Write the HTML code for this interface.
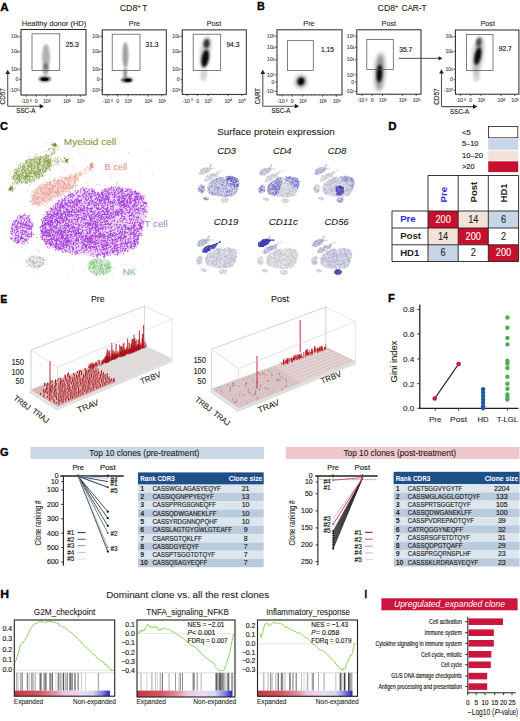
<!DOCTYPE html>
<html><head><meta charset="utf-8"><style>
html,body{margin:0;padding:0;background:#fff;}
svg{display:block;font-family:"Liberation Sans", sans-serif;}
</style></head><body>
<svg width="520" height="721" viewBox="0 0 520 721">
<defs>
<filter id="b1" x="-50%" y="-50%" width="200%" height="200%"><feGaussianBlur stdDeviation="1.2"/></filter>
<filter id="b2" x="-50%" y="-50%" width="200%" height="200%"><feGaussianBlur stdDeviation="2"/></filter>
<filter id="mb" x="-10%" y="-10%" width="120%" height="120%"><feGaussianBlur stdDeviation="1.6"/></filter>
<filter id="b05" x="-50%" y="-50%" width="200%" height="200%"><feGaussianBlur stdDeviation="0.6"/></filter>
<linearGradient id="gsea" x1="0" x2="1" y1="0" y2="0">
<stop offset="0" stop-color="#c83444"/><stop offset="0.25" stop-color="#d45462"/><stop offset="0.44" stop-color="#e298a8"/><stop offset="0.52" stop-color="#eec6e0"/><stop offset="0.7" stop-color="#eedaf0"/><stop offset="0.82" stop-color="#d6d6f4"/><stop offset="0.92" stop-color="#8080e0"/><stop offset="1" stop-color="#2424c4"/>
</linearGradient>
<g id="minigray"><path d="M108 240h0M90 202h0M99 227h0M124 195h0M127 194h0M107 193h0M61 200h0M98 235h0M138 206h0M78 196h0M71 229h0M75 207h0M130 220h0M73 220h0M117 188h0M122 247h0M79 227h0M59 241h0M76 210h0M97 242h0M49 240h0M127 249h0M106 253h0M76 253h0M99 207h0M73 197h0M83 201h0M104 246h0M89 215h0M132 193h0M109 243h0M49 216h0M54 247h0M70 218h0M92 239h0M91 205h0M83 194h0M94 209h0M126 249h0M78 243h0M125 236h0M112 241h0M78 237h0M69 220h0M124 236h0M111 227h0M65 234h0M90 245h0M110 244h0M76 232h0M121 246h0M77 247h0M136 236h0M96 223h0M56 247h0M143 220h0M115 238h0M120 196h0M126 227h0M113 215h0M108 242h0M109 238h0M87 233h0M62 235h0M91 200h0M73 197h0M90 212h0M106 228h0M64 252h0M69 214h0M50 246h0M107 190h0M99 209h0M130 215h0M129 232h0M79 194h0M105 226h0M106 210h0M49 226h0M107 194h0M108 251h0M80 216h0M63 205h0M105 203h0M84 208h0M70 219h0M51 230h0M87 206h0M126 246h0M126 202h0M106 219h0M110 229h0M121 192h0M123 206h0M98 209h0M71 224h0M90 211h0M122 228h0M89 253h0M138 225h0M86 227h0M117 231h0M92 252h0M81 213h0M134 198h0M71 246h0M116 216h0M70 243h0M140 194h0M91 225h0M93 208h0M54 228h0M63 246h0M127 234h0M117 187h0M133 200h0M118 194h0M54 230h0M84 196h0M49 212h0M102 240h0M137 193h0M86 207h0M105 220h0M144 212h0M43 236h0M54 231h0M94 252h0M100 230h0M67 225h0M66 240h0M96 193h0M64 211h0M121 197h0M118 233h0M47 234h0M104 201h0M137 220h0M74 244h0M130 194h0M108 210h0M64 209h0M107 210h0M81 194h0M131 232h0M128 216h0M134 223h0M104 227h0M121 213h0M138 220h0M90 251h0M107 216h0M90 191h0M80 213h0M137 195h0M66 204h0M55 205h0M64 220h0M115 234h0M91 255h0M50 234h0M70 234h0M120 196h0M78 207h0M90 205h0M120 238h0M110 216h0M96 210h0M139 221h0M66 214h0M57 222h0M83 224h0M49 224h0M142 229h0M134 200h0M92 227h0M80 231h0M119 253h0M72 217h0M131 200h0M47 242h0M130 207h0M86 227h0M117 187h0M60 205h0M79 191h0M85 207h0M122 226h0M139 233h0M123 227h0M87 245h0M120 237h0M67 245h0M80 193h0M67 235h0M124 226h0M52 210h0M106 201h0M86 211h0M103 246h0M119 191h0M97 196h0M118 217h0M141 218h0M86 217h0M105 191h0M129 215h0M92 250h0M82 200h0M68 199h0M101 210h0M122 202h0M77 202h0M133 230h0M82 194h0M131 220h0M48 238h0M139 198h0M127 208h0M115 249h0M108 244h0M95 228h0M58 213h0M72 212h0M91 237h0M116 234h0M98 244h0M78 228h0M114 223h0M103 241h0M118 207h0M142 204h0M118 189h0M123 234h0M115 247h0M121 230h0M61 223h0M139 201h0M81 197h0M111 252h0M140 230h0M81 192h0M115 225h0M118 212h0M138 199h0M72 204h0M108 251h0M56 231h0M124 200h0M44 226h0M120 215h0M85 223h0M140 206h0M69 229h0M101 229h0M104 232h0M115 239h0M44 220h0M73 248h0M110 254h0M63 236h0M132 219h0M54 230h0M49 241h0M121 245h0M128 237h0M79 218h0M114 240h0M47 214h0M99 212h0M50 229h0M79 235h0M123 238h0M91 210h0M121 253h0M80 205h0M94 236h0M127 227h0M71 209h0M133 223h0M64 234h0M48 220h0M81 254h0M47 210h0M124 211h0M89 212h0M87 219h0M82 242h0M86 228h0M139 232h0M84 250h0M123 251h0M54 243h0M85 204h0M90 205h0M113 193h0M56 218h0M105 194h0M58 216h0M67 241h0M79 242h0M54 223h0M110 212h0M79 220h0M64 226h0M67 225h0M120 193h0M92 237h0M85 222h0M106 243h0M43 221h0M71 217h0M111 253h0M79 224h0M71 196h0M88 239h0M97 213h0M142 206h0M100 246h0M53 210h0M93 226h0M61 218h0M76 194h0M147 203h0M68 243h0M121 203h0M131 231h0M81 231h0M65 203h0M136 217h0M139 197h0M121 226h0M131 221h0M104 192h0M119 230h0M106 200h0M44 235h0M89 233h0M138 238h0M45 232h0M133 192h0M123 203h0M123 222h0M139 219h0M85 230h0M111 197h0M53 221h0M115 217h0M102 253h0M93 224h0M139 225h0M112 215h0M126 247h0M66 210h0M138 203h0M108 232h0M124 209h0M49 231h0M133 228h0M81 232h0M119 203h0M83 208h0M118 214h0M71 197h0M139 222h0M49 215h0M101 205h0M49 222h0M90 191h0M124 192h0M87 204h0M86 199h0M95 253h0M80 231h0M141 208h0M129 223h0M144 219h0M87 253h0M102 221h0M69 240h0M66 219h0M123 229h0M116 239h0M47 217h0M107 248h0M56 236h0M49 227h0M66 210h0M43 238h0M51 241h0M75 228h0M110 220h0M69 209h0M137 193h0M85 215h0M111 241h0M144 207h0M134 233h0M85 247h0M114 209h0M120 222h0M118 230h0M127 195h0M127 242h0M98 220h0M64 246h0M111 213h0M110 201h0M112 227h0M121 222h0M86 207h0M120 212h0M105 241h0M87 235h0M132 194h0M124 191h0M89 217h0M128 219h0M127 242h0M108 247h0M107 238h0M134 230h0M48 211h0M71 239h0M81 196h0M115 200h0M83 218h0M89 242h0M116 249h0M115 241h0M127 215h0M112 233h0M137 237h0M87 198h0M74 202h0M114 242h0M59 224h0M132 211h0M48 229h0M78 194h0M54 216h0M99 256h0M132 208h0M44 229h0M123 220h0M128 218h0M141 229h0M98 196h0M85 217h0M130 201h0M70 245h0M45 224h0M62 234h0M104 190h0M120 214h0M73 248h0M125 207h0M114 193h0M110 253h0M95 219h0M87 195h0M69 217h0M45 234h0M65 205h0M143 205h0M76 199h0M114 218h0M74 235h0M88 249h0M69 203h0M130 221h0M76 222h0M133 227h0M88 233h0M107 214h0M85 193h0M87 250h0M72 211h0M105 228h0M57 217h0M49 241h0M46 231h0M69 233h0M55 209h0M116 222h0M134 247h0M107 248h0M57 219h0M73 231h0M79 243h0M81 248h0M122 238h0M89 204h0M57 215h0M143 214h0M66 230h0M87 230h0M89 205h0M112 202h0M94 227h0M94 252h0M125 207h0M75 230h0M42 221h0M68 223h0M62 218h0M72 202h0M126 203h0M56 204h0M119 221h0M133 248h0M120 239h0M140 226h0M81 227h0M67 218h0M65 211h0M132 240h0M104 208h0M82 207h0M109 248h0M30 222h0M24 219h0M27 232h0M16 237h0M11 232h0M28 237h0M22 242h0M26 236h0M21 231h0M18 228h0M23 241h0M16 231h0M25 235h0M17 221h0M21 233h0M26 216h0M20 231h0M22 222h0M13 225h0M18 236h0M14 221h0M15 228h0M22 216h0M27 237h0M21 230h0M22 235h0M17 236h0M18 233h0M25 235h0M28 236h0M14 233h0M29 219h0M22 230h0M28 239h0M20 231h0M26 230h0M12 229h0M25 236h0M17 239h0M23 235h0M32 170h0M39 172h0M24 170h0M51 163h0M23 180h0M20 175h0M31 164h0M21 166h0M26 162h0M23 174h0M33 163h0M16 179h0M44 171h0M49 164h0M50 168h0M29 171h0M30 164h0M23 179h0M21 167h0M33 176h0M40 171h0M40 165h0M32 161h0M48 169h0M23 177h0M18 168h0M32 179h0M48 169h0M49 163h0M25 165h0M33 166h0M22 167h0M37 169h0M42 168h0M25 167h0M22 179h0M32 159h0M20 175h0M26 163h0M23 173h0M32 170h0M40 169h0M37 173h0M18 167h0M40 164h0M26 168h0M41 161h0M36 175h0M23 183h0M37 177h0M16 181h0M23 174h0M43 164h0M22 165h0M31 172h0M39 162h0M36 173h0M32 167h0M31 166h0M44 172h0M33 178h0M34 173h0M16 177h0M44 166h0M16 178h0M19 175h0M41 163h0M45 173h0M42 168h0M36 164h0M20 172h0M37 170h0M39 174h0M28 162h0M40 166h0M26 176h0M39 170h0M46 164h0M25 178h0M40 168h0M49 160h0M46 171h0M39 175h0M48 159h0M32 178h0M22 177h0M20 174h0M21 170h0M40 164h0M36 171h0M45 172h0M38 172h0M31 163h0M30 161h0M42 166h0M31 176h0M22 173h0M34 168h0M51 162h0M26 181h0M18 168h0M40 171h0M33 162h0M44 162h0M49 169h0M34 162h0M43 166h0M22 167h0M26 173h0M40 176h0M65 162h0M52 164h0M63 159h0M55 161h0M49 163h0M50 161h0M56 161h0M51 160h0M54 163h0M58 162h0M52 155h0M48 157h0M50 155h0M53 148h0M55 151h0M43 161h0M54 152h0M54 146h0M54 153h0M53 152h0M54 152h0M49 151h0M53 184h0M71 177h0M61 186h0M53 193h0M75 181h0M70 187h0M38 202h0M59 180h0M46 192h0M57 183h0M65 182h0M48 197h0M48 201h0M40 187h0M60 183h0M64 182h0M68 185h0M74 188h0M45 189h0M74 178h0M46 199h0M52 196h0M55 186h0M36 203h0M44 186h0M67 183h0M54 189h0M39 190h0M38 196h0M66 185h0M42 187h0M51 187h0M36 203h0M62 185h0M65 182h0M68 183h0M66 176h0M57 185h0M53 183h0M51 191h0M74 185h0M61 179h0M54 184h0M54 195h0M64 182h0M40 187h0M55 186h0M52 198h0M55 187h0M59 182h0M64 188h0M66 185h0M62 179h0M54 190h0M36 202h0M56 193h0M62 190h0M46 199h0M62 180h0M56 179h0M56 194h0M53 181h0M52 185h0M41 201h0M49 193h0M51 191h0M67 183h0M36 194h0M42 185h0M52 192h0M44 192h0M43 187h0M72 187h0M66 188h0M49 201h0M44 194h0M36 199h0M32 201h0M43 200h0M55 181h0M81 171h0M77 175h0M74 179h0M75 174h0M75 174h0M73 177h0M80 174h0M91 167h0M72 178h0M92 167h0M101 267h0M94 274h0M93 273h0M93 272h0M104 263h0M90 265h0M106 263h0M102 260h0M102 266h0M97 272h0M102 271h0M98 264h0M95 261h0M94 272h0M99 272h0M88 269h0M109 262h0M108 273h0M110 266h0M106 272h0M109 267h0M111 267h0M89 269h0M89 263h0M102 267h0M104 274h0M95 273h0M94 269h0M102 265h0M109 265h0M27 259h0M43 265h0M33 266h0M40 263h0M43 263h0M37 258h0M28 261h0M30 262h0M45 263h0M40 266h0M39 258h0M39 266h0M38 259h0M35 263h0M37 260h0M30 261h0M38 264h0M28 259h0M33 260h0M42 266h0" stroke="#c6c6cc" stroke-width="2.8" stroke-linecap="round" fill="none"/></g>
<g id="minibase"><polygon points="41.5,222.3 46.0,211.5 58.5,200.8 70.8,193.0 83.0,188.5 92.0,188.0 99.0,193.0 106.0,188.0 117.0,186.3 132.3,190.0 144.6,196.2 147.5,205.4 145.5,219.2 141.5,234.6 135.4,247.0 123.0,253.0 101.5,256.2 80.0,254.6 61.5,251.5 46.0,245.4 40.0,234.6" fill="#ebebef" filter="url(#b2)"/><polygon points="11.0,228.0 15.0,219.0 22.0,214.0 29.0,216.0 33.0,224.0 32.0,235.0 26.0,243.0 17.0,244.0 11.0,238.0" fill="#ebebef" filter="url(#b2)"/><polygon points="50.7,160.5 51.3,163.8 49.9,167.8 46.9,172.0 42.3,176.0 36.8,179.4 30.8,181.8 24.9,183.2 19.7,183.2 15.7,182.0 13.3,179.5 12.7,176.2 14.1,172.2 17.1,168.0 21.7,164.0 27.2,160.6 33.2,158.2 39.1,156.8 44.3,156.8 48.3,158.0" fill="#ebebef" filter="url(#b2)"/><polygon points="47.0,160.0 58.0,159.0 66.0,159.0 67.0,162.0 58.0,163.0 47.0,165.0" fill="#ebebef" filter="url(#b2)"/><polygon points="42.0,162.0 48.0,152.0 53.0,145.0 57.0,145.0 55.0,152.0 49.0,163.0" fill="#ebebef" filter="url(#b2)"/><polygon points="31.5,203.0 32.5,193.0 41.0,185.0 55.4,179.5 70.8,175.0 78.0,178.5 76.0,187.0 63.0,194.0 50.0,200.5 39.0,206.5" fill="#ebebef" filter="url(#b2)"/><polygon points="70.0,176.5 80.0,171.5 89.0,166.0 92.0,165.0 93.0,167.5 84.0,173.0 76.0,180.0" fill="#ebebef" filter="url(#b2)"/><polygon points="88.0,262.0 94.0,259.0 104.0,258.5 111.0,262.0 112.0,270.0 106.0,275.0 95.0,275.0 88.0,270.0" fill="#ebebef" filter="url(#b2)"/><polygon points="26.0,259.0 33.0,256.0 43.0,257.0 46.0,262.0 42.0,267.0 33.0,268.0 27.0,265.0" fill="#ebebef" filter="url(#b2)"/></g>
</defs>
<rect x="0" y="0" width="520" height="721" fill="#fff"/>
<text x="0.3" y="10.6" font-size="11.8" font-weight="bold" fill="#000" stroke="#000" stroke-width="0.35" textLength="8.4" lengthAdjust="spacingAndGlyphs">A</text>
<text x="257" y="10.4" font-size="11.8" font-weight="bold" fill="#000" stroke="#000" stroke-width="0.35" textLength="7.8" lengthAdjust="spacingAndGlyphs">B</text>
<text x="119.8" y="11.2" font-size="8.3" fill="#231f20" stroke="#231f20" stroke-width="0.1" textLength="17.5" lengthAdjust="spacingAndGlyphs">CD8</text>
<text x="137.5" y="7.5" font-size="5" fill="#231f20" stroke="#231f20" stroke-width="0.16">+</text>
<text x="142.2" y="11.2" font-size="8.3" fill="#231f20" stroke="#231f20" stroke-width="0.1">T</text>
<text x="377.6" y="11.2" font-size="8.3" fill="#231f20" stroke="#231f20" stroke-width="0.1" textLength="17.5" lengthAdjust="spacingAndGlyphs">CD8</text>
<text x="395.3" y="7.5" font-size="5" fill="#231f20" stroke="#231f20" stroke-width="0.16">+</text>
<text x="401.5" y="11.2" font-size="8.3" fill="#231f20" stroke="#231f20" stroke-width="0.1" textLength="25" lengthAdjust="spacingAndGlyphs">CAR-T</text>
<ellipse cx="46" cy="57" rx="4.0" ry="13" fill="#000" opacity="0.3" filter="url(#b1)" transform="rotate(0 46 57)"/>
<ellipse cx="45.6" cy="69" rx="3.2" ry="6" fill="#000" opacity="0.35" filter="url(#b1)" transform="rotate(0 45.6 69)"/>
<ellipse cx="44.8" cy="79" rx="6.2" ry="2.8" fill="#000" opacity="0.7" filter="url(#b1)" transform="rotate(0 44.8 79)"/>
<ellipse cx="44.6" cy="79.2" rx="3.6" ry="1.6" fill="#000" opacity="1.0" filter="url(#b05)" transform="rotate(0 44.6 79.2)"/>
<rect x="21" y="29.5" width="65" height="65.5" fill="none" stroke="#262626" stroke-width="1"/>
<rect x="32" y="33.8" width="27.700000000000003" height="36.7" fill="none" stroke="#555" stroke-width="0.75"/>
<text x="65.7" y="46.8" font-size="6.7" fill="#231f20" stroke="#231f20" stroke-width="0.16">25.3</text>
<text x="54" y="25.5" font-size="7.6" text-anchor="middle" fill="#231f20" stroke="#231f20" stroke-width="0.1" textLength="64.5" lengthAdjust="spacingAndGlyphs">Healthy donor (HD)</text>
<line x1="19.2" y1="36.4" x2="21" y2="36.4" stroke="#333" stroke-width="0.8"/>
<text x="18.4" y="37.6" font-size="3.12" text-anchor="end" fill="#555" stroke="#555" stroke-width="0.16">5</text>
<text x="16.799999999999997" y="38.0" font-size="5.2" text-anchor="end" fill="#555" stroke="#555" stroke-width="0.16">10</text>
<line x1="19.2" y1="51.7" x2="21" y2="51.7" stroke="#333" stroke-width="0.8"/>
<text x="18.4" y="52.900000000000006" font-size="3.12" text-anchor="end" fill="#555" stroke="#555" stroke-width="0.16">4</text>
<text x="16.799999999999997" y="53.300000000000004" font-size="5.2" text-anchor="end" fill="#555" stroke="#555" stroke-width="0.16">10</text>
<line x1="19.2" y1="69.3" x2="21" y2="69.3" stroke="#333" stroke-width="0.8"/>
<text x="18.4" y="70.5" font-size="3.12" text-anchor="end" fill="#555" stroke="#555" stroke-width="0.16">3</text>
<text x="16.799999999999997" y="70.89999999999999" font-size="5.2" text-anchor="end" fill="#555" stroke="#555" stroke-width="0.16">10</text>
<line x1="19.2" y1="79.7" x2="21" y2="79.7" stroke="#333" stroke-width="0.8"/>
<text x="18.4" y="81.3" font-size="5.2" text-anchor="end" fill="#555" stroke="#555" stroke-width="0.16">0</text>
<line x1="19.2" y1="90.0" x2="21" y2="90.0" stroke="#333" stroke-width="0.8"/>
<text x="18.4" y="91.2" font-size="3.12" text-anchor="end" fill="#555" stroke="#555" stroke-width="0.16">3</text>
<text x="16.799999999999997" y="91.6" font-size="5.2" text-anchor="end" fill="#555" stroke="#555" stroke-width="0.16">-10</text>
<line x1="20.0" y1="32.5" x2="21" y2="32.5" stroke="#555" stroke-width="0.5"/>
<line x1="20.0" y1="37.07692307692308" x2="21" y2="37.07692307692308" stroke="#555" stroke-width="0.5"/>
<line x1="20.0" y1="41.65384615384615" x2="21" y2="41.65384615384615" stroke="#555" stroke-width="0.5"/>
<line x1="20.0" y1="46.230769230769226" x2="21" y2="46.230769230769226" stroke="#555" stroke-width="0.5"/>
<line x1="20.0" y1="50.80769230769231" x2="21" y2="50.80769230769231" stroke="#555" stroke-width="0.5"/>
<line x1="20.0" y1="55.38461538461539" x2="21" y2="55.38461538461539" stroke="#555" stroke-width="0.5"/>
<line x1="20.0" y1="59.96153846153846" x2="21" y2="59.96153846153846" stroke="#555" stroke-width="0.5"/>
<line x1="20.0" y1="64.53846153846155" x2="21" y2="64.53846153846155" stroke="#555" stroke-width="0.5"/>
<line x1="20.0" y1="69.11538461538461" x2="21" y2="69.11538461538461" stroke="#555" stroke-width="0.5"/>
<line x1="20.0" y1="73.6923076923077" x2="21" y2="73.6923076923077" stroke="#555" stroke-width="0.5"/>
<line x1="20.0" y1="78.26923076923077" x2="21" y2="78.26923076923077" stroke="#555" stroke-width="0.5"/>
<line x1="20.0" y1="82.84615384615384" x2="21" y2="82.84615384615384" stroke="#555" stroke-width="0.5"/>
<line x1="20.0" y1="87.42307692307692" x2="21" y2="87.42307692307692" stroke="#555" stroke-width="0.5"/>
<line x1="20.0" y1="92.0" x2="21" y2="92.0" stroke="#555" stroke-width="0.5"/>
<line x1="26" y1="95" x2="26" y2="96.8" stroke="#333" stroke-width="0.8"/>
<text x="21.109999999999996" y="103.19999999999999" font-size="5.2" fill="#555" stroke="#555" stroke-width="0.16">-10</text>
<text x="29.689999999999998" y="101.8" font-size="3.12" fill="#555" stroke="#555" stroke-width="0.16">3</text>
<line x1="36.3" y1="95" x2="36.3" y2="96.8" stroke="#333" stroke-width="0.8"/>
<text x="36.3" y="103.19999999999999" font-size="5.2" text-anchor="middle" fill="#555" stroke="#555" stroke-width="0.16">0</text>
<line x1="46.7" y1="95" x2="46.7" y2="96.8" stroke="#333" stroke-width="0.8"/>
<text x="43.24" y="103.19999999999999" font-size="5.2" fill="#555" stroke="#555" stroke-width="0.16">10</text>
<text x="48.96" y="101.8" font-size="3.12" fill="#555" stroke="#555" stroke-width="0.16">3</text>
<line x1="66.6" y1="95" x2="66.6" y2="96.8" stroke="#333" stroke-width="0.8"/>
<text x="63.14" y="103.19999999999999" font-size="5.2" fill="#555" stroke="#555" stroke-width="0.16">10</text>
<text x="68.86" y="101.8" font-size="3.12" fill="#555" stroke="#555" stroke-width="0.16">4</text>
<line x1="80.4" y1="95" x2="80.4" y2="96.8" stroke="#333" stroke-width="0.8"/>
<text x="76.94000000000001" y="103.19999999999999" font-size="5.2" fill="#555" stroke="#555" stroke-width="0.16">10</text>
<text x="82.66000000000001" y="101.8" font-size="3.12" fill="#555" stroke="#555" stroke-width="0.16">5</text>
<line x1="24.0" y1="95" x2="24.0" y2="96.0" stroke="#555" stroke-width="0.5"/>
<line x1="27.933333333333334" y1="95" x2="27.933333333333334" y2="96.0" stroke="#555" stroke-width="0.5"/>
<line x1="31.866666666666667" y1="95" x2="31.866666666666667" y2="96.0" stroke="#555" stroke-width="0.5"/>
<line x1="35.8" y1="95" x2="35.8" y2="96.0" stroke="#555" stroke-width="0.5"/>
<line x1="39.733333333333334" y1="95" x2="39.733333333333334" y2="96.0" stroke="#555" stroke-width="0.5"/>
<line x1="43.66666666666667" y1="95" x2="43.66666666666667" y2="96.0" stroke="#555" stroke-width="0.5"/>
<line x1="47.6" y1="95" x2="47.6" y2="96.0" stroke="#555" stroke-width="0.5"/>
<line x1="51.53333333333333" y1="95" x2="51.53333333333333" y2="96.0" stroke="#555" stroke-width="0.5"/>
<line x1="55.46666666666667" y1="95" x2="55.46666666666667" y2="96.0" stroke="#555" stroke-width="0.5"/>
<line x1="59.4" y1="95" x2="59.4" y2="96.0" stroke="#555" stroke-width="0.5"/>
<line x1="63.333333333333336" y1="95" x2="63.333333333333336" y2="96.0" stroke="#555" stroke-width="0.5"/>
<line x1="67.26666666666667" y1="95" x2="67.26666666666667" y2="96.0" stroke="#555" stroke-width="0.5"/>
<line x1="71.2" y1="95" x2="71.2" y2="96.0" stroke="#555" stroke-width="0.5"/>
<line x1="75.13333333333333" y1="95" x2="75.13333333333333" y2="96.0" stroke="#555" stroke-width="0.5"/>
<line x1="79.06666666666666" y1="95" x2="79.06666666666666" y2="96.0" stroke="#555" stroke-width="0.5"/>
<line x1="83.0" y1="95" x2="83.0" y2="96.0" stroke="#555" stroke-width="0.5"/>
<ellipse cx="125.4" cy="55" rx="3.0" ry="13" fill="#000" opacity="0.38" filter="url(#b1)" transform="rotate(0 125.4 55)"/>
<ellipse cx="125.2" cy="73" rx="1.8" ry="5" fill="#000" opacity="0.45" filter="url(#b1)" transform="rotate(0 125.2 73)"/>
<ellipse cx="127" cy="80" rx="6.0" ry="2.6" fill="#000" opacity="0.75" filter="url(#b1)" transform="rotate(0 127 80)"/>
<ellipse cx="128" cy="80.2" rx="3.2" ry="1.5" fill="#000" opacity="1.0" filter="url(#b05)" transform="rotate(0 128 80.2)"/>
<rect x="102.3" y="29.9" width="64.00000000000001" height="64.80000000000001" fill="none" stroke="#262626" stroke-width="1"/>
<rect x="112.2" y="34.2" width="27.799999999999997" height="36.3" fill="none" stroke="#555" stroke-width="0.75"/>
<text x="145.5" y="47" font-size="6.7" fill="#231f20" stroke="#231f20" stroke-width="0.16">31.3</text>
<text x="134.5" y="25.5" font-size="7.6" text-anchor="middle" fill="#231f20" stroke="#231f20" stroke-width="0.1" textLength="11.3" lengthAdjust="spacingAndGlyphs">Pre</text>
<line x1="100.5" y1="36.4" x2="102.3" y2="36.4" stroke="#333" stroke-width="0.8"/>
<text x="99.7" y="37.6" font-size="3.12" text-anchor="end" fill="#555" stroke="#555" stroke-width="0.16">5</text>
<text x="98.10000000000001" y="38.0" font-size="5.2" text-anchor="end" fill="#555" stroke="#555" stroke-width="0.16">10</text>
<line x1="100.5" y1="51.7" x2="102.3" y2="51.7" stroke="#333" stroke-width="0.8"/>
<text x="99.7" y="52.900000000000006" font-size="3.12" text-anchor="end" fill="#555" stroke="#555" stroke-width="0.16">4</text>
<text x="98.10000000000001" y="53.300000000000004" font-size="5.2" text-anchor="end" fill="#555" stroke="#555" stroke-width="0.16">10</text>
<line x1="100.5" y1="69.3" x2="102.3" y2="69.3" stroke="#333" stroke-width="0.8"/>
<text x="99.7" y="70.5" font-size="3.12" text-anchor="end" fill="#555" stroke="#555" stroke-width="0.16">3</text>
<text x="98.10000000000001" y="70.89999999999999" font-size="5.2" text-anchor="end" fill="#555" stroke="#555" stroke-width="0.16">10</text>
<line x1="100.5" y1="79.7" x2="102.3" y2="79.7" stroke="#333" stroke-width="0.8"/>
<text x="99.7" y="81.3" font-size="5.2" text-anchor="end" fill="#555" stroke="#555" stroke-width="0.16">0</text>
<line x1="100.5" y1="90.0" x2="102.3" y2="90.0" stroke="#333" stroke-width="0.8"/>
<text x="99.7" y="91.2" font-size="3.12" text-anchor="end" fill="#555" stroke="#555" stroke-width="0.16">3</text>
<text x="98.10000000000001" y="91.6" font-size="5.2" text-anchor="end" fill="#555" stroke="#555" stroke-width="0.16">-10</text>
<line x1="101.3" y1="32.9" x2="102.3" y2="32.9" stroke="#555" stroke-width="0.5"/>
<line x1="101.3" y1="37.42307692307692" x2="102.3" y2="37.42307692307692" stroke="#555" stroke-width="0.5"/>
<line x1="101.3" y1="41.94615384615385" x2="102.3" y2="41.94615384615385" stroke="#555" stroke-width="0.5"/>
<line x1="101.3" y1="46.46923076923077" x2="102.3" y2="46.46923076923077" stroke="#555" stroke-width="0.5"/>
<line x1="101.3" y1="50.99230769230769" x2="102.3" y2="50.99230769230769" stroke="#555" stroke-width="0.5"/>
<line x1="101.3" y1="55.51538461538462" x2="102.3" y2="55.51538461538462" stroke="#555" stroke-width="0.5"/>
<line x1="101.3" y1="60.03846153846155" x2="102.3" y2="60.03846153846155" stroke="#555" stroke-width="0.5"/>
<line x1="101.3" y1="64.56153846153846" x2="102.3" y2="64.56153846153846" stroke="#555" stroke-width="0.5"/>
<line x1="101.3" y1="69.08461538461539" x2="102.3" y2="69.08461538461539" stroke="#555" stroke-width="0.5"/>
<line x1="101.3" y1="73.6076923076923" x2="102.3" y2="73.6076923076923" stroke="#555" stroke-width="0.5"/>
<line x1="101.3" y1="78.13076923076923" x2="102.3" y2="78.13076923076923" stroke="#555" stroke-width="0.5"/>
<line x1="101.3" y1="82.65384615384616" x2="102.3" y2="82.65384615384616" stroke="#555" stroke-width="0.5"/>
<line x1="101.3" y1="87.17692307692309" x2="102.3" y2="87.17692307692309" stroke="#555" stroke-width="0.5"/>
<line x1="101.3" y1="91.7" x2="102.3" y2="91.7" stroke="#555" stroke-width="0.5"/>
<line x1="107.3" y1="94.7" x2="107.3" y2="96.5" stroke="#333" stroke-width="0.8"/>
<text x="102.41000000000001" y="102.89999999999999" font-size="5.2" fill="#555" stroke="#555" stroke-width="0.16">-10</text>
<text x="110.99000000000001" y="101.5" font-size="3.12" fill="#555" stroke="#555" stroke-width="0.16">3</text>
<line x1="117.6" y1="94.7" x2="117.6" y2="96.5" stroke="#333" stroke-width="0.8"/>
<text x="117.6" y="102.89999999999999" font-size="5.2" text-anchor="middle" fill="#555" stroke="#555" stroke-width="0.16">0</text>
<line x1="128.0" y1="94.7" x2="128.0" y2="96.5" stroke="#333" stroke-width="0.8"/>
<text x="124.54000000000002" y="102.89999999999999" font-size="5.2" fill="#555" stroke="#555" stroke-width="0.16">10</text>
<text x="130.26000000000002" y="101.5" font-size="3.12" fill="#555" stroke="#555" stroke-width="0.16">3</text>
<line x1="147.9" y1="94.7" x2="147.9" y2="96.5" stroke="#333" stroke-width="0.8"/>
<text x="144.44000000000003" y="102.89999999999999" font-size="5.2" fill="#555" stroke="#555" stroke-width="0.16">10</text>
<text x="150.16000000000003" y="101.5" font-size="3.12" fill="#555" stroke="#555" stroke-width="0.16">4</text>
<line x1="161.7" y1="94.7" x2="161.7" y2="96.5" stroke="#333" stroke-width="0.8"/>
<text x="158.24" y="102.89999999999999" font-size="5.2" fill="#555" stroke="#555" stroke-width="0.16">10</text>
<text x="163.96" y="101.5" font-size="3.12" fill="#555" stroke="#555" stroke-width="0.16">5</text>
<line x1="105.3" y1="94.7" x2="105.3" y2="95.7" stroke="#555" stroke-width="0.5"/>
<line x1="109.16666666666667" y1="94.7" x2="109.16666666666667" y2="95.7" stroke="#555" stroke-width="0.5"/>
<line x1="113.03333333333333" y1="94.7" x2="113.03333333333333" y2="95.7" stroke="#555" stroke-width="0.5"/>
<line x1="116.9" y1="94.7" x2="116.9" y2="95.7" stroke="#555" stroke-width="0.5"/>
<line x1="120.76666666666667" y1="94.7" x2="120.76666666666667" y2="95.7" stroke="#555" stroke-width="0.5"/>
<line x1="124.63333333333333" y1="94.7" x2="124.63333333333333" y2="95.7" stroke="#555" stroke-width="0.5"/>
<line x1="128.5" y1="94.7" x2="128.5" y2="95.7" stroke="#555" stroke-width="0.5"/>
<line x1="132.36666666666667" y1="94.7" x2="132.36666666666667" y2="95.7" stroke="#555" stroke-width="0.5"/>
<line x1="136.23333333333335" y1="94.7" x2="136.23333333333335" y2="95.7" stroke="#555" stroke-width="0.5"/>
<line x1="140.1" y1="94.7" x2="140.1" y2="95.7" stroke="#555" stroke-width="0.5"/>
<line x1="143.96666666666667" y1="94.7" x2="143.96666666666667" y2="95.7" stroke="#555" stroke-width="0.5"/>
<line x1="147.83333333333334" y1="94.7" x2="147.83333333333334" y2="95.7" stroke="#555" stroke-width="0.5"/>
<line x1="151.70000000000002" y1="94.7" x2="151.70000000000002" y2="95.7" stroke="#555" stroke-width="0.5"/>
<line x1="155.56666666666666" y1="94.7" x2="155.56666666666666" y2="95.7" stroke="#555" stroke-width="0.5"/>
<line x1="159.43333333333334" y1="94.7" x2="159.43333333333334" y2="95.7" stroke="#555" stroke-width="0.5"/>
<line x1="163.3" y1="94.7" x2="163.3" y2="95.7" stroke="#555" stroke-width="0.5"/>
<ellipse cx="206.6" cy="43.5" rx="3.0" ry="4.5" fill="#000" opacity="0.75" filter="url(#b1)" transform="rotate(8 206.6 43.5)"/>
<ellipse cx="205.2" cy="58.5" rx="3.6" ry="9" fill="#000" opacity="0.95" filter="url(#b1)" transform="rotate(10 205.2 58.5)"/>
<ellipse cx="205.5" cy="52" rx="4.5" ry="16" fill="#000" opacity="0.25" filter="url(#b2)" transform="rotate(8 205.5 52)"/>
<ellipse cx="203.8" cy="75" rx="3.6" ry="6" fill="#000" opacity="0.16" filter="url(#b1)" transform="rotate(6 203.8 75)"/>
<rect x="182.3" y="29.9" width="64.0" height="64.5" fill="none" stroke="#262626" stroke-width="1"/>
<rect x="193.2" y="34.2" width="27.5" height="36.3" fill="none" stroke="#555" stroke-width="0.75"/>
<text x="226.4" y="47" font-size="6.7" fill="#231f20" stroke="#231f20" stroke-width="0.16">94.3</text>
<text x="214" y="25.5" font-size="7.6" text-anchor="middle" fill="#231f20" stroke="#231f20" stroke-width="0.1" textLength="14.5" lengthAdjust="spacingAndGlyphs">Post</text>
<line x1="180.5" y1="36.4" x2="182.3" y2="36.4" stroke="#333" stroke-width="0.8"/>
<text x="179.70000000000002" y="37.6" font-size="3.12" text-anchor="end" fill="#555" stroke="#555" stroke-width="0.16">5</text>
<text x="178.10000000000002" y="38.0" font-size="5.2" text-anchor="end" fill="#555" stroke="#555" stroke-width="0.16">10</text>
<line x1="180.5" y1="51.7" x2="182.3" y2="51.7" stroke="#333" stroke-width="0.8"/>
<text x="179.70000000000002" y="52.900000000000006" font-size="3.12" text-anchor="end" fill="#555" stroke="#555" stroke-width="0.16">4</text>
<text x="178.10000000000002" y="53.300000000000004" font-size="5.2" text-anchor="end" fill="#555" stroke="#555" stroke-width="0.16">10</text>
<line x1="180.5" y1="69.3" x2="182.3" y2="69.3" stroke="#333" stroke-width="0.8"/>
<text x="179.70000000000002" y="70.5" font-size="3.12" text-anchor="end" fill="#555" stroke="#555" stroke-width="0.16">3</text>
<text x="178.10000000000002" y="70.89999999999999" font-size="5.2" text-anchor="end" fill="#555" stroke="#555" stroke-width="0.16">10</text>
<line x1="180.5" y1="79.7" x2="182.3" y2="79.7" stroke="#333" stroke-width="0.8"/>
<text x="179.70000000000002" y="81.3" font-size="5.2" text-anchor="end" fill="#555" stroke="#555" stroke-width="0.16">0</text>
<line x1="180.5" y1="90.0" x2="182.3" y2="90.0" stroke="#333" stroke-width="0.8"/>
<text x="179.70000000000002" y="91.2" font-size="3.12" text-anchor="end" fill="#555" stroke="#555" stroke-width="0.16">3</text>
<text x="178.10000000000002" y="91.6" font-size="5.2" text-anchor="end" fill="#555" stroke="#555" stroke-width="0.16">-10</text>
<line x1="181.3" y1="32.9" x2="182.3" y2="32.9" stroke="#555" stroke-width="0.5"/>
<line x1="181.3" y1="37.4" x2="182.3" y2="37.4" stroke="#555" stroke-width="0.5"/>
<line x1="181.3" y1="41.9" x2="182.3" y2="41.9" stroke="#555" stroke-width="0.5"/>
<line x1="181.3" y1="46.4" x2="182.3" y2="46.4" stroke="#555" stroke-width="0.5"/>
<line x1="181.3" y1="50.9" x2="182.3" y2="50.9" stroke="#555" stroke-width="0.5"/>
<line x1="181.3" y1="55.4" x2="182.3" y2="55.4" stroke="#555" stroke-width="0.5"/>
<line x1="181.3" y1="59.9" x2="182.3" y2="59.9" stroke="#555" stroke-width="0.5"/>
<line x1="181.3" y1="64.4" x2="182.3" y2="64.4" stroke="#555" stroke-width="0.5"/>
<line x1="181.3" y1="68.9" x2="182.3" y2="68.9" stroke="#555" stroke-width="0.5"/>
<line x1="181.3" y1="73.4" x2="182.3" y2="73.4" stroke="#555" stroke-width="0.5"/>
<line x1="181.3" y1="77.9" x2="182.3" y2="77.9" stroke="#555" stroke-width="0.5"/>
<line x1="181.3" y1="82.4" x2="182.3" y2="82.4" stroke="#555" stroke-width="0.5"/>
<line x1="181.3" y1="86.9" x2="182.3" y2="86.9" stroke="#555" stroke-width="0.5"/>
<line x1="181.3" y1="91.4" x2="182.3" y2="91.4" stroke="#555" stroke-width="0.5"/>
<line x1="187.3" y1="94.4" x2="187.3" y2="96.2" stroke="#333" stroke-width="0.8"/>
<text x="182.41" y="102.6" font-size="5.2" fill="#555" stroke="#555" stroke-width="0.16">-10</text>
<text x="190.99" y="101.2" font-size="3.12" fill="#555" stroke="#555" stroke-width="0.16">3</text>
<line x1="197.60000000000002" y1="94.4" x2="197.60000000000002" y2="96.2" stroke="#333" stroke-width="0.8"/>
<text x="197.60000000000002" y="102.6" font-size="5.2" text-anchor="middle" fill="#555" stroke="#555" stroke-width="0.16">0</text>
<line x1="208.0" y1="94.4" x2="208.0" y2="96.2" stroke="#333" stroke-width="0.8"/>
<text x="204.54000000000002" y="102.6" font-size="5.2" fill="#555" stroke="#555" stroke-width="0.16">10</text>
<text x="210.26000000000002" y="101.2" font-size="3.12" fill="#555" stroke="#555" stroke-width="0.16">3</text>
<line x1="227.9" y1="94.4" x2="227.9" y2="96.2" stroke="#333" stroke-width="0.8"/>
<text x="224.44000000000003" y="102.6" font-size="5.2" fill="#555" stroke="#555" stroke-width="0.16">10</text>
<text x="230.16000000000003" y="101.2" font-size="3.12" fill="#555" stroke="#555" stroke-width="0.16">4</text>
<line x1="241.70000000000002" y1="94.4" x2="241.70000000000002" y2="96.2" stroke="#333" stroke-width="0.8"/>
<text x="238.24000000000004" y="102.6" font-size="5.2" fill="#555" stroke="#555" stroke-width="0.16">10</text>
<text x="243.96000000000004" y="101.2" font-size="3.12" fill="#555" stroke="#555" stroke-width="0.16">5</text>
<line x1="185.3" y1="94.4" x2="185.3" y2="95.4" stroke="#555" stroke-width="0.5"/>
<line x1="189.16666666666669" y1="94.4" x2="189.16666666666669" y2="95.4" stroke="#555" stroke-width="0.5"/>
<line x1="193.03333333333333" y1="94.4" x2="193.03333333333333" y2="95.4" stroke="#555" stroke-width="0.5"/>
<line x1="196.9" y1="94.4" x2="196.9" y2="95.4" stroke="#555" stroke-width="0.5"/>
<line x1="200.76666666666668" y1="94.4" x2="200.76666666666668" y2="95.4" stroke="#555" stroke-width="0.5"/>
<line x1="204.63333333333335" y1="94.4" x2="204.63333333333335" y2="95.4" stroke="#555" stroke-width="0.5"/>
<line x1="208.5" y1="94.4" x2="208.5" y2="95.4" stroke="#555" stroke-width="0.5"/>
<line x1="212.36666666666667" y1="94.4" x2="212.36666666666667" y2="95.4" stroke="#555" stroke-width="0.5"/>
<line x1="216.23333333333335" y1="94.4" x2="216.23333333333335" y2="95.4" stroke="#555" stroke-width="0.5"/>
<line x1="220.10000000000002" y1="94.4" x2="220.10000000000002" y2="95.4" stroke="#555" stroke-width="0.5"/>
<line x1="223.96666666666667" y1="94.4" x2="223.96666666666667" y2="95.4" stroke="#555" stroke-width="0.5"/>
<line x1="227.83333333333334" y1="94.4" x2="227.83333333333334" y2="95.4" stroke="#555" stroke-width="0.5"/>
<line x1="231.70000000000002" y1="94.4" x2="231.70000000000002" y2="95.4" stroke="#555" stroke-width="0.5"/>
<line x1="235.56666666666666" y1="94.4" x2="235.56666666666666" y2="95.4" stroke="#555" stroke-width="0.5"/>
<line x1="239.43333333333334" y1="94.4" x2="239.43333333333334" y2="95.4" stroke="#555" stroke-width="0.5"/>
<line x1="243.3" y1="94.4" x2="243.3" y2="95.4" stroke="#555" stroke-width="0.5"/>
<line x1="7.7" y1="106.3" x2="7.7" y2="73.8" stroke="#555" stroke-width="1.1"/>
<path d="M5.300000000000001,74.1 L7.7,69.8 L10.1,74.1 Z" stroke="none" fill="#231f20" stroke-width="1"/>
<line x1="7.7" y1="106.3" x2="40.0" y2="106.3" stroke="#555" stroke-width="1.1"/>
<path d="M39.7,103.89999999999999 L44.0,106.3 L39.7,108.7 Z" stroke="none" fill="#231f20" stroke-width="1"/>
<text x="16.3" y="113.2" font-size="6.8" fill="#231f20" stroke="#231f20" stroke-width="0.16" textLength="19" lengthAdjust="spacingAndGlyphs">SSC-A</text>
<text x="5.1" y="96.3" font-size="6.6" text-anchor="middle" fill="#231f20" stroke="#231f20" stroke-width="0.16" textLength="16.3" lengthAdjust="spacingAndGlyphs" transform="rotate(-90 5.1 96.3)">CD57</text>
<ellipse cx="301" cy="81.4" rx="5.5" ry="6.0" fill="#000" opacity="0.45" filter="url(#b2)" transform="rotate(20 301 81.4)"/>
<ellipse cx="301" cy="81.4" rx="3.2" ry="3.8" fill="#000" opacity="1.0" filter="url(#b1)" transform="rotate(20 301 81.4)"/>
<rect x="277" y="29.8" width="65" height="65.10000000000001" fill="none" stroke="#262626" stroke-width="1"/>
<rect x="287.4" y="40.7" width="25.900000000000034" height="29.89999999999999" fill="none" stroke="#555" stroke-width="0.75"/>
<text x="321" y="51.6" font-size="6.7" fill="#231f20" stroke="#231f20" stroke-width="0.16">1.15</text>
<text x="309" y="25.5" font-size="7.6" text-anchor="middle" fill="#231f20" stroke="#231f20" stroke-width="0.1" textLength="11.3" lengthAdjust="spacingAndGlyphs">Pre</text>
<line x1="275.2" y1="36.0" x2="277" y2="36.0" stroke="#333" stroke-width="0.8"/>
<text x="274.4" y="37.2" font-size="3.12" text-anchor="end" fill="#555" stroke="#555" stroke-width="0.16">5</text>
<text x="272.79999999999995" y="37.6" font-size="5.2" text-anchor="end" fill="#555" stroke="#555" stroke-width="0.16">10</text>
<line x1="275.2" y1="47.3" x2="277" y2="47.3" stroke="#333" stroke-width="0.8"/>
<text x="274.4" y="48.5" font-size="3.12" text-anchor="end" fill="#555" stroke="#555" stroke-width="0.16">4</text>
<text x="272.79999999999995" y="48.9" font-size="5.2" text-anchor="end" fill="#555" stroke="#555" stroke-width="0.16">10</text>
<line x1="275.2" y1="59.8" x2="277" y2="59.8" stroke="#333" stroke-width="0.8"/>
<text x="274.4" y="61.0" font-size="3.12" text-anchor="end" fill="#555" stroke="#555" stroke-width="0.16">3</text>
<text x="272.79999999999995" y="61.4" font-size="5.2" text-anchor="end" fill="#555" stroke="#555" stroke-width="0.16">10</text>
<line x1="275.2" y1="75.0" x2="277" y2="75.0" stroke="#333" stroke-width="0.8"/>
<text x="274.4" y="76.2" font-size="3.12" text-anchor="end" fill="#555" stroke="#555" stroke-width="0.16">2</text>
<text x="272.79999999999995" y="76.6" font-size="5.2" text-anchor="end" fill="#555" stroke="#555" stroke-width="0.16">10</text>
<line x1="275.2" y1="81.9" x2="277" y2="81.9" stroke="#333" stroke-width="0.8"/>
<text x="274.4" y="83.5" font-size="5.2" text-anchor="end" fill="#555" stroke="#555" stroke-width="0.16">0</text>
<line x1="275.2" y1="91.4" x2="277" y2="91.4" stroke="#333" stroke-width="0.8"/>
<text x="274.4" y="92.60000000000001" font-size="3.12" text-anchor="end" fill="#555" stroke="#555" stroke-width="0.16">2</text>
<text x="272.79999999999995" y="93.0" font-size="5.2" text-anchor="end" fill="#555" stroke="#555" stroke-width="0.16">-10</text>
<line x1="276.0" y1="32.8" x2="277" y2="32.8" stroke="#555" stroke-width="0.5"/>
<line x1="276.0" y1="37.34615384615385" x2="277" y2="37.34615384615385" stroke="#555" stroke-width="0.5"/>
<line x1="276.0" y1="41.89230769230769" x2="277" y2="41.89230769230769" stroke="#555" stroke-width="0.5"/>
<line x1="276.0" y1="46.43846153846154" x2="277" y2="46.43846153846154" stroke="#555" stroke-width="0.5"/>
<line x1="276.0" y1="50.98461538461538" x2="277" y2="50.98461538461538" stroke="#555" stroke-width="0.5"/>
<line x1="276.0" y1="55.53076923076923" x2="277" y2="55.53076923076923" stroke="#555" stroke-width="0.5"/>
<line x1="276.0" y1="60.07692307692308" x2="277" y2="60.07692307692308" stroke="#555" stroke-width="0.5"/>
<line x1="276.0" y1="64.62307692307692" x2="277" y2="64.62307692307692" stroke="#555" stroke-width="0.5"/>
<line x1="276.0" y1="69.16923076923078" x2="277" y2="69.16923076923078" stroke="#555" stroke-width="0.5"/>
<line x1="276.0" y1="73.71538461538462" x2="277" y2="73.71538461538462" stroke="#555" stroke-width="0.5"/>
<line x1="276.0" y1="78.26153846153846" x2="277" y2="78.26153846153846" stroke="#555" stroke-width="0.5"/>
<line x1="276.0" y1="82.80769230769232" x2="277" y2="82.80769230769232" stroke="#555" stroke-width="0.5"/>
<line x1="276.0" y1="87.35384615384615" x2="277" y2="87.35384615384615" stroke="#555" stroke-width="0.5"/>
<line x1="276.0" y1="91.9" x2="277" y2="91.9" stroke="#555" stroke-width="0.5"/>
<line x1="282" y1="94.9" x2="282" y2="96.7" stroke="#333" stroke-width="0.8"/>
<text x="277.11" y="103.1" font-size="5.2" fill="#555" stroke="#555" stroke-width="0.16">-10</text>
<text x="285.69" y="101.7" font-size="3.12" fill="#555" stroke="#555" stroke-width="0.16">3</text>
<line x1="292.3" y1="94.9" x2="292.3" y2="96.7" stroke="#333" stroke-width="0.8"/>
<text x="292.3" y="103.1" font-size="5.2" text-anchor="middle" fill="#555" stroke="#555" stroke-width="0.16">0</text>
<line x1="302.7" y1="94.9" x2="302.7" y2="96.7" stroke="#333" stroke-width="0.8"/>
<text x="299.23999999999995" y="103.1" font-size="5.2" fill="#555" stroke="#555" stroke-width="0.16">10</text>
<text x="304.96" y="101.7" font-size="3.12" fill="#555" stroke="#555" stroke-width="0.16">3</text>
<line x1="322.6" y1="94.9" x2="322.6" y2="96.7" stroke="#333" stroke-width="0.8"/>
<text x="319.14" y="103.1" font-size="5.2" fill="#555" stroke="#555" stroke-width="0.16">10</text>
<text x="324.86" y="101.7" font-size="3.12" fill="#555" stroke="#555" stroke-width="0.16">4</text>
<line x1="336.4" y1="94.9" x2="336.4" y2="96.7" stroke="#333" stroke-width="0.8"/>
<text x="332.93999999999994" y="103.1" font-size="5.2" fill="#555" stroke="#555" stroke-width="0.16">10</text>
<text x="338.65999999999997" y="101.7" font-size="3.12" fill="#555" stroke="#555" stroke-width="0.16">5</text>
<line x1="280.0" y1="94.9" x2="280.0" y2="95.9" stroke="#555" stroke-width="0.5"/>
<line x1="283.93333333333334" y1="94.9" x2="283.93333333333334" y2="95.9" stroke="#555" stroke-width="0.5"/>
<line x1="287.8666666666667" y1="94.9" x2="287.8666666666667" y2="95.9" stroke="#555" stroke-width="0.5"/>
<line x1="291.8" y1="94.9" x2="291.8" y2="95.9" stroke="#555" stroke-width="0.5"/>
<line x1="295.73333333333335" y1="94.9" x2="295.73333333333335" y2="95.9" stroke="#555" stroke-width="0.5"/>
<line x1="299.6666666666667" y1="94.9" x2="299.6666666666667" y2="95.9" stroke="#555" stroke-width="0.5"/>
<line x1="303.6" y1="94.9" x2="303.6" y2="95.9" stroke="#555" stroke-width="0.5"/>
<line x1="307.53333333333336" y1="94.9" x2="307.53333333333336" y2="95.9" stroke="#555" stroke-width="0.5"/>
<line x1="311.46666666666664" y1="94.9" x2="311.46666666666664" y2="95.9" stroke="#555" stroke-width="0.5"/>
<line x1="315.4" y1="94.9" x2="315.4" y2="95.9" stroke="#555" stroke-width="0.5"/>
<line x1="319.3333333333333" y1="94.9" x2="319.3333333333333" y2="95.9" stroke="#555" stroke-width="0.5"/>
<line x1="323.26666666666665" y1="94.9" x2="323.26666666666665" y2="95.9" stroke="#555" stroke-width="0.5"/>
<line x1="327.2" y1="94.9" x2="327.2" y2="95.9" stroke="#555" stroke-width="0.5"/>
<line x1="331.1333333333333" y1="94.9" x2="331.1333333333333" y2="95.9" stroke="#555" stroke-width="0.5"/>
<line x1="335.06666666666666" y1="94.9" x2="335.06666666666666" y2="95.9" stroke="#555" stroke-width="0.5"/>
<line x1="339.0" y1="94.9" x2="339.0" y2="95.9" stroke="#555" stroke-width="0.5"/>
<ellipse cx="379.8" cy="72" rx="4.6" ry="19" fill="#000" opacity="0.45" filter="url(#b2)" transform="rotate(3 379.8 72)"/>
<ellipse cx="379.4" cy="73.5" rx="2.8" ry="9" fill="#000" opacity="0.95" filter="url(#b1)" transform="rotate(3 379.4 73.5)"/>
<rect x="356.8" y="29.8" width="64.19999999999999" height="64.4" fill="none" stroke="#262626" stroke-width="1"/>
<rect x="366.8" y="39.4" width="26.5" height="30.1" fill="none" stroke="#555" stroke-width="0.75"/>
<text x="399.2" y="51.6" font-size="6.7" fill="#231f20" stroke="#231f20" stroke-width="0.16">35.7</text>
<text x="388.8" y="25.5" font-size="7.6" text-anchor="middle" fill="#231f20" stroke="#231f20" stroke-width="0.1" textLength="14.5" lengthAdjust="spacingAndGlyphs">Post</text>
<line x1="355.0" y1="36.0" x2="356.8" y2="36.0" stroke="#333" stroke-width="0.8"/>
<text x="354.2" y="37.2" font-size="3.12" text-anchor="end" fill="#555" stroke="#555" stroke-width="0.16">5</text>
<text x="352.59999999999997" y="37.6" font-size="5.2" text-anchor="end" fill="#555" stroke="#555" stroke-width="0.16">10</text>
<line x1="355.0" y1="47.3" x2="356.8" y2="47.3" stroke="#333" stroke-width="0.8"/>
<text x="354.2" y="48.5" font-size="3.12" text-anchor="end" fill="#555" stroke="#555" stroke-width="0.16">4</text>
<text x="352.59999999999997" y="48.9" font-size="5.2" text-anchor="end" fill="#555" stroke="#555" stroke-width="0.16">10</text>
<line x1="355.0" y1="59.8" x2="356.8" y2="59.8" stroke="#333" stroke-width="0.8"/>
<text x="354.2" y="61.0" font-size="3.12" text-anchor="end" fill="#555" stroke="#555" stroke-width="0.16">3</text>
<text x="352.59999999999997" y="61.4" font-size="5.2" text-anchor="end" fill="#555" stroke="#555" stroke-width="0.16">10</text>
<line x1="355.0" y1="75.0" x2="356.8" y2="75.0" stroke="#333" stroke-width="0.8"/>
<text x="354.2" y="76.2" font-size="3.12" text-anchor="end" fill="#555" stroke="#555" stroke-width="0.16">2</text>
<text x="352.59999999999997" y="76.6" font-size="5.2" text-anchor="end" fill="#555" stroke="#555" stroke-width="0.16">10</text>
<line x1="355.0" y1="81.9" x2="356.8" y2="81.9" stroke="#333" stroke-width="0.8"/>
<text x="354.2" y="83.5" font-size="5.2" text-anchor="end" fill="#555" stroke="#555" stroke-width="0.16">0</text>
<line x1="355.0" y1="91.4" x2="356.8" y2="91.4" stroke="#333" stroke-width="0.8"/>
<text x="354.2" y="92.60000000000001" font-size="3.12" text-anchor="end" fill="#555" stroke="#555" stroke-width="0.16">2</text>
<text x="352.59999999999997" y="93.0" font-size="5.2" text-anchor="end" fill="#555" stroke="#555" stroke-width="0.16">-10</text>
<line x1="355.8" y1="32.8" x2="356.8" y2="32.8" stroke="#555" stroke-width="0.5"/>
<line x1="355.8" y1="37.29230769230769" x2="356.8" y2="37.29230769230769" stroke="#555" stroke-width="0.5"/>
<line x1="355.8" y1="41.78461538461538" x2="356.8" y2="41.78461538461538" stroke="#555" stroke-width="0.5"/>
<line x1="355.8" y1="46.276923076923076" x2="356.8" y2="46.276923076923076" stroke="#555" stroke-width="0.5"/>
<line x1="355.8" y1="50.76923076923077" x2="356.8" y2="50.76923076923077" stroke="#555" stroke-width="0.5"/>
<line x1="355.8" y1="55.26153846153846" x2="356.8" y2="55.26153846153846" stroke="#555" stroke-width="0.5"/>
<line x1="355.8" y1="59.753846153846155" x2="356.8" y2="59.753846153846155" stroke="#555" stroke-width="0.5"/>
<line x1="355.8" y1="64.24615384615385" x2="356.8" y2="64.24615384615385" stroke="#555" stroke-width="0.5"/>
<line x1="355.8" y1="68.73846153846154" x2="356.8" y2="68.73846153846154" stroke="#555" stroke-width="0.5"/>
<line x1="355.8" y1="73.23076923076923" x2="356.8" y2="73.23076923076923" stroke="#555" stroke-width="0.5"/>
<line x1="355.8" y1="77.72307692307692" x2="356.8" y2="77.72307692307692" stroke="#555" stroke-width="0.5"/>
<line x1="355.8" y1="82.21538461538462" x2="356.8" y2="82.21538461538462" stroke="#555" stroke-width="0.5"/>
<line x1="355.8" y1="86.70769230769231" x2="356.8" y2="86.70769230769231" stroke="#555" stroke-width="0.5"/>
<line x1="355.8" y1="91.2" x2="356.8" y2="91.2" stroke="#555" stroke-width="0.5"/>
<line x1="361.8" y1="94.2" x2="361.8" y2="96.0" stroke="#333" stroke-width="0.8"/>
<text x="356.91" y="102.39999999999999" font-size="5.2" fill="#555" stroke="#555" stroke-width="0.16">-10</text>
<text x="365.49" y="101.0" font-size="3.12" fill="#555" stroke="#555" stroke-width="0.16">3</text>
<line x1="372.1" y1="94.2" x2="372.1" y2="96.0" stroke="#333" stroke-width="0.8"/>
<text x="372.1" y="102.39999999999999" font-size="5.2" text-anchor="middle" fill="#555" stroke="#555" stroke-width="0.16">0</text>
<line x1="382.5" y1="94.2" x2="382.5" y2="96.0" stroke="#333" stroke-width="0.8"/>
<text x="379.03999999999996" y="102.39999999999999" font-size="5.2" fill="#555" stroke="#555" stroke-width="0.16">10</text>
<text x="384.76" y="101.0" font-size="3.12" fill="#555" stroke="#555" stroke-width="0.16">3</text>
<line x1="402.40000000000003" y1="94.2" x2="402.40000000000003" y2="96.0" stroke="#333" stroke-width="0.8"/>
<text x="398.94" y="102.39999999999999" font-size="5.2" fill="#555" stroke="#555" stroke-width="0.16">10</text>
<text x="404.66" y="101.0" font-size="3.12" fill="#555" stroke="#555" stroke-width="0.16">4</text>
<line x1="416.2" y1="94.2" x2="416.2" y2="96.0" stroke="#333" stroke-width="0.8"/>
<text x="412.73999999999995" y="102.39999999999999" font-size="5.2" fill="#555" stroke="#555" stroke-width="0.16">10</text>
<text x="418.46" y="101.0" font-size="3.12" fill="#555" stroke="#555" stroke-width="0.16">5</text>
<line x1="359.8" y1="94.2" x2="359.8" y2="95.2" stroke="#555" stroke-width="0.5"/>
<line x1="363.68" y1="94.2" x2="363.68" y2="95.2" stroke="#555" stroke-width="0.5"/>
<line x1="367.56" y1="94.2" x2="367.56" y2="95.2" stroke="#555" stroke-width="0.5"/>
<line x1="371.44" y1="94.2" x2="371.44" y2="95.2" stroke="#555" stroke-width="0.5"/>
<line x1="375.32" y1="94.2" x2="375.32" y2="95.2" stroke="#555" stroke-width="0.5"/>
<line x1="379.2" y1="94.2" x2="379.2" y2="95.2" stroke="#555" stroke-width="0.5"/>
<line x1="383.08" y1="94.2" x2="383.08" y2="95.2" stroke="#555" stroke-width="0.5"/>
<line x1="386.96" y1="94.2" x2="386.96" y2="95.2" stroke="#555" stroke-width="0.5"/>
<line x1="390.84000000000003" y1="94.2" x2="390.84000000000003" y2="95.2" stroke="#555" stroke-width="0.5"/>
<line x1="394.72" y1="94.2" x2="394.72" y2="95.2" stroke="#555" stroke-width="0.5"/>
<line x1="398.6" y1="94.2" x2="398.6" y2="95.2" stroke="#555" stroke-width="0.5"/>
<line x1="402.48" y1="94.2" x2="402.48" y2="95.2" stroke="#555" stroke-width="0.5"/>
<line x1="406.36" y1="94.2" x2="406.36" y2="95.2" stroke="#555" stroke-width="0.5"/>
<line x1="410.24" y1="94.2" x2="410.24" y2="95.2" stroke="#555" stroke-width="0.5"/>
<line x1="414.12" y1="94.2" x2="414.12" y2="95.2" stroke="#555" stroke-width="0.5"/>
<line x1="418.0" y1="94.2" x2="418.0" y2="95.2" stroke="#555" stroke-width="0.5"/>
<ellipse cx="478" cy="55" rx="4.5" ry="18" fill="#000" opacity="0.35" filter="url(#b2)" transform="rotate(8 478 55)"/>
<ellipse cx="478.8" cy="42" rx="2.6" ry="4.5" fill="#000" opacity="0.6" filter="url(#b1)" transform="rotate(10 478.8 42)"/>
<ellipse cx="477.8" cy="56" rx="3.2" ry="9" fill="#000" opacity="0.95" filter="url(#b1)" transform="rotate(12 477.8 56)"/>
<ellipse cx="476.5" cy="76" rx="3.6" ry="6" fill="#000" opacity="0.16" filter="url(#b1)" transform="rotate(5 476.5 76)"/>
<rect x="455.4" y="30" width="63.5" height="64.2" fill="none" stroke="#262626" stroke-width="1"/>
<rect x="466.5" y="34.6" width="26.5" height="35.800000000000004" fill="none" stroke="#555" stroke-width="0.75"/>
<text x="498.8" y="50.8" font-size="6.7" fill="#231f20" stroke="#231f20" stroke-width="0.16">92.7</text>
<text x="487.7" y="25.5" font-size="7.6" text-anchor="middle" fill="#231f20" stroke="#231f20" stroke-width="0.1" textLength="14.5" lengthAdjust="spacingAndGlyphs">Post</text>
<line x1="453.59999999999997" y1="36.4" x2="455.4" y2="36.4" stroke="#333" stroke-width="0.8"/>
<text x="452.79999999999995" y="37.6" font-size="3.12" text-anchor="end" fill="#555" stroke="#555" stroke-width="0.16">5</text>
<text x="451.19999999999993" y="38.0" font-size="5.2" text-anchor="end" fill="#555" stroke="#555" stroke-width="0.16">10</text>
<line x1="453.59999999999997" y1="51.7" x2="455.4" y2="51.7" stroke="#333" stroke-width="0.8"/>
<text x="452.79999999999995" y="52.900000000000006" font-size="3.12" text-anchor="end" fill="#555" stroke="#555" stroke-width="0.16">4</text>
<text x="451.19999999999993" y="53.300000000000004" font-size="5.2" text-anchor="end" fill="#555" stroke="#555" stroke-width="0.16">10</text>
<line x1="453.59999999999997" y1="69.3" x2="455.4" y2="69.3" stroke="#333" stroke-width="0.8"/>
<text x="452.79999999999995" y="70.5" font-size="3.12" text-anchor="end" fill="#555" stroke="#555" stroke-width="0.16">3</text>
<text x="451.19999999999993" y="70.89999999999999" font-size="5.2" text-anchor="end" fill="#555" stroke="#555" stroke-width="0.16">10</text>
<line x1="453.59999999999997" y1="79.7" x2="455.4" y2="79.7" stroke="#333" stroke-width="0.8"/>
<text x="452.79999999999995" y="81.3" font-size="5.2" text-anchor="end" fill="#555" stroke="#555" stroke-width="0.16">0</text>
<line x1="453.59999999999997" y1="90.0" x2="455.4" y2="90.0" stroke="#333" stroke-width="0.8"/>
<text x="452.79999999999995" y="91.2" font-size="3.12" text-anchor="end" fill="#555" stroke="#555" stroke-width="0.16">3</text>
<text x="451.19999999999993" y="91.6" font-size="5.2" text-anchor="end" fill="#555" stroke="#555" stroke-width="0.16">-10</text>
<line x1="454.4" y1="33.0" x2="455.4" y2="33.0" stroke="#555" stroke-width="0.5"/>
<line x1="454.4" y1="37.47692307692308" x2="455.4" y2="37.47692307692308" stroke="#555" stroke-width="0.5"/>
<line x1="454.4" y1="41.95384615384616" x2="455.4" y2="41.95384615384616" stroke="#555" stroke-width="0.5"/>
<line x1="454.4" y1="46.43076923076923" x2="455.4" y2="46.43076923076923" stroke="#555" stroke-width="0.5"/>
<line x1="454.4" y1="50.90769230769231" x2="455.4" y2="50.90769230769231" stroke="#555" stroke-width="0.5"/>
<line x1="454.4" y1="55.38461538461539" x2="455.4" y2="55.38461538461539" stroke="#555" stroke-width="0.5"/>
<line x1="454.4" y1="59.861538461538466" x2="455.4" y2="59.861538461538466" stroke="#555" stroke-width="0.5"/>
<line x1="454.4" y1="64.33846153846154" x2="455.4" y2="64.33846153846154" stroke="#555" stroke-width="0.5"/>
<line x1="454.4" y1="68.81538461538462" x2="455.4" y2="68.81538461538462" stroke="#555" stroke-width="0.5"/>
<line x1="454.4" y1="73.2923076923077" x2="455.4" y2="73.2923076923077" stroke="#555" stroke-width="0.5"/>
<line x1="454.4" y1="77.76923076923077" x2="455.4" y2="77.76923076923077" stroke="#555" stroke-width="0.5"/>
<line x1="454.4" y1="82.24615384615385" x2="455.4" y2="82.24615384615385" stroke="#555" stroke-width="0.5"/>
<line x1="454.4" y1="86.72307692307693" x2="455.4" y2="86.72307692307693" stroke="#555" stroke-width="0.5"/>
<line x1="454.4" y1="91.2" x2="455.4" y2="91.2" stroke="#555" stroke-width="0.5"/>
<line x1="460.4" y1="94.2" x2="460.4" y2="96.0" stroke="#333" stroke-width="0.8"/>
<text x="455.51" y="102.39999999999999" font-size="5.2" fill="#555" stroke="#555" stroke-width="0.16">-10</text>
<text x="464.09" y="101.0" font-size="3.12" fill="#555" stroke="#555" stroke-width="0.16">3</text>
<line x1="470.7" y1="94.2" x2="470.7" y2="96.0" stroke="#333" stroke-width="0.8"/>
<text x="470.7" y="102.39999999999999" font-size="5.2" text-anchor="middle" fill="#555" stroke="#555" stroke-width="0.16">0</text>
<line x1="481.09999999999997" y1="94.2" x2="481.09999999999997" y2="96.0" stroke="#333" stroke-width="0.8"/>
<text x="477.63999999999993" y="102.39999999999999" font-size="5.2" fill="#555" stroke="#555" stroke-width="0.16">10</text>
<text x="483.35999999999996" y="101.0" font-size="3.12" fill="#555" stroke="#555" stroke-width="0.16">3</text>
<line x1="501.0" y1="94.2" x2="501.0" y2="96.0" stroke="#333" stroke-width="0.8"/>
<text x="497.53999999999996" y="102.39999999999999" font-size="5.2" fill="#555" stroke="#555" stroke-width="0.16">10</text>
<text x="503.26" y="101.0" font-size="3.12" fill="#555" stroke="#555" stroke-width="0.16">4</text>
<line x1="514.8" y1="94.2" x2="514.8" y2="96.0" stroke="#333" stroke-width="0.8"/>
<text x="511.3399999999999" y="102.39999999999999" font-size="5.2" fill="#555" stroke="#555" stroke-width="0.16">10</text>
<text x="517.06" y="101.0" font-size="3.12" fill="#555" stroke="#555" stroke-width="0.16">5</text>
<line x1="458.4" y1="94.2" x2="458.4" y2="95.2" stroke="#555" stroke-width="0.5"/>
<line x1="462.2333333333333" y1="94.2" x2="462.2333333333333" y2="95.2" stroke="#555" stroke-width="0.5"/>
<line x1="466.06666666666666" y1="94.2" x2="466.06666666666666" y2="95.2" stroke="#555" stroke-width="0.5"/>
<line x1="469.9" y1="94.2" x2="469.9" y2="95.2" stroke="#555" stroke-width="0.5"/>
<line x1="473.7333333333333" y1="94.2" x2="473.7333333333333" y2="95.2" stroke="#555" stroke-width="0.5"/>
<line x1="477.56666666666666" y1="94.2" x2="477.56666666666666" y2="95.2" stroke="#555" stroke-width="0.5"/>
<line x1="481.4" y1="94.2" x2="481.4" y2="95.2" stroke="#555" stroke-width="0.5"/>
<line x1="485.2333333333333" y1="94.2" x2="485.2333333333333" y2="95.2" stroke="#555" stroke-width="0.5"/>
<line x1="489.06666666666666" y1="94.2" x2="489.06666666666666" y2="95.2" stroke="#555" stroke-width="0.5"/>
<line x1="492.9" y1="94.2" x2="492.9" y2="95.2" stroke="#555" stroke-width="0.5"/>
<line x1="496.7333333333333" y1="94.2" x2="496.7333333333333" y2="95.2" stroke="#555" stroke-width="0.5"/>
<line x1="500.56666666666666" y1="94.2" x2="500.56666666666666" y2="95.2" stroke="#555" stroke-width="0.5"/>
<line x1="504.4" y1="94.2" x2="504.4" y2="95.2" stroke="#555" stroke-width="0.5"/>
<line x1="508.2333333333333" y1="94.2" x2="508.2333333333333" y2="95.2" stroke="#555" stroke-width="0.5"/>
<line x1="512.0666666666666" y1="94.2" x2="512.0666666666666" y2="95.2" stroke="#555" stroke-width="0.5"/>
<line x1="515.9" y1="94.2" x2="515.9" y2="95.2" stroke="#555" stroke-width="0.5"/>
<line x1="398.8" y1="58.3" x2="440" y2="58.3" stroke="#231f20" stroke-width="0.8"/>
<path d="M438.5,56.2 L442.5,58.3 L438.5,60.4 Z" stroke="none" fill="#231f20" stroke-width="1"/>
<line x1="262.8" y1="106.2" x2="262.8" y2="73.7" stroke="#555" stroke-width="1.1"/>
<path d="M260.40000000000003,74.0 L262.8,69.7 L265.2,74.0 Z" stroke="none" fill="#231f20" stroke-width="1"/>
<line x1="262.8" y1="106.2" x2="295.1" y2="106.2" stroke="#555" stroke-width="1.1"/>
<path d="M294.8,103.8 L299.1,106.2 L294.8,108.60000000000001 Z" stroke="none" fill="#231f20" stroke-width="1"/>
<text x="271.40000000000003" y="113.10000000000001" font-size="6.8" fill="#231f20" stroke="#231f20" stroke-width="0.16" textLength="19" lengthAdjust="spacingAndGlyphs">SSC-A</text>
<text x="260.2" y="96.2" font-size="6.6" text-anchor="middle" fill="#231f20" stroke="#231f20" stroke-width="0.16" textLength="16.3" lengthAdjust="spacingAndGlyphs" transform="rotate(-90 260.2 96.2)">CART</text>
<line x1="441.5" y1="106.6" x2="441.5" y2="73.19999999999999" stroke="#555" stroke-width="1.1"/>
<path d="M439.1,73.49999999999999 L441.5,69.19999999999999 L443.9,73.49999999999999 Z" stroke="none" fill="#231f20" stroke-width="1"/>
<line x1="441.5" y1="106.6" x2="473.3" y2="106.6" stroke="#555" stroke-width="1.1"/>
<path d="M473.0,104.19999999999999 L477.3,106.6 L473.0,109.0 Z" stroke="none" fill="#231f20" stroke-width="1"/>
<text x="450.1" y="113.5" font-size="6.8" fill="#231f20" stroke="#231f20" stroke-width="0.16" textLength="19" lengthAdjust="spacingAndGlyphs">SSC-A</text>
<text x="438.9" y="96.6" font-size="6.6" text-anchor="middle" fill="#231f20" stroke="#231f20" stroke-width="0.16" textLength="16.3" lengthAdjust="spacingAndGlyphs" transform="rotate(-90 438.9 96.6)">CD57</text>
<text x="0" y="130.4" font-size="11.8" font-weight="bold" fill="#000" stroke="#000" stroke-width="0.35" textLength="8.0" lengthAdjust="spacingAndGlyphs">C</text>
<polygon points="41.5,222.3 46.0,211.5 58.5,200.8 70.8,193.0 83.0,188.5 92.0,188.0 99.0,193.0 106.0,188.0 117.0,186.3 132.3,190.0 144.6,196.2 147.5,205.4 145.5,219.2 141.5,234.6 135.4,247.0 123.0,253.0 101.5,256.2 80.0,254.6 61.5,251.5 46.0,245.4 40.0,234.6" fill="#ecd4f8" filter="url(#b1)"/>
<polygon points="11.0,228.0 15.0,219.0 22.0,214.0 29.0,216.0 33.0,224.0 32.0,235.0 26.0,243.0 17.0,244.0 11.0,238.0" fill="#ecd4f8" filter="url(#b1)"/>
<polygon points="50.7,160.5 51.3,163.8 49.9,167.8 46.9,172.0 42.3,176.0 36.8,179.4 30.8,181.8 24.9,183.2 19.7,183.2 15.7,182.0 13.3,179.5 12.7,176.2 14.1,172.2 17.1,168.0 21.7,164.0 27.2,160.6 33.2,158.2 39.1,156.8 44.3,156.8 48.3,158.0" fill="#e6ecd6" filter="url(#b1)"/>
<polygon points="31.5,203.0 32.5,193.0 41.0,185.0 55.4,179.5 70.8,175.0 78.0,178.5 76.0,187.0 63.0,194.0 50.0,200.5 39.0,206.5" fill="#f8e0dc" filter="url(#b1)"/>
<polygon points="88.0,262.0 94.0,259.0 104.0,258.5 111.0,262.0 112.0,270.0 106.0,275.0 95.0,275.0 88.0,270.0" fill="#dcefdc" filter="url(#b1)"/>
<polygon points="26.0,259.0 33.0,256.0 43.0,257.0 46.0,262.0 42.0,267.0 33.0,268.0 27.0,265.0" fill="#ececec" filter="url(#b1)"/>
<path d="M142.7 202.1h0M70.0 234.7h0M75.3 233.9h0M85.8 244.2h0M144.8 203.3h0M88.0 204.7h0M83.4 230.5h0M89.6 190.1h0M116.3 225.2h0M52.7 218.6h0M131.9 201.3h0M42.7 231.9h0M60.1 220.5h0M116.5 197.9h0M76.6 235.7h0M105.3 241.3h0M118.9 193.5h0M107.4 252.9h0M61.1 237.8h0M110.4 237.7h0M134.6 210.2h0M129.5 195.7h0M128.2 193.0h0M95.2 237.6h0M93.3 256.4h0M63.1 222.5h0M119.8 232.6h0M133.4 225.8h0M97.4 226.6h0M97.3 220.4h0M45.5 224.1h0M67.1 218.2h0M86.9 246.1h0M91.6 208.5h0M106.9 253.4h0M73.0 210.7h0M47.9 239.7h0M95.3 202.5h0M98.5 216.1h0M85.3 223.5h0M60.1 232.0h0M96.5 248.0h0M135.8 202.2h0M136.9 193.4h0M120.5 202.9h0M50.3 214.6h0M113.6 252.7h0M50.9 218.1h0M93.3 236.4h0M42.0 226.0h0M101.9 194.3h0M90.4 241.2h0M90.0 222.5h0M116.1 246.2h0M88.6 240.3h0M116.5 250.2h0M82.7 227.4h0M82.1 236.4h0M77.5 219.3h0M77.9 231.1h0M113.2 208.9h0M101.6 222.8h0M120.8 202.3h0M80.7 189.8h0M139.5 225.8h0M105.2 240.8h0M144.1 196.0h0M55.4 219.2h0M77.5 205.0h0M100.9 203.5h0M55.3 240.5h0M128.8 228.4h0M108.1 218.8h0M44.8 222.7h0M86.9 233.5h0M67.5 226.6h0M107.6 210.8h0M109.0 240.1h0M68.6 216.3h0M49.2 223.8h0M46.3 235.6h0M108.8 210.2h0M59.4 208.5h0M51.2 243.8h0M124.0 198.5h0M66.1 244.7h0M69.6 240.3h0M62.0 233.5h0M71.0 236.3h0M71.1 194.2h0M119.3 212.0h0M86.0 244.6h0M138.4 201.7h0M78.9 210.5h0M102.6 195.7h0M135.4 203.8h0M95.5 225.0h0M98.9 242.7h0M46.1 239.0h0M44.4 231.9h0M121.3 233.7h0M61.6 242.3h0M121.8 214.5h0M93.6 223.4h0M117.4 253.1h0M95.4 236.8h0M85.4 215.9h0M79.9 195.9h0M49.2 233.4h0M63.7 237.6h0M81.6 225.2h0M111.5 201.9h0M118.0 229.9h0M55.0 207.6h0M134.6 223.7h0M98.7 193.6h0M131.9 245.7h0M67.6 237.5h0M103.2 247.4h0M60.0 223.5h0M54.7 245.7h0M76.8 235.8h0M131.8 233.1h0M79.5 236.4h0M100.8 218.4h0M59.9 229.2h0M79.6 224.5h0M74.2 212.8h0M100.0 236.6h0M130.7 189.3h0M47.2 233.8h0M58.0 214.0h0M104.6 189.0h0M125.0 244.9h0M75.4 214.1h0M124.9 234.9h0M76.1 234.0h0M131.4 229.1h0M122.2 250.7h0M78.0 222.0h0M96.7 237.0h0M107.9 198.1h0M64.4 227.4h0M78.0 218.2h0M139.7 225.2h0M70.0 251.8h0M103.3 245.7h0M111.2 207.0h0M123.0 212.3h0M61.2 219.9h0M82.1 227.0h0M96.6 201.8h0M75.3 232.9h0M106.2 218.0h0M132.6 248.9h0M96.7 222.4h0M140.1 207.6h0M118.4 252.2h0M103.2 240.4h0M50.6 217.2h0M115.1 224.1h0M71.5 212.4h0M62.6 239.2h0M128.0 194.0h0M63.3 205.7h0M128.0 216.0h0M77.8 219.6h0M58.3 230.4h0M48.5 239.5h0M145.7 216.4h0M61.3 206.6h0M62.8 233.5h0M78.1 233.4h0M104.8 201.2h0M68.6 232.3h0M95.4 224.6h0M103.6 206.1h0M128.2 189.9h0M123.6 201.5h0M99.0 197.2h0M89.8 241.4h0M142.2 221.3h0M100.1 232.8h0M111.9 242.7h0M95.1 247.7h0M96.8 256.9h0M122.8 196.6h0M64.6 216.9h0M126.1 243.4h0M92.5 200.7h0M104.6 238.3h0M135.6 197.7h0M86.4 217.2h0M139.2 225.9h0M126.0 201.6h0M73.8 231.9h0M65.7 230.4h0M131.0 195.5h0M54.8 235.8h0M82.6 210.3h0M92.5 240.8h0M54.8 217.1h0M138.8 193.3h0M68.8 216.0h0M122.9 239.1h0M67.5 225.5h0M83.0 231.0h0M76.4 236.2h0M104.1 249.3h0M82.2 248.9h0M127.2 200.5h0M57.1 225.4h0M89.2 205.4h0M134.6 199.2h0M44.7 235.2h0M58.3 203.7h0M67.6 211.2h0M120.7 252.0h0M74.6 212.2h0M81.1 201.7h0M54.2 230.0h0M72.2 215.1h0M52.6 237.9h0M119.3 232.9h0M59.9 204.9h0M62.7 206.9h0M101.8 242.8h0M61.6 235.3h0M63.8 232.3h0M85.1 213.2h0M80.6 208.5h0M69.0 194.4h0M75.9 216.5h0M105.2 235.4h0M82.4 209.6h0M92.5 227.4h0M73.9 203.1h0M67.5 234.9h0M124.9 231.9h0M83.7 216.0h0M81.4 252.5h0M52.2 222.2h0M61.7 233.9h0M81.7 200.3h0M101.1 244.3h0M72.1 238.7h0M129.4 196.4h0M91.1 225.4h0M68.6 240.5h0M62.2 201.7h0M55.7 223.0h0M49.8 236.4h0M87.6 241.9h0M96.0 243.2h0M119.6 203.0h0M133.4 246.2h0M85.2 236.6h0M132.8 243.2h0M80.4 233.9h0M52.0 235.4h0M108.0 212.9h0M118.6 191.8h0M51.8 208.4h0M97.9 221.6h0M69.0 211.5h0M82.3 236.0h0M126.2 195.0h0M65.0 220.7h0M102.4 192.9h0M68.2 200.9h0M77.6 202.2h0M58.6 246.0h0M85.1 245.2h0M43.5 224.9h0M86.4 244.8h0M123.4 207.4h0M97.3 243.7h0M121.1 213.1h0M81.3 237.0h0M101.5 200.1h0M79.5 233.4h0M79.5 232.8h0M68.1 252.0h0M121.8 200.1h0M97.4 235.2h0M76.9 215.8h0M93.7 214.8h0M98.4 254.9h0M62.2 214.9h0M57.5 204.2h0M144.1 208.1h0M54.7 231.9h0M110.4 201.1h0M106.2 221.6h0M49.4 248.0h0M89.5 233.8h0M102.5 222.5h0M106.6 215.8h0M104.6 253.5h0M122.2 205.6h0M59.7 205.2h0M45.7 224.4h0M133.5 240.6h0M54.7 211.2h0M136.1 246.6h0M58.4 213.1h0M107.5 251.1h0M60.1 233.6h0M73.4 230.9h0M106.2 236.4h0M51.0 236.6h0M114.9 239.9h0M71.7 214.2h0M109.3 216.1h0M84.2 218.6h0M63.5 228.9h0M80.9 239.2h0M84.6 206.5h0M114.4 201.9h0M65.6 214.8h0M109.4 218.4h0M44.1 218.7h0M60.3 209.8h0M81.4 239.0h0M55.2 233.2h0M122.7 202.3h0M120.3 243.3h0M78.4 223.7h0M48.8 243.5h0M95.2 192.7h0M64.1 213.3h0M60.7 218.0h0M90.7 248.6h0M96.5 214.3h0M54.9 246.1h0M118.3 196.2h0M110.4 247.3h0M84.7 189.8h0M75.5 221.0h0M67.1 212.6h0M92.3 208.4h0M97.2 225.0h0M78.7 207.6h0M64.5 240.3h0M79.0 229.4h0M72.2 231.1h0M72.2 221.1h0M66.8 242.5h0M135.3 213.6h0M131.8 206.8h0M130.1 241.9h0M41.6 230.7h0M122.2 227.9h0M120.6 213.8h0M45.5 242.5h0M121.9 212.0h0M85.3 191.8h0M120.1 189.2h0M130.5 233.0h0M100.4 253.7h0M80.1 243.3h0M121.8 196.8h0M59.6 209.9h0M78.2 228.8h0M77.0 227.3h0M115.2 200.7h0M119.6 224.8h0M79.3 236.2h0M63.9 240.4h0M73.5 248.0h0M124.9 244.4h0M125.3 199.0h0M97.6 229.0h0M120.3 203.4h0M66.3 204.3h0M51.6 220.6h0M70.7 203.2h0M133.4 230.8h0M64.3 218.3h0M94.8 226.7h0M49.2 227.5h0M113.2 187.8h0M114.9 248.4h0M96.5 197.8h0M76.0 222.1h0M118.5 214.9h0M46.5 219.8h0M92.4 228.6h0M45.4 223.1h0M129.9 233.9h0M102.7 241.0h0M131.4 214.9h0M124.2 202.6h0M97.9 208.8h0M66.1 219.2h0M74.9 200.2h0M65.4 223.1h0M135.2 197.2h0M71.3 208.0h0M113.8 243.8h0M45.5 241.0h0M51.7 243.8h0M75.0 242.8h0M70.5 228.6h0M90.0 246.5h0M93.3 213.8h0M54.0 238.3h0M112.5 250.6h0M57.3 211.7h0M72.6 197.6h0M98.9 225.8h0M92.8 195.6h0M104.8 245.6h0M125.9 214.3h0M118.8 199.5h0M61.6 244.2h0M110.6 217.7h0M108.4 212.5h0M107.7 207.6h0M139.4 228.0h0M99.3 217.6h0M55.2 220.7h0M66.2 228.3h0M143.7 203.7h0M115.4 211.1h0M95.1 203.0h0M109.4 218.0h0M91.6 218.9h0M45.7 243.7h0M131.3 244.0h0M139.6 223.6h0M91.7 210.0h0M130.1 246.2h0M127.7 207.2h0M136.9 206.7h0M92.1 211.9h0M127.4 201.0h0M125.2 237.3h0M73.1 202.6h0M125.8 208.5h0M97.1 219.7h0M134.0 224.0h0M121.2 201.7h0M104.3 201.1h0M109.0 214.8h0M51.1 216.4h0M97.2 198.7h0M98.3 204.1h0M120.6 207.1h0M109.9 237.6h0M87.2 192.0h0M67.5 236.8h0M51.6 214.4h0M122.0 215.0h0M115.1 228.2h0M118.3 193.2h0M62.1 249.6h0M66.0 243.9h0M87.5 211.0h0M110.4 233.3h0M76.4 238.7h0M84.4 241.9h0M106.2 199.8h0M103.4 245.2h0M122.6 240.7h0M66.0 236.3h0M52.3 242.4h0M68.2 227.4h0M138.6 234.3h0M130.5 215.2h0M106.8 217.2h0M116.6 234.2h0M79.9 202.8h0M80.3 233.3h0M64.7 196.0h0M46.3 244.0h0M66.9 218.8h0M135.0 197.9h0M62.5 218.1h0M86.4 245.8h0M76.4 216.1h0M114.5 197.4h0M135.3 200.4h0M62.2 236.0h0M98.6 227.5h0M116.1 194.7h0M112.6 236.2h0M89.2 205.1h0M78.6 210.6h0M69.5 202.3h0M71.5 227.5h0M90.6 220.1h0M138.3 239.6h0M109.9 235.2h0M84.8 214.5h0M89.8 224.3h0M127.5 251.5h0M107.9 204.0h0M113.6 234.9h0M88.0 212.9h0M81.8 231.7h0M100.3 255.5h0M56.2 220.2h0M113.1 197.6h0M98.2 209.2h0M60.4 232.6h0M44.3 241.1h0M49.4 232.2h0M127.1 194.6h0M73.9 202.1h0M58.3 231.4h0M101.8 211.4h0M65.5 237.8h0M114.0 189.1h0M112.8 230.2h0M120.7 221.6h0M93.1 211.4h0M140.9 197.3h0M93.1 242.8h0M92.4 246.6h0M120.7 241.0h0M136.9 212.9h0M105.3 252.0h0M59.0 230.9h0M56.4 226.1h0M53.9 226.6h0M83.1 219.2h0M108.8 198.0h0M104.1 212.0h0M80.8 236.8h0M118.7 252.1h0M59.1 212.0h0M120.3 250.1h0M54.6 214.3h0M51.9 241.6h0M107.8 204.7h0M105.4 198.2h0M67.5 211.1h0M60.4 248.8h0M100.5 209.4h0M63.8 219.8h0M84.4 207.4h0M73.8 238.6h0M107.6 196.3h0M130.4 234.0h0M135.1 213.3h0M98.2 192.3h0M130.7 208.9h0M68.8 240.4h0M91.5 203.9h0M95.5 221.7h0M52.1 228.0h0M69.1 216.4h0M92.1 212.8h0M45.2 235.6h0M54.1 216.5h0M123.6 216.6h0M79.7 250.2h0M91.8 193.7h0M136.2 239.4h0M113.5 200.1h0M143.3 209.0h0M125.4 190.9h0M127.9 198.8h0M105.4 218.1h0M141.4 198.3h0M94.4 193.0h0M65.3 225.2h0M57.0 240.2h0M73.6 215.3h0M120.4 218.7h0M79.4 212.0h0M52.2 237.8h0M106.1 243.0h0M82.2 231.0h0M80.9 233.0h0M70.0 211.7h0M51.8 231.8h0M122.8 201.4h0M76.7 219.9h0M69.6 214.4h0M110.2 243.6h0M45.8 244.4h0M103.2 208.1h0M48.1 224.3h0M48.2 215.1h0M121.1 232.8h0M126.0 232.9h0M95.5 215.9h0M117.7 234.4h0M127.0 244.4h0M72.4 217.0h0M100.2 203.4h0M83.6 223.2h0M58.8 222.0h0M129.9 211.7h0M56.1 240.8h0M143.5 198.8h0M91.3 193.9h0M64.8 231.8h0M90.8 211.8h0M114.7 236.8h0M101.2 193.9h0M81.0 210.5h0M71.5 211.2h0M50.7 228.4h0M79.5 196.2h0M65.3 238.4h0M73.4 241.0h0M70.9 216.4h0M89.5 244.1h0M58.8 245.0h0M134.9 222.5h0M70.1 206.2h0M64.7 239.1h0M100.5 213.8h0M113.5 209.6h0M79.6 204.1h0M70.2 205.1h0M78.9 217.3h0M125.6 226.0h0M76.4 241.6h0M119.9 232.7h0M97.5 227.2h0M130.4 247.3h0M122.0 229.7h0M54.7 226.0h0M72.9 249.8h0M61.9 238.7h0M124.0 204.6h0M118.5 238.3h0M143.0 223.9h0M91.9 208.9h0M50.6 216.5h0M113.9 192.0h0M84.1 218.8h0M62.3 202.9h0M110.3 229.8h0M60.2 239.1h0M63.5 244.4h0M122.5 222.2h0M95.8 235.2h0M78.3 231.0h0M138.4 237.0h0M90.6 197.5h0M114.2 224.9h0M65.2 200.4h0M134.5 229.7h0M106.5 209.8h0M45.7 233.7h0M113.3 252.4h0M106.8 211.0h0M104.6 248.9h0M138.9 212.5h0M83.3 245.1h0M97.6 199.9h0M70.4 252.8h0M93.7 223.2h0M77.2 205.7h0M126.2 237.5h0M136.4 240.0h0M52.8 239.6h0M55.9 226.4h0M112.5 203.6h0M72.3 229.3h0M64.8 245.5h0M51.7 237.8h0M117.2 209.5h0M102.0 215.0h0M78.1 240.7h0M42.7 229.0h0M146.6 206.3h0M73.0 246.9h0M105.5 249.5h0M130.5 238.5h0M77.6 252.6h0M136.8 209.4h0M77.9 198.2h0M107.3 232.7h0M86.1 245.3h0M129.5 201.4h0M69.1 225.0h0M116.3 214.8h0M57.3 239.1h0M128.3 228.4h0M49.1 229.7h0M52.3 228.8h0M127.9 246.0h0M115.2 244.3h0M130.9 243.3h0M68.5 232.4h0M94.3 194.2h0M44.8 218.4h0M83.9 245.1h0M102.4 214.4h0M106.1 248.3h0M104.2 201.1h0M129.2 248.8h0M122.8 203.0h0M70.9 239.8h0M102.8 203.3h0M41.3 230.6h0M47.9 243.1h0M123.5 205.6h0M104.2 208.9h0M101.2 200.9h0M136.0 239.1h0M87.0 249.7h0M95.3 229.0h0M69.7 228.4h0M68.4 198.3h0M46.2 224.1h0M90.2 228.6h0M90.0 237.8h0M67.4 211.3h0M121.5 237.8h0M107.0 212.8h0M86.9 239.0h0M111.8 236.5h0M55.1 221.7h0M56.6 237.8h0M89.0 195.5h0M85.0 246.5h0M99.6 220.7h0M126.8 227.8h0M42.3 232.4h0M69.8 195.0h0M67.6 230.3h0M127.6 243.6h0M76.5 203.8h0M86.9 235.8h0M135.1 203.4h0M87.2 212.7h0M96.5 225.1h0M131.2 203.6h0M57.1 221.2h0M110.9 250.0h0M139.3 235.4h0M78.2 219.6h0M141.6 220.2h0M93.7 244.2h0M104.8 190.5h0M57.7 220.1h0M63.3 235.8h0M87.6 223.2h0M45.7 232.7h0M99.8 199.3h0M123.8 216.4h0M108.0 216.7h0M117.4 248.0h0M65.6 242.5h0M51.8 221.5h0M86.2 245.8h0M89.2 241.8h0M73.3 224.2h0M81.5 242.1h0M91.0 221.8h0M120.0 201.2h0M65.5 228.9h0M114.0 216.7h0M93.0 203.7h0M54.0 230.7h0M147.4 211.8h0M121.7 232.9h0M125.8 188.5h0M125.7 239.8h0M95.3 244.5h0M96.3 196.8h0M58.9 222.4h0M90.1 231.6h0M111.1 214.3h0M130.8 242.8h0M99.6 200.9h0M112.3 201.8h0M100.6 229.3h0M63.9 205.4h0M137.7 209.3h0M71.9 246.8h0M100.2 222.1h0M58.0 222.4h0M70.7 234.4h0M99.8 249.4h0M70.7 225.0h0M109.2 247.6h0M66.7 219.7h0M76.6 228.3h0M120.7 213.7h0M107.5 232.5h0M54.7 213.3h0M75.0 210.0h0M76.5 238.0h0M73.5 230.5h0M122.2 190.4h0M90.8 248.2h0M55.1 233.7h0M107.5 214.3h0M89.1 203.4h0M145.7 211.9h0M113.9 188.8h0M57.5 206.3h0M121.9 196.7h0M119.1 189.1h0M95.8 222.9h0M82.0 246.1h0M85.8 224.5h0M99.2 237.4h0M85.9 234.7h0M123.5 219.7h0M125.9 222.4h0M115.4 193.0h0M107.5 213.4h0M76.9 234.1h0M90.8 215.2h0M115.3 196.4h0M68.3 224.3h0M46.7 233.6h0M106.6 220.7h0M83.7 196.5h0M126.8 220.3h0M107.1 245.6h0M57.6 221.4h0M55.7 203.9h0M109.9 235.4h0M89.6 238.5h0M120.5 240.2h0M51.0 239.6h0M129.1 229.4h0M119.7 192.9h0M60.9 241.2h0M120.0 240.7h0M55.5 232.1h0M62.2 203.8h0M119.3 227.3h0M105.2 224.0h0M102.0 222.4h0M91.5 211.3h0M113.6 205.7h0M66.6 241.3h0M126.9 210.4h0M109.0 193.1h0M47.5 232.3h0M97.3 209.7h0M135.1 206.2h0M46.0 220.4h0M75.2 234.9h0M141.8 222.7h0M108.9 227.5h0M140.5 197.1h0M104.1 213.2h0M53.4 235.3h0M106.4 245.9h0M106.7 198.0h0M95.2 225.3h0M102.1 207.2h0M86.7 196.5h0M61.9 217.6h0M100.6 232.4h0M60.9 227.8h0M137.7 244.4h0M60.7 206.6h0M62.9 200.3h0M45.2 228.8h0M79.8 211.5h0M78.4 239.3h0M76.1 240.2h0M56.0 215.3h0M118.4 202.3h0M119.8 236.3h0M114.8 251.4h0M142.2 205.9h0M63.1 228.9h0M114.1 218.0h0M45.4 228.5h0M105.3 221.5h0M85.9 245.6h0M123.2 205.2h0M119.3 203.9h0M57.9 203.7h0M72.2 194.8h0M115.3 246.3h0M125.0 240.0h0M93.0 254.5h0M46.9 232.2h0M90.4 241.3h0M111.4 187.7h0M103.7 238.3h0M84.5 208.8h0M46.0 231.9h0M107.1 254.1h0M106.5 210.7h0M62.3 235.3h0M124.9 237.2h0M109.0 192.8h0M89.1 224.9h0M141.6 208.8h0M61.6 238.1h0M85.9 246.9h0M65.3 214.4h0M46.2 217.7h0M70.9 208.0h0M64.9 201.1h0M130.8 246.9h0M59.9 207.0h0M132.8 191.5h0M118.5 238.6h0M107.2 199.8h0M128.3 238.8h0M70.6 241.7h0M56.4 209.1h0M129.5 219.5h0M67.3 242.0h0M48.0 214.2h0M50.5 211.7h0M66.7 240.1h0M140.4 223.9h0M118.5 227.0h0M103.4 237.1h0M124.6 237.3h0M85.6 244.6h0M119.2 237.8h0M137.6 197.2h0M120.7 239.5h0M84.6 219.9h0M138.9 211.1h0M47.9 223.4h0M86.8 194.1h0M115.1 229.5h0M127.7 207.0h0M48.0 224.5h0M75.4 240.3h0M107.7 192.1h0M100.3 228.6h0M134.2 203.9h0M108.5 200.6h0M46.8 230.9h0M134.3 203.5h0M110.5 230.4h0M62.8 231.6h0M109.1 251.9h0M128.5 197.5h0M126.7 206.1h0M106.3 232.3h0M103.5 235.2h0M108.3 211.3h0M59.8 222.8h0M74.9 218.8h0M58.8 249.4h0M53.6 231.9h0M63.4 237.2h0M85.1 247.6h0M74.9 207.5h0M113.0 242.8h0M69.3 212.4h0M135.2 245.5h0M129.3 197.5h0M123.2 195.6h0M111.5 231.3h0M87.7 214.9h0M62.9 244.9h0M64.6 239.0h0M124.5 233.4h0M91.3 215.3h0M99.9 234.6h0M94.9 246.0h0M115.8 211.8h0M56.2 226.4h0M114.0 243.6h0M125.0 248.4h0M50.0 211.9h0M82.1 217.1h0M114.7 220.8h0M92.7 202.0h0M89.6 242.5h0M120.2 230.6h0M50.1 238.9h0M79.8 227.5h0M73.7 227.2h0M104.9 255.0h0M80.6 239.6h0M129.8 228.4h0M70.4 196.4h0M112.1 210.3h0M86.3 236.8h0M67.9 232.2h0M70.8 202.0h0M101.0 248.8h0M110.2 241.9h0M83.8 233.2h0M141.5 199.9h0M107.4 209.0h0M106.0 222.9h0M95.5 230.9h0M120.1 237.1h0M89.4 231.2h0M69.5 220.7h0M65.1 231.2h0M87.5 225.9h0M85.2 246.6h0M67.5 209.2h0M80.6 205.7h0M90.8 198.3h0M84.1 213.4h0M134.9 206.7h0M106.9 191.6h0M52.0 223.1h0M48.1 217.8h0M94.5 249.5h0M80.2 234.8h0M83.5 236.9h0M63.4 241.6h0M94.0 206.8h0M79.9 225.4h0M122.2 233.9h0M58.8 202.3h0M70.9 221.7h0M105.1 227.0h0M64.1 238.7h0M76.9 251.2h0M62.9 225.6h0M109.6 234.0h0M72.2 202.8h0M138.1 225.1h0M104.6 240.6h0M137.5 241.9h0M85.4 227.4h0M101.7 224.6h0M88.9 202.9h0M74.2 204.9h0M69.9 237.4h0M114.1 203.1h0M77.7 220.1h0M65.2 225.8h0M97.1 243.1h0M96.6 232.1h0M119.0 244.7h0M136.9 242.7h0M61.1 237.4h0M58.8 250.2h0M137.5 238.8h0M123.5 225.5h0M63.7 237.5h0M53.3 233.9h0M131.1 196.5h0M75.5 229.2h0M90.1 219.9h0M53.7 247.5h0M120.2 238.6h0M98.9 207.0h0M87.2 242.2h0M80.4 191.9h0M78.8 202.3h0M52.6 234.4h0M124.9 208.0h0M65.7 214.4h0M87.8 242.9h0M76.8 239.3h0M119.8 237.7h0M114.3 248.5h0M121.2 236.1h0M122.3 220.5h0M97.4 240.2h0M88.6 247.4h0M134.9 208.9h0M117.4 227.0h0M53.7 215.4h0M108.6 201.9h0M92.6 224.1h0M78.1 246.8h0M84.4 208.4h0M56.8 239.9h0M41.2 233.5h0M136.8 196.1h0M79.3 207.0h0M97.6 192.8h0M122.9 237.5h0M120.3 209.1h0M121.1 245.5h0M72.8 222.8h0M99.0 246.3h0M57.1 236.4h0M70.9 207.9h0M78.6 211.6h0M64.6 216.5h0M98.1 224.2h0M89.2 246.7h0M42.5 221.1h0M70.8 200.0h0M117.1 250.5h0M57.3 205.6h0M133.2 211.2h0M125.7 196.3h0M142.5 226.7h0M109.4 224.1h0M134.3 217.6h0M121.9 192.6h0M68.8 242.7h0M61.3 236.6h0M64.3 243.6h0M88.0 222.7h0M106.9 196.5h0M53.8 239.3h0M70.7 206.2h0M100.8 226.9h0M54.2 231.0h0M112.4 195.3h0M76.6 231.0h0M95.8 228.1h0M51.2 239.0h0M114.3 248.2h0M131.2 248.0h0M101.4 217.0h0M127.1 229.0h0M121.9 195.4h0M111.5 202.2h0M58.1 222.4h0M134.6 205.2h0M82.7 195.7h0M92.0 234.9h0M56.8 219.0h0M56.6 232.8h0M68.1 205.2h0M114.8 232.7h0M100.1 235.4h0M95.0 192.6h0M126.5 191.4h0M56.6 213.0h0M42.1 226.6h0M87.1 206.8h0M70.6 196.4h0M116.6 210.5h0M67.9 245.8h0M50.1 234.2h0M99.0 231.0h0M126.8 233.1h0M118.6 210.3h0M88.1 199.3h0M57.7 212.5h0M115.1 195.2h0M60.4 244.1h0M108.9 189.0h0M65.1 232.8h0M137.7 193.8h0M43.7 235.2h0M68.5 216.1h0M139.9 199.6h0M123.6 197.4h0M81.1 213.5h0M108.3 207.3h0M130.5 209.5h0M99.8 218.5h0M131.8 247.0h0M88.8 193.5h0M57.9 203.9h0M65.9 204.3h0M84.7 219.3h0M68.7 221.1h0M69.1 220.0h0M103.9 198.2h0M66.7 205.9h0M91.2 237.9h0M66.4 210.9h0M71.6 221.9h0M138.5 217.5h0M132.4 193.0h0M58.7 247.4h0M80.6 222.4h0M80.9 210.6h0M112.5 233.8h0M96.0 235.7h0M90.7 236.0h0M130.0 200.6h0M130.3 198.7h0M94.5 242.8h0M82.2 232.1h0M78.0 195.5h0M134.8 224.0h0M63.6 206.7h0M144.1 202.9h0M62.7 207.6h0M99.7 203.8h0M65.2 245.2h0M93.6 224.8h0M88.8 198.7h0M73.6 226.8h0M72.9 212.1h0M80.4 233.1h0M61.1 231.2h0M99.7 233.4h0M85.4 215.4h0M93.8 205.1h0M104.6 212.9h0M135.7 236.0h0M97.5 237.3h0M127.3 195.8h0M119.6 237.5h0M102.8 219.2h0M104.6 209.0h0M98.7 217.2h0M117.5 245.6h0M117.9 200.3h0M90.3 241.4h0M137.4 211.1h0M100.9 194.1h0M103.3 245.2h0M63.5 219.9h0M125.1 214.1h0M138.3 208.1h0M55.7 208.4h0M97.1 216.2h0M58.0 248.4h0M59.9 223.7h0M111.8 189.7h0M47.8 236.2h0M43.3 221.2h0M69.5 211.1h0M117.9 214.4h0M100.6 235.2h0M100.4 225.2h0M59.0 244.6h0M112.7 240.8h0M117.6 228.3h0M126.7 248.8h0M134.3 194.0h0M131.0 198.1h0M55.8 243.9h0M76.6 201.4h0M107.3 238.2h0M121.5 226.6h0M96.2 215.0h0M55.5 249.9h0M43.6 233.2h0M107.3 207.9h0M119.8 198.9h0M56.4 228.3h0M45.5 219.6h0M125.6 206.4h0M98.2 221.5h0M50.3 221.6h0M77.4 229.9h0M81.2 232.4h0M48.8 221.3h0M45.1 227.6h0M76.5 224.4h0M97.4 243.5h0M122.2 213.4h0M78.3 246.6h0M53.0 218.8h0M130.2 196.1h0M41.7 231.7h0M68.9 238.2h0M74.2 206.4h0M46.9 214.2h0M144.0 202.7h0M89.6 227.8h0M64.2 247.4h0M93.7 204.7h0M65.6 225.3h0M112.9 202.7h0M83.0 240.4h0M90.0 230.0h0M130.2 212.0h0M68.3 241.8h0M93.9 194.2h0M57.5 225.0h0M116.2 235.3h0M104.5 194.0h0M89.9 240.9h0M103.3 218.8h0M73.5 248.4h0M87.5 229.4h0M127.4 242.1h0M121.7 242.6h0M47.6 241.3h0M134.4 215.6h0M129.8 209.1h0M88.4 221.0h0M139.3 228.8h0M62.3 231.9h0M81.2 217.5h0M129.5 203.2h0M145.9 211.0h0M121.8 200.3h0M125.8 241.8h0M49.6 233.7h0M91.5 243.7h0M67.5 215.5h0M89.1 189.7h0M103.1 254.5h0M100.6 229.3h0M139.7 222.7h0M110.4 219.8h0M91.2 199.8h0M61.4 201.9h0M81.6 209.6h0M92.5 217.1h0M134.7 231.0h0M133.9 206.4h0M125.6 248.8h0M66.6 223.0h0M65.6 217.2h0M138.7 202.1h0M89.4 202.6h0M138.0 221.2h0M50.7 224.5h0M54.6 227.3h0M94.0 205.3h0M76.0 232.7h0M128.5 242.7h0M67.6 232.6h0M137.8 217.7h0M96.7 207.4h0M75.8 240.9h0M86.4 245.0h0M43.2 226.7h0M100.1 195.9h0M59.5 234.5h0M141.1 199.5h0M90.5 218.2h0M130.3 215.3h0M64.1 230.7h0M60.1 206.0h0M120.9 224.8h0M131.1 201.9h0M54.1 212.2h0M99.6 208.9h0M66.3 241.4h0M113.5 221.2h0M122.0 246.6h0M69.7 246.9h0M53.1 243.5h0M123.3 198.0h0M98.8 193.9h0M57.9 207.6h0M91.7 218.2h0M93.7 232.7h0M81.8 233.5h0M101.0 241.9h0M116.2 238.5h0M74.9 209.6h0M123.0 193.7h0M52.6 223.3h0M143.1 198.5h0M124.4 204.7h0M62.1 236.7h0M71.1 221.4h0M95.2 239.3h0M77.7 211.9h0M49.6 218.1h0M128.3 188.6h0M136.7 205.7h0M125.3 205.6h0M85.8 199.6h0M71.6 208.1h0M98.6 229.1h0M118.8 215.2h0M139.5 198.3h0M53.2 224.1h0M97.6 250.5h0M120.0 237.4h0M61.5 233.1h0M120.6 197.0h0M110.1 202.0h0M130.6 196.4h0M124.6 235.7h0M53.3 209.4h0M90.4 196.5h0M47.4 213.9h0M81.0 188.9h0M51.5 218.8h0M117.0 190.0h0M46.6 241.6h0M78.3 233.8h0M106.0 204.1h0M86.1 230.5h0M112.7 194.1h0M138.1 236.4h0M103.7 224.8h0M99.5 208.9h0M105.3 245.1h0M140.1 228.6h0M98.8 194.7h0M122.7 212.3h0M136.1 216.8h0M111.5 216.2h0M136.0 199.9h0M96.5 202.0h0M86.4 247.3h0M119.9 232.3h0M66.7 224.1h0M63.7 232.4h0M107.1 253.0h0M55.2 219.7h0M107.6 220.4h0M56.9 222.7h0M137.3 204.8h0M68.2 216.0h0M108.3 211.2h0M118.8 211.4h0M101.4 222.7h0M72.7 210.7h0M66.7 196.8h0M112.6 252.5h0M135.8 193.2h0M71.6 224.6h0M117.0 241.6h0M103.8 227.8h0M90.9 232.1h0M65.8 251.8h0M81.4 199.5h0M122.6 234.8h0M144.0 211.9h0M134.5 247.9h0M125.5 242.3h0M121.2 218.6h0M92.5 226.4h0M113.8 244.0h0M59.4 216.8h0M123.8 202.3h0M42.4 236.8h0M110.6 208.7h0M141.8 226.4h0M112.2 220.9h0M92.4 202.2h0M58.4 216.9h0M56.7 209.6h0M71.9 211.0h0M96.9 203.6h0M135.6 244.4h0M141.2 235.7h0M122.4 243.1h0M110.7 250.4h0M132.9 194.0h0M103.0 210.7h0M60.7 211.1h0M95.7 210.7h0M111.5 228.5h0M52.9 215.9h0M90.4 222.9h0M144.0 202.5h0M92.9 191.2h0M131.6 245.2h0M78.6 240.9h0M60.0 222.5h0M46.1 231.9h0M125.0 195.6h0M48.2 216.1h0M76.4 214.3h0M50.1 224.0h0M121.5 217.2h0M122.7 189.5h0M91.2 196.1h0M84.9 192.8h0M64.6 227.1h0M118.6 228.0h0M77.0 240.5h0M121.5 215.5h0M66.8 243.8h0M107.6 240.2h0M109.4 210.2h0M96.7 248.4h0M139.9 213.6h0M55.0 213.7h0M84.9 201.2h0M75.4 230.8h0M107.4 242.5h0M61.1 225.7h0M102.1 193.0h0M47.2 235.4h0M114.6 239.9h0M119.0 186.9h0M89.3 216.8h0M57.0 243.9h0M124.7 218.6h0M117.8 222.4h0M77.2 199.9h0M65.6 222.3h0M90.4 247.2h0M103.6 253.8h0M130.8 192.5h0M117.9 212.6h0M144.7 207.0h0M45.2 220.0h0M49.8 235.7h0M136.3 217.5h0M111.1 215.0h0M48.2 233.0h0M47.7 246.9h0M82.0 218.0h0M95.0 224.0h0M113.2 247.1h0M71.2 200.2h0M66.2 251.0h0M79.8 215.0h0M63.2 248.4h0M135.3 211.6h0M108.3 225.1h0M62.7 237.7h0M118.9 214.9h0M135.9 194.4h0M76.8 209.8h0M67.1 210.4h0M60.7 204.8h0M49.2 221.4h0M122.8 201.8h0M43.0 228.0h0M112.1 217.6h0M90.4 239.7h0M68.5 222.2h0M106.3 214.5h0M84.0 252.2h0M95.0 242.6h0M126.5 201.4h0M134.0 241.5h0M117.6 248.0h0M73.5 244.6h0M117.9 249.7h0M101.8 227.7h0M134.1 199.9h0M134.8 222.3h0M113.8 250.1h0M92.5 220.1h0M111.3 226.9h0M103.0 234.3h0M127.9 198.7h0M104.0 257.5h0M105.3 240.7h0M59.8 221.1h0M132.0 198.4h0M102.2 236.1h0M66.9 226.6h0M137.1 213.6h0M126.3 197.2h0M123.4 248.4h0M44.2 224.4h0M92.3 193.2h0M109.1 231.7h0M83.7 251.1h0M78.8 201.2h0M54.0 237.8h0M117.7 211.9h0M66.6 240.3h0M52.4 241.7h0M42.2 225.3h0M110.1 237.3h0M67.6 213.1h0M120.4 191.7h0M122.8 210.9h0M130.4 200.3h0M78.8 225.4h0M132.3 205.3h0M136.7 208.8h0M116.2 239.6h0M137.3 199.5h0M131.2 189.5h0M99.3 202.1h0M125.8 225.1h0M131.1 192.0h0M134.7 246.0h0M57.8 210.1h0M92.9 221.8h0M98.5 253.3h0M112.9 244.4h0M87.0 236.1h0M76.8 201.5h0M134.2 236.1h0M48.3 230.2h0M138.9 201.6h0M60.6 223.7h0M107.5 196.0h0M106.3 208.8h0M89.5 246.8h0M42.6 222.4h0M89.3 217.3h0M115.3 187.0h0M94.3 201.3h0M141.6 206.0h0M85.8 241.4h0M113.4 251.5h0M46.5 236.1h0M90.8 237.6h0M124.2 231.3h0M135.6 191.5h0M73.8 242.4h0M127.6 189.3h0M44.0 218.3h0M97.6 249.0h0M135.9 209.4h0M137.7 222.5h0M104.8 238.2h0M102.9 195.6h0M83.1 194.4h0M119.3 202.8h0M72.2 207.8h0M105.8 211.7h0M140.6 225.5h0M135.1 191.1h0M138.3 194.3h0M106.2 224.4h0M99.4 215.5h0M60.5 217.6h0M63.5 200.2h0M96.4 231.8h0M48.6 221.3h0M58.2 221.3h0M75.4 230.7h0M56.5 234.9h0M95.0 222.8h0M124.7 207.3h0M117.6 200.7h0M97.4 224.7h0M135.1 191.7h0M69.2 241.1h0M47.0 218.6h0M109.2 199.7h0M57.5 223.5h0M134.5 201.0h0M92.0 197.5h0M67.0 240.9h0M70.3 231.3h0M56.7 209.1h0M130.4 227.9h0M76.8 192.7h0M63.7 213.4h0M86.8 241.4h0M95.4 198.9h0M125.3 241.3h0M93.5 227.3h0M47.6 239.7h0M85.9 250.4h0M93.1 241.2h0M95.0 220.6h0M85.3 210.5h0M80.6 210.4h0M88.9 239.0h0M46.3 233.6h0M117.5 213.2h0M98.0 251.4h0M83.7 235.4h0M92.4 228.7h0M47.2 216.0h0M121.0 213.7h0M61.0 248.4h0M97.8 254.5h0M63.0 234.9h0M118.1 199.5h0M128.7 226.8h0M87.0 233.7h0M52.3 209.9h0M130.3 207.9h0M105.8 189.7h0M121.4 209.6h0M55.1 235.8h0M65.2 212.3h0M142.3 195.9h0M98.0 198.5h0M94.4 213.8h0M86.4 188.4h0M106.4 220.9h0M72.5 249.3h0M140.0 210.6h0M108.6 236.8h0M89.7 236.4h0M43.0 239.1h0M68.0 211.0h0M101.7 215.7h0M86.9 249.0h0M66.6 208.6h0M42.6 235.8h0M133.5 205.0h0M133.6 216.6h0M136.3 197.6h0M87.9 227.5h0M60.9 249.1h0M143.5 205.3h0M103.1 211.7h0M92.9 237.8h0M44.3 238.9h0M68.3 225.7h0M136.6 233.1h0M63.8 210.6h0M46.6 243.8h0M142.2 208.9h0M77.2 205.5h0M105.8 246.4h0M65.9 234.4h0M87.9 225.5h0M115.1 214.4h0M96.8 226.0h0M118.0 231.4h0M56.2 209.7h0M91.6 188.5h0M76.5 205.9h0M71.3 231.8h0M124.8 235.1h0M49.9 243.6h0M112.9 234.7h0M137.7 230.9h0M53.6 227.1h0M69.6 216.9h0M58.5 210.6h0M74.2 242.8h0M138.0 236.4h0M86.8 208.1h0M116.1 244.7h0M50.7 225.4h0M89.1 241.1h0M90.7 195.8h0M125.1 249.1h0M47.5 220.3h0M50.3 238.4h0M66.5 240.8h0M93.6 223.6h0M72.9 201.5h0M80.9 196.5h0M105.2 224.3h0M119.3 212.9h0M137.9 220.5h0M108.5 195.9h0M121.9 209.7h0M98.5 235.8h0M111.9 249.3h0M109.0 202.3h0M108.4 222.6h0M117.9 196.3h0M107.0 249.3h0M122.5 232.1h0M117.6 204.7h0M129.6 218.5h0M134.5 236.3h0M103.3 254.2h0M76.0 224.5h0M83.5 207.9h0M131.8 227.0h0M104.9 200.3h0M58.0 232.6h0M51.8 245.3h0M65.1 250.3h0M97.1 217.8h0M113.9 241.3h0M115.0 249.6h0M91.1 219.3h0M105.7 203.3h0M141.2 205.6h0M59.1 237.8h0M88.2 193.6h0M129.8 237.0h0M70.1 235.3h0M86.5 216.4h0M68.3 202.4h0M73.3 226.4h0M119.4 247.5h0M131.9 218.6h0M139.2 196.7h0M121.3 189.1h0M88.0 191.4h0M63.1 227.1h0M86.8 210.9h0M84.2 203.0h0M127.7 194.6h0M93.2 228.0h0M122.3 200.8h0M98.4 230.8h0M127.4 246.7h0M77.9 209.9h0M58.5 217.8h0M104.4 213.7h0M89.8 246.1h0M102.1 253.3h0M71.4 215.1h0M132.5 223.3h0M128.2 189.9h0M113.4 212.9h0M45.0 217.1h0M55.1 216.8h0M128.0 212.9h0M66.8 236.3h0M116.7 190.4h0M86.7 191.9h0M75.9 212.5h0M60.5 213.9h0M53.0 228.5h0M68.4 238.1h0M59.8 248.3h0M52.9 223.2h0M72.7 251.7h0M130.3 202.4h0M91.3 200.7h0M85.6 245.9h0M75.6 254.4h0M62.4 222.7h0M85.2 203.2h0M88.0 202.2h0M41.7 237.6h0M69.9 197.2h0M101.0 240.9h0M65.5 241.9h0M135.4 225.7h0M79.7 237.2h0M94.2 241.7h0M142.1 211.9h0M48.9 235.5h0M53.4 216.5h0M64.7 207.0h0M82.9 247.6h0M80.0 200.4h0M121.6 213.4h0M72.7 205.6h0M81.1 200.6h0M57.8 243.8h0M75.9 251.2h0M103.7 243.3h0M101.3 208.6h0M95.8 232.9h0M101.9 234.1h0M62.5 220.6h0M138.7 224.3h0M128.4 204.8h0M57.4 247.1h0M66.4 246.7h0M146.6 203.9h0M105.4 214.1h0M56.9 240.7h0M124.6 246.4h0M80.1 228.8h0M69.0 209.3h0M125.7 229.4h0M87.4 207.7h0M81.8 237.7h0M125.3 239.7h0M49.1 214.2h0M107.8 205.1h0M62.8 242.8h0M106.6 253.9h0M77.1 211.1h0M123.9 243.6h0M117.7 247.8h0M101.9 205.5h0M59.0 230.4h0M49.7 235.9h0M130.9 220.0h0M96.8 243.4h0M81.4 241.5h0M111.3 246.0h0M85.3 238.5h0M117.9 196.4h0M128.3 234.8h0M95.7 236.2h0M104.4 222.1h0M94.9 212.7h0M54.1 212.3h0M110.5 193.8h0M103.7 247.4h0M104.5 246.3h0M96.4 248.5h0M137.1 218.0h0M106.5 252.3h0M112.8 226.5h0M89.8 218.9h0M115.9 245.6h0M80.9 200.1h0M78.2 237.8h0M56.0 243.0h0M83.0 242.4h0M53.9 214.9h0M56.5 244.8h0M88.5 251.6h0M74.2 227.0h0M94.1 247.2h0M77.6 205.8h0M60.8 228.5h0M109.4 197.3h0M58.3 244.5h0M66.9 235.7h0M66.2 247.7h0M99.2 236.1h0M71.6 212.4h0M122.5 191.0h0M58.7 238.3h0M78.8 245.9h0M74.1 203.4h0M129.3 241.6h0M101.4 205.6h0M85.6 240.0h0M42.5 238.0h0M83.4 248.1h0M125.2 204.5h0M135.2 192.1h0M66.4 242.6h0M78.6 214.1h0M101.9 197.4h0M60.6 248.9h0M85.8 195.7h0M90.5 242.2h0M73.4 243.6h0M54.4 222.6h0M104.7 254.5h0M107.1 248.2h0M57.6 223.8h0M50.8 233.6h0M76.9 217.1h0M113.7 230.5h0M83.2 238.3h0M64.8 241.5h0M54.6 209.0h0M90.8 208.5h0M65.0 212.9h0M86.4 198.6h0M56.1 214.9h0M62.6 235.9h0M103.3 228.2h0M101.0 246.2h0M77.4 239.1h0M114.6 197.3h0M129.0 242.6h0M119.8 196.9h0M97.6 200.5h0M67.8 225.1h0M61.2 205.3h0M58.3 200.4h0M93.4 221.8h0M117.8 254.9h0M65.0 198.3h0M86.1 208.1h0M140.6 227.3h0M93.2 223.7h0M67.1 211.9h0M87.2 210.1h0M99.0 231.5h0M92.9 235.8h0M111.9 240.0h0M78.0 231.9h0M51.4 232.4h0M98.4 208.1h0M94.8 229.8h0M101.8 225.1h0M89.8 218.4h0M102.3 244.7h0M55.2 240.1h0M66.1 203.5h0M103.0 226.0h0M63.1 233.5h0M51.8 230.6h0M106.8 241.9h0M122.1 251.7h0M86.6 248.9h0M101.2 244.6h0M91.7 242.9h0M72.5 215.6h0M77.6 205.0h0M102.1 205.7h0M121.0 210.9h0M48.6 225.3h0M123.0 200.5h0M130.5 222.9h0M129.5 215.4h0M74.8 252.1h0M134.7 235.1h0M108.5 247.9h0M95.6 237.8h0M129.4 196.7h0M90.4 248.1h0M121.2 206.8h0M133.6 228.0h0M111.8 209.2h0M104.7 256.4h0M102.2 225.6h0M90.7 250.9h0M138.5 196.4h0M101.8 192.7h0M111.9 248.8h0M129.1 231.8h0M136.2 219.9h0M88.8 223.8h0M91.7 236.3h0M114.5 245.6h0M66.8 203.2h0M73.2 230.6h0M103.6 232.8h0M54.2 222.4h0M97.6 256.8h0M95.9 216.3h0M49.0 232.2h0M103.2 202.9h0M56.1 239.8h0M141.4 206.3h0M80.6 239.5h0M121.7 191.5h0M126.5 209.1h0M136.8 240.5h0M95.3 227.1h0M106.2 244.2h0M110.7 206.4h0M69.9 213.3h0M91.3 215.8h0M104.7 191.2h0M73.2 219.7h0M138.0 199.0h0M114.3 246.2h0M88.9 223.0h0M129.1 197.8h0M134.0 199.7h0M90.6 229.6h0M72.9 205.0h0M115.1 237.4h0M69.2 248.5h0M62.5 206.0h0M126.0 232.3h0M109.4 224.5h0M112.4 201.6h0M63.9 212.1h0M77.8 215.3h0M67.6 240.3h0M135.7 233.6h0M143.6 221.5h0M78.8 250.8h0M43.9 224.6h0M57.7 206.4h0M125.3 226.9h0M49.9 244.7h0M69.0 215.2h0M96.5 227.2h0M110.6 231.8h0M130.1 234.8h0M113.2 205.2h0M137.9 228.2h0M57.2 213.0h0M114.4 196.4h0M138.5 209.0h0M62.9 243.3h0M70.4 194.5h0M50.3 222.2h0M81.3 210.6h0M142.2 210.6h0M124.8 225.9h0M69.5 231.4h0M109.6 227.1h0M76.2 203.7h0M74.1 211.0h0M64.2 218.8h0M103.3 214.5h0M114.2 243.3h0M122.9 239.3h0M104.8 200.7h0M60.7 246.4h0M123.4 253.8h0M139.5 233.2h0M50.2 242.4h0M129.4 216.5h0M93.8 191.1h0M88.8 244.7h0M74.7 227.4h0M61.3 233.6h0M96.2 229.5h0M124.7 203.3h0M51.2 229.6h0M81.4 199.5h0M62.3 251.3h0M123.3 227.2h0M60.8 238.1h0M115.0 211.5h0M127.8 202.3h0M60.7 203.9h0M104.5 202.8h0M104.1 254.4h0M74.7 209.4h0M90.0 211.1h0M94.3 221.3h0M91.5 241.3h0M112.7 234.9h0M105.8 229.2h0M84.4 210.4h0M115.2 215.9h0M70.0 234.6h0M89.9 228.6h0M51.1 216.7h0M92.4 212.7h0M112.2 194.5h0M100.8 250.5h0M72.5 201.2h0M100.3 229.3h0M102.1 240.1h0M83.1 225.8h0M113.1 214.8h0M56.4 213.7h0M99.8 234.8h0M129.9 203.1h0M62.8 246.1h0M134.6 239.8h0M47.2 229.4h0M103.0 190.2h0M141.9 234.1h0M107.8 245.1h0M61.2 214.9h0M65.3 230.1h0M90.4 208.3h0M50.1 234.0h0M83.9 239.7h0M131.3 219.4h0M117.6 221.2h0M70.7 203.4h0M106.6 242.1h0M76.3 235.9h0M119.3 205.6h0M137.7 241.4h0M139.0 213.6h0M119.6 226.9h0M53.2 218.7h0M134.7 234.0h0M87.4 205.5h0M49.9 241.9h0M98.5 205.4h0M113.9 250.7h0M89.7 232.8h0M61.2 211.1h0M130.3 243.5h0M104.7 213.6h0M112.6 242.2h0M60.0 242.0h0M124.5 213.2h0M87.1 196.2h0M106.8 211.3h0M131.8 219.7h0M47.7 216.4h0M48.3 219.5h0M73.8 232.4h0M54.4 239.1h0M134.8 196.6h0M122.3 188.0h0M45.5 228.3h0M50.5 211.4h0M47.3 223.0h0M41.1 231.1h0M133.1 215.9h0M93.7 221.4h0M77.8 243.6h0M69.6 202.7h0M85.2 229.9h0M104.0 250.7h0M74.0 216.8h0M72.2 254.2h0M98.1 236.3h0M108.6 200.9h0M80.7 210.1h0M107.6 211.1h0M43.2 226.1h0M61.1 218.6h0M89.8 224.0h0M115.0 228.3h0M117.4 193.8h0M40.3 227.8h0M87.4 232.4h0M105.6 244.8h0M53.8 211.9h0M134.2 235.6h0M104.5 238.5h0M102.0 234.9h0M76.5 203.9h0M130.0 210.9h0M109.1 188.4h0M136.1 227.2h0M122.7 231.3h0M70.3 192.0h0M78.2 230.2h0M52.6 218.7h0M71.8 234.5h0M63.8 212.6h0M102.6 211.0h0M113.0 206.9h0M71.7 219.5h0M56.5 217.6h0M73.7 236.4h0M89.8 218.3h0M95.7 205.3h0M107.0 214.3h0M64.4 211.6h0M74.4 201.9h0M88.0 224.6h0M130.3 189.9h0M87.0 239.1h0M133.0 227.0h0M56.5 231.2h0M98.2 230.6h0M78.7 226.6h0M48.4 222.7h0M102.3 210.6h0M105.2 193.7h0M48.7 232.0h0M73.5 194.8h0M137.0 194.8h0M113.0 207.3h0M86.5 203.0h0M58.1 239.7h0M102.6 246.3h0M64.8 198.3h0M78.5 241.9h0M128.2 205.0h0M42.5 231.5h0M120.4 204.1h0M61.1 203.5h0M130.0 198.1h0M103.1 218.5h0M108.8 227.9h0M104.1 236.8h0M129.2 206.9h0M103.3 195.5h0M131.3 229.8h0M60.6 234.1h0M61.8 199.1h0M135.4 241.4h0M118.9 188.0h0M108.0 223.5h0M112.9 213.1h0M100.2 249.5h0M81.3 220.7h0M104.2 198.9h0M76.2 212.4h0M53.3 230.7h0M141.1 197.6h0M83.8 188.8h0M120.0 198.4h0M47.9 217.9h0M45.6 226.2h0M86.3 235.5h0M137.2 222.4h0M117.5 241.5h0M122.3 209.0h0M118.4 237.0h0M63.9 205.5h0M131.4 191.9h0M69.4 225.7h0M122.1 228.5h0M81.1 211.0h0M64.2 218.4h0M113.1 212.5h0M84.1 218.0h0M100.0 238.0h0M102.7 252.4h0M99.0 246.7h0M114.8 247.0h0M61.2 237.0h0M89.9 223.5h0M137.2 198.2h0M73.4 195.5h0M62.3 219.0h0M86.4 227.1h0M116.3 213.1h0M99.6 196.2h0M124.4 219.3h0M52.4 214.9h0M132.3 222.3h0M120.2 210.3h0M108.6 233.9h0M85.1 199.2h0M82.0 208.6h0M75.1 245.7h0M133.8 200.5h0M102.5 204.8h0M104.9 199.8h0M68.0 213.0h0M69.4 206.4h0M50.9 222.4h0M60.9 208.2h0M117.3 224.4h0M128.2 240.5h0M78.4 208.2h0M41.1 226.4h0M71.8 200.8h0M62.4 222.4h0M110.7 188.8h0M71.4 235.6h0M134.5 225.9h0M44.2 235.8h0M138.7 194.5h0M114.1 195.0h0M130.8 239.9h0M138.4 201.0h0M98.6 211.4h0M102.2 247.5h0M50.6 242.6h0M140.8 233.2h0M119.2 212.2h0M80.1 234.2h0M56.7 242.9h0M58.8 247.7h0M100.7 201.6h0M104.6 244.1h0M133.0 227.5h0M61.5 236.1h0M93.8 201.9h0M130.5 230.5h0M60.8 218.1h0M110.3 236.8h0M94.4 212.5h0M95.7 199.1h0M87.1 245.6h0M83.8 190.5h0M74.4 236.7h0M124.4 213.0h0M121.7 190.2h0M63.8 245.2h0M95.3 233.9h0M59.2 236.0h0M137.0 196.4h0M97.4 194.4h0M108.0 190.4h0M64.6 224.7h0M85.7 245.2h0M110.6 223.0h0M95.3 203.3h0M81.1 217.8h0M123.7 242.8h0M56.1 245.2h0M42.6 231.9h0M83.7 225.7h0M44.1 217.9h0M92.3 242.5h0M59.5 221.5h0M95.8 207.0h0M65.6 203.3h0M107.3 197.7h0M138.6 234.8h0M123.5 192.1h0M95.3 251.7h0M57.4 203.3h0M56.7 242.1h0M120.4 248.0h0M95.7 224.2h0M93.7 247.5h0M82.5 240.8h0M51.7 240.6h0M57.8 215.3h0M85.5 238.9h0M85.6 219.0h0M90.0 202.6h0M108.9 212.2h0M64.9 232.8h0M75.6 219.2h0M119.7 208.8h0M109.9 245.7h0M110.8 203.5h0M97.4 204.2h0M99.3 199.7h0M90.9 255.1h0M130.1 203.8h0M56.2 238.7h0M136.5 240.1h0M118.1 227.5h0M83.1 216.1h0M115.0 251.1h0M114.2 239.5h0M127.7 232.4h0M107.2 240.2h0M134.3 243.5h0M113.4 235.6h0M66.7 217.8h0M136.1 196.2h0M94.6 247.3h0M97.0 248.9h0M112.9 202.3h0M67.6 239.0h0M83.8 211.0h0M49.9 226.4h0M61.3 235.5h0M76.5 202.9h0M84.1 225.3h0M95.9 202.6h0M96.3 208.3h0M112.8 213.7h0M92.4 189.8h0M71.1 232.5h0M82.7 198.1h0M74.2 228.4h0M40.8 230.0h0M52.4 221.4h0M135.0 230.4h0M90.5 220.8h0M124.4 205.5h0M143.7 209.5h0M95.0 241.9h0M68.4 234.7h0M111.2 213.4h0M120.0 237.9h0M141.5 198.6h0M129.3 212.4h0M101.4 227.9h0M48.5 236.5h0M90.1 203.0h0M96.8 236.3h0M88.2 234.3h0M95.8 195.7h0M64.6 238.5h0M113.3 240.0h0M138.3 202.8h0M92.8 225.0h0M97.7 199.3h0M129.6 199.1h0M50.2 223.1h0M90.3 224.9h0M131.7 227.8h0M65.4 215.6h0M73.2 227.3h0M91.1 223.6h0M104.2 250.8h0M113.3 232.3h0M55.2 225.8h0M105.1 199.3h0M115.1 254.6h0M103.7 256.5h0M137.5 242.8h0M125.3 228.8h0M136.4 229.1h0M96.5 255.2h0M69.3 219.6h0M104.5 214.4h0M64.9 200.5h0M101.0 235.9h0M69.5 229.9h0M70.1 239.8h0M61.8 201.2h0M46.8 222.2h0M75.5 235.1h0M134.9 204.2h0M70.6 229.1h0M84.7 191.8h0M89.2 236.7h0M117.5 238.9h0M79.8 209.3h0M62.1 231.0h0M110.8 206.1h0M60.8 215.6h0M77.2 203.9h0M93.9 244.8h0M68.0 245.4h0M110.3 192.9h0M99.0 234.4h0M115.8 239.3h0M60.8 228.1h0M62.1 240.8h0M121.4 203.0h0M122.1 201.7h0M86.0 219.4h0M101.0 212.0h0M130.6 221.0h0M103.7 207.4h0M96.5 226.3h0M58.8 214.4h0M81.0 215.0h0M43.0 231.0h0M80.4 229.0h0M144.2 209.8h0M83.4 209.9h0M122.5 205.4h0M52.7 235.6h0M130.9 231.1h0M79.0 232.9h0M82.0 219.1h0M74.5 207.6h0M124.0 198.9h0M132.3 208.8h0M50.4 244.1h0M76.3 232.4h0M115.7 242.6h0M66.8 235.4h0M45.9 229.9h0M94.4 235.8h0M59.1 236.1h0M78.1 190.9h0M95.7 229.0h0M128.0 239.2h0M101.1 240.9h0M82.2 203.8h0M127.5 190.5h0M117.3 241.0h0M59.1 230.2h0M78.1 196.7h0M49.2 230.8h0M77.0 233.4h0M103.1 192.2h0M123.4 196.0h0M140.4 225.1h0M70.7 215.5h0M125.2 191.3h0M110.2 203.2h0M115.6 234.4h0M111.1 214.7h0M52.4 222.6h0M49.3 224.5h0M116.5 225.7h0M138.1 229.0h0M101.6 217.7h0M86.8 214.8h0M75.9 244.1h0M130.8 246.2h0M116.4 189.3h0M66.4 220.0h0M71.5 246.3h0M121.5 204.9h0M90.3 224.3h0M95.3 244.1h0M60.9 213.9h0M140.7 198.5h0M67.0 214.6h0M116.0 235.7h0M108.3 190.5h0M45.6 216.3h0M55.8 234.8h0M91.8 220.9h0M93.3 234.7h0M114.2 190.7h0M67.1 215.8h0M65.3 198.1h0M97.8 208.4h0M45.0 239.5h0M88.2 226.6h0M125.0 231.6h0M65.7 239.7h0M135.7 201.2h0M57.9 218.6h0M72.1 234.5h0M103.2 221.2h0M125.8 218.8h0M104.1 213.5h0M136.0 229.7h0M90.5 238.0h0M96.9 198.4h0M61.6 230.6h0M130.3 236.8h0M71.0 227.1h0M89.9 248.3h0M51.2 215.8h0M52.4 211.2h0M79.7 201.4h0M78.9 235.6h0M88.1 208.3h0M76.4 230.8h0M66.9 250.4h0M49.0 221.2h0M121.1 194.0h0M114.5 197.3h0M63.8 230.9h0M120.4 246.6h0M131.7 234.6h0M136.4 231.8h0M107.8 253.7h0M129.5 223.4h0M139.3 193.4h0M118.9 253.0h0M85.1 194.3h0M63.8 221.1h0M59.5 241.6h0M131.6 232.4h0M56.5 243.6h0M104.8 224.2h0M145.2 202.3h0M133.5 232.0h0M61.7 217.6h0M114.4 233.4h0M57.8 231.9h0M95.3 199.4h0M107.1 253.7h0M118.1 236.7h0M98.5 198.1h0M98.6 195.9h0M104.3 242.2h0M122.6 198.4h0M133.9 240.6h0M108.8 243.7h0M102.9 200.4h0M108.8 236.2h0M71.0 211.1h0M107.7 211.1h0M75.6 223.8h0M56.4 249.0h0M97.0 219.6h0M117.5 250.5h0M62.4 205.5h0M84.2 206.7h0M75.7 205.1h0M91.0 196.9h0M50.3 216.7h0M52.4 216.9h0M104.7 205.0h0M120.3 202.4h0M96.4 240.9h0M143.5 222.0h0M52.9 218.6h0M48.8 234.5h0M122.2 208.7h0M56.1 203.3h0M82.9 187.7h0M78.1 199.5h0M52.7 235.6h0M126.1 202.0h0M108.5 214.6h0M85.1 250.4h0M101.1 212.1h0M117.0 183.8h0M69.7 241.8h0M97.3 255.2h0M133.8 237.0h0M87.6 207.5h0M51.1 220.9h0M83.6 205.7h0M90.9 238.6h0M77.6 204.6h0M82.6 245.7h0M106.7 208.7h0M101.9 207.5h0M120.8 206.8h0M42.6 234.9h0M134.0 242.3h0M138.8 200.8h0M75.9 202.8h0M61.1 232.7h0M108.1 237.9h0M67.1 209.5h0M90.3 216.7h0M124.1 198.0h0M89.1 232.3h0M90.5 197.2h0M56.0 246.4h0M81.9 236.5h0M100.0 223.8h0M87.5 200.0h0M72.1 233.6h0M97.7 231.8h0M83.7 196.8h0M87.6 238.2h0M42.4 223.9h0M126.2 209.2h0M141.0 223.3h0M85.3 225.1h0M56.8 246.3h0M92.5 228.5h0M78.3 227.9h0M51.5 222.2h0M50.1 216.3h0M76.8 198.9h0M112.9 201.8h0M67.8 207.2h0M82.4 211.6h0M98.9 211.4h0M51.9 225.9h0M115.3 212.1h0M124.0 211.2h0M123.3 247.9h0M134.6 229.1h0M108.3 243.6h0M53.1 218.0h0M81.3 207.4h0M131.2 241.6h0M52.0 209.5h0M57.4 220.2h0M133.6 219.7h0M115.7 204.6h0M137.1 192.4h0M69.7 228.4h0M77.5 229.8h0M96.8 247.1h0M49.5 236.4h0M55.5 232.4h0M53.4 244.7h0M84.9 197.5h0M121.0 191.0h0M47.8 231.0h0M87.5 239.4h0M112.2 206.2h0M81.9 229.4h0M45.2 225.0h0M66.9 205.0h0M126.8 243.2h0M94.7 205.2h0M116.0 247.8h0M119.2 234.2h0M135.4 190.8h0M44.6 223.6h0M137.6 229.4h0M57.8 233.8h0M118.0 195.8h0M103.5 235.7h0M122.9 197.0h0M50.0 242.1h0M58.4 240.6h0M92.5 247.8h0M59.9 207.5h0M135.4 243.7h0M91.1 219.3h0M91.7 217.4h0M120.4 201.7h0M129.7 196.0h0M66.4 226.1h0M78.5 233.5h0M84.4 217.8h0M72.3 227.7h0M93.2 218.7h0M51.8 244.1h0M46.2 237.4h0M64.8 249.4h0M104.7 237.9h0M117.6 249.8h0M138.9 201.9h0M50.3 220.7h0M91.3 246.2h0M108.2 198.3h0M99.1 200.1h0M55.8 210.1h0M131.0 194.4h0M50.6 208.2h0M111.8 222.9h0M49.0 217.5h0M98.6 211.9h0M116.5 251.0h0M110.9 223.9h0M137.4 231.5h0M115.7 242.4h0M133.5 200.5h0M134.2 233.2h0M91.1 211.0h0M128.5 206.9h0M66.0 220.7h0M50.7 222.1h0M50.4 224.2h0M97.2 222.7h0M59.8 209.5h0M90.4 209.3h0M52.5 220.1h0M58.4 229.6h0M74.5 230.2h0M115.4 212.4h0M124.6 193.8h0M74.3 195.8h0M48.2 240.6h0M141.8 228.7h0M98.7 196.8h0M118.6 211.6h0M127.6 203.1h0M71.5 219.1h0M55.3 244.6h0M88.0 237.0h0M92.4 239.3h0M93.7 246.8h0M126.6 205.8h0M133.4 207.4h0M69.4 245.8h0M95.7 245.9h0M104.1 201.8h0M127.8 250.9h0M49.8 235.6h0M136.5 203.0h0M118.3 192.7h0M46.3 224.1h0M125.7 227.6h0M140.2 226.9h0M76.0 208.3h0M92.2 191.7h0M56.5 238.6h0M101.2 192.0h0M122.9 238.4h0M40.2 227.4h0M103.0 229.2h0M94.7 211.6h0M114.2 199.3h0M47.7 239.9h0M138.3 209.9h0M75.5 190.8h0M51.2 215.2h0M134.2 192.2h0M71.9 196.3h0M110.6 208.8h0M50.9 245.8h0M67.9 235.4h0M110.0 225.2h0M68.4 195.5h0M63.6 211.0h0M102.9 200.0h0M49.5 241.8h0M137.0 235.2h0M82.7 195.0h0M105.7 209.9h0M68.7 195.4h0M50.8 229.5h0M114.6 202.3h0M100.9 233.3h0M66.9 217.5h0M76.5 252.8h0M84.4 216.3h0M94.7 236.1h0M52.0 230.3h0M58.2 237.9h0M43.6 234.5h0M75.4 212.4h0M55.5 207.1h0M54.3 238.3h0M57.9 211.8h0M105.7 193.1h0M127.5 201.1h0M56.0 229.1h0M57.7 243.7h0M51.3 209.6h0M91.3 201.5h0M98.4 212.6h0M134.1 192.2h0M79.0 200.6h0M84.3 193.6h0M58.0 203.9h0M102.3 192.0h0M140.3 208.4h0M89.8 194.2h0M103.2 210.4h0M94.0 193.1h0M125.4 198.9h0M120.5 224.7h0M68.5 230.9h0M56.9 209.0h0M81.5 225.0h0M61.1 212.3h0M58.0 218.5h0M133.8 224.8h0M49.6 220.5h0M65.4 214.0h0M127.2 201.9h0M57.2 244.1h0M44.9 231.1h0M58.5 232.9h0M60.0 242.7h0M66.9 238.5h0M98.3 219.3h0M126.9 200.1h0M90.7 219.7h0M122.3 230.0h0M132.2 206.0h0M47.9 242.1h0M120.5 211.1h0M100.5 221.9h0M55.9 246.7h0M101.3 202.1h0M61.8 217.6h0M66.1 236.1h0M129.6 218.2h0M109.5 216.3h0M119.7 208.6h0M127.8 200.1h0M63.0 252.3h0M77.7 214.7h0M122.8 234.3h0M89.1 195.1h0M108.0 191.2h0M42.6 232.9h0M133.9 225.2h0M89.1 215.1h0M127.5 246.2h0M73.6 243.1h0M122.4 244.7h0M136.8 239.3h0M124.7 250.3h0M78.5 207.4h0M76.0 200.1h0M117.0 244.3h0M95.9 249.6h0M94.0 241.3h0M59.1 207.8h0M105.7 249.5h0M110.0 240.2h0M112.0 243.3h0M64.9 199.1h0M121.7 189.3h0M76.5 209.7h0M49.9 232.2h0M124.1 237.4h0M128.7 229.8h0M85.2 218.5h0M60.6 247.8h0M103.1 249.4h0M138.4 239.7h0M133.2 237.3h0M45.5 232.8h0M118.0 198.8h0M68.5 213.0h0M50.2 229.8h0M80.8 209.3h0M109.7 237.7h0M77.9 200.2h0M140.1 196.9h0M118.1 249.8h0M74.0 232.0h0M124.4 201.0h0M60.0 208.0h0M86.8 248.1h0M129.7 194.6h0M74.6 200.7h0M110.5 246.9h0M98.1 238.6h0M42.0 230.9h0M93.8 216.5h0M123.6 204.5h0M73.8 233.0h0M120.6 231.4h0M67.9 223.4h0M96.0 194.3h0M59.6 240.2h0M59.8 225.8h0M69.7 249.2h0M96.5 246.7h0M63.3 220.1h0M63.3 246.1h0M89.9 200.5h0M130.2 207.5h0M118.8 203.6h0M104.9 216.0h0M60.5 247.7h0M98.4 245.7h0M117.2 213.5h0M88.1 214.8h0M87.7 233.5h0M84.0 219.0h0M84.9 245.3h0M110.3 215.7h0M106.2 221.0h0M56.5 220.1h0M141.1 229.2h0M121.1 248.8h0M134.6 241.0h0M133.4 207.7h0M137.6 237.6h0M121.4 233.6h0M67.9 219.4h0M107.0 241.3h0M120.9 245.2h0M117.1 215.5h0M62.0 206.9h0M91.7 191.2h0M81.8 247.5h0M74.0 231.2h0M103.6 249.1h0M99.6 215.4h0M107.2 244.7h0M47.7 240.0h0M132.0 213.8h0M128.9 211.9h0M67.1 204.6h0M60.7 243.4h0M61.0 229.9h0M90.7 196.9h0M74.8 214.7h0M91.4 242.3h0M82.6 239.8h0M95.3 216.9h0M142.9 201.0h0M58.0 212.9h0M120.1 236.4h0M64.3 235.3h0M108.0 193.2h0M120.7 237.0h0M118.6 233.5h0M127.4 190.7h0M46.5 224.5h0M117.9 230.9h0M134.9 242.0h0M116.3 202.9h0M102.8 216.7h0M105.6 190.9h0M89.9 200.8h0M134.4 204.9h0M49.7 226.8h0M107.4 198.1h0M129.3 202.5h0M83.8 222.0h0M135.2 196.8h0M75.3 239.9h0M76.5 204.6h0M51.9 227.0h0M103.1 199.7h0M94.9 195.8h0M64.5 232.7h0M72.3 237.1h0M63.3 247.1h0M68.8 200.4h0M121.4 228.7h0M71.1 244.3h0M133.0 225.7h0M105.1 205.8h0M123.9 203.4h0M89.6 203.7h0M65.9 203.2h0M92.0 214.9h0M92.8 225.3h0M72.8 247.9h0M140.6 205.4h0M54.8 220.9h0M103.3 241.2h0M99.2 228.9h0M129.1 238.8h0M104.6 219.8h0M82.7 237.8h0M126.8 212.4h0M59.9 216.2h0M75.1 199.6h0M126.3 236.2h0M101.0 199.2h0M108.0 217.9h0M67.5 214.8h0M105.1 201.2h0M90.8 229.9h0M143.3 199.1h0M95.0 233.2h0M69.4 247.6h0M97.5 214.2h0M71.1 241.6h0M111.7 192.0h0M106.6 199.0h0M123.8 218.8h0M81.2 239.1h0M73.8 223.1h0M97.7 222.9h0M143.5 208.7h0M59.5 208.2h0M59.6 201.1h0M83.8 248.4h0M56.9 213.8h0M94.7 242.5h0M124.1 195.6h0M132.0 209.7h0M118.0 247.4h0M48.1 235.6h0M126.7 210.3h0M117.2 241.0h0M87.3 213.1h0M105.9 228.1h0M67.8 243.7h0M47.2 235.4h0M93.2 246.6h0M114.5 192.6h0M59.1 246.7h0M109.4 234.5h0M47.6 212.4h0M110.5 224.9h0M119.0 188.3h0M116.4 248.7h0M65.2 202.1h0M45.8 233.0h0M92.2 235.4h0M121.8 198.7h0M70.4 237.3h0M46.1 230.0h0M115.5 191.8h0M128.4 229.8h0M108.6 245.5h0M107.9 204.8h0M103.1 197.1h0M132.8 212.6h0M76.3 248.8h0M118.7 200.5h0M119.4 196.2h0M56.2 216.9h0M104.4 234.0h0M112.0 218.5h0M123.8 236.5h0M117.4 212.3h0M107.4 198.9h0M63.7 208.4h0M44.2 227.9h0M108.6 198.9h0M62.4 233.9h0M66.0 245.4h0M104.5 234.7h0M59.8 223.4h0M64.6 199.5h0M98.8 228.1h0M83.1 194.4h0M94.0 191.4h0M80.5 222.1h0M124.6 216.9h0M101.7 251.7h0M76.1 233.8h0M43.8 225.2h0M68.6 227.4h0M71.8 240.9h0M111.4 233.5h0M102.4 244.3h0M134.9 236.5h0M85.7 235.9h0M62.9 218.8h0M104.5 218.0h0M62.2 236.2h0M106.5 243.3h0M75.0 253.7h0M57.4 233.2h0M49.1 240.0h0M42.7 225.7h0M87.7 240.2h0M67.1 235.9h0M140.4 195.0h0M101.7 214.3h0M126.0 226.6h0M83.0 193.9h0M120.1 206.7h0M140.3 202.9h0M51.8 225.0h0M50.6 243.8h0M100.3 216.1h0M43.1 229.9h0M55.8 227.1h0M137.8 218.8h0M53.2 243.9h0M76.6 244.2h0M106.0 252.5h0M146.1 202.9h0M85.0 246.0h0M82.2 243.3h0M122.8 216.5h0M90.8 196.2h0M126.8 204.6h0M92.7 224.7h0M72.6 209.4h0M50.6 244.9h0M89.6 216.6h0M61.2 204.6h0M111.4 212.5h0M116.0 239.7h0M101.3 236.8h0M125.2 214.0h0M116.9 254.4h0M119.1 199.5h0M100.8 224.1h0M107.5 252.9h0M100.7 219.6h0M134.9 238.8h0M109.8 235.0h0M79.7 200.9h0M124.2 200.2h0M87.2 244.6h0M96.6 205.1h0M88.7 242.2h0M49.9 213.9h0M104.0 248.3h0M76.2 241.2h0M95.3 226.0h0M61.9 214.1h0M94.6 218.8h0M90.4 222.9h0M134.0 227.2h0M91.0 230.5h0M107.1 227.2h0M69.6 249.6h0M56.2 242.9h0M125.3 236.7h0M102.7 234.2h0M96.6 230.3h0M58.4 218.4h0M89.8 208.8h0M51.2 226.3h0M54.0 239.0h0M85.7 244.5h0M68.1 239.8h0M117.3 250.8h0M132.2 213.1h0M90.2 225.9h0M98.8 241.2h0M135.2 196.5h0M68.6 214.8h0M59.8 218.8h0M88.3 197.1h0M91.4 237.7h0M93.0 253.2h0M137.5 235.6h0M56.1 231.8h0M54.3 236.9h0M105.1 219.4h0M60.2 213.8h0M65.3 229.1h0M43.1 225.2h0M123.1 238.8h0M98.6 245.6h0M113.3 217.5h0M79.4 201.9h0M110.6 234.3h0M107.3 193.2h0M129.8 210.2h0M91.1 239.3h0M58.1 230.6h0M134.2 241.2h0M131.8 194.9h0M121.2 205.4h0M105.4 239.9h0M107.4 202.5h0M83.8 212.5h0M124.9 199.9h0M53.6 215.4h0M65.7 209.2h0M102.4 249.7h0M43.9 220.4h0M78.8 218.2h0M133.5 234.3h0M100.9 243.9h0M131.5 214.1h0M74.1 204.2h0M80.5 212.5h0M91.9 207.5h0M83.8 243.6h0M135.3 220.0h0M94.2 242.6h0M129.3 196.2h0M99.2 239.8h0M57.0 220.0h0M127.7 210.4h0M111.6 206.7h0M72.7 244.2h0M105.6 202.7h0M119.3 201.0h0M55.7 247.4h0M118.4 211.0h0M86.9 192.1h0M46.4 211.7h0M81.4 234.7h0M81.9 220.4h0M53.3 206.6h0M91.2 218.9h0M51.6 229.6h0M107.3 205.7h0M116.1 238.9h0M71.2 242.1h0M112.5 234.2h0M63.1 213.9h0M61.6 213.9h0M108.9 217.9h0M55.1 242.1h0M114.7 214.7h0M89.1 215.9h0M95.7 240.7h0M102.2 196.1h0M105.3 236.5h0M99.0 233.4h0M94.9 215.1h0M138.6 231.2h0M101.1 241.8h0M82.7 243.0h0M54.5 240.5h0M124.4 231.5h0M86.9 231.7h0M99.5 195.0h0M103.6 195.4h0M119.4 220.0h0M144.3 211.0h0M54.2 212.0h0M88.8 213.5h0M122.1 247.0h0M143.5 213.9h0M101.7 236.7h0M64.8 230.6h0M71.2 243.9h0M64.0 232.7h0M105.1 236.1h0M128.5 206.3h0M90.0 243.6h0M61.9 222.0h0M121.9 220.7h0M90.0 244.8h0M99.1 213.4h0M88.7 238.0h0M111.3 186.9h0M97.4 229.3h0M94.1 249.1h0M74.0 226.1h0M97.5 213.0h0M105.4 226.4h0M90.8 233.6h0M138.1 238.0h0M94.5 233.6h0M125.5 250.5h0M102.7 193.7h0M94.4 218.2h0M125.0 195.8h0M57.9 228.1h0M108.7 199.5h0M66.2 217.3h0M128.1 194.2h0M129.1 206.0h0M105.1 231.6h0M50.4 235.3h0M78.2 218.3h0M62.1 205.6h0M136.1 236.7h0M62.8 216.6h0M129.8 229.3h0M138.6 216.3h0M70.2 211.6h0M117.5 245.9h0M51.0 230.6h0M141.8 227.4h0M133.3 243.5h0M125.0 206.2h0M121.8 191.1h0M94.5 205.7h0M60.2 213.4h0M101.1 228.4h0M118.1 190.8h0M126.7 203.3h0M54.8 221.2h0M126.1 236.2h0M58.2 218.2h0M89.6 193.0h0M102.3 198.2h0M58.8 230.9h0M91.2 236.2h0M84.4 189.3h0M111.6 238.6h0M62.4 246.2h0M141.2 229.2h0M53.7 226.2h0M116.3 234.8h0M136.0 199.2h0M113.5 190.6h0M90.9 235.7h0M57.0 241.0h0M86.6 241.1h0M110.4 255.0h0M61.2 245.4h0M73.3 206.9h0M85.5 223.8h0M138.1 204.5h0M119.5 199.4h0M85.8 245.7h0M124.9 217.3h0M108.3 214.4h0M69.7 243.9h0M114.5 220.0h0M72.4 228.2h0M102.4 229.1h0M77.9 253.7h0M110.2 212.5h0M96.3 254.9h0M62.0 215.9h0M83.3 243.4h0M117.5 188.2h0M61.6 248.3h0M108.1 255.6h0M124.9 224.8h0M72.1 225.9h0M122.5 193.6h0M93.9 217.5h0M120.8 244.5h0M67.1 217.8h0M57.4 211.1h0M133.2 238.7h0M111.0 201.8h0M41.4 219.7h0M132.8 248.6h0M56.8 224.5h0M65.0 207.3h0M138.2 199.2h0M86.1 197.0h0M55.5 214.0h0M92.0 238.6h0M56.3 248.6h0M118.8 197.0h0M116.5 197.9h0M57.8 235.0h0M99.4 202.2h0M62.4 207.0h0M124.2 250.8h0M78.5 232.5h0M92.0 197.0h0M72.8 227.9h0M84.6 240.6h0M142.0 230.5h0M101.5 219.7h0M132.4 213.1h0M77.1 237.9h0M60.7 216.8h0M84.6 190.1h0M84.7 192.0h0M116.9 211.5h0M82.4 242.8h0M44.0 240.4h0M102.0 197.9h0M137.2 199.4h0M98.7 233.3h0M123.8 224.9h0M91.7 229.0h0M107.7 197.4h0M124.9 243.7h0M99.6 213.1h0M91.4 240.3h0M86.9 222.6h0M51.0 245.9h0M64.8 228.2h0M134.5 244.7h0M124.4 198.4h0M126.7 206.6h0M106.3 247.1h0M73.5 206.7h0M76.6 199.1h0M83.0 214.0h0M99.4 254.0h0M107.8 234.9h0M87.7 225.9h0M97.2 208.6h0M81.1 249.2h0M86.5 223.6h0M122.3 204.9h0M105.2 195.7h0M79.5 217.4h0M91.4 228.2h0M68.2 245.0h0M52.3 224.5h0M85.8 241.4h0M52.6 234.4h0M132.5 200.0h0M55.5 247.0h0M135.0 234.7h0M60.8 244.1h0M72.0 206.8h0M84.2 244.5h0M134.3 201.3h0M50.0 225.0h0M92.9 221.8h0M48.6 221.0h0M131.4 201.7h0M105.7 208.6h0M102.1 227.8h0M121.3 238.6h0M50.9 221.6h0M71.1 214.6h0M102.4 253.1h0M97.1 203.9h0M130.8 228.0h0M69.1 201.3h0M98.3 230.2h0M70.6 234.0h0M107.3 221.4h0M135.7 222.4h0M133.2 214.2h0M122.2 215.1h0M74.4 234.9h0M66.3 238.4h0M88.9 229.1h0M53.2 235.1h0M67.8 229.9h0M109.4 194.8h0M106.0 189.2h0M60.0 218.3h0M65.9 251.6h0M73.1 248.6h0M92.0 214.5h0M64.9 204.4h0M84.8 238.8h0M68.4 205.7h0M40.7 236.0h0M86.7 236.2h0M101.9 216.5h0M104.4 221.4h0M113.8 211.7h0M120.9 235.4h0M112.7 239.5h0M109.4 189.8h0M111.4 227.6h0M83.4 213.3h0M107.6 236.4h0M107.8 208.5h0M124.6 206.9h0M104.5 255.2h0M105.5 197.0h0M56.3 227.4h0M59.1 236.6h0M102.5 231.0h0M134.3 224.7h0M122.9 249.1h0M73.4 231.6h0M98.1 243.0h0M82.6 230.7h0M65.3 213.1h0M106.6 194.9h0M84.0 189.7h0M87.8 209.6h0M76.2 193.8h0M131.8 215.8h0M117.1 213.9h0M127.9 247.2h0M42.5 223.2h0M63.7 243.6h0M98.4 205.3h0M70.3 222.8h0M69.0 209.5h0M68.5 211.7h0M133.5 243.6h0M106.4 217.1h0M126.2 197.2h0M104.5 224.4h0M59.1 234.5h0M81.8 205.2h0M58.1 218.3h0M79.2 200.7h0M107.3 223.9h0M103.3 195.8h0M111.9 192.7h0M70.1 251.4h0M133.7 228.7h0M98.3 214.9h0M124.9 238.0h0M127.2 244.4h0M45.7 230.8h0M108.5 198.6h0M56.3 209.6h0M111.4 235.5h0M119.2 200.2h0M91.6 237.5h0M134.3 203.3h0M76.6 247.4h0M62.8 221.8h0M86.7 238.2h0M95.0 228.2h0M94.3 190.1h0M109.9 204.8h0M129.3 195.2h0M61.6 231.4h0M46.0 227.3h0M129.9 191.3h0M128.8 241.9h0M92.9 200.2h0M57.2 212.8h0M60.1 242.7h0M106.3 217.2h0M89.2 204.2h0M103.3 247.2h0M69.1 247.9h0M140.7 228.8h0M63.1 226.9h0M98.9 243.7h0M127.6 227.8h0M79.4 195.9h0M110.4 252.7h0M55.2 228.5h0M111.9 238.9h0M72.1 228.0h0M121.6 243.3h0M71.5 231.5h0M112.8 203.3h0M142.2 196.2h0M87.5 211.0h0M145.7 203.4h0M110.4 213.6h0M68.8 241.0h0M112.4 251.8h0M125.7 195.9h0M53.3 216.1h0M96.0 244.0h0M104.0 236.8h0M82.6 243.0h0M77.2 210.1h0M87.1 220.6h0M113.3 216.3h0M77.6 191.8h0M59.3 236.1h0M101.7 238.6h0M59.8 248.6h0M135.5 230.2h0M52.8 213.0h0M131.0 225.7h0M66.8 209.4h0M98.1 203.7h0M89.8 208.5h0M67.1 211.5h0M89.2 239.8h0M138.3 243.0h0M105.3 203.1h0M60.1 218.0h0M77.5 220.9h0M124.3 229.6h0M118.4 197.6h0M87.9 239.5h0M59.1 227.5h0M121.6 229.5h0M85.1 213.3h0M117.7 211.8h0M78.1 224.1h0M62.9 213.9h0M73.7 249.3h0M95.8 225.2h0M140.7 226.6h0M141.0 196.3h0M105.7 210.0h0M51.9 239.5h0M132.5 194.0h0M80.1 225.1h0M101.0 216.0h0M134.4 246.4h0M102.3 198.8h0M77.2 243.3h0M103.4 211.5h0M64.1 206.8h0M86.0 237.6h0M137.6 242.6h0M43.4 228.6h0M96.4 240.3h0M70.6 242.0h0M107.6 205.9h0M108.4 222.8h0M72.3 209.7h0M52.8 242.8h0M125.5 232.0h0M135.1 203.0h0M56.4 215.5h0M111.2 235.3h0M64.9 203.5h0M119.6 232.6h0M90.8 224.2h0M128.7 213.2h0M72.2 197.5h0M60.6 227.3h0M67.2 245.5h0M84.4 210.7h0M92.4 226.3h0M129.1 223.2h0M116.4 241.6h0M91.2 250.1h0M48.6 239.5h0M86.6 245.7h0M70.6 199.8h0M131.9 234.2h0M45.0 225.6h0M117.3 240.6h0M79.1 232.3h0M66.0 233.3h0M93.8 230.5h0M114.2 193.9h0M95.0 241.9h0M127.9 205.2h0M46.0 223.2h0M60.0 230.6h0M63.4 222.0h0M55.3 205.6h0M107.5 250.7h0M126.4 246.2h0M102.7 194.7h0M59.8 211.0h0M67.0 204.3h0M86.3 237.3h0M130.5 199.4h0M48.2 223.4h0M133.1 234.3h0M68.9 226.8h0M140.2 219.0h0M103.5 217.2h0M47.2 222.0h0M131.7 215.3h0M111.0 246.4h0M84.3 243.9h0M121.3 210.4h0M61.3 235.3h0M112.3 248.8h0M47.4 222.8h0M125.3 250.7h0M100.6 200.6h0M114.9 237.5h0M72.3 193.7h0M132.9 232.9h0M121.9 195.1h0M133.3 205.3h0M54.0 213.3h0M44.7 232.5h0M94.0 238.7h0M85.0 246.4h0M124.2 232.3h0M74.1 219.3h0M85.5 222.7h0M94.5 249.5h0M87.9 209.2h0M57.4 214.8h0M60.9 235.1h0M66.7 216.0h0M127.6 222.8h0M49.2 233.2h0M67.7 241.3h0M53.2 237.4h0M115.6 240.2h0M78.5 230.8h0M107.8 238.8h0M55.5 232.3h0M101.1 217.7h0M65.3 232.8h0M123.8 235.6h0M112.6 248.5h0M63.4 242.3h0M114.2 235.7h0M44.3 234.1h0M58.5 232.3h0M86.5 200.6h0M100.8 197.6h0M116.0 213.2h0M143.1 197.6h0M49.5 240.1h0M106.2 196.2h0M42.2 239.4h0M130.0 193.6h0M108.3 194.8h0M75.5 223.9h0M145.5 209.6h0M121.5 238.0h0M134.1 232.4h0M49.6 218.8h0M14.6 238.6h0M12.4 233.9h0M27.2 234.3h0M17.8 235.7h0M28.0 225.2h0M14.4 229.7h0M23.3 241.8h0M17.9 225.9h0M21.0 238.7h0M31.3 226.5h0M23.1 223.1h0M26.5 224.3h0M11.7 234.0h0M17.7 227.4h0M15.4 221.7h0M19.1 215.1h0M24.8 220.8h0M20.3 216.5h0M28.3 224.4h0M21.2 220.0h0M27.0 234.3h0M31.5 236.7h0M20.7 226.2h0M22.9 230.1h0M21.8 243.3h0M23.7 231.4h0M15.3 238.9h0M22.7 238.7h0M17.6 223.1h0M12.2 225.8h0M16.5 229.4h0M28.8 216.1h0M29.2 222.9h0M31.0 235.2h0M18.6 221.0h0M21.6 237.4h0M16.5 235.5h0M17.4 240.7h0M18.8 227.0h0M21.4 223.1h0M31.6 234.6h0M24.8 239.4h0M15.3 235.8h0M25.1 231.0h0M25.6 236.5h0M28.1 228.6h0M15.8 226.4h0M20.1 223.2h0M31.4 227.5h0M21.8 234.1h0M10.9 231.8h0M25.2 224.1h0M25.0 241.0h0M26.6 240.1h0M27.1 232.1h0M17.0 231.7h0M31.0 229.0h0M29.4 234.2h0M26.7 226.2h0M31.7 225.3h0M22.5 224.2h0M15.5 221.1h0M22.2 225.6h0M10.4 238.0h0M18.3 233.9h0M21.5 238.0h0M16.8 221.1h0M11.4 238.0h0M26.8 221.5h0M23.0 215.9h0M26.4 217.6h0M29.4 215.8h0M20.7 216.0h0M21.5 235.1h0M29.9 228.8h0M11.2 228.6h0M16.9 220.1h0M26.4 225.2h0M18.0 229.9h0M12.7 228.7h0M29.3 228.2h0M20.7 227.0h0M17.3 231.4h0M27.1 240.5h0M14.4 231.1h0M29.4 220.1h0M12.6 224.1h0M25.9 230.6h0M11.6 231.6h0M21.0 217.5h0M31.7 232.5h0M18.9 236.6h0M19.1 240.3h0M26.6 225.6h0M20.4 217.3h0M28.4 234.0h0M15.0 222.3h0M19.8 223.6h0M27.7 226.0h0M14.4 232.7h0M22.0 234.6h0M24.1 219.2h0M29.6 226.3h0M22.5 227.4h0M23.4 234.5h0M29.6 219.2h0M18.1 231.4h0M24.5 239.3h0M16.3 226.4h0M25.6 234.8h0M25.7 223.1h0M30.2 226.8h0M11.2 238.9h0M15.9 237.4h0M26.5 222.4h0M20.3 238.6h0M26.0 232.2h0M27.6 235.1h0M19.0 227.0h0M11.7 228.1h0M28.1 228.9h0M22.9 224.8h0M26.9 234.7h0M20.7 237.2h0M26.9 219.0h0M20.2 233.0h0M29.5 221.2h0M18.7 235.6h0M12.6 230.9h0M21.2 221.3h0M15.3 226.1h0M16.2 237.9h0M18.8 242.5h0M23.0 233.5h0M16.3 225.5h0M30.4 222.2h0M31.3 236.2h0M15.3 221.7h0M16.3 227.3h0M17.7 218.1h0M21.1 237.0h0M24.5 214.1h0M26.3 239.7h0M13.5 221.7h0M28.0 227.6h0M15.6 234.2h0M17.8 230.1h0M31.8 223.1h0M26.7 231.8h0M25.9 239.1h0M28.5 218.0h0M33.6 234.4h0M15.6 240.6h0M32.9 224.1h0M27.9 220.6h0M11.2 233.3h0M22.0 238.2h0M27.7 217.5h0M31.4 229.2h0M24.6 233.8h0M22.2 241.0h0M24.0 243.9h0M29.1 236.5h0M29.5 228.5h0M24.6 232.1h0M17.5 243.2h0M24.1 241.7h0M24.2 227.6h0M25.4 225.4h0M20.2 223.1h0M17.9 223.4h0M31.2 228.2h0M23.7 224.1h0M32.8 225.1h0M22.0 230.6h0M29.4 226.3h0M22.2 232.6h0M11.7 227.3h0M29.5 225.5h0M12.1 238.6h0M12.5 223.5h0M31.0 233.3h0M21.8 217.2h0M27.5 236.2h0M14.8 223.7h0M19.0 222.5h0M26.5 221.8h0M17.9 242.2h0M22.0 225.9h0M21.3 217.5h0M26.1 232.4h0M17.7 238.0h0M12.2 229.9h0M18.6 221.9h0M15.9 239.9h0M24.0 215.5h0M25.2 240.6h0M29.2 220.2h0M24.9 225.1h0M28.7 229.5h0M23.4 222.2h0M16.1 229.6h0M16.4 232.5h0M20.2 219.1h0M22.7 229.3h0M23.6 238.1h0M31.7 234.2h0M24.8 226.9h0M13.8 240.3h0M18.6 241.4h0M16.3 220.5h0M14.9 224.3h0M20.0 228.3h0M13.5 224.3h0M26.3 230.9h0M28.1 238.8h0M29.0 225.9h0M23.3 238.3h0M22.6 223.8h0M14.6 242.1h0M12.5 225.2h0M17.3 224.3h0M20.8 239.7h0M26.3 228.2h0M27.7 242.8h0M24.2 231.5h0M31.6 231.9h0M24.1 231.5h0M29.4 219.5h0M24.6 219.8h0M31.2 228.2h0M24.6 224.4h0M18.5 237.4h0M22.8 218.2h0M25.9 215.3h0M21.1 230.7h0M27.2 223.0h0M17.1 228.7h0M29.7 236.9h0M21.0 224.7h0M20.9 223.5h0M28.6 216.1h0M22.6 238.3h0M21.6 236.3h0M32.6 226.5h0M17.0 242.6h0M28.2 236.7h0M18.8 241.2h0M17.8 217.1h0M21.2 221.6h0M27.7 228.7h0M15.4 226.7h0M21.0 216.6h0M28.9 225.8h0M18.2 239.6h0M21.0 232.1h0M16.0 228.0h0M15.2 220.8h0M22.1 237.3h0M23.5 227.5h0" stroke="#a034d8" stroke-width="1.2" stroke-linecap="round" opacity="0.95" fill="none"/>
<path d="M30.8 160.4h0M49.4 169.5h0M35.0 167.6h0M39.6 161.6h0M16.9 172.6h0M20.4 166.3h0M25.5 183.0h0M26.9 182.0h0M18.8 175.7h0M32.1 171.7h0M41.6 173.9h0M33.2 162.8h0M26.5 175.1h0M19.1 170.6h0M37.4 162.4h0M30.4 159.6h0M20.8 178.6h0M36.8 176.2h0M31.4 160.8h0M31.8 168.4h0M35.0 166.3h0M37.1 168.6h0M16.8 174.8h0M17.3 177.6h0M29.2 180.5h0M20.9 173.3h0M39.7 162.5h0M19.5 181.3h0M21.3 169.8h0M46.8 167.3h0M29.1 173.0h0M30.8 172.3h0M18.0 170.7h0M31.3 165.8h0M34.5 162.1h0M33.0 170.3h0M42.8 171.1h0M49.6 163.9h0M16.8 169.1h0M34.6 167.9h0M24.7 171.6h0M22.2 182.2h0M39.4 174.9h0M25.0 169.8h0M19.8 174.9h0M35.0 171.3h0M20.8 180.6h0M41.8 175.3h0M22.9 167.6h0M23.0 176.7h0M29.9 176.4h0M49.9 161.7h0M20.0 179.8h0M19.1 168.5h0M27.7 176.7h0M22.7 166.2h0M25.2 167.1h0M32.0 162.7h0M29.5 182.2h0M42.4 170.4h0M33.8 163.1h0M33.6 171.0h0M26.2 161.2h0M14.6 175.6h0M23.7 168.9h0M36.1 157.7h0M25.4 163.9h0M14.2 179.0h0M44.4 165.4h0M43.2 176.6h0M25.3 177.2h0M37.3 168.9h0M28.1 170.4h0M29.1 161.9h0M34.2 179.9h0M38.9 174.8h0M39.3 163.0h0M41.9 166.9h0M24.9 166.7h0M35.1 173.8h0M29.7 172.5h0M49.5 164.1h0M20.4 176.6h0M37.7 169.5h0M27.7 175.3h0M15.3 180.7h0M15.3 176.2h0M23.1 166.2h0M34.4 161.3h0M49.3 165.6h0M42.8 169.4h0M38.3 159.7h0M25.6 182.9h0M25.6 179.8h0M38.6 172.1h0M37.7 169.3h0M25.8 179.0h0M23.8 169.8h0M33.5 168.3h0M47.5 164.2h0M43.5 164.1h0M15.6 175.6h0M32.2 165.0h0M34.6 165.1h0M37.2 173.4h0M42.7 169.5h0M30.0 167.2h0M41.9 158.7h0M35.6 174.3h0M27.2 183.1h0M13.5 176.9h0M28.9 172.2h0M20.3 173.9h0M35.2 169.0h0M38.8 168.1h0M32.7 160.8h0M36.3 171.8h0M21.4 182.2h0M37.0 172.5h0M28.1 166.8h0M37.4 167.6h0M43.8 172.6h0M25.0 167.6h0M27.2 182.2h0M24.3 176.3h0M23.9 182.0h0M21.4 177.6h0M18.0 165.4h0M39.8 170.5h0M21.6 181.8h0M47.2 159.8h0M32.6 159.5h0M45.2 165.1h0M43.0 172.9h0M37.7 163.3h0M13.3 176.5h0M17.6 177.6h0M29.1 160.1h0M35.6 161.8h0M21.3 178.6h0M31.9 162.4h0M39.2 164.5h0M52.8 165.2h0M47.6 168.1h0M44.1 162.3h0M25.6 179.6h0M42.3 162.4h0M39.1 170.6h0M36.8 161.6h0M49.9 165.0h0M29.6 179.8h0M46.5 158.3h0M32.4 178.8h0M46.4 167.7h0M40.6 156.5h0M27.3 175.7h0M47.2 168.9h0M19.2 179.4h0M37.4 157.3h0M31.6 167.1h0M22.7 169.2h0M46.1 160.3h0M38.7 178.3h0M41.5 160.1h0M39.6 173.2h0M32.1 172.2h0M35.0 174.5h0M26.8 175.3h0M16.8 171.8h0M21.9 170.7h0M36.3 154.4h0M18.1 179.8h0M36.4 170.2h0M33.8 170.5h0M35.5 174.1h0M16.1 169.2h0M29.2 175.5h0M34.8 166.3h0M42.5 166.9h0M25.8 178.1h0M38.7 176.7h0M40.6 172.2h0M24.0 173.0h0M35.1 165.2h0M25.5 160.7h0M14.3 177.2h0M41.1 157.3h0M34.6 168.2h0M20.2 164.9h0M18.3 168.0h0M18.5 180.4h0M38.6 167.0h0M25.9 175.6h0M26.6 176.1h0M31.5 163.4h0M49.2 167.2h0M27.7 176.4h0M19.0 178.3h0M33.5 158.4h0M19.8 177.1h0M36.6 171.5h0M33.5 169.7h0M31.8 176.5h0M35.1 176.7h0M22.1 182.5h0M30.1 180.7h0M34.7 173.4h0M38.3 175.0h0M32.1 164.6h0M39.5 164.1h0M16.1 173.6h0M30.0 176.1h0M23.9 164.2h0M38.8 169.9h0M48.3 162.2h0M20.1 180.4h0M35.4 175.4h0M40.4 163.9h0M37.6 171.5h0M31.6 173.0h0M19.3 177.6h0M26.0 178.6h0M41.0 169.3h0M50.4 160.4h0M26.4 176.9h0M26.6 162.4h0M29.4 177.7h0M20.6 174.5h0M26.8 161.0h0M18.9 179.9h0M29.1 173.9h0M16.2 172.2h0M44.7 165.6h0M28.5 171.7h0M39.8 171.5h0M26.8 162.9h0M26.3 173.2h0M31.4 165.4h0M28.4 176.1h0M43.2 161.6h0M31.6 170.0h0M48.4 161.6h0M17.0 171.8h0M29.3 162.2h0M37.6 174.3h0M24.4 179.4h0M46.0 168.0h0M39.3 161.2h0M37.1 165.2h0M49.0 164.6h0M43.7 166.0h0M32.1 165.0h0M14.9 170.3h0M13.4 176.9h0M46.4 165.2h0M19.4 182.3h0M36.5 163.0h0M23.5 178.3h0M28.3 165.8h0M37.2 166.9h0M47.1 157.4h0M42.9 167.3h0M34.0 160.3h0M48.5 162.3h0M16.0 172.5h0M22.9 178.8h0M22.9 167.1h0M31.3 182.9h0M47.5 165.8h0M49.0 165.6h0M28.9 159.4h0M16.0 172.3h0M13.5 179.1h0M23.7 165.5h0M37.1 173.8h0M28.3 180.0h0M22.4 171.0h0M38.4 173.6h0M27.1 182.0h0M40.1 156.0h0M35.1 159.7h0M27.6 180.0h0M25.4 175.3h0M42.8 174.1h0M38.8 178.3h0M17.7 176.3h0M34.2 181.5h0M39.8 171.9h0M37.1 167.1h0M36.2 171.7h0M35.2 174.7h0M28.8 174.4h0M24.1 180.7h0M27.3 164.3h0M46.5 158.8h0M28.1 173.9h0M38.8 165.9h0M28.7 166.7h0M33.9 173.5h0M42.1 176.3h0M34.1 173.2h0M19.8 179.2h0M25.2 169.8h0M32.8 170.7h0M38.8 163.6h0M26.2 168.9h0M27.6 179.4h0M49.9 166.4h0M27.0 173.5h0M26.4 172.3h0M39.7 159.9h0M33.9 174.5h0M25.6 171.6h0M34.6 172.0h0M46.5 169.1h0M40.4 159.3h0M38.0 171.2h0M46.9 155.4h0M28.9 170.1h0M38.5 163.8h0M23.7 168.6h0M31.1 168.7h0M23.8 180.0h0M33.8 159.7h0M36.2 176.9h0M32.9 177.2h0M30.9 176.1h0M26.2 170.5h0M40.2 157.2h0M32.3 167.7h0M37.2 159.2h0M36.7 157.2h0M29.9 162.3h0M22.6 163.8h0M22.4 173.8h0M44.2 175.3h0M44.8 171.1h0M39.8 164.3h0M24.9 168.8h0M27.1 164.8h0M16.4 174.5h0M33.1 165.7h0M20.8 173.3h0M36.0 160.0h0M18.3 169.2h0M27.6 167.3h0M29.4 176.9h0M16.5 179.8h0M31.8 168.6h0M39.5 163.3h0M43.7 168.3h0M39.9 158.6h0M40.2 170.4h0M22.0 175.0h0M26.6 163.1h0M49.1 167.6h0M28.4 166.7h0M36.0 163.3h0M20.6 166.5h0M38.7 170.1h0M12.2 176.5h0M28.6 177.0h0M38.7 172.8h0M22.6 172.4h0M17.4 181.5h0M18.3 175.6h0M18.2 182.9h0M38.8 169.2h0M39.8 160.4h0M23.1 166.2h0M22.9 172.9h0M37.8 160.2h0M45.2 170.0h0M16.9 177.6h0M17.5 176.6h0M49.8 161.8h0M35.4 175.5h0M35.3 172.5h0M22.0 172.0h0M24.1 169.4h0M36.4 175.9h0M27.8 168.5h0M34.3 178.9h0M37.6 166.2h0M41.3 168.9h0M18.5 178.3h0M21.5 175.2h0M44.3 159.3h0M48.9 166.8h0M49.5 163.5h0M30.1 170.4h0M25.0 177.1h0M37.1 157.2h0M28.1 169.2h0M34.7 171.8h0M48.6 163.4h0M30.8 181.5h0M31.1 166.8h0M40.4 172.2h0M31.5 172.2h0M29.8 170.9h0M47.9 165.2h0M44.4 166.8h0M34.6 181.0h0M31.3 159.8h0M42.4 175.5h0M45.7 167.3h0M43.5 156.9h0M23.2 166.2h0M34.6 158.9h0M30.2 165.6h0M29.5 173.4h0M21.2 175.6h0M45.6 171.0h0M32.4 177.2h0M37.5 173.8h0M34.1 173.8h0M39.0 158.1h0M41.1 174.6h0M33.9 175.0h0M22.9 172.2h0M15.8 180.4h0M42.9 171.0h0M19.5 176.4h0M44.0 160.0h0M28.7 178.2h0M37.8 162.6h0M40.8 172.1h0M43.0 165.7h0M23.6 175.4h0M15.7 180.9h0M17.0 171.2h0M26.1 161.0h0M48.8 159.9h0M39.7 169.4h0M32.1 180.7h0M40.2 176.3h0M15.1 173.4h0M14.4 172.1h0M29.3 184.9h0M15.0 182.6h0M21.7 170.0h0M46.1 157.7h0M23.5 172.7h0M25.7 162.7h0M29.9 167.1h0M30.9 180.1h0M24.7 166.8h0M27.7 176.7h0M42.6 165.0h0M25.2 182.3h0M13.1 178.7h0M18.7 171.7h0M28.4 176.1h0M29.5 167.5h0M30.5 163.2h0M40.6 159.3h0M26.2 170.1h0M19.6 175.8h0M31.4 176.6h0M24.9 179.6h0M41.6 164.6h0M44.1 161.1h0M18.4 167.6h0M21.1 183.0h0M49.3 162.3h0M28.1 173.5h0M26.7 175.9h0M42.9 156.8h0M25.3 177.0h0M34.1 166.7h0M19.6 171.1h0M31.6 159.0h0M15.4 169.3h0M29.6 163.4h0M35.8 175.6h0M35.5 159.0h0M31.8 168.8h0M39.9 165.2h0M30.7 161.3h0M45.8 160.4h0M42.2 157.5h0M29.2 166.2h0M39.6 174.3h0M18.0 173.4h0M14.1 169.9h0M26.4 172.0h0M29.2 164.3h0M36.9 164.2h0M40.0 158.5h0M23.2 169.3h0M39.6 160.5h0M39.6 163.1h0M27.3 175.9h0M32.0 173.3h0M17.7 181.9h0M16.7 171.2h0M29.3 156.3h0M37.2 164.5h0M27.4 160.9h0M46.5 168.3h0M39.0 167.6h0M49.0 168.4h0M38.7 165.1h0M16.7 174.9h0M44.0 163.9h0M19.8 179.7h0M40.6 166.1h0M18.9 178.1h0M45.5 169.1h0M19.7 165.2h0M25.3 173.2h0M35.9 174.9h0M50.7 165.6h0M38.7 172.6h0M17.3 174.5h0M34.3 156.6h0M14.4 174.5h0M30.0 180.4h0M16.3 178.7h0M35.4 166.2h0M26.7 181.1h0M25.6 176.9h0M24.8 176.8h0M39.9 162.3h0M48.1 164.9h0M43.2 171.3h0M40.6 161.9h0M44.4 170.8h0M35.1 160.8h0M39.0 176.8h0M22.1 167.5h0M22.4 175.1h0M32.7 165.9h0M37.8 162.0h0M38.0 166.3h0M38.0 172.9h0M19.0 175.2h0M27.5 168.6h0M43.1 157.7h0M45.5 159.0h0M22.2 171.5h0M30.4 173.4h0M25.0 171.0h0M30.9 174.0h0M40.5 161.5h0M18.5 175.5h0M29.9 178.6h0M14.3 178.5h0M51.4 166.0h0M20.1 162.8h0M51.1 163.1h0M40.6 170.6h0M19.8 177.4h0M27.9 162.5h0M40.1 158.0h0M18.7 176.4h0M46.1 167.0h0M21.4 176.8h0M18.5 178.6h0M30.0 158.9h0M28.5 165.6h0M33.4 176.8h0M39.7 170.2h0M27.0 182.8h0M44.1 160.5h0M50.6 170.4h0M49.9 169.6h0M24.7 170.2h0M26.4 177.6h0M36.6 178.8h0M46.1 170.2h0M26.7 174.6h0M38.7 166.1h0M35.2 172.0h0M27.3 173.4h0M26.4 178.2h0M35.6 173.2h0M38.2 174.1h0M44.9 159.8h0M27.3 161.1h0M38.4 159.1h0M20.3 173.8h0M45.3 170.4h0M34.5 168.4h0M46.7 168.5h0M14.2 174.5h0M11.8 179.0h0M34.6 162.9h0M51.2 164.1h0M49.5 166.0h0M42.8 168.8h0M47.2 160.6h0M15.5 173.2h0M28.8 170.9h0M35.1 172.5h0M33.7 180.4h0M24.5 165.5h0M30.1 172.2h0M39.3 158.7h0M38.3 168.0h0M25.9 177.7h0M26.1 176.8h0M44.2 168.3h0M26.1 174.6h0M28.0 168.6h0M50.4 163.2h0M31.5 169.3h0M17.0 178.1h0M27.8 159.4h0M31.9 170.9h0M28.3 165.7h0M18.2 174.7h0M44.6 161.6h0M16.9 178.8h0M14.3 177.9h0M13.8 175.7h0M16.4 178.7h0M29.1 165.3h0M39.7 177.8h0M19.1 168.2h0M15.1 178.0h0M30.4 172.3h0M25.0 176.7h0M36.8 176.2h0M37.2 162.5h0M31.0 163.8h0M45.7 172.0h0M30.1 178.7h0M44.1 165.6h0M23.8 177.3h0M39.4 174.7h0M37.2 164.1h0M31.5 164.0h0M37.9 177.4h0M29.2 166.3h0M43.3 165.7h0M38.3 176.7h0M25.6 172.7h0M46.0 170.8h0M23.7 177.4h0M17.4 175.9h0M23.8 173.7h0M31.7 165.3h0M40.6 169.6h0M33.1 173.1h0M44.3 171.7h0M22.2 174.8h0M30.3 163.9h0M28.6 165.1h0M56.4 162.5h0M60.9 161.5h0M62.7 162.7h0M58.6 161.3h0M66.0 159.7h0M51.4 161.9h0M57.4 162.1h0M51.6 163.1h0M49.2 160.2h0M57.3 158.3h0M64.7 158.0h0M53.5 160.1h0M55.8 158.8h0M47.6 160.0h0M48.7 158.1h0M64.1 157.4h0M54.6 161.4h0M46.6 161.8h0M63.1 161.6h0M48.9 161.7h0M57.3 164.2h0M47.2 163.9h0M44.7 163.1h0M66.9 160.0h0M55.2 158.5h0M46.6 162.9h0M58.1 157.1h0M55.0 163.9h0M50.6 161.5h0M64.4 162.0h0M57.4 160.1h0M57.0 161.0h0M60.5 158.8h0M54.5 161.5h0M50.3 160.1h0M63.9 161.3h0M48.5 162.6h0M52.3 160.3h0M55.3 160.9h0M47.4 162.2h0M49.0 163.5h0M47.9 166.0h0M64.7 158.0h0M57.4 159.8h0M48.5 166.1h0M59.8 160.1h0M49.8 162.2h0M58.5 163.0h0M62.3 160.2h0M47.1 162.7h0M50.3 159.8h0M48.5 157.0h0M54.9 152.1h0M47.6 161.2h0M54.3 148.9h0M52.8 149.2h0M51.7 152.1h0M50.6 148.6h0M53.8 152.2h0M49.4 148.8h0M51.3 153.6h0M46.7 154.6h0M50.6 154.6h0M45.7 155.7h0M49.7 159.7h0M45.0 156.8h0M48.7 155.6h0M51.8 154.2h0M48.8 149.9h0M52.9 148.0h0M46.5 151.4h0M47.8 155.5h0M51.0 158.6h0M55.3 149.0h0M54.4 152.4h0M45.3 156.0h0M48.3 160.2h0M45.0 161.6h0M44.6 159.5h0M47.0 161.5h0M48.7 149.5h0M52.9 153.7h0M46.9 157.1h0M50.5 157.3h0M54.2 145.6h0M53.5 153.5h0M47.3 160.6h0M44.9 163.0h0M43.3 159.0h0M58.5 147.0h0M50.1 160.0h0M47.2 163.8h0M47.9 165.4h0M55.9 146.0h0M46.3 161.0h0M54.0 150.0h0M53.7 150.1h0M54.2 153.8h0M46.1 158.1h0M57.1 146.2h0M45.1 162.4h0M54.6 151.1h0M45.9 155.2h0M51.7 155.6h0M57.2 149.2h0M51.6 144.6h0M49.2 149.2h0M39.9 162.7h0M47.3 160.7h0M45.0 162.7h0M48.3 161.1h0M52.0 153.3h0M53.1 148.4h0M48.5 159.3h0M46.7 157.1h0M43.9 159.2h0M45.7 157.7h0M48.0 156.5h0M53.5 150.7h0M48.3 155.4h0M11.7 187.2h0M13.8 189.4h0M14.5 188.4h0M14.7 183.2h0M12.2 187.1h0M12.0 187.0h0M10.5 186.2h0M11.6 188.5h0M8.2 189.0h0M16.6 183.4h0M13.0 182.0h0M12.6 183.5h0M16.6 182.7h0M10.5 188.7h0M12.8 185.2h0M17.8 183.9h0M15.8 186.9h0M12.5 191.4h0M14.0 185.0h0M10.8 190.8h0" stroke="#7c9a38" stroke-width="1.0" stroke-linecap="round" opacity="0.85" fill="none"/>
<path d="M33.1 198.3h0M58.6 181.1h0M46.7 193.9h0M76.1 185.7h0M49.2 184.3h0M35.9 192.3h0M70.3 180.6h0M57.4 191.3h0M51.1 197.0h0M42.5 194.0h0M40.9 191.7h0M58.5 193.8h0M58.1 184.9h0M62.7 186.1h0M55.7 186.7h0M38.3 197.7h0M55.1 185.9h0M47.8 182.5h0M49.1 199.6h0M50.3 181.9h0M56.2 183.5h0M41.4 189.2h0M63.8 181.4h0M55.3 186.2h0M34.2 193.0h0M49.0 184.4h0M37.6 187.9h0M38.7 187.0h0M73.9 190.1h0M46.2 184.7h0M42.3 193.8h0M61.8 187.7h0M65.2 184.7h0M58.0 183.7h0M42.6 200.6h0M54.8 196.5h0M52.5 188.0h0M54.3 180.5h0M57.4 195.6h0M33.7 197.6h0M33.8 204.6h0M58.5 189.2h0M53.7 186.4h0M57.3 184.6h0M31.9 191.9h0M53.1 186.2h0M44.5 204.6h0M58.8 185.8h0M42.9 199.0h0M68.2 188.5h0M77.8 185.6h0M67.3 190.0h0M33.0 199.4h0M72.2 186.8h0M70.9 181.2h0M37.6 196.9h0M58.6 192.2h0M47.2 196.6h0M63.1 188.8h0M71.4 175.4h0M72.1 178.4h0M34.6 195.5h0M42.8 185.4h0M43.5 190.8h0M36.2 188.4h0M48.0 189.5h0M38.4 202.9h0M56.9 192.4h0M49.1 200.1h0M58.7 188.6h0M35.8 201.6h0M73.5 185.0h0M68.1 181.9h0M37.7 190.0h0M57.3 191.8h0M51.1 193.1h0M40.5 189.0h0M74.7 181.2h0M63.4 189.0h0M51.6 200.8h0M45.8 192.4h0M58.2 192.8h0M60.5 185.6h0M49.0 189.5h0M45.8 196.9h0M50.9 191.3h0M38.0 193.7h0M38.9 203.2h0M48.8 189.8h0M65.2 179.3h0M66.1 185.6h0M49.4 188.3h0M35.7 198.4h0M48.1 194.4h0M36.8 197.8h0M62.2 187.5h0M48.0 188.4h0M38.8 186.4h0M66.9 177.7h0M41.5 203.7h0M69.3 186.9h0M39.4 196.7h0M68.1 178.1h0M50.2 187.6h0M38.3 201.3h0M40.1 187.6h0M56.1 193.8h0M43.0 199.5h0M63.3 186.9h0M61.3 180.2h0M58.4 188.2h0M74.9 175.6h0M64.5 182.8h0M35.1 194.4h0M65.2 184.1h0M40.8 196.9h0M51.1 191.8h0M54.3 186.5h0M77.0 179.9h0M49.4 188.7h0M58.4 184.2h0M61.1 188.4h0M34.1 192.1h0M35.1 203.3h0M42.9 198.9h0M39.9 188.1h0M56.4 186.7h0M67.5 181.0h0M59.6 187.2h0M37.3 196.4h0M45.2 197.7h0M32.2 200.7h0M66.8 179.5h0M51.1 188.2h0M69.7 176.7h0M42.9 197.7h0M43.5 196.9h0M45.9 195.6h0M57.9 188.0h0M51.0 184.6h0M44.5 184.9h0M63.2 191.0h0M58.4 180.7h0M36.4 201.6h0M35.9 196.7h0M45.8 188.2h0M32.8 203.3h0M41.9 184.9h0M67.4 191.6h0M65.8 184.5h0M52.4 186.3h0M49.8 181.4h0M47.4 194.1h0M66.9 186.4h0M61.5 189.2h0M41.9 192.4h0M58.3 180.2h0M60.8 196.6h0M56.2 192.6h0M64.1 177.7h0M57.6 192.1h0M37.1 192.9h0M44.7 192.0h0M49.0 193.2h0M68.6 182.6h0M29.7 202.1h0M63.3 185.2h0M73.5 179.9h0M52.5 184.7h0M62.9 181.5h0M51.5 199.6h0M57.8 197.3h0M39.1 199.3h0M41.9 192.2h0M49.4 183.2h0M67.3 178.9h0M68.2 179.1h0M70.1 184.6h0M51.1 193.3h0M37.6 199.1h0M43.0 193.6h0M59.3 191.4h0M55.2 191.8h0M41.5 198.4h0M60.0 195.0h0M39.5 204.4h0M53.0 189.1h0M46.9 197.2h0M48.5 188.9h0M49.9 196.0h0M49.1 196.5h0M38.8 194.2h0M50.0 197.7h0M58.1 188.6h0M72.3 187.8h0M67.1 187.8h0M78.0 178.4h0M41.0 197.0h0M41.8 187.0h0M37.6 197.2h0M38.9 198.8h0M44.5 194.6h0M53.5 185.9h0M47.3 193.0h0M54.3 192.4h0M69.1 184.7h0M43.5 186.7h0M64.9 177.9h0M55.2 183.3h0M66.9 185.6h0M38.8 197.4h0M61.9 177.6h0M64.8 187.8h0M65.2 183.5h0M36.1 193.6h0M63.6 194.6h0M35.0 194.8h0M34.1 192.0h0M30.5 201.2h0M36.2 204.1h0M70.9 188.0h0M33.7 203.1h0M60.7 191.0h0M56.8 190.8h0M71.2 187.1h0M34.1 197.1h0M48.6 195.6h0M37.0 199.3h0M47.8 192.1h0M61.4 181.5h0M52.1 187.1h0M60.6 184.9h0M56.9 190.0h0M63.1 190.7h0M65.4 190.2h0M42.7 188.9h0M49.4 192.6h0M51.1 191.9h0M43.6 191.9h0M76.1 179.6h0M53.6 195.3h0M51.1 192.8h0M58.0 182.5h0M50.8 190.2h0M46.7 182.6h0M43.8 199.7h0M35.2 196.9h0M73.7 185.7h0M40.0 188.8h0M40.8 190.2h0M58.6 180.3h0M64.6 183.7h0M52.2 196.1h0M45.9 192.6h0M42.9 199.9h0M59.1 194.4h0M60.2 192.8h0M31.3 195.1h0M37.7 204.1h0M69.3 177.9h0M43.5 200.4h0M52.9 190.6h0M34.2 189.0h0M55.3 192.0h0M70.7 184.2h0M72.0 185.3h0M47.0 184.6h0M57.9 192.9h0M57.5 196.5h0M56.0 189.3h0M51.6 193.1h0M74.2 181.9h0M58.3 180.8h0M66.7 187.4h0M68.9 183.8h0M68.1 185.3h0M57.4 194.3h0M50.8 192.0h0M62.5 191.7h0M65.4 186.8h0M43.1 187.2h0M72.0 187.5h0M44.2 187.2h0M50.6 180.4h0M39.5 188.4h0M65.9 179.0h0M43.7 192.7h0M40.9 201.8h0M59.4 180.6h0M46.3 193.6h0M65.3 191.3h0M60.4 176.3h0M49.3 193.0h0M74.7 180.9h0M58.8 180.1h0M41.1 193.8h0M70.6 181.1h0M33.1 198.7h0M47.8 198.8h0M70.8 178.3h0M45.1 185.2h0M54.5 181.3h0M48.0 188.5h0M72.5 187.4h0M59.5 183.2h0M44.8 188.5h0M41.3 195.1h0M62.5 182.7h0M60.7 184.0h0M67.0 179.6h0M57.7 189.5h0M37.1 199.6h0M51.3 191.6h0M43.9 193.2h0M35.2 202.8h0M34.8 200.2h0M31.9 196.8h0M37.2 188.9h0M40.0 185.4h0M35.1 202.7h0M46.7 188.2h0M47.2 184.0h0M60.8 187.1h0M70.4 179.7h0M49.8 198.3h0M45.6 185.5h0M53.9 188.3h0M63.3 186.3h0M50.8 185.3h0M33.7 195.0h0M63.1 191.8h0M69.4 177.4h0M53.3 191.1h0M49.4 184.2h0M49.5 182.3h0M50.1 190.2h0M33.6 196.6h0M47.1 200.5h0M47.5 203.9h0M77.7 177.6h0M36.1 193.9h0M45.4 190.4h0M42.0 200.3h0M40.5 187.9h0M45.5 194.8h0M57.7 191.0h0M39.3 203.8h0M49.9 183.3h0M42.0 200.1h0M54.1 192.5h0M59.2 188.6h0M53.3 188.1h0M39.9 187.9h0M38.0 193.9h0M44.7 188.9h0M41.6 194.7h0M70.3 177.1h0M54.7 192.7h0M50.6 183.1h0M58.1 194.3h0M55.7 186.9h0M47.2 186.5h0M73.5 185.2h0M63.4 182.8h0M64.9 188.7h0M44.4 201.1h0M39.9 202.5h0M46.0 187.1h0M56.3 192.2h0M57.8 181.3h0M54.5 195.8h0M45.2 194.1h0M35.4 202.2h0M47.5 185.1h0M56.7 194.7h0M63.1 185.2h0M59.5 194.4h0M73.4 177.0h0M43.0 187.6h0M59.4 187.8h0M53.9 180.2h0M52.6 197.5h0M40.5 189.7h0M65.2 188.5h0M53.4 181.5h0M50.7 187.2h0M60.8 185.0h0M54.7 186.1h0M62.8 186.1h0M51.9 189.7h0M66.2 177.1h0M37.0 190.3h0M33.3 191.2h0M74.9 180.4h0M40.1 185.8h0M36.6 201.8h0M33.9 199.9h0M45.9 190.7h0M34.1 203.4h0M74.6 178.3h0M41.0 198.2h0M48.2 194.4h0M60.8 184.8h0M68.9 191.5h0M57.2 181.2h0M46.6 201.3h0M33.8 202.3h0M69.4 184.7h0M33.8 199.4h0M36.8 192.1h0M58.9 181.8h0M70.6 188.3h0M43.8 193.3h0M42.5 183.1h0M46.4 186.7h0M46.5 184.1h0M32.9 195.3h0M40.2 191.3h0M48.8 191.3h0M57.4 188.0h0M62.8 193.3h0M61.3 190.6h0M53.4 186.3h0M52.6 188.3h0M46.0 184.3h0M44.3 195.6h0M45.6 186.1h0M78.3 180.5h0M67.9 188.6h0M48.1 189.4h0M60.6 195.1h0M45.9 201.4h0M51.4 187.9h0M44.8 198.4h0M75.4 182.5h0M50.5 198.7h0M48.6 191.4h0M38.9 197.3h0M32.4 204.5h0M38.8 193.4h0M35.9 190.3h0M69.7 189.4h0M34.9 198.7h0M47.0 194.5h0M38.1 204.8h0M64.1 184.3h0M52.9 190.6h0M57.2 181.9h0M68.5 180.9h0M44.4 201.3h0M64.9 188.3h0M63.3 181.4h0M75.9 186.0h0M50.0 185.2h0M63.1 188.2h0M37.1 202.8h0M48.3 193.7h0M69.3 187.5h0M75.5 177.7h0M55.1 190.1h0M36.3 199.8h0M57.8 191.3h0M46.8 194.1h0M69.1 178.5h0M63.2 187.7h0M50.6 189.3h0M64.9 183.3h0M41.0 191.1h0M65.3 184.7h0M33.3 195.4h0M37.2 191.8h0M49.2 185.4h0M69.6 186.2h0M46.5 191.0h0M34.3 200.7h0M47.7 193.6h0M65.0 185.4h0M69.0 186.8h0M41.7 190.4h0M43.6 188.0h0M55.1 179.7h0M36.9 198.0h0M64.9 178.0h0M43.3 195.6h0M50.2 195.0h0M45.7 199.0h0M70.3 180.1h0M32.5 199.9h0M61.0 180.7h0M59.2 191.2h0M50.8 190.6h0M55.9 197.4h0M39.8 200.5h0M50.9 189.9h0M72.3 187.6h0M38.7 205.8h0M75.8 177.8h0M59.1 183.4h0M53.9 180.3h0M31.3 201.4h0M62.4 182.9h0M53.0 188.5h0M36.5 203.3h0M68.6 183.2h0M50.4 194.5h0M57.3 185.2h0M75.1 182.4h0M67.5 185.6h0M55.8 192.3h0M38.1 198.1h0M49.4 190.1h0M55.0 178.5h0M49.6 199.1h0M35.1 198.3h0M66.6 188.9h0M71.2 177.0h0M53.2 191.4h0M55.5 185.4h0M59.5 183.5h0M68.1 182.8h0M75.4 174.9h0M79.1 175.1h0M83.9 168.7h0M90.6 169.9h0M72.8 178.0h0M92.6 167.9h0M77.6 179.5h0M75.1 174.8h0M85.5 173.0h0M84.1 172.9h0M87.9 169.5h0M79.6 172.7h0M69.7 174.9h0M89.7 168.2h0M75.7 179.3h0M81.6 174.6h0M75.5 176.8h0M77.5 175.2h0M69.6 177.0h0M76.2 175.5h0M85.0 169.5h0M80.9 174.2h0M76.4 177.1h0M87.9 167.7h0M81.7 172.8h0M78.7 177.7h0M81.5 177.7h0M89.8 169.0h0M75.3 174.2h0M82.7 173.8h0M80.3 174.7h0M86.1 169.3h0M72.9 174.8h0M83.8 171.8h0M76.0 177.8h0M77.4 173.8h0M80.1 174.8h0M90.7 169.1h0M91.8 170.2h0M89.8 167.7h0M79.9 172.6h0M79.0 175.7h0M74.8 176.7h0M78.2 176.1h0M90.4 168.1h0M76.5 173.5h0M75.4 176.1h0M79.1 174.1h0M80.3 172.6h0M75.5 176.8h0M80.8 175.2h0M86.0 171.1h0M90.5 170.3h0M88.2 171.6h0M81.3 170.2h0M90.4 170.3h0M89.0 167.9h0M87.3 167.4h0M73.8 176.5h0M74.4 177.8h0" stroke="#ea9488" stroke-width="1.0" stroke-linecap="round" opacity="0.85" fill="none"/>
<path d="M107.5 272.1h0M101.3 268.6h0M95.5 266.0h0M96.1 261.7h0M105.2 264.8h0M106.9 261.6h0M108.0 265.8h0M103.3 271.9h0M96.3 263.1h0M103.7 273.7h0M97.8 268.9h0M108.7 267.1h0M92.9 268.1h0M94.7 271.1h0M107.6 271.3h0M94.0 271.0h0M107.9 264.4h0M99.4 271.7h0M90.3 264.9h0M99.1 267.7h0M110.6 267.8h0M101.2 265.7h0M96.4 275.0h0M101.2 266.8h0M96.7 266.8h0M107.9 272.2h0M109.9 262.4h0M94.9 264.7h0M90.4 261.0h0M106.1 268.3h0M100.8 262.2h0M102.6 269.0h0M96.6 260.0h0M93.5 262.8h0M97.1 260.7h0M99.3 274.4h0M92.2 272.4h0M103.0 261.1h0M100.8 259.6h0M90.2 270.7h0M99.2 263.5h0M104.3 265.8h0M109.1 265.9h0M102.8 270.0h0M109.0 263.3h0M111.4 266.5h0M109.1 270.8h0M97.2 261.5h0M108.0 268.4h0M101.1 260.6h0M108.2 260.8h0M105.3 273.2h0M103.9 268.7h0M90.5 263.7h0M97.0 265.1h0M105.7 266.9h0M94.9 265.7h0M109.9 268.4h0M100.5 269.9h0M95.7 259.7h0M108.2 267.5h0M109.0 264.7h0M97.9 265.9h0M93.7 271.9h0M89.3 267.5h0M107.6 262.9h0M110.0 269.8h0M92.2 264.4h0M93.8 268.0h0M94.7 262.3h0M94.0 260.2h0M95.3 273.9h0M95.0 274.1h0M102.4 271.8h0M92.9 262.7h0M109.7 268.0h0M98.0 272.9h0M107.7 263.1h0M104.9 259.0h0M101.5 264.8h0M107.8 268.2h0M101.6 269.7h0M96.5 275.0h0M100.4 269.2h0M105.3 270.6h0M98.6 267.5h0M106.6 270.8h0M94.8 269.0h0M96.4 269.8h0M97.7 258.9h0M94.2 265.7h0M101.3 264.8h0M95.2 260.1h0M96.8 274.9h0M99.4 265.1h0M106.5 266.5h0M93.6 265.4h0M105.9 265.0h0M96.6 273.1h0M101.1 272.0h0M107.5 268.6h0M89.4 266.4h0M106.2 268.5h0M101.6 272.2h0M90.5 264.6h0M91.2 263.0h0M100.2 262.2h0M107.8 264.6h0M101.6 267.1h0M108.3 268.0h0M90.5 266.4h0M106.5 266.2h0M88.1 265.3h0M92.3 261.7h0M90.9 268.0h0M99.5 270.7h0M103.7 272.1h0M94.7 267.4h0M108.6 266.6h0M90.4 261.6h0M102.4 266.9h0M93.8 262.1h0M107.4 264.8h0M110.2 271.3h0M101.0 261.7h0M89.3 268.6h0M102.0 272.0h0M93.9 267.1h0M103.9 274.5h0M103.3 270.0h0M93.1 265.1h0M110.3 264.1h0M104.0 264.1h0M93.5 263.7h0M101.1 272.9h0M110.2 267.5h0M101.6 264.0h0M92.2 260.8h0M104.8 265.5h0M99.2 271.0h0M98.4 273.9h0M94.3 263.1h0M95.4 268.4h0M92.1 268.2h0M101.6 265.3h0M105.9 272.9h0M101.2 265.2h0M92.0 264.7h0M102.5 264.3h0M91.9 262.5h0M103.3 271.6h0M100.3 266.8h0M98.2 263.0h0M96.0 262.1h0M99.3 268.9h0M106.3 269.2h0M93.8 267.1h0M106.3 266.5h0M91.3 271.6h0M104.8 265.6h0M92.1 263.5h0M99.7 259.6h0M89.6 263.1h0M94.0 259.6h0M92.6 267.3h0M94.8 272.5h0M100.7 269.5h0M97.4 271.4h0M103.6 274.0h0M88.6 268.9h0" stroke="#62b865" stroke-width="1.0" stroke-linecap="round" opacity="0.85" fill="none"/>
<path d="M43.6 263.9h0M34.2 257.3h0M30.2 265.2h0M40.0 262.3h0M29.9 259.5h0M34.5 266.0h0M33.7 262.7h0M42.5 259.6h0M40.9 257.6h0M28.9 258.1h0M36.5 258.5h0M40.9 266.0h0M37.1 266.8h0M34.8 263.4h0M36.9 261.3h0M40.7 261.6h0M29.7 264.7h0M29.9 258.0h0M33.3 261.3h0M32.9 256.7h0M36.7 259.2h0M30.8 262.0h0M42.4 263.3h0M38.6 266.2h0M39.3 258.1h0M39.6 258.3h0M41.6 265.6h0M30.6 259.7h0M37.2 256.4h0M39.2 264.7h0M33.6 261.7h0M32.1 260.8h0M40.7 258.3h0M31.8 266.2h0M28.6 265.5h0M44.1 262.9h0M40.8 258.9h0M32.2 264.0h0M34.6 267.6h0M32.7 261.5h0M38.2 266.8h0M35.7 262.4h0M44.6 260.0h0M36.4 263.0h0M39.7 257.2h0M35.3 266.0h0M38.1 267.0h0M33.4 262.1h0M30.0 260.0h0M40.7 265.6h0M39.1 266.4h0M33.6 264.2h0M33.5 263.3h0M39.0 262.3h0M39.5 266.9h0M43.5 260.6h0M36.8 265.5h0M34.4 265.7h0M34.0 258.2h0M32.7 260.3h0M28.5 261.7h0M43.2 257.5h0M43.4 264.2h0M26.8 262.1h0M39.6 266.7h0M33.6 266.9h0M36.3 263.2h0M41.8 264.2h0M38.3 257.7h0M30.8 260.5h0M30.7 260.0h0M33.3 263.9h0M38.7 265.6h0M39.7 257.2h0M32.2 262.9h0M38.8 261.1h0M35.2 266.9h0M41.5 263.1h0M37.6 257.2h0M34.5 262.5h0M27.2 260.0h0M31.4 257.0h0M32.1 261.8h0M26.5 261.7h0M41.4 259.0h0M33.0 256.4h0M37.1 262.1h0M43.6 258.8h0M31.5 266.9h0M29.4 259.5h0" stroke="#9c9c9c" stroke-width="0.9" stroke-linecap="round" opacity="0.8" fill="none"/>
<path d="M87.2 196.2h0M55.6 232.7h0M141.0 170.4h0M80.2 156.9h0M147.2 151.7h0M61.5 195.8h0M133.5 253.6h0M21.1 168.2h0M66.5 230.8h0M119.4 212.1h0M85.0 213.0h0M25.7 240.2h0M50.7 219.0h0M63.7 170.1h0M94.4 195.7h0M49.2 194.9h0M48.3 200.0h0M31.4 236.9h0M86.1 176.6h0M105.6 235.4h0M101.3 238.1h0M68.4 246.1h0M96.5 261.6h0M81.9 227.0h0M82.9 210.2h0M73.5 158.6h0M37.0 237.6h0M128.6 152.6h0M70.2 188.7h0M125.8 195.8h0M133.9 220.7h0M147.3 227.1h0M143.0 198.5h0M114.2 169.7h0M30.8 204.2h0M115.4 231.9h0M115.1 155.0h0M45.6 259.4h0M23.3 215.5h0M106.1 173.1h0M108.1 243.7h0M125.5 241.5h0M62.6 223.3h0M29.2 220.8h0M152.7 173.5h0M111.2 218.1h0M107.7 187.0h0M104.4 228.2h0M57.8 180.7h0M140.2 193.1h0M93.0 178.8h0M105.2 190.8h0M124.7 257.9h0M27.3 191.4h0M51.6 219.4h0M105.3 216.1h0M128.0 264.9h0M107.6 199.4h0M96.0 158.4h0M114.0 267.8h0M131.2 200.0h0M72.9 242.4h0M38.5 250.6h0M107.8 216.2h0M81.5 223.3h0M38.9 250.8h0M20.4 228.7h0M151.6 258.8h0M51.4 241.3h0M96.6 184.4h0M81.2 250.0h0M152.3 219.1h0M95.8 193.5h0M10.6 172.2h0M125.8 204.9h0M85.4 234.3h0M103.3 173.4h0M74.9 167.1h0M91.2 206.1h0M45.2 206.3h0M19.0 181.7h0M50.3 145.1h0M43.4 180.6h0M104.7 220.7h0M133.7 230.6h0M84.6 182.2h0M40.9 228.5h0M143.2 265.3h0M69.0 203.8h0M106.6 189.1h0M133.6 267.0h0M89.0 242.7h0M125.3 264.3h0M31.7 256.0h0M72.7 269.0h0M71.6 202.9h0M86.8 182.2h0M26.0 246.6h0M83.0 218.7h0M82.7 236.3h0M81.9 154.1h0M47.0 158.8h0M31.5 202.1h0M71.6 237.4h0M104.5 185.5h0M122.3 222.1h0M111.0 177.9h0M45.4 252.1h0M21.0 178.8h0M42.9 245.6h0M70.7 173.6h0M25.3 218.5h0M50.9 242.4h0M131.7 224.1h0M141.0 262.5h0M63.0 204.6h0M89.1 227.2h0M76.4 220.9h0M52.9 225.2h0M30.9 213.6h0M68.5 275.0h0M77.4 145.5h0M34.8 184.3h0M110.9 176.0h0M77.9 237.5h0M112.3 277.3h0M67.1 199.1h0M114.6 221.2h0M55.1 245.4h0M27.9 220.9h0M44.7 230.1h0M81.7 202.8h0M49.7 182.6h0M47.6 225.3h0M35.5 275.5h0M148.4 207.1h0M89.4 247.2h0M89.7 194.7h0M97.9 213.3h0M48.8 155.1h0M139.2 242.2h0M80.5 209.2h0M69.6 245.4h0M31.1 221.4h0M66.2 241.6h0M27.8 265.7h0M146.5 164.5h0M72.8 166.4h0M133.1 182.0h0M98.0 184.6h0M134.0 252.3h0M110.0 174.2h0M123.1 205.6h0M90.3 205.1h0M122.3 248.6h0M112.2 243.1h0M60.4 240.8h0M95.1 198.9h0M58.8 230.5h0M65.7 247.3h0M73.9 183.3h0M85.5 159.8h0M120.8 255.1h0M47.1 264.7h0M21.5 247.8h0M84.6 270.8h0M112.6 205.0h0M62.6 204.0h0M89.4 210.5h0M76.2 251.3h0M43.0 187.9h0M93.7 172.4h0M42.5 218.7h0M47.7 142.7h0M101.3 211.4h0M148.0 229.7h0M115.6 213.8h0M68.5 184.8h0M26.1 178.6h0M33.4 213.2h0M88.5 185.3h0M97.6 176.7h0M65.0 170.5h0M18.1 205.9h0M77.7 225.9h0M121.7 217.5h0M81.8 209.2h0M138.1 191.5h0M23.9 252.6h0M31.5 166.6h0M47.1 206.1h0M99.3 184.6h0M66.3 204.9h0M10.9 232.0h0M16.9 184.2h0M42.5 223.1h0M124.6 269.6h0M139.5 180.2h0M82.0 235.7h0M86.1 195.4h0" stroke="#b060e0" stroke-width="0.8" stroke-linecap="round" opacity="0.6" fill="none"/>
<path d="M10.9 250.3h0M24.9 206.5h0M119.2 199.9h0M59.7 211.2h0M86.3 160.7h0M101.1 262.1h0M33.9 246.8h0M117.4 258.3h0M36.1 211.9h0M78.7 215.9h0M140.5 242.9h0M75.1 215.2h0M88.7 181.2h0M130.3 178.2h0M104.9 190.4h0M113.5 215.0h0M96.6 273.7h0M32.2 255.0h0M70.0 187.9h0M135.8 228.8h0M142.9 258.3h0M147.5 216.7h0M59.2 235.0h0M74.7 243.5h0M5.2 211.1h0M65.3 210.1h0M85.2 202.5h0M60.0 186.3h0M138.5 198.2h0M17.4 261.6h0M58.8 224.5h0M39.3 171.2h0M42.1 215.0h0M90.8 215.1h0M128.9 192.2h0M12.4 252.5h0M82.8 190.8h0M71.6 259.6h0M73.1 205.2h0M117.6 226.1h0M85.2 186.1h0M131.9 217.8h0M38.3 264.5h0M106.1 198.4h0M30.3 217.3h0M37.0 205.1h0M91.3 251.0h0M124.7 239.8h0M86.5 147.4h0M96.4 216.5h0M10.2 263.3h0M145.8 211.9h0M77.4 194.5h0M91.1 253.0h0M78.3 253.4h0M49.8 184.1h0M58.4 231.7h0M64.8 250.3h0M19.7 211.0h0M93.8 260.8h0M111.5 149.8h0M98.7 222.5h0M81.9 174.1h0M153.5 208.5h0M64.9 161.3h0M151.5 217.4h0M72.4 185.2h0M68.4 162.7h0M141.9 201.8h0M104.5 166.4h0M36.4 237.4h0M146.7 209.2h0M91.9 200.4h0M109.4 200.1h0M31.5 240.8h0M75.8 206.1h0M82.6 224.6h0M19.4 202.6h0M92.8 225.6h0M85.3 266.4h0M132.7 216.2h0M75.3 187.9h0M113.1 186.4h0M75.2 206.5h0M126.7 225.5h0M101.5 219.9h0M99.0 263.8h0M113.5 246.6h0M91.7 200.8h0M97.0 272.3h0M123.0 195.4h0M88.1 248.7h0M38.1 242.7h0M87.2 200.0h0M15.9 214.5h0M120.3 186.9h0M62.3 206.0h0M28.2 229.6h0M146.7 211.6h0M53.2 195.0h0M78.2 254.5h0M19.6 263.9h0M30.6 198.7h0M58.3 211.0h0M108.8 254.7h0M35.6 248.7h0M45.0 202.4h0M26.0 259.7h0M109.3 194.3h0M120.6 248.9h0M117.1 192.3h0M43.1 214.5h0M28.6 201.8h0M59.6 210.5h0M60.2 225.3h0M81.3 195.1h0M65.1 186.9h0M57.7 166.4h0M125.9 197.4h0M49.7 219.3h0M13.6 226.0h0M139.5 270.4h0M143.9 208.9h0M141.9 210.6h0M61.0 150.1h0M93.7 182.9h0M38.9 220.3h0M113.6 221.3h0M61.8 166.7h0M48.4 191.7h0M8.8 250.6h0M61.5 242.2h0M62.8 229.7h0M116.6 260.9h0M79.9 250.6h0M72.3 214.7h0M132.6 222.8h0M85.7 219.9h0M95.0 206.4h0M13.7 178.6h0M151.9 214.5h0M145.6 205.6h0M28.2 167.9h0M85.0 244.6h0M70.1 237.1h0M35.7 226.5h0M35.7 256.0h0M28.9 150.5h0M134.4 191.7h0M29.6 197.2h0M70.3 238.3h0M15.3 193.3h0M67.3 224.5h0M26.3 183.0h0M146.4 239.3h0M51.5 173.3h0M38.0 196.1h0M81.3 200.8h0M40.7 166.2h0M56.7 209.2h0M55.0 195.2h0M33.8 233.1h0" stroke="#e0a098" stroke-width="0.8" stroke-linecap="round" opacity="0.5" fill="none"/>
<path d="M54.1 144.9h0M54.5 143.4h0M54.3 145.0h0M54.1 145.2h0M55.7 146.8h0M53.0 144.8h0M54.9 144.0h0M52.9 142.8h0M55.3 143.9h0M54.8 144.6h0M54.5 144.5h0M55.7 144.5h0M53.0 144.5h0M55.4 144.3h0M54.6 145.8h0M55.2 145.5h0M55.4 144.4h0M53.9 144.0h0M54.8 144.0h0M52.9 145.2h0M56.3 145.7h0M52.8 144.2h0M54.9 144.5h0M56.1 144.6h0M53.6 146.4h0M55.5 145.8h0M53.7 145.6h0M55.2 145.1h0" stroke="#6b8a2a" stroke-width="1.0" stroke-linecap="round" opacity="0.95" fill="none"/>
<path d="M67.3 160.0h0M66.2 160.4h0M67.0 159.7h0M67.7 159.7h0M65.9 161.1h0M67.5 162.9h0M67.2 160.4h0M66.3 159.3h0M66.4 161.6h0M67.2 162.1h0M65.6 161.2h0M66.4 161.4h0M66.4 159.9h0M66.4 161.1h0M67.2 160.1h0M66.4 161.2h0M65.8 160.4h0M67.3 161.0h0M66.8 160.4h0M68.8 158.7h0M66.4 159.7h0M67.4 159.4h0M66.3 162.0h0M66.9 161.4h0M64.9 158.7h0M66.6 161.5h0M65.9 160.2h0M66.3 160.0h0" stroke="#6b8a2a" stroke-width="1.0" stroke-linecap="round" opacity="0.95" fill="none"/>
<path d="M10.6 188.6h0M9.5 188.4h0M10.8 188.4h0M12.0 187.8h0M12.3 188.2h0M9.7 189.8h0M11.9 190.4h0M12.4 189.3h0M10.8 189.9h0M11.8 188.4h0M11.2 188.7h0M9.8 189.7h0M11.7 187.2h0M10.6 187.7h0M10.3 188.3h0M11.8 187.2h0M11.4 187.0h0M10.9 189.3h0M12.4 188.0h0M10.2 188.0h0M10.3 190.6h0M12.1 187.4h0M12.5 190.3h0M8.9 190.0h0M10.8 188.0h0M9.5 188.3h0M9.5 188.7h0M9.8 189.0h0" stroke="#6b8a2a" stroke-width="1.0" stroke-linecap="round" opacity="0.95" fill="none"/>
<path d="M90.4 166.6h0M92.5 164.3h0M92.2 163.4h0M93.2 167.1h0M90.9 165.4h0M92.0 162.9h0M92.1 166.4h0M91.1 167.0h0M92.7 166.3h0M92.4 168.0h0M90.0 168.2h0M92.5 166.8h0M91.2 163.1h0M90.9 165.9h0M91.6 165.8h0M92.6 166.1h0M92.0 164.9h0M91.2 164.0h0M90.6 165.3h0M91.4 165.1h0M91.9 165.4h0M90.0 164.7h0M91.2 164.1h0M94.4 164.9h0M91.7 167.1h0M91.0 164.9h0M92.2 167.5h0M91.2 166.2h0" stroke="#e07f74" stroke-width="1.0" stroke-linecap="round" opacity="0.95" fill="none"/>
<text x="63.8" y="145.4" font-size="9.5" fill="#7f9a45" stroke="#7f9a45" stroke-width="0.1" textLength="52.4" lengthAdjust="spacingAndGlyphs">Myeloid cell</text>
<text x="104.6" y="170.4" font-size="9.5" fill="#e6968c" stroke="#e6968c" stroke-width="0.1" textLength="22.7" lengthAdjust="spacingAndGlyphs">B cell</text>
<text x="144.6" y="226.5" font-size="9.5" fill="#bb80df" stroke="#bb80df" stroke-width="0.1" textLength="23.1" lengthAdjust="spacingAndGlyphs">T cell</text>
<text x="122.7" y="275" font-size="9.5" fill="#7cc07d" stroke="#7cc07d" stroke-width="0.1" textLength="13.3" lengthAdjust="spacingAndGlyphs">NK</text>
<text x="217.2" y="135" font-size="9.4" fill="#231f20" stroke="#231f20" stroke-width="0.1" textLength="117.5" lengthAdjust="spacingAndGlyphs">Surface protein expression</text>
<text x="217.2" y="154.2" font-size="9.2" font-style="italic" fill="#231f20" stroke="#231f20" stroke-width="0.1" textLength="18.8" lengthAdjust="spacingAndGlyphs">CD3</text>
<text x="273" y="154.2" font-size="9.2" font-style="italic" fill="#231f20" stroke="#231f20" stroke-width="0.1" textLength="18.5" lengthAdjust="spacingAndGlyphs">CD4</text>
<text x="327.8" y="154.2" font-size="9.2" font-style="italic" fill="#231f20" stroke="#231f20" stroke-width="0.1" textLength="18.5" lengthAdjust="spacingAndGlyphs">CD8</text>
<text x="213.8" y="225.2" font-size="9.2" font-style="italic" fill="#231f20" stroke="#231f20" stroke-width="0.1" textLength="24.5" lengthAdjust="spacingAndGlyphs">CD19</text>
<text x="268.8" y="225" font-size="9.2" font-style="italic" fill="#231f20" stroke="#231f20" stroke-width="0.1" textLength="29" lengthAdjust="spacingAndGlyphs">CD11c</text>
<text x="324.6" y="225" font-size="9.2" font-style="italic" fill="#231f20" stroke="#231f20" stroke-width="0.1" textLength="24" lengthAdjust="spacingAndGlyphs">CD56</text>
<g transform="translate(195 120) scale(0.3)" filter="url(#mb)"><use href="#minibase"/><use href="#minigray"/><path d="M66 230h0M116 243h0M53 209h0M107 207h0M141 215h0M117 188h0M147 209h0M112 219h0M53 222h0M94 199h0M56 230h0M105 255h0M54 240h0M107 232h0M120 231h0M99 223h0M115 215h0M88 248h0M81 239h0M128 246h0M64 229h0M90 228h0M65 243h0M126 212h0M106 217h0M98 204h0M87 232h0M105 229h0M140 195h0M135 203h0M95 244h0M58 212h0M102 228h0M116 222h0M48 243h0M115 231h0M66 231h0M98 245h0M56 230h0M123 215h0M95 202h0M144 199h0M103 226h0M53 224h0M116 197h0M138 240h0M114 250h0M132 228h0M78 202h0M86 192h0M60 208h0M85 230h0M136 239h0M136 209h0M106 208h0M142 204h0M76 240h0M102 200h0M61 222h0M132 220h0M91 196h0M113 213h0M118 212h0M57 210h0M123 249h0M95 233h0M136 240h0M102 228h0M82 229h0M87 250h0M121 212h0M109 200h0M140 224h0M60 235h0M127 251h0M138 234h0M110 195h0M73 223h0M91 215h0M110 210h0M50 211h0M113 240h0M84 192h0M108 229h0M79 223h0M141 228h0M93 226h0M69 249h0M121 216h0M96 211h0M98 256h0M117 201h0M49 213h0M106 199h0M89 250h0M67 246h0M69 228h0M98 201h0M98 203h0M127 201h0M126 198h0M137 232h0M66 222h0M75 234h0M70 196h0M52 208h0M75 225h0M93 195h0M131 237h0M50 222h0M109 238h0M64 249h0M139 219h0M119 188h0M108 238h0M64 217h0M134 244h0M98 198h0M70 213h0M113 254h0M44 228h0M112 193h0M75 236h0M143 217h0M90 223h0M49 232h0M118 219h0M103 252h0M108 236h0M137 239h0M137 232h0M126 210h0M69 197h0M56 246h0M98 248h0M50 222h0M133 193h0M67 233h0M122 225h0M125 194h0M133 224h0M81 245h0M101 200h0M84 215h0M116 232h0M77 201h0M103 238h0M46 232h0M126 231h0M101 224h0M58 230h0M90 236h0M127 244h0M115 191h0M102 234h0M59 212h0M96 204h0M84 242h0M95 230h0M132 210h0M106 191h0M143 216h0M89 200h0M84 223h0M70 237h0M107 248h0M108 212h0M91 249h0M105 231h0M124 229h0M100 252h0M99 229h0M144 217h0M134 241h0M61 201h0M50 245h0M133 194h0M92 215h0M139 232h0M138 241h0M53 236h0M68 217h0M90 238h0M118 248h0M65 242h0M120 192h0M57 249h0M144 215h0M108 203h0M124 204h0M73 196h0M101 211h0M97 218h0M98 204h0M61 215h0M89 217h0M76 231h0M79 222h0M119 203h0M45 232h0M143 222h0M114 234h0M124 233h0M115 237h0M66 250h0M106 221h0M109 209h0M61 210h0M104 221h0M124 194h0M92 192h0M87 219h0M96 254h0M143 214h0M95 200h0M132 194h0M72 198h0M121 249h0M87 208h0M124 207h0M140 203h0M73 199h0M109 189h0M102 207h0M113 191h0M115 204h0M102 238h0M56 208h0M118 236h0M81 210h0M137 221h0M74 195h0M87 209h0M138 214h0M88 250h0M122 197h0M78 209h0M128 243h0M130 195h0M76 228h0M86 238h0M140 236h0M77 236h0M61 242h0M128 228h0M122 236h0M124 252h0M123 252h0M118 190h0M119 194h0M138 238h0M62 209h0M114 231h0M103 248h0M73 248h0M87 202h0M94 213h0M113 190h0M98 243h0M79 251h0M75 208h0M55 243h0M104 255h0M93 241h0M98 252h0M85 240h0M45 233h0M61 238h0M88 201h0M86 200h0M78 230h0M121 220h0M86 205h0M106 240h0M117 204h0M123 225h0M136 221h0M138 205h0M114 235h0M50 238h0M128 250h0M121 204h0M105 220h0M136 229h0M84 238h0M125 232h0M79 234h0M102 191h0M95 192h0M124 228h0M53 237h0M120 219h0M107 244h0M58 239h0M116 240h0M88 201h0M80 196h0M112 235h0M107 243h0M70 229h0M128 231h0M57 205h0M72 207h0M115 212h0M103 252h0M86 192h0M105 214h0M104 196h0M80 202h0M94 251h0M104 241h0M48 245h0M93 215h0M135 203h0M91 244h0M117 188h0M67 249h0M107 213h0M139 223h0M137 204h0" stroke="#9c9ce0" stroke-width="2.8" stroke-linecap="round" fill="none" opacity="0.75"/><path d="M107 212h0M95 208h0M73 215h0M55 247h0M48 241h0M93 199h0M132 198h0M90 217h0M111 212h0M83 248h0M127 202h0M109 213h0M143 222h0M56 241h0M81 225h0M119 214h0M93 220h0M61 211h0M135 207h0M95 207h0M117 246h0M127 217h0M136 200h0M114 235h0M122 217h0M79 206h0M118 213h0M119 227h0M138 224h0M96 236h0M109 197h0M99 218h0M93 220h0M95 229h0M72 195h0M69 246h0M126 208h0M69 198h0M43 225h0M106 254h0M103 249h0M109 209h0M47 229h0M125 190h0M59 246h0M65 228h0M58 245h0M75 234h0M71 245h0M138 213h0M121 246h0M116 251h0M132 242h0M100 229h0M83 194h0M103 203h0M61 199h0M126 191h0M113 235h0M86 195h0M109 247h0M56 217h0M92 239h0M119 205h0M89 218h0M75 198h0M142 196h0M123 219h0M91 216h0M109 205h0M132 228h0M109 239h0M120 200h0M136 240h0M123 240h0M120 253h0M69 207h0M116 195h0M70 224h0M101 254h0M115 251h0M60 249h0M62 202h0M112 202h0M44 232h0M49 222h0M139 215h0M60 251h0M141 219h0M121 202h0M105 243h0M71 203h0M77 240h0M78 240h0M111 253h0M79 225h0M77 248h0M139 218h0M77 208h0M101 218h0M78 226h0M58 244h0M69 213h0M73 203h0M109 193h0M72 225h0M97 228h0M57 203h0M104 252h0M132 219h0M49 242h0M121 240h0M95 230h0M105 203h0M77 230h0M64 243h0M141 231h0M56 205h0M104 217h0M81 212h0M65 235h0M119 202h0M105 238h0M104 225h0M66 203h0M73 221h0M84 199h0M78 251h0M139 196h0M107 237h0M57 223h0M110 238h0M115 241h0M119 217h0M117 239h0M125 237h0M85 252h0M113 220h0M131 209h0M76 228h0M111 220h0M91 210h0M79 227h0M55 220h0M54 222h0M93 215h0M73 244h0M64 223h0M147 211h0M85 235h0" stroke="#5c5cd0" stroke-width="2.8" stroke-linecap="round" fill="none" opacity="0.75"/><path d="M123 205h0M120 212h0M106 196h0M109 203h0M112 197h0M112 188h0M130 210h0M128 219h0M126 213h0M114 200h0M136 208h0M123 197h0M126 197h0M127 216h0M133 191h0M133 222h0M143 217h0M130 205h0M108 196h0M126 197h0M134 195h0M129 193h0M133 223h0M144 202h0M117 196h0M136 203h0M146 214h0M136 221h0M122 196h0M132 215h0M120 213h0M112 194h0M131 199h0M144 216h0M128 191h0M131 219h0M117 195h0M132 222h0M133 193h0M104 189h0M138 208h0M115 196h0M142 218h0M135 206h0M110 201h0M128 208h0M107 199h0M116 197h0M132 198h0M122 202h0M119 191h0M113 195h0M133 211h0M118 191h0M136 201h0M141 205h0M115 188h0M130 197h0M132 215h0M108 198h0M127 214h0M134 200h0M128 203h0M122 199h0M125 200h0M125 214h0M119 211h0M128 209h0M123 193h0M115 197h0M114 189h0M115 193h0M141 217h0M125 189h0M120 195h0M121 203h0M143 204h0M142 197h0M107 198h0M110 189h0M121 189h0M129 207h0M138 203h0M141 214h0M112 196h0M143 222h0M134 214h0M112 192h0M140 220h0M121 205h0" stroke="#3a3ab8" stroke-width="2.8" stroke-linecap="round" fill="none" opacity="0.8"/><path d="M11 233h0M23 237h0M26 233h0M28 225h0M24 237h0M19 231h0M32 233h0M21 226h0M21 235h0M14 227h0M15 230h0M22 240h0M29 224h0M19 217h0M25 221h0M12 228h0M22 237h0M18 236h0M30 234h0M26 238h0M12 230h0M25 243h0M22 238h0M16 233h0M25 225h0M13 238h0M29 228h0M31 222h0M25 228h0M23 221h0M20 223h0M29 223h0M17 221h0M27 240h0M21 242h0" stroke="#5c5cd0" stroke-width="2.8" stroke-linecap="round" fill="none" opacity="0.8"/><path d="M34 263h0M35 259h0M39 266h0M44 262h0M35 264h0M36 263h0M40 264h0M32 262h0M40 265h0M39 265h0M28 261h0M33 262h0" stroke="#5c5cd0" stroke-width="2.8" stroke-linecap="round" fill="none" opacity="0.7"/></g>
<g transform="translate(255.3 120.5) scale(0.3)" filter="url(#mb)"><use href="#minibase"/><use href="#minigray"/><path d="M69 237h0M87 203h0M61 212h0M47 224h0M83 201h0M71 194h0M61 227h0M69 242h0M54 229h0M41 235h0M43 227h0M71 239h0M84 194h0M69 245h0M72 209h0M77 213h0M68 223h0M81 205h0M67 227h0M60 226h0M82 223h0M64 217h0M79 230h0M78 208h0M51 211h0M48 233h0M83 190h0M82 218h0M53 228h0M76 225h0M69 241h0M67 230h0M60 245h0M70 246h0M55 226h0M79 226h0M67 239h0M56 232h0M78 218h0M70 236h0M75 193h0M65 229h0M71 229h0M55 207h0M63 226h0M50 226h0M72 203h0M81 201h0M59 223h0M79 220h0M78 237h0M68 223h0M84 193h0M52 237h0M63 250h0M80 230h0M82 221h0M60 243h0M57 242h0M77 207h0M74 212h0M69 232h0M67 209h0M84 212h0M70 197h0M59 228h0M74 216h0M70 238h0M77 191h0M69 239h0M79 226h0M77 241h0M82 201h0M42 222h0M45 216h0M56 226h0M58 230h0M66 229h0M87 204h0M57 225h0M42 232h0M70 208h0M45 215h0M55 245h0M43 221h0M50 230h0M48 243h0M73 231h0M64 216h0M66 245h0M68 210h0M58 204h0M46 239h0M65 220h0M66 221h0M60 220h0M54 207h0M73 219h0M59 209h0M46 245h0M79 228h0M60 221h0M77 195h0M62 222h0M71 240h0M47 245h0M68 239h0M84 214h0M48 215h0M63 223h0M50 211h0M67 206h0M75 211h0M80 201h0M74 239h0M61 249h0M45 243h0M45 231h0M52 213h0M66 246h0M81 203h0M74 225h0M75 237h0M74 213h0M58 214h0M75 231h0M49 237h0M60 214h0M44 223h0M72 202h0M77 226h0M73 233h0M77 207h0M59 241h0M69 205h0M43 235h0M82 216h0M66 235h0M57 218h0M69 217h0M75 201h0M77 219h0M69 228h0M66 230h0M50 216h0M60 214h0M86 206h0M53 209h0M62 218h0M71 230h0M63 215h0M65 231h0M70 245h0M61 242h0M57 242h0M48 230h0M72 212h0M83 194h0M47 225h0M74 201h0M65 220h0M77 213h0M79 207h0M74 235h0M81 228h0M46 221h0M44 218h0M66 206h0M72 241h0M81 220h0M56 219h0M67 224h0M73 214h0M46 238h0M77 220h0M63 241h0M56 234h0M53 240h0M44 225h0M76 223h0M55 224h0M70 216h0M67 242h0M55 214h0M46 239h0M55 245h0M56 233h0M70 239h0M73 195h0M74 196h0M82 191h0M47 220h0M81 210h0M74 207h0M82 221h0M64 225h0M75 200h0M51 230h0M72 220h0M60 243h0M73 240h0M72 225h0M72 224h0M53 217h0M66 247h0M65 204h0M64 234h0M80 215h0M50 245h0M65 248h0M60 230h0M61 239h0M41 231h0M66 227h0M86 206h0M56 249h0M73 196h0M75 232h0M64 203h0M65 201h0" stroke="#5c5cd0" stroke-width="2.8" stroke-linecap="round" fill="none" opacity="0.8"/><path d="M129 220h0M133 206h0M133 202h0M115 204h0M134 212h0M129 195h0M145 216h0M114 190h0M138 214h0M104 192h0M115 188h0M122 203h0M123 196h0M108 201h0M141 222h0M142 212h0M110 201h0M114 195h0M138 211h0M129 213h0M139 204h0M131 220h0M145 211h0M144 215h0M142 225h0M137 199h0M135 199h0M136 202h0M133 217h0M101 197h0M107 191h0M113 191h0M115 189h0M141 196h0M140 219h0M137 214h0M125 198h0M124 193h0M130 190h0M126 203h0M128 197h0M120 212h0M143 203h0M112 188h0M134 203h0M103 193h0M118 204h0M131 218h0M134 192h0M142 208h0M111 191h0M141 204h0M145 216h0M127 198h0M107 199h0M126 189h0M126 211h0M125 213h0M112 205h0M140 195h0M121 209h0M109 190h0M129 222h0M133 217h0M124 206h0M131 203h0M120 207h0M120 203h0M118 192h0M129 212h0M139 213h0M140 203h0M140 221h0M134 192h0M104 187h0M105 201h0M107 200h0M119 192h0M118 209h0M145 204h0M100 197h0M139 200h0M142 222h0M142 211h0M136 218h0M130 222h0M141 195h0M134 197h0M141 196h0M114 190h0M132 220h0M130 200h0M121 192h0M126 209h0M138 214h0M137 219h0M141 224h0M123 196h0M137 201h0M100 187h0M146 204h0M122 202h0M114 205h0M130 212h0M128 208h0M146 207h0M113 196h0M142 215h0M131 221h0M111 193h0M140 209h0M134 215h0M126 210h0M136 204h0M136 204h0M127 194h0M132 218h0M103 198h0M117 197h0M130 200h0" stroke="#5c5cd0" stroke-width="2.8" stroke-linecap="round" fill="none" opacity="0.85"/><path d="M21 230h0M19 234h0M31 233h0M25 223h0M23 232h0M28 233h0M12 227h0M24 231h0M15 227h0M21 220h0M20 233h0M18 236h0M31 235h0M24 230h0M19 223h0M19 230h0M24 223h0M22 218h0M18 229h0M16 223h0M15 242h0M19 234h0M29 228h0M22 218h0M14 238h0M19 231h0M13 229h0M12 236h0M25 216h0M32 230h0M17 239h0M30 224h0M19 225h0M18 222h0M23 216h0M22 227h0M29 223h0M31 222h0M17 236h0M30 236h0" stroke="#5c5cd0" stroke-width="2.8" stroke-linecap="round" fill="none" opacity="0.85"/><path d="M132 234h0M84 219h0M146 210h0M86 198h0M118 244h0M95 195h0M87 233h0M138 226h0M103 228h0M124 219h0M69 237h0M106 254h0M145 206h0M133 234h0M131 240h0M96 247h0M135 195h0M76 242h0M40 232h0M95 226h0M102 203h0M70 196h0M83 222h0M107 189h0M111 212h0M84 209h0M105 253h0M43 225h0M118 236h0M124 229h0M68 239h0M52 216h0M108 248h0M71 197h0M114 232h0M104 232h0M145 209h0M141 200h0M92 244h0M122 245h0M107 252h0M134 204h0M73 195h0M98 202h0M104 190h0M65 207h0M129 230h0M145 219h0M62 199h0M99 243h0M85 193h0M118 215h0M123 236h0M73 252h0M82 190h0M67 239h0M138 220h0M114 236h0M92 195h0M135 238h0M120 188h0M119 209h0M63 216h0M71 222h0M43 238h0M95 193h0M81 200h0M75 240h0M78 242h0M97 235h0M114 237h0M84 226h0M110 244h0M88 212h0M57 240h0M64 227h0M71 239h0M124 220h0M110 229h0M73 248h0M62 216h0M57 234h0M46 239h0M88 245h0M120 216h0M83 237h0M143 211h0M78 215h0M133 223h0M127 248h0M105 244h0M101 219h0M126 213h0M86 210h0M101 246h0M44 223h0M70 201h0M117 229h0M93 232h0M85 212h0M118 247h0M121 223h0M125 194h0M105 220h0M83 237h0M124 228h0M82 205h0M59 203h0M94 253h0M113 240h0M66 197h0M51 209h0M125 250h0M65 226h0M68 208h0M42 237h0M81 199h0M96 211h0M109 196h0M54 247h0" stroke="#9c9ce0" stroke-width="2.8" stroke-linecap="round" fill="none" opacity="0.6"/><path d="M34 165h0M17 175h0M23 174h0M37 173h0M20 174h0M33 180h0M20 172h0M37 163h0M46 170h0M30 165h0M17 182h0M47 162h0M19 179h0M25 171h0M23 167h0M26 179h0M23 166h0M25 166h0M21 173h0M32 180h0M42 161h0M29 170h0M35 168h0M21 175h0M45 161h0M46 159h0M36 165h0M31 181h0M16 176h0M50 162h0M48 164h0M30 182h0M15 173h0M40 168h0M25 179h0M17 171h0M32 160h0M28 171h0M36 172h0M34 180h0" stroke="#9c9ce0" stroke-width="2.8" stroke-linecap="round" fill="none" opacity="0.6"/></g>
<g transform="translate(310.3 120) scale(0.3)" filter="url(#mb)"><use href="#minibase"/><use href="#minigray"/><path d="M110 225h0M97 247h0M97 237h0M94 222h0M97 225h0M101 223h0M111 236h0M94 234h0M110 233h0M105 226h0M98 243h0M102 229h0M108 234h0M103 235h0M95 227h0M107 237h0M106 227h0M98 246h0M97 224h0M98 239h0M103 222h0M87 234h0M111 225h0M110 226h0M105 225h0M111 232h0M101 238h0M96 237h0M96 235h0M85 226h0M103 238h0M92 245h0M100 248h0M88 239h0M100 220h0M98 231h0M88 236h0M99 251h0M106 227h0M92 224h0M110 225h0M106 245h0M96 241h0M110 239h0M99 248h0M105 237h0M97 242h0M103 242h0M97 222h0M104 228h0M106 243h0M102 233h0M94 229h0M108 241h0M94 242h0M106 223h0M86 223h0M108 224h0M100 234h0M108 229h0M100 250h0M96 229h0M99 248h0M98 249h0M105 233h0M89 232h0M105 229h0M99 225h0M86 238h0M103 246h0M105 235h0M96 232h0M100 236h0M101 222h0M108 226h0M90 247h0M86 233h0M91 240h0M111 237h0M88 236h0M102 237h0M109 238h0M108 244h0M101 227h0M103 243h0M100 227h0M94 241h0M104 225h0M99 239h0M92 222h0M100 248h0M88 237h0M99 240h0M92 244h0M109 230h0M90 234h0M104 243h0M103 245h0M99 233h0M100 248h0M101 228h0M109 228h0M105 231h0M86 236h0M101 238h0M95 228h0M90 230h0M100 232h0M90 236h0M92 222h0M99 244h0M100 222h0M102 230h0M109 239h0M106 231h0M94 230h0M102 245h0M91 249h0M93 248h0M104 247h0M91 224h0M103 248h0M90 228h0M105 236h0M100 223h0M94 222h0M95 239h0M93 234h0M89 246h0M87 235h0M97 219h0M106 226h0M90 248h0M89 243h0M109 237h0M109 232h0M90 234h0M101 221h0M96 221h0M106 227h0M96 231h0M110 243h0M101 246h0M110 237h0M101 240h0M98 224h0M101 242h0M104 248h0M98 227h0M88 226h0M89 228h0M104 225h0M104 223h0M89 247h0M86 228h0M87 223h0M109 231h0M92 250h0M91 230h0M100 243h0M87 229h0M94 244h0M100 250h0M98 219h0M95 232h0M92 240h0M106 228h0M92 247h0M102 222h0M98 224h0M91 225h0M86 232h0M86 245h0M97 249h0M89 224h0M90 238h0M102 240h0M90 243h0M109 244h0M105 246h0M100 228h0M99 238h0M93 243h0M107 240h0M94 233h0M94 226h0M94 248h0M105 228h0M101 245h0M86 237h0M98 247h0M101 249h0M101 223h0M101 251h0M107 225h0M97 224h0M93 237h0M97 246h0M102 248h0M100 223h0" stroke="#3a3ab8" stroke-width="2.8" stroke-linecap="round" fill="none" opacity="0.9"/><path d="M141 202h0M146 214h0M134 218h0M110 191h0M113 190h0M134 204h0M122 200h0M139 223h0M139 195h0M138 200h0M136 192h0M121 199h0M137 198h0M104 200h0M117 203h0M141 212h0M129 200h0M137 206h0M141 222h0M102 190h0M145 201h0M145 217h0M113 204h0M117 203h0M130 189h0M128 192h0M129 196h0M140 219h0M100 190h0M121 195h0M124 193h0M123 205h0M137 218h0M147 211h0M104 196h0M124 210h0M117 201h0M140 215h0M137 198h0M113 196h0M127 196h0M117 192h0M118 198h0M143 208h0M113 198h0M111 204h0M142 223h0M118 197h0M145 203h0M118 201h0M140 202h0M102 189h0M110 190h0M120 199h0M114 202h0M138 193h0M120 197h0M140 206h0M117 195h0M124 189h0M137 212h0M135 197h0M108 201h0M115 187h0M134 221h0M121 212h0M138 200h0M139 201h0M123 189h0M138 196h0M105 193h0M116 190h0M120 192h0M123 196h0M146 209h0M114 200h0M103 191h0M108 196h0M143 198h0M111 199h0M140 196h0M131 191h0M140 219h0M133 198h0M125 200h0M121 205h0M114 189h0M128 197h0M130 203h0M126 215h0" stroke="#5c5cd0" stroke-width="2.8" stroke-linecap="round" fill="none" opacity="0.6"/><path d="M144 200h0M103 191h0M46 212h0M70 237h0M106 245h0M139 225h0M71 208h0M66 217h0M123 218h0M77 200h0M130 241h0M122 230h0M88 252h0M95 197h0M68 202h0M97 233h0M66 234h0M99 245h0M128 249h0M113 243h0M54 245h0M140 219h0M54 243h0M95 211h0M111 231h0M145 216h0M78 204h0M50 215h0M80 207h0M139 225h0M91 251h0M65 244h0M81 254h0M85 203h0M97 207h0M110 197h0M131 198h0M105 247h0M66 216h0M113 233h0M131 214h0M110 245h0M96 218h0M83 224h0M58 238h0M105 191h0M90 221h0M96 232h0M120 190h0M71 210h0M120 204h0M104 224h0M131 228h0M136 207h0M101 241h0M79 228h0M52 247h0M82 253h0M70 201h0M74 212h0M75 235h0M126 235h0M138 202h0M116 237h0M68 216h0M81 209h0M102 251h0M59 215h0M62 231h0M58 208h0M79 198h0M70 237h0M49 231h0M99 233h0M82 199h0M79 208h0M59 242h0M97 200h0M52 234h0M95 201h0M76 235h0M63 209h0M110 196h0M66 200h0M48 244h0M136 228h0M73 247h0M97 238h0M80 231h0M50 242h0M60 225h0M123 252h0M130 237h0M128 244h0M61 215h0M92 251h0M94 196h0M82 218h0M60 210h0M123 250h0M121 230h0M121 193h0M42 230h0M122 205h0M118 203h0M100 206h0M138 232h0M83 233h0M143 216h0M102 249h0M135 217h0M90 253h0M94 229h0M69 225h0M144 206h0M104 205h0M73 239h0M110 191h0M69 232h0M120 225h0M106 205h0M63 230h0M81 228h0M89 236h0M88 191h0M135 208h0M114 207h0M127 206h0M83 200h0M101 209h0M53 237h0M75 234h0M87 218h0M72 206h0M130 218h0M62 210h0M71 227h0M143 224h0M141 199h0M126 233h0M77 195h0M90 205h0M80 197h0M133 238h0M137 217h0M106 233h0M102 249h0M110 236h0M82 193h0M102 251h0M119 233h0M78 245h0M100 213h0M122 244h0M109 201h0M119 190h0M73 228h0M48 231h0M75 236h0M51 230h0M50 215h0M56 217h0M126 196h0M74 238h0M70 204h0M104 199h0M76 202h0M81 220h0M104 246h0M135 231h0M117 208h0M56 246h0M126 243h0M80 238h0M115 238h0M94 200h0M124 188h0M125 206h0M93 217h0M124 236h0M123 206h0M95 251h0M60 248h0M144 223h0M129 232h0M128 232h0M74 252h0M139 215h0M70 213h0M63 201h0M95 228h0M124 227h0M98 232h0M84 247h0M59 216h0M75 210h0M60 231h0M138 232h0M57 239h0M106 205h0" stroke="#9c9ce0" stroke-width="2.8" stroke-linecap="round" fill="none" opacity="0.7"/><path d="M92 270h0M100 269h0M98 270h0M104 267h0M103 273h0M104 273h0M98 269h0M104 268h0M96 269h0M94 260h0M105 262h0M107 271h0M92 266h0M101 264h0M107 260h0M106 260h0M99 274h0M105 263h0M92 263h0M105 264h0M97 275h0M104 260h0M99 271h0M90 268h0M95 260h0" stroke="#5c5cd0" stroke-width="2.8" stroke-linecap="round" fill="none" opacity="0.7"/><path d="M20 177h0M42 158h0M31 171h0M20 175h0M39 168h0M20 170h0M17 179h0M42 160h0M15 178h0M44 161h0M21 166h0M25 176h0M26 171h0M28 178h0M25 179h0M36 170h0M37 174h0M42 173h0M27 164h0M22 169h0M45 173h0M17 178h0M30 173h0M31 181h0M22 174h0M37 166h0M43 168h0M23 173h0M50 165h0M28 161h0M41 158h0M48 165h0M32 175h0M33 173h0M29 167h0M35 164h0M33 169h0M24 174h0M23 174h0M22 181h0M33 158h0M18 172h0M20 166h0M32 170h0M36 174h0M26 163h0M44 160h0M44 167h0M35 176h0M21 181h0M20 182h0M33 178h0M22 175h0M44 165h0M36 158h0M49 164h0M42 162h0M46 167h0M26 171h0M26 169h0" stroke="#9c9ce0" stroke-width="2.8" stroke-linecap="round" fill="none" opacity="0.7"/><path d="M14 234h0M28 234h0M27 226h0M14 224h0M18 227h0M28 234h0M19 235h0M12 229h0M14 226h0M28 236h0M18 223h0M19 219h0M33 227h0M19 230h0M12 229h0M24 239h0M19 237h0M23 241h0M25 238h0M28 232h0" stroke="#9c9ce0" stroke-width="2.8" stroke-linecap="round" fill="none" opacity="0.7"/></g>
<g transform="translate(193 191.5) scale(0.3)" filter="url(#mb)"><use href="#minibase"/><use href="#minigray"/><path d="M52 184h0M33 194h0M41 198h0M50 195h0M39 198h0M58 190h0M47 193h0M63 187h0M54 193h0M44 186h0M53 194h0M37 193h0M42 188h0M56 186h0M37 201h0M55 195h0M51 196h0M70 177h0M60 183h0M52 189h0M49 195h0M51 191h0M56 197h0M40 186h0M76 179h0M68 190h0M41 200h0M62 184h0M56 183h0M52 189h0M39 195h0M63 179h0M45 201h0M55 197h0M68 178h0M53 185h0M55 198h0M53 193h0M52 194h0M33 199h0M64 186h0M75 184h0M72 177h0M44 192h0M50 183h0M34 197h0M37 193h0M42 193h0M70 188h0M48 183h0M40 203h0M64 181h0M43 202h0M70 179h0M62 183h0M52 191h0M49 195h0M77 181h0M47 184h0M52 192h0M46 203h0M45 185h0M45 186h0M48 201h0M67 184h0M56 188h0M41 190h0M57 186h0M40 192h0M48 197h0M74 179h0M50 194h0M69 177h0M45 185h0M58 190h0M58 182h0M41 202h0M36 199h0M34 200h0M69 180h0M41 187h0M69 181h0M76 182h0M49 183h0M50 190h0M33 198h0M38 201h0M48 183h0M57 188h0M44 185h0M53 197h0M51 181h0M46 196h0M65 183h0M56 194h0M37 199h0M44 197h0M55 188h0M63 186h0M51 185h0M41 193h0M71 183h0M42 197h0M63 181h0M55 182h0M71 188h0M55 186h0M41 186h0M42 189h0M39 188h0M73 178h0M61 184h0M59 183h0M52 187h0M46 192h0M45 187h0M77 182h0M44 198h0M67 179h0M49 183h0M64 183h0M72 188h0M66 186h0M48 192h0M68 184h0M50 187h0M41 197h0M48 190h0M67 189h0M40 202h0M37 191h0M57 196h0M64 181h0M51 194h0M72 177h0M66 188h0M48 193h0M65 180h0M39 199h0M54 181h0M60 184h0M35 192h0M53 194h0M37 194h0M42 194h0M49 183h0M60 180h0M69 189h0M58 182h0M32 199h0M46 198h0M48 189h0M49 192h0M67 187h0M45 203h0M64 186h0M61 185h0M61 190h0M42 202h0M36 200h0M69 188h0M71 182h0M60 183h0M56 190h0M60 182h0M75 184h0M61 194h0M73 184h0M40 193h0M67 179h0M52 181h0M52 194h0M50 194h0M47 184h0M76 179h0M47 192h0M68 178h0M44 190h0M46 191h0M52 196h0M37 196h0M49 198h0M45 197h0M47 200h0M43 201h0M55 182h0M46 190h0M36 199h0M70 181h0M66 191h0M56 185h0M51 188h0M37 191h0M64 182h0M45 198h0M53 188h0M37 190h0M36 203h0M42 190h0M67 178h0" stroke="#3a3ab8" stroke-width="2.8" stroke-linecap="round" fill="none" opacity="0.9"/><path d="M81 174h0M82 173h0M79 173h0M76 177h0M90 168h0M88 169h0M89 169h0M77 177h0M91 166h0M76 176h0M73 176h0M83 173h0M74 177h0M86 170h0M78 174h0M78 177h0M77 175h0M71 177h0M80 174h0M74 178h0M80 174h0M89 168h0M90 169h0M78 176h0M90 169h0" stroke="#3a3ab8" stroke-width="2.8" stroke-linecap="round" fill="none" opacity="0.9"/><path d="M127 231h0M57 208h0M94 225h0M119 241h0M100 250h0M122 233h0M55 226h0M101 202h0M139 215h0M90 197h0M62 218h0M73 251h0M116 196h0M110 243h0M125 213h0M127 197h0M108 228h0M130 220h0M51 232h0M71 241h0M54 229h0M84 229h0M140 203h0M57 238h0M131 205h0M119 235h0M87 199h0M131 244h0M104 245h0M109 198h0M101 251h0M118 223h0M110 215h0M135 212h0M119 210h0M88 228h0M143 217h0M84 203h0M105 233h0M73 225h0M94 254h0M103 194h0M126 200h0M147 206h0M76 218h0M111 208h0M58 206h0M129 211h0M130 198h0M58 236h0M133 225h0M89 191h0M93 239h0M64 242h0M129 250h0M144 217h0M94 229h0M83 215h0M122 241h0M86 204h0M128 227h0M124 197h0M48 211h0M93 244h0M92 189h0M120 243h0M97 194h0M69 235h0M88 225h0M111 221h0M42 226h0M70 219h0M113 187h0M93 218h0M123 222h0M58 208h0M106 252h0M77 209h0M74 252h0M142 233h0M90 237h0M102 222h0M126 191h0M71 200h0M110 220h0M88 250h0M89 203h0M63 230h0M93 227h0M91 222h0M48 221h0M112 251h0M69 230h0M107 217h0M116 250h0M50 235h0M63 233h0M99 243h0M107 202h0M78 206h0M126 237h0M86 212h0M103 216h0M61 217h0M118 245h0M143 216h0M63 240h0M85 197h0M44 242h0M131 214h0M129 232h0M94 223h0M138 210h0M80 228h0M74 235h0M122 191h0M58 218h0M121 199h0M79 239h0M108 236h0M97 192h0M44 226h0M130 214h0M137 227h0M112 211h0M82 193h0M104 238h0M117 200h0M81 250h0M105 217h0M78 222h0M86 237h0M118 207h0M131 194h0M110 220h0M79 239h0M134 228h0M61 235h0M82 193h0M79 223h0M92 225h0M101 249h0M101 248h0M123 249h0M76 243h0M132 241h0M144 196h0M97 213h0M69 213h0M102 205h0M67 239h0M93 215h0M125 198h0M87 193h0M143 216h0M128 201h0M41 229h0M44 222h0M133 244h0M94 199h0M103 248h0M96 215h0M134 214h0M139 233h0M102 196h0M57 242h0M129 245h0M106 235h0M116 213h0M90 251h0M133 223h0M105 251h0M107 238h0M78 237h0M76 217h0M101 234h0M58 212h0M105 192h0M107 221h0M67 211h0M77 233h0M87 206h0M108 217h0M51 235h0M84 204h0M108 246h0M70 220h0M74 242h0M60 235h0M136 192h0M66 234h0M50 216h0M107 212h0M101 196h0M81 230h0M139 230h0M126 224h0M81 222h0M143 197h0M111 227h0" stroke="#9c9ce0" stroke-width="2.8" stroke-linecap="round" fill="none" opacity="0.55"/><path d="M29 171h0M45 163h0M47 172h0M14 174h0M19 179h0M17 182h0M28 161h0M30 164h0M35 160h0M40 160h0M40 163h0M44 164h0M20 165h0M40 168h0M22 182h0M22 167h0M31 178h0M23 181h0M32 180h0M24 173h0M37 164h0M28 167h0M41 162h0M22 166h0M20 181h0M24 175h0M29 172h0M40 164h0M20 168h0M21 181h0M34 164h0M29 180h0M24 180h0M24 163h0M20 170h0M45 168h0M31 178h0M41 173h0M37 163h0M46 173h0M17 182h0M34 162h0M25 168h0M28 171h0M32 181h0M44 173h0M32 177h0M21 175h0M46 161h0M21 171h0M40 168h0M34 179h0M40 171h0M20 169h0M19 175h0M38 166h0M33 172h0M35 176h0M44 163h0M44 157h0" stroke="#9c9ce0" stroke-width="2.8" stroke-linecap="round" fill="none" opacity="0.6"/><path d="M22 240h0M19 225h0M26 224h0M16 242h0M26 218h0M12 239h0M24 230h0M14 225h0M25 224h0M20 221h0M21 222h0M28 223h0M27 228h0M20 232h0M17 231h0M19 228h0M31 221h0M22 233h0M20 239h0M20 217h0" stroke="#9c9ce0" stroke-width="2.8" stroke-linecap="round" fill="none" opacity="0.6"/></g>
<g transform="translate(254 192) scale(0.3)" filter="url(#mb)"><use href="#minibase"/><use href="#minigray"/><path d="M31 166h0M43 161h0M34 177h0M36 174h0M41 172h0M34 172h0M27 178h0M43 163h0M27 162h0M41 169h0M47 162h0M38 165h0M28 172h0M26 174h0M47 158h0M47 159h0M29 160h0M27 180h0M22 173h0M19 179h0M42 160h0M45 162h0M38 178h0M36 164h0M40 172h0M24 172h0M42 173h0M40 176h0M30 160h0M34 175h0M30 168h0M24 174h0M29 174h0M21 168h0M42 160h0M30 165h0M48 167h0M23 179h0M24 175h0M28 179h0M30 171h0M19 180h0M27 178h0M39 171h0M32 169h0M35 163h0M32 161h0M40 161h0M20 180h0M40 166h0M42 161h0M23 172h0M16 175h0M43 169h0M31 172h0M29 170h0M30 162h0M22 176h0M26 165h0M46 168h0M38 169h0M16 179h0M47 163h0M43 164h0M30 181h0M32 177h0M43 174h0M44 174h0M26 172h0M23 180h0M31 160h0M34 172h0M17 176h0M39 161h0M21 169h0M32 177h0M44 160h0M18 169h0M39 160h0M27 181h0M36 171h0M36 168h0M48 166h0M21 169h0M17 176h0M33 179h0M34 169h0M32 181h0M46 171h0M41 164h0M16 172h0M15 171h0M29 178h0M26 163h0M30 182h0M21 173h0M34 175h0M25 175h0M27 175h0M35 172h0M40 167h0M25 178h0M26 180h0M39 170h0M22 168h0M22 179h0M35 170h0M21 172h0M39 176h0M26 175h0M36 161h0M31 160h0M20 178h0M25 180h0M17 168h0M27 162h0M42 173h0M31 181h0M32 168h0M35 174h0M45 167h0M40 163h0M37 175h0M20 180h0M43 157h0M32 181h0M48 161h0M36 168h0M38 160h0M30 177h0M15 179h0M25 168h0M51 165h0M21 180h0M24 176h0M50 168h0M24 164h0M30 168h0M30 177h0M39 162h0M31 168h0M33 160h0M31 172h0M39 166h0M34 161h0M24 177h0M26 169h0M30 165h0M24 176h0M20 179h0M30 168h0M15 180h0M43 175h0M47 159h0M28 171h0M47 170h0M45 162h0M22 180h0M30 166h0M37 158h0M45 158h0M37 168h0M31 166h0M16 171h0M43 170h0M40 158h0M44 160h0M32 164h0M36 174h0M28 182h0M35 165h0M40 160h0M40 157h0M49 159h0M47 172h0M31 166h0M46 172h0M34 163h0M28 166h0M31 169h0M25 175h0M41 171h0M48 163h0M28 167h0M31 161h0M17 180h0M30 172h0M37 166h0M19 177h0M29 166h0M31 168h0M34 158h0M24 181h0M32 172h0M18 170h0M39 160h0M22 169h0M40 168h0M28 164h0M22 171h0M25 181h0M31 180h0M27 164h0M32 160h0M18 175h0M24 165h0M39 159h0M48 164h0M38 158h0M17 169h0M15 172h0M40 173h0M23 177h0M36 161h0M29 171h0M33 165h0M46 163h0M21 173h0M20 168h0M46 163h0M21 168h0M29 173h0M21 182h0M46 163h0M44 169h0M37 165h0M25 174h0M35 166h0M20 180h0M30 160h0M40 158h0M40 163h0M44 173h0M17 169h0M33 176h0M31 163h0M30 172h0M47 171h0M27 174h0M51 161h0M26 171h0M46 166h0M34 178h0M21 182h0M38 177h0M27 176h0M39 166h0M32 170h0M34 169h0M38 159h0M26 167h0M17 176h0M39 165h0M24 170h0M15 172h0M24 177h0M35 168h0M29 178h0M35 173h0M35 179h0" stroke="#3a3ab8" stroke-width="2.8" stroke-linecap="round" fill="none" opacity="0.95"/><path d="M48 163h0M50 163h0M57 160h0M51 162h0M57 161h0M66 162h0M66 160h0M57 160h0M53 160h0M51 164h0M50 162h0M48 161h0M54 162h0M51 163h0M65 162h0M62 160h0M60 160h0M48 163h0M47 164h0M54 163h0M50 164h0M66 160h0M57 160h0M64 161h0M48 161h0M51 160h0M64 162h0M65 161h0M49 164h0M54 161h0" stroke="#3a3ab8" stroke-width="2.8" stroke-linecap="round" fill="none" opacity="0.95"/><path d="M72 186h0M61 181h0M41 201h0M36 196h0M67 187h0M69 179h0M37 195h0M42 191h0M61 193h0M40 205h0M59 192h0M71 187h0M60 189h0M43 199h0M59 183h0M72 186h0M59 193h0M65 184h0M40 202h0M70 189h0M60 191h0M35 192h0M36 204h0M38 197h0M44 190h0M73 184h0M57 195h0M49 189h0M72 178h0M36 203h0M33 202h0M32 195h0M72 189h0M72 179h0M48 191h0M50 187h0M47 196h0M56 183h0M55 185h0M63 189h0M47 202h0M37 205h0M58 184h0M76 183h0M47 186h0M68 181h0M50 191h0M49 185h0M48 185h0M58 189h0M55 185h0M71 177h0M63 191h0M53 188h0M48 201h0M56 189h0M35 194h0M32 202h0M56 187h0M55 187h0M49 192h0M34 197h0M56 190h0M60 185h0M65 190h0M55 181h0M40 186h0M71 189h0M36 199h0M73 176h0M62 181h0M47 198h0M56 183h0M62 190h0M52 185h0M56 189h0M38 205h0M48 186h0M63 185h0M49 184h0" stroke="#9c9ce0" stroke-width="2.8" stroke-linecap="round" fill="none" opacity="0.8"/><path d="M74 202h0M51 222h0M134 217h0M72 202h0M103 245h0M95 199h0M119 239h0M89 233h0M77 236h0M80 244h0M68 199h0M74 233h0M127 212h0M139 211h0M84 237h0M92 206h0M130 212h0M102 208h0M50 215h0M56 239h0M81 211h0M71 226h0M77 223h0M110 233h0M90 202h0M104 221h0M125 204h0M93 226h0M134 203h0M98 209h0M74 245h0M115 241h0M96 227h0M131 217h0M123 227h0M120 242h0M82 225h0M59 245h0M70 207h0M103 209h0" stroke="#9c9ce0" stroke-width="2.8" stroke-linecap="round" fill="none" opacity="0.5"/></g>
<g transform="translate(308 192) scale(0.3)" filter="url(#mb)"><use href="#minibase"/><use href="#minigray"/><path d="M99 262h0M96 274h0M100 272h0M94 260h0M99 270h0M108 269h0M93 262h0M102 263h0M101 266h0M92 270h0M97 269h0M110 263h0M91 264h0M103 261h0M100 260h0M98 272h0M102 270h0M101 266h0M108 269h0M91 266h0M97 265h0M96 262h0M110 266h0M111 264h0M104 268h0M100 270h0M105 273h0M100 269h0M108 267h0M96 262h0M97 259h0M93 269h0M109 273h0M107 265h0M92 262h0M109 268h0M106 263h0M98 265h0M100 266h0M93 268h0M106 269h0M95 266h0M107 270h0M102 262h0M103 273h0M96 275h0M103 271h0M100 266h0M97 266h0M102 261h0M106 266h0M95 261h0M100 273h0M104 263h0M96 260h0M100 261h0M107 261h0M107 260h0M94 265h0M99 274h0M94 270h0M95 269h0M96 267h0M105 259h0M105 274h0M88 266h0M110 271h0M111 267h0M102 271h0M103 267h0M106 270h0M97 265h0M112 268h0M103 261h0M89 270h0M91 269h0M96 269h0M91 271h0M97 274h0M90 271h0M95 267h0M89 265h0M94 260h0M92 271h0M99 275h0M104 260h0M92 267h0M95 272h0M97 261h0M94 264h0" stroke="#3a3ab8" stroke-width="2.8" stroke-linecap="round" fill="none" opacity="0.9"/><path d="M61 235h0M99 228h0M86 198h0M109 203h0M129 206h0M121 188h0M99 229h0M90 214h0M133 243h0M130 221h0M104 237h0M125 212h0M124 245h0M126 207h0M94 212h0M95 237h0M56 222h0M86 202h0M64 250h0M64 249h0M104 216h0M82 253h0M107 243h0M81 216h0M111 209h0M121 252h0M138 230h0M51 223h0M96 229h0M77 242h0M97 230h0M141 231h0M123 189h0M126 194h0M48 233h0M132 206h0M142 205h0M103 223h0M78 254h0M71 196h0M92 248h0M84 204h0M69 241h0M121 206h0M70 243h0M93 241h0M94 220h0M120 238h0M89 203h0M130 226h0M143 211h0M52 211h0M128 214h0M123 252h0M99 199h0M116 189h0M68 230h0M134 225h0M97 205h0M111 216h0M46 239h0M116 231h0M97 244h0M65 198h0M79 219h0M75 239h0M120 241h0M76 246h0M94 252h0M105 193h0M89 246h0M94 255h0M122 208h0M95 230h0M79 234h0M109 240h0M133 231h0M63 223h0M74 196h0M123 201h0M48 240h0M72 252h0M131 190h0M84 234h0M116 241h0M128 200h0M130 219h0M62 232h0M52 220h0M90 232h0M90 204h0M43 225h0M128 211h0M86 227h0M49 222h0M146 206h0M82 214h0M112 201h0M105 196h0M86 216h0M68 219h0M90 193h0M99 223h0M87 189h0M59 247h0M72 221h0M82 239h0M130 245h0M79 233h0M55 211h0M145 213h0M120 231h0M133 216h0M134 192h0M96 220h0M85 208h0M59 250h0M113 231h0M110 207h0M114 194h0M65 208h0M95 214h0M126 216h0M114 221h0M117 204h0M84 222h0M114 229h0M104 248h0M117 237h0M56 212h0M43 223h0M76 216h0M125 251h0M103 230h0M59 218h0M124 243h0M122 239h0M133 247h0M54 248h0M108 242h0M99 225h0M103 215h0M96 212h0M89 248h0M124 251h0M106 192h0M90 233h0M60 201h0M141 220h0M52 225h0M134 228h0M94 253h0M132 217h0M84 197h0M83 232h0M136 229h0M71 204h0M71 252h0M106 206h0M143 199h0M62 231h0M56 222h0M125 210h0M131 211h0M59 223h0M121 188h0M79 231h0M78 252h0M96 215h0M110 207h0M120 241h0M135 234h0M131 230h0M54 228h0M95 204h0M133 213h0M81 208h0M59 233h0M118 228h0M91 194h0M140 208h0M105 210h0M100 212h0M72 204h0M101 255h0M92 229h0M97 219h0M110 243h0M130 194h0M65 228h0M69 202h0M74 242h0M73 233h0M98 242h0M94 231h0M108 202h0M64 207h0M96 215h0M71 227h0M83 190h0M70 210h0M90 211h0M87 195h0M76 219h0M56 222h0M95 242h0M127 205h0M138 197h0M93 195h0M79 246h0M74 213h0M76 244h0M86 216h0M119 229h0M88 235h0M83 234h0M125 193h0M119 212h0M84 194h0M101 235h0M120 209h0M69 233h0M133 208h0M117 207h0M79 207h0M49 232h0M81 254h0M86 216h0M106 209h0M62 208h0M58 224h0M80 223h0M70 208h0M114 212h0M96 238h0M135 222h0M88 210h0M52 225h0M119 252h0M98 223h0M110 231h0M67 244h0M104 218h0M116 224h0M118 246h0M87 216h0M74 213h0M126 236h0M90 228h0M92 237h0M101 240h0M88 224h0M86 209h0M91 244h0M66 198h0M135 231h0M123 203h0M135 236h0M120 198h0M127 202h0M102 243h0M65 241h0M135 244h0M80 249h0M86 244h0M65 205h0M135 200h0M64 225h0M78 244h0M94 209h0M60 230h0M77 219h0M72 230h0M138 232h0M59 243h0M69 249h0M109 190h0M109 203h0M112 196h0M109 232h0M78 207h0M77 194h0M105 254h0M63 200h0M96 200h0M74 238h0M71 236h0M64 230h0M122 216h0M119 238h0M111 209h0M97 207h0M125 208h0M79 210h0M91 195h0M48 223h0M85 203h0M78 209h0M130 211h0M137 194h0" stroke="#9c9ce0" stroke-width="2.8" stroke-linecap="round" fill="none" opacity="0.7"/><path d="M43 166h0M24 173h0M24 168h0M45 159h0M23 176h0M25 172h0M41 174h0M47 161h0M13 177h0M27 162h0M47 158h0M28 165h0M30 179h0M34 169h0M37 171h0M42 160h0M40 172h0M26 167h0M36 175h0M35 159h0M49 164h0M46 163h0M27 167h0M26 175h0M39 159h0M17 176h0M46 169h0M37 169h0M35 171h0M16 174h0M30 173h0M39 160h0M47 163h0M29 161h0M38 169h0M25 167h0M44 166h0M26 176h0M46 159h0M24 173h0M30 162h0M41 165h0M31 170h0M43 170h0M35 167h0M21 180h0M33 175h0M22 173h0M26 181h0M42 163h0M18 173h0M39 165h0M22 178h0M41 163h0M48 166h0M26 170h0M46 163h0M14 177h0M22 182h0M40 157h0M31 170h0M31 178h0M38 179h0M24 165h0M33 171h0M42 162h0M19 166h0M32 172h0M15 176h0M30 163h0M19 178h0M33 174h0M38 161h0M22 183h0M34 165h0M26 167h0M24 182h0M45 165h0M31 181h0M47 163h0" stroke="#9c9ce0" stroke-width="2.8" stroke-linecap="round" fill="none" opacity="0.7"/><path d="M52 192h0M42 192h0M59 180h0M54 190h0M54 181h0M44 201h0M57 186h0M55 195h0M73 180h0M61 193h0M34 195h0M50 196h0M65 187h0M37 200h0M33 200h0M61 195h0M73 181h0M57 182h0M66 189h0M34 194h0M45 189h0M45 191h0M40 200h0M50 187h0M39 194h0M76 180h0M77 178h0M46 193h0M46 191h0M38 189h0M75 182h0M49 201h0M53 185h0M52 193h0M36 198h0M34 196h0M74 179h0M63 178h0M37 195h0M73 181h0M57 182h0M51 188h0M50 193h0M35 200h0M57 196h0M45 192h0M70 187h0M60 185h0M72 176h0M72 184h0M74 185h0M48 189h0M70 183h0M54 182h0M67 189h0M60 185h0M72 183h0M44 198h0M52 191h0M33 202h0" stroke="#9c9ce0" stroke-width="2.8" stroke-linecap="round" fill="none" opacity="0.7"/><path d="M20 220h0M24 222h0M31 235h0M27 236h0M23 227h0M29 218h0M24 237h0M20 231h0M14 233h0M28 225h0M29 235h0M26 218h0M22 234h0M18 242h0M30 223h0M28 223h0M28 216h0M23 237h0M19 222h0M16 237h0M21 235h0M23 233h0M28 239h0M22 235h0M15 238h0" stroke="#9c9ce0" stroke-width="2.8" stroke-linecap="round" fill="none" opacity="0.6"/></g>
<text x="388.3" y="129.6" font-size="11.8" font-weight="bold" fill="#000" stroke="#000" stroke-width="0.35" textLength="8.3" lengthAdjust="spacingAndGlyphs">D</text>
<text x="462" y="134.6" font-size="7.2" fill="#231f20" stroke="#231f20" stroke-width="0.16" textLength="8.6" lengthAdjust="spacingAndGlyphs">&lt;5</text>
<text x="462" y="146.2" font-size="7.2" fill="#231f20" stroke="#231f20" stroke-width="0.16" textLength="16.5" lengthAdjust="spacingAndGlyphs">5–10</text>
<text x="462" y="157.7" font-size="7.2" fill="#231f20" stroke="#231f20" stroke-width="0.16" textLength="21" lengthAdjust="spacingAndGlyphs">10–20</text>
<text x="462" y="169" font-size="7.2" fill="#231f20" stroke="#231f20" stroke-width="0.16" textLength="12.6" lengthAdjust="spacingAndGlyphs">&gt;20</text>
<rect x="488.5" y="126.5" width="29.3" height="11.3" fill="#fff" stroke="#231f20" stroke-width="0.8"/>
<rect x="488.2" y="139.2" width="30" height="10.5" fill="#c6d6e6" stroke="none" stroke-width="1"/>
<rect x="488.2" y="150.6" width="30" height="10" fill="#f4e2d8" stroke="none" stroke-width="1"/>
<rect x="488.2" y="161.3" width="30" height="10.8" fill="#c8102e" stroke="none" stroke-width="1"/>
<rect x="428" y="211" width="30.19999999999999" height="17" fill="#c8102e" stroke="none" stroke-width="1"/>
<text x="443.1" y="222.8" font-size="10.4" text-anchor="middle" fill="#fff" stroke="#fff" stroke-width="0.1" textLength="15.4" lengthAdjust="spacingAndGlyphs">200</text>
<rect x="458.2" y="211" width="30.100000000000023" height="17" fill="#f4e2d8" stroke="none" stroke-width="1"/>
<text x="473.25" y="222.8" font-size="10.4" text-anchor="middle" fill="#231f20" stroke="#231f20" stroke-width="0.1" textLength="10.2" lengthAdjust="spacingAndGlyphs">14</text>
<rect x="488.3" y="211" width="30.30000000000001" height="17" fill="#c6d6e6" stroke="none" stroke-width="1"/>
<text x="503.45000000000005" y="222.8" font-size="10.4" text-anchor="middle" fill="#231f20" stroke="#231f20" stroke-width="0.1" textLength="5.1" lengthAdjust="spacingAndGlyphs">6</text>
<rect x="428" y="228" width="30.19999999999999" height="16.80000000000001" fill="#f4e2d8" stroke="none" stroke-width="1"/>
<text x="443.1" y="239.60000000000002" font-size="10.4" text-anchor="middle" fill="#231f20" stroke="#231f20" stroke-width="0.1" textLength="10.2" lengthAdjust="spacingAndGlyphs">14</text>
<rect x="458.2" y="228" width="30.100000000000023" height="16.80000000000001" fill="#c8102e" stroke="none" stroke-width="1"/>
<text x="473.25" y="239.60000000000002" font-size="10.4" text-anchor="middle" fill="#fff" stroke="#fff" stroke-width="0.1" textLength="15.4" lengthAdjust="spacingAndGlyphs">200</text>
<rect x="488.3" y="228" width="30.30000000000001" height="16.80000000000001" fill="#fff" stroke="none" stroke-width="1"/>
<text x="503.45000000000005" y="239.60000000000002" font-size="10.4" text-anchor="middle" fill="#231f20" stroke="#231f20" stroke-width="0.1" textLength="5.1" lengthAdjust="spacingAndGlyphs">2</text>
<rect x="428" y="244.8" width="30.19999999999999" height="16.69999999999999" fill="#c6d6e6" stroke="none" stroke-width="1"/>
<text x="443.1" y="256.3" font-size="10.4" text-anchor="middle" fill="#231f20" stroke="#231f20" stroke-width="0.1" textLength="5.1" lengthAdjust="spacingAndGlyphs">6</text>
<rect x="458.2" y="244.8" width="30.100000000000023" height="16.69999999999999" fill="#fff" stroke="none" stroke-width="1"/>
<text x="473.25" y="256.3" font-size="10.4" text-anchor="middle" fill="#231f20" stroke="#231f20" stroke-width="0.1" textLength="5.1" lengthAdjust="spacingAndGlyphs">2</text>
<rect x="488.3" y="244.8" width="30.30000000000001" height="16.69999999999999" fill="#c8102e" stroke="none" stroke-width="1"/>
<text x="503.45000000000005" y="256.3" font-size="10.4" text-anchor="middle" fill="#fff" stroke="#fff" stroke-width="0.1" textLength="15.4" lengthAdjust="spacingAndGlyphs">200</text>
<line x1="428" y1="175.5" x2="428" y2="261.5" stroke="#231f20" stroke-width="0.9"/>
<line x1="458.2" y1="175.5" x2="458.2" y2="261.5" stroke="#231f20" stroke-width="0.9"/>
<line x1="488.3" y1="175.5" x2="488.3" y2="261.5" stroke="#231f20" stroke-width="0.9"/>
<line x1="518.6" y1="175.5" x2="518.6" y2="261.5" stroke="#231f20" stroke-width="0.9"/>
<line x1="392" y1="211" x2="392" y2="261.5" stroke="#231f20" stroke-width="0.9"/>
<line x1="428" y1="175.5" x2="518.6" y2="175.5" stroke="#231f20" stroke-width="0.9"/>
<line x1="392" y1="211" x2="518.6" y2="211" stroke="#231f20" stroke-width="0.9"/>
<line x1="392" y1="228" x2="518.6" y2="228" stroke="#231f20" stroke-width="0.9"/>
<line x1="392" y1="244.8" x2="518.6" y2="244.8" stroke="#231f20" stroke-width="0.9"/>
<line x1="392" y1="261.5" x2="518.6" y2="261.5" stroke="#231f20" stroke-width="0.9"/>
<text x="446.6" y="202.5" font-size="9.6" font-weight="bold" fill="#2a2ad0" transform="rotate(-90 446.6 202.5)">Pre</text>
<text x="476.7" y="202.5" font-size="9.6" font-weight="bold" fill="#231f20" transform="rotate(-90 476.7 202.5)">Post</text>
<text x="506.9" y="202.5" font-size="9.6" font-weight="bold" fill="#231f20" transform="rotate(-90 506.9 202.5)">HD1</text>
<text x="400.2" y="222.3" font-size="9.6" font-weight="bold" fill="#2a2ad0">Pre</text>
<text x="400.2" y="239.2" font-size="9.6" font-weight="bold" fill="#231f20">Post</text>
<text x="400.2" y="256" font-size="9.6" font-weight="bold" fill="#231f20">HD1</text>
<text x="0.2" y="302.8" font-size="11.8" font-weight="bold" fill="#000" stroke="#000" stroke-width="0.35" textLength="7.0" lengthAdjust="spacingAndGlyphs">E</text>
<text x="97.8" y="301.5" font-size="8.5" text-anchor="middle" fill="#231f20" stroke="#231f20" stroke-width="0.1" textLength="13.5" lengthAdjust="spacingAndGlyphs">Pre</text>
<text x="280" y="301.5" font-size="8.5" text-anchor="middle" fill="#231f20" stroke="#231f20" stroke-width="0.1" textLength="18.2" lengthAdjust="spacingAndGlyphs">Post</text>
<path d="M31,390 L144.5,346 L144.5,306 L31,350 Z" stroke="#d0d0d0" fill="#fdfdfd" stroke-width="0.6"/>
<path d="M29.5,391.5 L57.0,409.2 L172.8,360.5" stroke="#dedede" fill="none" stroke-width="2.2"/>
<path d="M31,390 L57.5,407 L172,359 L144.5,346 Z" stroke="#c8c8c8" fill="#e0dbdb" stroke-width="0.6"/>
<path d="M31,390 L57.5,407 L117.0,382.0 L90.0,367.1 Z" fill="#dcb4b4"/>
<path d="M40.6,394.9v-2.0M43.9,397.4v-3.0M49.8,400.7v-2.5M47.4,397.9v-2.0M49.3,399.0v-4.0M51.0,400.2v-3.5M54.4,402.7v-2.5M56.3,403.8v-2.0M58.2,404.9v-3.5M52.0,399.8v-4.0M53.8,401.0v-2.5M57.9,403.1v-2.0M59.4,404.4v-3.0M44.2,393.5v-2.0M43.7,391.8v-2.5M45.4,393.0v-3.5M47.4,394.1v-3.0M49.2,395.3v-3.0M51.0,396.4v-3.5M52.9,397.6v-2.0M56.6,399.8v-3.0M58.5,401.0v-4.0M60.1,402.2v-3.0M62.3,403.2v-3.5M45.1,391.2v-2.0M46.7,392.5v-2.0M50.6,394.7v-2.5M54.1,397.0v-3.5M56.2,398.1v-2.0M57.7,399.4v-2.0M59.8,400.4v-2.0M61.4,401.7v-3.0M63.4,402.8v-3.0M46.5,390.7v-2.5M48.2,391.9v-1.5M50.0,393.0v-1.5M51.6,394.3v-4.0M55.5,396.5v-2.5M57.4,397.6v-3.0M59.0,398.8v-2.0M61.2,399.9v-3.0M47.6,390.2v-3.0M51.4,392.5v-2.5M53.2,393.6v-2.5M54.9,394.9v-3.5M56.6,396.0v-2.0M58.7,397.1v-4.0M60.6,398.2v-4.0M62.3,399.4v-3.5M63.9,400.6v-3.5M65.8,401.8v-3.5M47.0,388.6v-4.0M49.1,389.6v-2.0M50.6,390.9v-3.0M52.7,391.9v-4.0M54.5,393.1v-3.0M56.4,394.2v-3.5M58.0,395.5v-1.5M59.8,396.6v-3.5M61.5,397.8v-2.0M63.5,398.9v-3.5M65.4,400.0v-2.0M44.6,385.8v-3.0M50.0,389.3v-1.5M51.9,390.4v-2.0M55.5,392.7v-3.0M57.3,393.8v-3.5M59.3,394.9v-3.0M61.2,396.0v-3.0M63.2,397.1v-2.5M65.0,398.3v-3.0M66.7,399.5v-1.5M68.5,400.6v-4.0M45.7,385.4v-2.0M47.7,386.5v-4.0M51.3,388.8v-3.5M53.1,389.9v-2.5M55.3,390.9v-2.5M57.1,392.1v-4.0M60.6,394.4v-2.0M62.6,395.5v-2.5M64.3,396.7v-4.0M66.3,397.8v-3.0M67.8,399.0v-3.0M69.8,400.1v-2.0M48.8,386.0v-2.5M52.5,388.3v-4.0M54.7,389.3v-3.5M56.2,390.6v-3.0M58.2,391.6v-2.5M60.1,392.7v-2.0M61.8,393.9v-1.5M63.8,395.0v-2.0M65.5,396.2v-4.0M67.6,397.2v-1.5M70.9,399.6v-2.0M55.6,388.9v-3.0M57.5,390.0v-1.5M59.6,391.1v-2.0M61.5,392.1v-3.5M63.4,393.3v-3.0M65.1,394.5v-3.0M68.7,396.7v-3.0M70.7,397.8v-3.0M72.6,398.9v-3.5M55.4,387.2v-2.5M59.1,389.4v-3.0M60.6,390.6v-3.5M62.6,391.7v-4.0M64.5,392.8v-3.0M66.4,393.9v-2.5M68.0,395.2v-4.0M70.1,396.2v-3.0M71.9,397.3v-2.0M73.9,398.4v-3.5M50.8,383.4v-3.0M56.4,386.7v-4.0M58.1,387.9v-2.0M60.2,389.0v-3.5M62.0,390.1v-2.0M65.7,392.4v-3.0M67.5,393.5v-2.0M71.4,395.6v-2.0M73.0,396.9v-2.0M75.1,397.9v-3.0M52.3,382.8v-2.5M56.1,385.0v-4.0M57.9,386.2v-3.0M61.3,388.5v-2.0M63.2,389.6v-3.5M65.3,390.6v-1.5M68.9,392.9v-4.0M70.9,394.0v-3.0M72.3,395.3v-3.0M74.3,396.3v-4.0M76.2,397.4v-2.5M55.5,383.4v-4.0M59.2,385.6v-2.0M60.8,386.9v-1.5M62.7,388.0v-3.0M64.8,389.0v-4.0M66.3,390.2v-2.0M69.9,392.5v-2.0M71.8,393.6v-2.0M73.9,394.6v-1.5M75.5,395.8v-2.0M77.5,396.9v-1.5M60.5,385.1v-3.5M62.2,386.3v-3.5M64.1,387.4v-2.0M65.9,388.5v-3.0M67.8,389.6v-2.0M69.5,390.8v-4.0M71.3,391.9v-3.0M73.1,393.0v-2.0M75.2,394.1v-2.0M76.8,395.3v-3.0M78.7,396.4v-4.0M58.0,382.4v-3.5M61.8,384.6v-2.5M63.4,385.8v-2.5M65.4,386.9v-3.0M67.3,388.0v-1.5M68.9,389.2v-1.5M70.7,390.3v-3.0M72.8,391.3v-4.0M74.4,392.5v-3.5M76.5,393.6v-2.0M78.2,394.7v-3.0M80.2,395.7v-2.0M57.5,380.8v-2.0M61.3,383.0v-3.0M63.0,384.1v-2.0M64.5,385.4v-3.0M68.6,387.4v-2.5M70.4,388.6v-2.5M75.9,391.9v-2.5M79.5,394.2v-3.0M81.3,395.3v-1.5M58.4,380.4v-2.0M60.3,381.5v-4.0M62.4,382.5v-2.0M64.2,383.7v-4.0M68.0,385.8v-2.0M69.5,387.1v-3.5M75.3,390.3v-3.0M78.9,392.6v-3.0M80.8,393.6v-2.5M82.8,394.7v-3.0M62.0,380.9v-1.5M63.5,382.1v-2.5M65.2,383.3v-1.5M67.3,384.3v-2.5M72.7,387.7v-2.5M74.9,388.6v-3.0M76.4,389.8v-3.5M78.5,390.8v-3.0M80.3,392.0v-2.5M81.9,393.2v-3.5M83.7,394.3v-2.0M66.9,382.6v-2.0M68.6,383.7v-1.5M74.2,387.0v-4.0M83.1,392.7v-1.5M66.3,381.0v-4.0M67.9,382.2v-3.5M69.8,383.3v-3.0M71.6,384.4v-2.5M73.7,385.4v-2.0M75.3,386.6v-3.0M77.3,387.6v-3.5M78.9,388.8v-1.5M82.9,390.9v-4.0M84.5,392.1v-2.5M86.4,393.2v-2.5M65.6,379.4v-4.0M69.3,381.6v-3.0M71.0,382.8v-2.0M73.1,383.8v-3.0M76.7,386.0v-3.0M78.4,387.2v-2.0M82.0,389.4v-2.0M84.0,390.4v-2.5M86.0,391.5v-3.5M87.8,392.6v-3.5M65.1,377.8v-3.5M70.4,381.2v-3.5M72.4,382.2v-2.5M74.2,383.4v-3.0M77.9,385.5v-3.0M80.0,386.5v-2.5M83.5,388.8v-2.5M85.4,389.9v-3.0M87.3,390.9v-2.0M88.8,392.2v-4.0M70.2,379.5v-3.5M73.4,381.8v-2.0M75.7,382.7v-3.5M77.3,383.9v-3.5M80.9,386.2v-2.5M83.1,387.1v-2.0M84.7,388.3v-2.0M90.3,391.6v-4.0M67.7,376.8v-3.5M69.5,377.9v-3.0M71.2,379.1v-2.0M72.9,380.2v-3.5M74.9,381.2v-4.0M77.0,382.2v-1.5M78.7,383.4v-1.5M80.6,384.4v-3.0M82.2,385.6v-3.5M84.4,386.6v-3.5M86.0,387.8v-2.5M88.0,388.8v-3.0M89.6,390.0v-4.0M91.6,391.0v-3.0M68.6,376.5v-4.0M74.6,379.6v-3.0M76.2,380.7v-2.0M77.9,381.9v-2.0M80.0,382.9v-3.5M81.9,383.9v-2.0M83.7,385.0v-4.0M85.6,386.1v-2.5M87.2,387.3v-2.0M89.0,388.4v-3.0M91.1,389.4v-2.5M93.1,390.4v-3.0M77.3,380.3v-2.5M81.1,382.4v-1.5M83.0,383.5v-3.0M84.9,384.5v-2.0M86.7,385.6v-3.5M88.7,386.7v-2.0M90.3,387.8v-1.5M92.2,388.9v-2.0M94.0,390.0v-2.0M77.0,378.6v-2.5M79.0,379.6v-3.0M80.7,380.8v-2.0M82.4,381.9v-4.0M84.5,382.9v-2.0M86.2,384.0v-3.0M88.1,385.1v-2.5M90.0,386.1v-3.5M93.6,388.3v-4.0M74.3,376.0v-1.5M76.5,377.0v-2.5M78.2,378.1v-2.5M80.0,379.2v-4.0M82.0,380.2v-2.0M83.6,381.4v-3.0M85.5,382.4v-2.5M89.5,384.5v-3.0M93.1,386.7v-2.5M94.9,387.8v-3.5M96.8,388.9v-3.0M73.7,374.5v-1.5M79.5,377.6v-4.0M83.4,379.7v-3.5M85.1,380.8v-2.0M87.1,381.8v-1.5M88.5,383.1v-3.5M90.5,384.1v-2.0M92.2,385.2v-2.5M94.4,386.1v-2.0M96.1,387.3v-3.0M98.2,388.2v-3.5M78.9,376.0v-2.0M84.4,379.3v-2.0M86.1,380.4v-2.0M90.2,382.4v-4.0M91.8,383.6v-2.5M93.7,384.6v-2.5M95.7,385.6v-3.0M97.4,386.7v-3.0M99.1,387.9v-1.5M84.0,377.6v-1.5M85.8,378.7v-3.5M87.6,379.8v-3.5M89.3,380.9v-4.0M91.1,382.0v-4.0M92.9,383.1v-4.0M95.2,384.0v-2.5M96.9,385.1v-1.5M100.6,387.2v-3.0M77.6,373.0v-2.0M79.5,374.0v-3.5M81.5,375.0v-4.0M83.5,376.0v-1.5M85.3,377.1v-2.0M87.0,378.2v-4.0M90.8,380.3v-3.0M92.6,381.4v-2.0M94.2,382.6v-2.5M96.4,383.5v-2.0M100.1,385.6v-2.0M102.0,386.6v-1.5M86.4,376.7v-2.0M88.1,377.8v-2.0M89.9,378.9v-4.0M91.9,379.9v-2.0M94.0,380.8v-3.0M95.5,382.0v-3.0M97.7,382.9v-2.0M99.3,384.1v-4.0M103.0,386.2v-3.0M80.4,371.9v-2.0M85.7,375.1v-3.0M87.7,376.1v-4.0M89.7,377.1v-2.5M91.5,378.2v-4.0M93.2,379.3v-3.0M95.0,380.4v-2.5M97.1,381.4v-2.0M98.9,382.5v-3.0M104.4,385.7v-3.0M87.0,374.7v-4.0M89.1,375.6v-4.0M94.3,378.9v-2.5M96.6,379.8v-2.5M98.1,381.0v-2.5M101.8,383.1v-2.0M105.8,385.1v-3.5M86.5,373.0v-2.5M88.5,374.0v-4.0M90.1,375.2v-4.0M92.1,376.2v-4.0M93.9,377.3v-1.5M95.6,378.4v-2.0M97.8,379.3v-2.0M99.4,380.4v-3.0M101.5,381.4v-2.0M103.4,382.4v-3.0M105.1,383.6v-1.5M107.0,384.6v-3.5M85.9,371.5v-2.0M89.8,373.5v-4.0M91.4,374.7v-2.5M93.2,375.7v-1.5M95.4,376.6v-1.5M97.2,377.7v-3.0M100.8,379.9v-3.5M102.8,380.9v-2.0M106.4,383.0v-2.0M108.2,384.1v-2.5M85.1,370.0v-2.0M91.1,373.0v-2.5M92.9,374.1v-2.0M94.4,375.3v-3.5M96.4,376.3v-2.0M100.4,378.2v-4.0M102.1,379.3v-1.5M105.9,381.4v-2.0M107.8,382.4v-2.0M109.7,383.5v-3.0M90.5,371.5v-1.5M92.2,372.6v-4.0M95.9,374.7v-2.5M97.8,375.7v-3.0M103.3,378.9v-4.0M105.4,379.8v-4.0M110.7,383.0v-3.0M91.6,371.1v-2.0M93.5,372.1v-3.5M95.2,373.2v-3.0M97.1,374.2v-1.5M98.9,375.3v-3.5M101.1,376.2v-2.0M102.8,377.2v-3.0M104.8,378.2v-3.5M106.3,379.4v-2.0M108.3,380.4v-3.5M112.0,382.5v-2.0M89.3,368.4v-2.0M90.9,369.6v-3.0M92.8,370.6v-3.0M94.9,371.5v-2.0M96.7,372.6v-2.0M98.4,373.7v-2.0M102.0,375.8v-1.5M104.0,376.8v-1.5M106.1,377.7v-3.0M107.6,378.9v-2.5M109.6,379.9v-2.0M111.5,380.9v-2.5M113.5,381.9v-3.5M93.9,370.1v-1.5M96.0,371.1v-4.0M98.0,372.0v-3.5M99.8,373.1v-1.5M101.7,374.1v-4.0M103.6,375.2v-3.0M105.3,376.2v-2.0M107.3,377.2v-4.0M109.0,378.3v-2.0M114.5,381.5v-3.0" stroke="#9c0c14" stroke-width="1.0" fill="none"/>
<path d="M41.5,394.6v-1.6M44.8,397.1v-2.4M50.7,400.4v-2.0M48.3,397.6v-1.6M50.2,398.7v-3.2M51.9,399.9v-2.8M55.3,402.4v-2.0M57.2,403.5v-1.6M59.1,404.6v-2.8M52.9,399.5v-3.2M54.7,400.7v-2.0M58.8,402.8v-1.6M60.3,404.1v-2.4M45.1,393.2v-1.6M44.6,391.5v-2.0M46.3,392.7v-2.8M48.3,393.8v-2.4M50.1,395.0v-2.4M51.9,396.1v-2.8M53.8,397.3v-1.6M57.5,399.5v-2.4M59.4,400.7v-3.2M61.0,401.9v-2.4M63.2,402.9v-2.8M46.0,390.9v-1.6M47.6,392.2v-1.6M51.5,394.4v-2.0M55.0,396.7v-2.8M57.1,397.8v-1.6M58.6,399.1v-1.6M60.7,400.1v-1.6M62.3,401.4v-2.4M64.3,402.5v-2.4M47.4,390.4v-2.0M49.1,391.6v-1.2M50.9,392.7v-1.2M52.5,394.0v-3.2M56.4,396.2v-2.0M58.3,397.3v-2.4M59.9,398.5v-1.6M62.1,399.6v-2.4M48.5,389.9v-2.4M52.3,392.2v-2.0M54.1,393.3v-2.0M55.8,394.6v-2.8M57.5,395.7v-1.6M59.6,396.8v-3.2M61.5,397.9v-3.2M63.2,399.1v-2.8M64.8,400.3v-2.8M66.7,401.5v-2.8M47.9,388.3v-3.2M50.0,389.3v-1.6M51.5,390.6v-2.4M53.6,391.6v-3.2M55.4,392.8v-2.4M57.3,393.9v-2.8M58.9,395.2v-1.2M60.7,396.3v-2.8M62.4,397.5v-1.6M64.4,398.6v-2.8M66.3,399.7v-1.6M45.5,385.5v-2.4M50.9,389.0v-1.2M52.8,390.1v-1.6M56.4,392.4v-2.4M58.2,393.5v-2.8M60.2,394.6v-2.4M62.1,395.7v-2.4M64.1,396.8v-2.0M65.9,398.0v-2.4M67.6,399.2v-1.2M69.4,400.3v-3.2M46.6,385.1v-1.6M48.6,386.2v-3.2M52.2,388.5v-2.8M54.0,389.6v-2.0M56.2,390.6v-2.0M58.0,391.8v-3.2M61.5,394.1v-1.6M63.5,395.2v-2.0M65.2,396.4v-3.2M67.2,397.5v-2.4M68.7,398.7v-2.4M70.7,399.8v-1.6M49.7,385.7v-2.0M53.4,388.0v-3.2M55.6,389.0v-2.8M57.1,390.3v-2.4M59.1,391.3v-2.0M61.0,392.4v-1.6M62.7,393.6v-1.2M64.7,394.7v-1.6M66.4,395.9v-3.2M68.5,396.9v-1.2M71.8,399.3v-1.6M56.5,388.6v-2.4M58.4,389.7v-1.2M60.5,390.8v-1.6M62.4,391.8v-2.8M64.3,393.0v-2.4M66.0,394.2v-2.4M69.6,396.4v-2.4M71.6,397.5v-2.4M73.5,398.6v-2.8M56.3,386.9v-2.0M60.0,389.1v-2.4M61.5,390.3v-2.8M63.5,391.4v-3.2M65.4,392.5v-2.4M67.3,393.6v-2.0M68.9,394.9v-3.2M71.0,395.9v-2.4M72.8,397.0v-1.6M74.8,398.1v-2.8M51.7,383.1v-2.4M57.3,386.4v-3.2M59.0,387.6v-1.6M61.1,388.7v-2.8M62.9,389.8v-1.6M66.6,392.1v-2.4M68.4,393.2v-1.6M72.3,395.3v-1.6M73.9,396.6v-1.6M76.0,397.6v-2.4M53.2,382.5v-2.0M57.0,384.7v-3.2M58.8,385.9v-2.4M62.2,388.2v-1.6M64.1,389.3v-2.8M66.2,390.3v-1.2M69.8,392.6v-3.2M71.8,393.7v-2.4M73.2,395.0v-2.4M75.2,396.0v-3.2M77.1,397.1v-2.0M56.4,383.1v-3.2M60.1,385.3v-1.6M61.7,386.6v-1.2M63.6,387.7v-2.4M65.7,388.7v-3.2M67.2,389.9v-1.6M70.8,392.2v-1.6M72.7,393.3v-1.6M74.8,394.3v-1.2M76.4,395.5v-1.6M78.4,396.6v-1.2M61.4,384.8v-2.8M63.1,386.0v-2.8M65.0,387.1v-1.6M66.8,388.2v-2.4M68.7,389.3v-1.6M70.4,390.5v-3.2M72.2,391.6v-2.4M74.0,392.7v-1.6M76.1,393.8v-1.6M77.7,395.0v-2.4M79.6,396.1v-3.2M58.9,382.1v-2.8M62.7,384.3v-2.0M64.3,385.5v-2.0M66.3,386.6v-2.4M68.2,387.7v-1.2M69.8,388.9v-1.2M71.6,390.0v-2.4M73.7,391.0v-3.2M75.3,392.2v-2.8M77.4,393.3v-1.6M79.1,394.4v-2.4M81.1,395.4v-1.6M58.4,380.5v-1.6M62.2,382.7v-2.4M63.9,383.8v-1.6M65.4,385.1v-2.4M69.5,387.1v-2.0M71.3,388.3v-2.0M76.8,391.6v-2.0M80.4,393.9v-2.4M82.2,395.0v-1.2M59.3,380.1v-1.6M61.2,381.2v-3.2M63.3,382.2v-1.6M65.1,383.4v-3.2M68.9,385.5v-1.6M70.4,386.8v-2.8M76.2,390.0v-2.4M79.8,392.3v-2.4M81.7,393.3v-2.0M83.7,394.4v-2.4M62.9,380.6v-1.2M64.4,381.8v-2.0M66.1,383.0v-1.2M68.2,384.0v-2.0M73.6,387.4v-2.0M75.8,388.3v-2.4M77.3,389.5v-2.8M79.4,390.5v-2.4M81.2,391.7v-2.0M82.8,392.9v-2.8M84.6,394.0v-1.6M67.8,382.3v-1.6M69.5,383.4v-1.2M75.1,386.7v-3.2M84.0,392.4v-1.2M67.2,380.7v-3.2M68.8,381.9v-2.8M70.7,383.0v-2.4M72.5,384.1v-2.0M74.6,385.1v-1.6M76.2,386.3v-2.4M78.2,387.3v-2.8M79.8,388.5v-1.2M83.8,390.6v-3.2M85.4,391.8v-2.0M87.3,392.9v-2.0M66.5,379.1v-3.2M70.2,381.3v-2.4M71.9,382.5v-1.6M74.0,383.5v-2.4M77.6,385.7v-2.4M79.3,386.9v-1.6M82.9,389.1v-1.6M84.9,390.1v-2.0M86.9,391.2v-2.8M88.7,392.3v-2.8M66.0,377.5v-2.8M71.3,380.9v-2.8M73.3,381.9v-2.0M75.1,383.1v-2.4M78.8,385.2v-2.4M80.9,386.2v-2.0M84.4,388.5v-2.0M86.3,389.6v-2.4M88.2,390.6v-1.6M89.7,391.9v-3.2M71.1,379.2v-2.8M74.3,381.5v-1.6M76.6,382.4v-2.8M78.2,383.6v-2.8M81.8,385.9v-2.0M84.0,386.8v-1.6M85.6,388.0v-1.6M91.2,391.3v-3.2M68.6,376.5v-2.8M70.4,377.6v-2.4M72.1,378.8v-1.6M73.8,379.9v-2.8M75.8,380.9v-3.2M77.9,381.9v-1.2M79.6,383.1v-1.2M81.5,384.1v-2.4M83.1,385.3v-2.8M85.3,386.3v-2.8M86.9,387.5v-2.0M88.9,388.5v-2.4M90.5,389.7v-3.2M92.5,390.7v-2.4M69.5,376.2v-3.2M75.5,379.3v-2.4M77.1,380.4v-1.6M78.8,381.6v-1.6M80.9,382.6v-2.8M82.8,383.6v-1.6M84.6,384.7v-3.2M86.5,385.8v-2.0M88.1,387.0v-1.6M89.9,388.1v-2.4M92.0,389.1v-2.0M94.0,390.1v-2.4M78.2,380.0v-2.0M82.0,382.1v-1.2M83.9,383.2v-2.4M85.8,384.2v-1.6M87.6,385.3v-2.8M89.6,386.4v-1.6M91.2,387.5v-1.2M93.1,388.6v-1.6M94.9,389.7v-1.6M77.9,378.3v-2.0M79.9,379.3v-2.4M81.6,380.5v-1.6M83.3,381.6v-3.2M85.4,382.6v-1.6M87.1,383.7v-2.4M89.0,384.8v-2.0M90.9,385.8v-2.8M94.5,388.0v-3.2M75.2,375.7v-1.2M77.4,376.7v-2.0M79.1,377.8v-2.0M80.9,378.9v-3.2M82.9,379.9v-1.6M84.5,381.1v-2.4M86.4,382.1v-2.0M90.4,384.2v-2.4M94.0,386.4v-2.0M95.8,387.5v-2.8M97.7,388.6v-2.4M74.6,374.2v-1.2M80.4,377.3v-3.2M84.3,379.4v-2.8M86.0,380.5v-1.6M88.0,381.5v-1.2M89.4,382.8v-2.8M91.4,383.8v-1.6M93.1,384.9v-2.0M95.3,385.8v-1.6M97.0,387.0v-2.4M99.1,387.9v-2.8M79.8,375.7v-1.6M85.3,379.0v-1.6M87.0,380.1v-1.6M91.1,382.1v-3.2M92.7,383.3v-2.0M94.6,384.3v-2.0M96.6,385.3v-2.4M98.3,386.4v-2.4M100.0,387.6v-1.2M84.9,377.3v-1.2M86.7,378.4v-2.8M88.5,379.5v-2.8M90.2,380.6v-3.2M92.0,381.7v-3.2M93.8,382.8v-3.2M96.1,383.7v-2.0M97.8,384.8v-1.2M101.5,386.9v-2.4M78.5,372.7v-1.6M80.4,373.7v-2.8M82.4,374.7v-3.2M84.4,375.7v-1.2M86.2,376.8v-1.6M87.9,377.9v-3.2M91.7,380.0v-2.4M93.5,381.1v-1.6M95.1,382.3v-2.0M97.3,383.2v-1.6M101.0,385.3v-1.6M102.9,386.3v-1.2M87.3,376.4v-1.6M89.0,377.5v-1.6M90.8,378.6v-3.2M92.8,379.6v-1.6M94.9,380.5v-2.4M96.4,381.7v-2.4M98.6,382.6v-1.6M100.2,383.8v-3.2M103.9,385.9v-2.4M81.3,371.6v-1.6M86.6,374.8v-2.4M88.6,375.8v-3.2M90.6,376.8v-2.0M92.4,377.9v-3.2M94.1,379.0v-2.4M95.9,380.1v-2.0M98.0,381.1v-1.6M99.8,382.2v-2.4M105.3,385.4v-2.4M87.9,374.4v-3.2M90.0,375.3v-3.2M95.2,378.6v-2.0M97.5,379.5v-2.0M99.0,380.7v-2.0M102.7,382.8v-1.6M106.7,384.8v-2.8M87.4,372.7v-2.0M89.4,373.7v-3.2M91.0,374.9v-3.2M93.0,375.9v-3.2M94.8,377.0v-1.2M96.5,378.1v-1.6M98.7,379.0v-1.6M100.3,380.1v-2.4M102.4,381.1v-1.6M104.3,382.1v-2.4M106.0,383.3v-1.2M107.9,384.3v-2.8M86.8,371.2v-1.6M90.7,373.2v-3.2M92.3,374.4v-2.0M94.1,375.4v-1.2M96.3,376.3v-1.2M98.1,377.4v-2.4M101.7,379.6v-2.8M103.7,380.6v-1.6M107.3,382.7v-1.6M109.1,383.8v-2.0M86.0,369.7v-1.6M92.0,372.7v-2.0M93.8,373.8v-1.6M95.3,375.0v-2.8M97.3,376.0v-1.6M101.3,377.9v-3.2M103.0,379.0v-1.2M106.8,381.1v-1.6M108.7,382.1v-1.6M110.6,383.2v-2.4M91.4,371.2v-1.2M93.1,372.3v-3.2M96.8,374.4v-2.0M98.7,375.4v-2.4M104.2,378.6v-3.2M106.3,379.5v-3.2M111.6,382.7v-2.4M92.5,370.8v-1.6M94.4,371.8v-2.8M96.1,372.9v-2.4M98.0,373.9v-1.2M99.8,375.0v-2.8M102.0,375.9v-1.6M103.7,376.9v-2.4M105.7,377.9v-2.8M107.2,379.1v-1.6M109.2,380.1v-2.8M112.9,382.2v-1.6M90.2,368.1v-1.6M91.8,369.3v-2.4M93.7,370.3v-2.4M95.8,371.2v-1.6M97.6,372.3v-1.6M99.3,373.4v-1.6M102.9,375.5v-1.2M104.9,376.5v-1.2M107.0,377.4v-2.4M108.5,378.6v-2.0M110.5,379.6v-1.6M112.4,380.6v-2.0M114.4,381.6v-2.8M94.8,369.8v-1.2M96.9,370.8v-3.2M98.9,371.7v-2.8M100.7,372.8v-1.2M102.6,373.8v-3.2M104.5,374.9v-2.4M106.2,375.9v-1.6M108.2,376.9v-3.2M109.9,378.0v-1.6M115.4,381.2v-2.4" stroke="#f2c8c8" stroke-width="0.5" fill="none"/>
<path d="M90.4,367.2v-3.4M105.8,361.8v-4.4M108.3,362.9v-1.8M93.3,368.8v-4.9M91.5,367.1v-4.0M89.8,367.5v-2.1M99.5,364.6v-4.4M93.4,368.5v-4.3M96.5,366.4v-3.9M93.0,368.8v-3.0M99.9,365.9v-1.6M92.7,366.2v-4.1M94.0,367.7v-4.0M106.4,361.3v-2.9M103.5,363.2v-2.1M102.6,364.6v-3.1M95.1,365.5v-2.9M104.2,362.7v-4.8M95.8,366.3v-4.2M107.1,363.0v-3.0M96.4,365.1v-3.4M103.2,362.6v-2.6M90.4,368.4v-3.2M107.9,362.2v-4.7M92.8,367.4v-4.0M90.9,368.5v-3.7M88.9,368.2v-4.2M92.8,368.0v-3.0M97.7,366.8v-2.9M106.4,363.2v-3.4M90.7,367.9v-4.8M94.5,367.2v-2.2M103.3,364.0v-4.6M98.9,364.0v-4.3M101.3,365.6v-3.3M95.1,366.5v-3.5M102.5,364.2v-4.5M98.1,364.6v-4.5M101.2,363.3v-3.1M105.1,363.0v-1.9M140.7,349.2v-2.8M133.7,352.3v-4.3M143.7,347.6v-2.0M132.1,352.8v-5.7M136.5,351.4v-5.2M122.0,354.9v-2.7M106.0,363.2v-5.2M142.6,348.6v-3.8M125.8,353.3v-2.6M118.8,356.1v-3.3M124.2,354.3v-2.7M106.3,361.9v-5.3M122.6,356.2v-4.9M138.2,350.3v-4.0M103.8,362.2v-3.1M117.5,357.9v-4.0M114.3,358.1v-5.0M146.2,347.0v-2.6M133.5,352.2v-4.2M131.1,353.3v-3.9M132.3,351.1v-5.3M126.5,353.4v-4.5M138.2,349.5v-3.2M134.8,352.2v-5.8M116.1,358.2v-3.5M109.0,361.1v-3.2M124.2,355.9v-4.2M144.6,346.4v-2.7M106.1,362.7v-3.1M112.5,360.0v-6.0M136.5,351.4v-5.7M124.7,354.2v-5.1M111.0,359.2v-3.5M135.0,351.2v-3.6M107.3,360.9v-4.4M124.2,355.2v-5.0M128.5,354.3v-5.7M124.7,354.5v-4.0M112.6,358.8v-4.9M120.5,355.4v-3.6M115.4,357.4v-2.1M130.0,353.6v-5.4M127.7,353.0v-4.6M113.6,358.5v-3.3M107.5,360.6v-5.9M107.6,362.7v-4.8M133.7,350.5v-4.7M111.4,360.1v-3.8M140.5,347.8v-2.0M128.0,353.7v-4.6M106.1,361.8v-4.9M127.8,353.3v-2.0M105.7,363.3v-3.1M105.2,362.0v-2.8M124.9,353.7v-4.2M130.7,352.6v-4.4M112.9,359.2v-5.0M115.9,359.1v-2.8M124.4,356.0v-4.7M114.3,358.6v-3.1M134.8,350.6v-5.3M133.6,352.2v-4.1M115.4,359.0v-3.7M104.8,362.5v-2.7M105.3,361.9v-5.8M131.4,352.1v-4.3M119.6,357.0v-3.0M140.4,349.5v-3.8M126.4,353.9v-5.1M139.9,350.0v-2.4M141.1,347.8v-2.4M121.0,356.7v-2.5M131.8,353.3v-5.1M137.5,349.1v-3.3M113.0,359.1v-5.5M145.1,346.4v-4.2M130.3,353.9v-3.8M106.7,360.9v-2.6M122.2,354.9v-4.8M109.8,359.5v-4.9M123.4,356.0v-4.3M118.0,356.4v-5.4M131.4,351.7v-2.3M131.1,353.5v-5.0M143.9,348.6v-2.5M110.6,360.3v-2.4M124.5,355.8v-3.0M137.3,349.4v-5.3M105.0,361.6v-2.2M126.4,353.1v-4.8M121.9,357.0v-3.5M139.4,349.8v-3.5M136.6,350.5v-4.4M120.2,355.8v-4.1M124.9,354.6v-5.9M111.2,361.2v-4.2M107.2,361.9v-2.8M124.1,355.1v-5.1M140.8,347.6v-5.5M142.2,347.2v-2.3M121.5,355.0v-2.5M124.0,354.5v-4.4M112.2,360.2v-4.5M106.5,362.4v-5.7M144.4,346.2v-4.8M116.3,358.0v-3.8M105.2,362.8v-2.5M138.6,348.5v-4.5M125.3,353.5v-2.5M123.8,355.0v-2.6M106.4,361.4v-5.3M109.3,361.5v-2.5M138.7,350.1v-5.5M120.9,357.6v-3.7M130.8,353.3v-2.6M105.2,363.0v-2.9M112.2,359.8v-2.7M113.6,358.5v-2.4M138.9,350.2v-4.9M122.8,356.6v-4.2M125.3,353.5v-3.4M112.5,360.0v-5.9M129.3,352.7v-5.3M107.0,362.5v-2.2M145.1,347.6v-5.9M124.0,355.6v-3.6M135.2,350.9v-3.8M138.6,350.5v-3.1M115.2,359.8v-3.3M118.7,357.3v-3.2M121.8,355.5v-3.8M137.9,350.4v-5.7M142.4,347.5v-5.1M133.0,352.0v-4.0M142.6,348.1v-5.8M106.9,361.5v-2.5M133.7,351.3v-3.3M117.2,357.8v-3.2M124.3,355.3v-2.1M112.3,359.8v-4.6M128.9,353.8v-3.7M142.8,348.5v-4.0M128.2,354.3v-3.1M114.9,358.7v-4.0M105.0,362.6v-5.7M140.2,349.0v-4.8M117.6,356.6v-5.3M126.3,354.5v-4.5M144.2,346.8v-4.3M134.9,351.4v-5.6M105.3,363.2v-2.2M116.0,357.9v-5.2M141.2,348.6v-4.2M130.1,351.6v-3.5M121.0,355.2v-3.2M113.8,358.2v-2.8M119.2,357.4v-5.4M117.3,358.5v-4.9M106.3,361.3v-5.5M109.1,361.3v-4.3M138.3,350.3v-5.3M109.2,361.5v-5.6M132.7,352.9v-2.3M124.1,356.3v-3.2M117.1,357.4v-3.5M121.4,356.2v-3.0M125.5,355.6v-3.4M114.6,359.8v-4.8M138.0,350.7v-5.9M114.5,357.6v-5.0M132.5,351.6v-12.3M138.5,349.7v-10.3M122.6,355.0v-8.1M135.4,350.7v-9.7M133.7,352.4v-6.8M111.6,360.7v-7.5M129.2,353.1v-10.7M131.7,351.9v-10.2M144.3,348.1v-9.2M134.9,350.4v-12.5M107.6,361.7v-11.4M142.6,348.0v-9.6M131.4,352.9v-8.6M131.2,351.8v-6.6M109.4,360.1v-8.8M113.1,360.1v-10.8M121.2,355.5v-8.9M141.9,349.0v-10.8M123.0,356.4v-9.6M121.5,357.1v-10.7M108.3,360.2v-9.3M137.0,349.9v-9.7M112.8,359.8v-8.9M120.4,355.9v-10.1M139.4,349.3v-10.2M129.3,353.6v-10.9M108.9,362.2v-9.4M109.8,361.3v-11.3M121.7,356.3v-6.3M136.2,350.8v-11.6M126.7,355.1v-8.9M106.3,361.0v-8.3M115.2,357.9v-6.6M133.4,352.4v-12.5M120.9,356.4v-9.7M131.1,353.0v-9.0M107.5,361.1v-6.1M134.9,352.1v-10.0M134.1,351.4v-12.8M113.9,359.3v-8.3M124.2,354.4v-11.5M119.5,356.4v-12.0M107.1,361.0v-12.5M132.2,351.3v-6.9M134.2,352.0v-13.0" stroke="#a80f16" stroke-width="0.65" fill="none"/>
<line x1="50" y1="392" x2="50" y2="361" stroke="#b01218" stroke-width="0.9"/>
<line x1="143.6" y1="347.1" x2="143.6" y2="325.1" stroke="#b01218" stroke-width="0.9"/>
<line x1="111.8" y1="359.9" x2="111.8" y2="342.9" stroke="#b01218" stroke-width="0.9"/>
<line x1="116.1" y1="358.0" x2="116.1" y2="344.0" stroke="#b01218" stroke-width="0.9"/>
<line x1="123.2" y1="355.5" x2="123.2" y2="343.5" stroke="#b01218" stroke-width="0.9"/>
<line x1="127.7" y1="353.7" x2="127.7" y2="338.7" stroke="#b01218" stroke-width="0.9"/>
<line x1="132.0" y1="351.8" x2="132.0" y2="338.8" stroke="#b01218" stroke-width="0.9"/>
<line x1="134.0" y1="350.8" x2="134.0" y2="334.8" stroke="#b01218" stroke-width="0.9"/>
<line x1="139.4" y1="348.5" x2="139.4" y2="330.5" stroke="#b01218" stroke-width="0.9"/>
<line x1="142.5" y1="348.0" x2="142.5" y2="334.0" stroke="#b01218" stroke-width="0.9"/>
<line x1="31" y1="350" x2="57.5" y2="367" stroke="#d4d4d4" stroke-width="0.6"/>
<line x1="57.5" y1="367" x2="172" y2="319" stroke="#d4d4d4" stroke-width="0.6"/>
<line x1="172" y1="319" x2="144.5" y2="306" stroke="#d4d4d4" stroke-width="0.6"/>
<line x1="144.5" y1="306" x2="31" y2="350" stroke="#d4d4d4" stroke-width="0.6"/>
<line x1="31" y1="390" x2="31" y2="350" stroke="#d4d4d4" stroke-width="0.6"/>
<line x1="172" y1="359" x2="172" y2="319" stroke="#d4d4d4" stroke-width="0.6"/>
<line x1="144.5" y1="346" x2="144.5" y2="306" stroke="#d4d4d4" stroke-width="0.6"/>
<line x1="57.5" y1="407" x2="57.5" y2="367" stroke="#d4d4d4" stroke-width="0.6"/>
<text x="24" y="364.9" font-size="8.2" text-anchor="end" fill="#231f20" stroke="#231f20" stroke-width="0.1" textLength="12.6" lengthAdjust="spacingAndGlyphs">150</text>
<text x="24" y="374.59999999999997" font-size="8.2" text-anchor="end" fill="#231f20" stroke="#231f20" stroke-width="0.1" textLength="12.6" lengthAdjust="spacingAndGlyphs">100</text>
<text x="24" y="384.2" font-size="8.2" text-anchor="end" fill="#231f20" stroke="#231f20" stroke-width="0.1" textLength="8.4" lengthAdjust="spacingAndGlyphs">50</text>
<text x="13" y="399" font-size="7.8" fill="#231f20" stroke="#231f20" stroke-width="0.1" textLength="19" lengthAdjust="spacingAndGlyphs" transform="rotate(38 13 399)">TRBJ</text>
<text x="31.5" y="412" font-size="7.8" fill="#231f20" stroke="#231f20" stroke-width="0.1" textLength="19" lengthAdjust="spacingAndGlyphs" transform="rotate(38 31.5 412)">TRAJ</text>
<text x="78.5" y="413" font-size="8.2" fill="#231f20" stroke="#231f20" stroke-width="0.1" textLength="22.5" lengthAdjust="spacingAndGlyphs" transform="rotate(-22 78.5 413)">TRAV</text>
<text x="141.5" y="384.5" font-size="8.2" fill="#231f20" stroke="#231f20" stroke-width="0.1" textLength="21.5" lengthAdjust="spacingAndGlyphs" transform="rotate(-22 141.5 384.5)">TRBV</text>
<path d="M211.5,389.2 L325.8,347 L325.8,307 L211.5,349.2 Z" stroke="#d0d0d0" fill="#fdfdfd" stroke-width="0.6"/>
<path d="M210.0,390.7 L238.0,410.7 L356.1,363.1" stroke="#dedede" fill="none" stroke-width="2.2"/>
<path d="M211.5,389.2 L238.5,408.5 L355.3,361.6 L325.8,347 Z" stroke="#c8c8c8" fill="#e3d3d3" stroke-width="0.6"/>
<path d="M213.8,390.8L276.7,367.4M216.0,392.4L279.1,368.8M218.2,394.0L281.5,370.2M220.5,395.6L283.8,371.6M222.8,397.2L286.2,373.0M225.0,398.9L288.6,374.3M227.2,400.5L290.9,375.7M229.5,402.1L293.3,377.1M231.8,403.7L295.6,378.5M234.0,405.3L298.0,379.9M236.2,406.9L300.4,381.3M213.6,388.4L240.6,407.6M215.7,387.7L242.8,406.8M217.8,386.9L244.9,405.9M219.9,386.1L247.1,405.1M222.0,385.3L249.2,404.2M224.1,384.6L251.3,403.3M226.2,383.8L253.5,402.5M228.3,383.0L255.6,401.6M230.4,382.2L257.8,400.8M232.5,381.5L259.9,399.9M234.6,380.7L262.1,399.0M236.6,379.9L264.2,398.2M238.7,379.1L266.3,397.3M240.8,378.4L268.5,396.5M242.9,377.6L270.6,395.6M245.0,376.8L272.8,394.7M247.1,376.0L274.9,393.9M249.2,375.3L277.0,393.0M251.3,374.5L279.2,392.2M253.4,373.7L281.3,391.3M255.5,373.0L283.5,390.4M257.6,372.2L285.6,389.6M259.7,371.4L287.8,388.7M261.8,370.6L289.9,387.9M263.9,369.9L292.0,387.0M266.0,369.1L294.2,386.1M268.1,368.3L296.3,385.3M270.2,367.5L298.5,384.4M272.3,366.8L300.6,383.6M277.9,368.1L329.5,348.8M281.5,370.2L333.2,350.6M285.0,372.3L336.9,352.5M288.6,374.3L340.6,354.3M292.1,376.4L344.2,356.1M295.6,378.5L347.9,358.0M299.2,380.6L351.6,359.8" stroke="#c4a4a6" stroke-width="0.4" fill="none"/>
<path d="M286.4,382.1v-1.0M280.3,377.5v-1.0M243.9,379.3v-1.0M279.8,380.6v-1.5M279.4,375.1v-2.0M287.3,386.5v-1.0M236.7,402.4v-2.0M257.5,383.8v-2.0M268.5,381.8v-2.0M248.3,390.7v-2.0M264.1,375.1v-2.0M259.5,390.3v-2.0M243.5,395.7v-1.5M239.8,392.4v-1.0M286.1,380.7v-1.5M253.1,382.2v-1.0M260.4,386.6v-2.0M232.9,384.3v-2.0M239.2,396.4v-1.0M247.3,403.9v-1.0M239.9,395.0v-1.0M274.0,390.5v-1.0M262.3,373.9v-1.5M256.0,395.0v-1.0M235.4,403.3v-1.0M285.8,387.0v-1.5M236.3,399.3v-1.0M234.2,403.3v-2.0M234.1,385.6v-2.0M246.4,384.4v-2.0M258.2,373.8v-2.0M277.6,380.1v-1.0M230.1,391.2v-2.0M282.7,378.4v-1.5M230.2,388.6v-2.0M282.3,390.1v-1.5M216.7,391.1v-1.0M257.3,399.4v-1.0M253.2,379.7v-1.0M255.7,392.2v-2.0M257.5,398.6v-2.0M277.2,381.1v-2.0M278.2,381.2v-1.0M256.8,382.5v-1.0M219.1,388.3v-1.5M268.2,389.8v-1.5M254.8,394.2v-1.5M248.4,392.4v-1.0M249.2,377.6v-1.0M232.6,400.4v-1.5M252.8,396.2v-1.5M246.5,384.1v-1.5M227.7,385.3v-1.0M255.5,395.1v-2.0M268.6,371.4v-1.5M253.4,388.2v-1.0M256.2,387.2v-1.0M246.0,384.6v-1.0M266.2,376.1v-1.0M221.1,392.3v-2.0M271.6,373.3v-1.0M238.8,387.0v-2.0M258.0,378.7v-1.0M238.3,380.9v-1.0M265.9,389.1v-2.0M271.9,376.5v-2.0M232.7,387.0v-2.0M250.1,394.1v-2.0M245.6,386.8v-1.5M259.7,375.6v-2.0" stroke="#a02030" stroke-width="0.6" opacity="0.8" fill="none"/>
<path d="M299.1,359.5v-5.0M318.2,350.7v-3.0M322.4,351.0v-1.0M281.6,364.4v-2.0M311.7,354.2v-2.0M319.5,350.6v-3.0M291.3,361.9v-4.0M320.2,351.6v-3.0M297.3,359.9v-5.0M285.8,364.1v-4.0M287.1,363.8v-5.0M322.2,350.8v-5.0M325.7,349.4v-5.0M305.9,354.6v-4.0M299.2,357.3v-1.0M287.8,363.7v-4.0M283.5,365.1v-5.0M321.8,349.0v-1.0M288.1,361.0v-3.0M308.4,354.8v-2.0M303.3,357.9v-1.0M294.1,360.0v-5.0M312.4,353.4v-2.0M294.4,360.2v-2.0M300.3,357.8v-2.0M317.3,352.8v-5.0M300.3,358.2v-3.0M324.6,350.1v-2.0M286.9,361.8v-4.0M291.7,360.5v-2.0M288.8,360.8v-1.0M296.3,359.9v-3.0M306.5,354.2v-4.0M301.3,358.2v-5.0M312.2,353.7v-1.0M283.8,362.8v-4.0M294.5,358.6v-1.0M315.8,351.2v-3.0M292.1,362.0v-1.0M312.0,352.1v-3.0M291.2,361.2v-4.0M321.6,350.1v-3.0M310.7,355.4v-1.0M309.3,353.2v-3.0M323.1,350.8v-1.0M283.7,364.7v-5.0M314.4,351.3v-5.0M293.6,360.1v-2.0M316.9,350.3v-1.0M286.0,361.9v-1.0M315.3,352.3v-1.0M305.6,357.4v-2.0M307.5,355.4v-3.0M294.2,359.1v-2.0M294.3,360.9v-1.0M289.0,362.5v-1.0M324.6,349.8v-3.0M293.3,359.7v-3.0M283.2,363.0v-1.0M287.6,363.9v-4.0M308.9,355.9v-3.0M308.2,354.9v-3.0M302.1,358.0v-2.0M320.0,350.0v-4.0M321.1,349.4v-2.0M310.7,354.0v-2.0M292.4,362.5v-4.0M307.4,353.9v-5.0M311.8,352.6v-4.0M283.9,364.6v-3.0M321.3,351.0v-5.0M314.4,352.4v-2.0M318.9,352.0v-4.0M312.1,354.5v-5.0M306.0,356.0v-1.0M306.3,354.8v-2.0M289.5,360.4v-2.0M306.1,354.4v-5.0M303.8,356.0v-4.0M299.7,359.0v-5.0M314.6,352.5v-5.0M285.9,362.9v-2.0M296.0,358.4v-4.0M294.8,359.2v-2.0M298.1,359.3v-5.0M306.8,355.2v-2.0M298.7,357.4v-2.0M295.1,359.3v-4.0M317.9,352.8v-4.0M314.9,351.2v-5.0" stroke="#b01218" stroke-width="0.8" opacity="1.0" fill="none"/>
<line x1="257" y1="388.5" x2="257" y2="356" stroke="#c0303a" stroke-width="1.0"/>
<line x1="300.2" y1="352.3" x2="300.2" y2="320" stroke="#c0303a" stroke-width="1.0"/>
<line x1="211.5" y1="349.2" x2="238.5" y2="368.5" stroke="#d4d4d4" stroke-width="0.6"/>
<line x1="238.5" y1="368.5" x2="355.3" y2="321.6" stroke="#d4d4d4" stroke-width="0.6"/>
<line x1="355.3" y1="321.6" x2="325.8" y2="307" stroke="#d4d4d4" stroke-width="0.6"/>
<line x1="325.8" y1="307" x2="211.5" y2="349.2" stroke="#d4d4d4" stroke-width="0.6"/>
<line x1="211.5" y1="389.2" x2="211.5" y2="349.2" stroke="#d4d4d4" stroke-width="0.6"/>
<line x1="355.3" y1="361.6" x2="355.3" y2="321.6" stroke="#d4d4d4" stroke-width="0.6"/>
<line x1="325.8" y1="347" x2="325.8" y2="307" stroke="#d4d4d4" stroke-width="0.6"/>
<line x1="238.5" y1="408.5" x2="238.5" y2="368.5" stroke="#d4d4d4" stroke-width="0.6"/>
<text x="206" y="363.4" font-size="8.2" text-anchor="end" fill="#231f20" stroke="#231f20" stroke-width="0.1" textLength="12.6" lengthAdjust="spacingAndGlyphs">150</text>
<text x="206" y="373.9" font-size="8.2" text-anchor="end" fill="#231f20" stroke="#231f20" stroke-width="0.1" textLength="12.6" lengthAdjust="spacingAndGlyphs">100</text>
<text x="206" y="383.7" font-size="8.2" text-anchor="end" fill="#231f20" stroke="#231f20" stroke-width="0.1" textLength="8.4" lengthAdjust="spacingAndGlyphs">50</text>
<text x="194.5" y="400.5" font-size="7.8" fill="#231f20" stroke="#231f20" stroke-width="0.1" textLength="19" lengthAdjust="spacingAndGlyphs" transform="rotate(38 194.5 400.5)">TRBJ</text>
<text x="212.5" y="414.5" font-size="7.8" fill="#231f20" stroke="#231f20" stroke-width="0.1" textLength="19" lengthAdjust="spacingAndGlyphs" transform="rotate(38 212.5 414.5)">TRAJ</text>
<text x="259" y="413" font-size="8.2" fill="#231f20" stroke="#231f20" stroke-width="0.1" textLength="22.5" lengthAdjust="spacingAndGlyphs" transform="rotate(-22 259 413)">TRAV</text>
<text x="322" y="384" font-size="8.2" fill="#231f20" stroke="#231f20" stroke-width="0.1" textLength="21.5" lengthAdjust="spacingAndGlyphs" transform="rotate(-22 322 384)">TRBV</text>
<text x="388" y="302" font-size="11.8" font-weight="bold" fill="#000" stroke="#000" stroke-width="0.35" textLength="6.8" lengthAdjust="spacingAndGlyphs">F</text>
<line x1="419.8" y1="304.5" x2="419.8" y2="408.3" stroke="#231f20" stroke-width="1.3"/>
<line x1="419.3" y1="408.3" x2="518.5" y2="408.3" stroke="#231f20" stroke-width="1.3"/>
<line x1="417.3" y1="309.4" x2="419.8" y2="309.4" stroke="#231f20" stroke-width="0.9"/>
<text x="414.3" y="312.2" font-size="7.8" text-anchor="end" fill="#231f20" stroke="#231f20" stroke-width="0.1" textLength="11.4" lengthAdjust="spacingAndGlyphs">0.8</text>
<line x1="417.3" y1="333.9" x2="419.8" y2="333.9" stroke="#231f20" stroke-width="0.9"/>
<text x="414.3" y="336.7" font-size="7.8" text-anchor="end" fill="#231f20" stroke="#231f20" stroke-width="0.1" textLength="11.4" lengthAdjust="spacingAndGlyphs">0.6</text>
<line x1="417.3" y1="358.9" x2="419.8" y2="358.9" stroke="#231f20" stroke-width="0.9"/>
<text x="414.3" y="361.7" font-size="7.8" text-anchor="end" fill="#231f20" stroke="#231f20" stroke-width="0.1" textLength="11.4" lengthAdjust="spacingAndGlyphs">0.4</text>
<line x1="417.3" y1="383.7" x2="419.8" y2="383.7" stroke="#231f20" stroke-width="0.9"/>
<text x="414.3" y="386.5" font-size="7.8" text-anchor="end" fill="#231f20" stroke="#231f20" stroke-width="0.1" textLength="11.4" lengthAdjust="spacingAndGlyphs">0.2</text>
<line x1="417.3" y1="408.3" x2="419.8" y2="408.3" stroke="#231f20" stroke-width="0.9"/>
<text x="414.3" y="411.1" font-size="7.8" text-anchor="end" fill="#231f20" stroke="#231f20" stroke-width="0.1" textLength="11.4" lengthAdjust="spacingAndGlyphs">0.0</text>
<text x="396.6" y="361.4" font-size="8.4" text-anchor="middle" fill="#231f20" stroke="#231f20" stroke-width="0.1" textLength="42" lengthAdjust="spacingAndGlyphs" transform="rotate(-90 396.6 361.4)">Gini index</text>
<line x1="435.2" y1="408.3" x2="435.2" y2="410.6" stroke="#231f20" stroke-width="0.9"/>
<line x1="458.6" y1="408.3" x2="458.6" y2="410.6" stroke="#231f20" stroke-width="0.9"/>
<line x1="483.1" y1="408.3" x2="483.1" y2="410.6" stroke="#231f20" stroke-width="0.9"/>
<line x1="507.4" y1="408.3" x2="507.4" y2="410.6" stroke="#231f20" stroke-width="0.9"/>
<text x="435.2" y="422" font-size="8.0" text-anchor="middle" fill="#231f20" stroke="#231f20" stroke-width="0.1" textLength="12.6" lengthAdjust="spacingAndGlyphs">Pre</text>
<text x="458.6" y="422" font-size="8.0" text-anchor="middle" fill="#231f20" stroke="#231f20" stroke-width="0.1" textLength="17" lengthAdjust="spacingAndGlyphs">Post</text>
<text x="483.1" y="422" font-size="8.0" text-anchor="middle" fill="#231f20" stroke="#231f20" stroke-width="0.1" textLength="11" lengthAdjust="spacingAndGlyphs">HD</text>
<text x="507.4" y="422" font-size="8.0" text-anchor="middle" fill="#231f20" stroke="#231f20" stroke-width="0.1" textLength="21.5" lengthAdjust="spacingAndGlyphs">T-LGL</text>
<line x1="434.7" y1="398.5" x2="458.6" y2="364" stroke="#231f20" stroke-width="1.3"/>
<circle cx="434.7" cy="398.5" r="2.3" fill="#c8153a"/>
<circle cx="458.6" cy="364" r="2.3" fill="#c8153a"/>
<circle cx="483.1" cy="389.2" r="2.2" fill="#1f5a9c"/>
<circle cx="483.1" cy="392.6" r="2.2" fill="#1f5a9c"/>
<circle cx="483.1" cy="396" r="2.2" fill="#1f5a9c"/>
<circle cx="483.1" cy="399.4" r="2.2" fill="#1f5a9c"/>
<circle cx="483.1" cy="402.8" r="2.2" fill="#1f5a9c"/>
<circle cx="483.1" cy="406.2" r="2.2" fill="#1f5a9c"/>
<circle cx="483.1" cy="408" r="2.2" fill="#1f5a9c"/>
<circle cx="507.4" cy="317.5" r="2.2" fill="#4cb04f"/>
<circle cx="507.4" cy="327.7" r="2.2" fill="#4cb04f"/>
<circle cx="507.4" cy="337.9" r="2.2" fill="#4cb04f"/>
<circle cx="507.4" cy="344.4" r="2.2" fill="#4cb04f"/>
<circle cx="507.4" cy="360.8" r="2.2" fill="#4cb04f"/>
<circle cx="507.4" cy="363.5" r="2.2" fill="#4cb04f"/>
<circle cx="507.4" cy="368" r="2.2" fill="#4cb04f"/>
<circle cx="507.4" cy="376.7" r="2.2" fill="#4cb04f"/>
<circle cx="507.4" cy="383.7" r="2.2" fill="#4cb04f"/>
<circle cx="507.4" cy="388.8" r="2.2" fill="#4cb04f"/>
<circle cx="507.4" cy="394.5" r="2.2" fill="#4cb04f"/>
<circle cx="507.4" cy="397.2" r="2.2" fill="#4cb04f"/>
<circle cx="507.4" cy="399.5" r="2.2" fill="#4cb04f"/>
<text x="0" y="456.2" font-size="11.8" font-weight="bold" fill="#000" stroke="#000" stroke-width="0.35" textLength="8.6" lengthAdjust="spacingAndGlyphs">G</text>
<rect x="30.5" y="446.8" width="233.5" height="12.2" fill="#c8d8e7" stroke="none" stroke-width="1"/>
<text x="89.3" y="455.6" font-size="8.6" fill="#231f20" stroke="#231f20" stroke-width="0.1" textLength="110" lengthAdjust="spacingAndGlyphs">Top 10 clones (pre-treatment)</text>
<rect x="285.7" y="446.9" width="233.8" height="12.0" fill="#efc7ce" stroke="none" stroke-width="1"/>
<text x="343.4" y="455.7" font-size="8.6" fill="#231f20" stroke="#231f20" stroke-width="0.1" textLength="112.6" lengthAdjust="spacingAndGlyphs">Top 10 clones (post-treatment)</text>
<rect x="138" y="472.4" width="125.69999999999999" height="12.200000000000045" fill="#1e4f88" stroke="none" stroke-width="1"/>
<text x="140.2" y="481.3" font-size="7.3" font-weight="bold" fill="#fff" textLength="34.585164375" lengthAdjust="spacingAndGlyphs">Rank CDR3</text>
<text x="262.4" y="481.3" font-size="7.3" text-anchor="end" font-weight="bold" fill="#fff" textLength="33.574787343749996" lengthAdjust="spacingAndGlyphs">Clone size</text>
<rect x="138" y="484.6" width="125.69999999999999" height="8.310000000000002" fill="#dde6ef" stroke="none" stroke-width="1"/>
<text x="140.2" y="490.96000000000004" font-size="7.0" font-weight="bold" fill="#231f20">1</text>
<text x="152.4" y="490.96000000000004" font-size="7.0" fill="#231f20" stroke="#231f20" stroke-width="0.16" textLength="68.4" lengthAdjust="spacingAndGlyphs">CASSWGLAGASYEQYF</text>
<text x="245.6" y="490.96000000000004" font-size="7.0" text-anchor="middle" fill="#231f20" stroke="#231f20" stroke-width="0.16">21</text>
<rect x="138" y="492.86" width="125.69999999999999" height="8.310000000000002" fill="#b9cbdc" stroke="none" stroke-width="1"/>
<text x="140.2" y="499.22" font-size="7.0" font-weight="bold" fill="#231f20">2</text>
<text x="152.4" y="499.22" font-size="7.0" fill="#231f20" stroke="#231f20" stroke-width="0.16" textLength="61.3" lengthAdjust="spacingAndGlyphs">CASSIQGNPPYEQYF</text>
<text x="245.6" y="499.22" font-size="7.0" text-anchor="middle" fill="#231f20" stroke="#231f20" stroke-width="0.16">13</text>
<rect x="138" y="501.12" width="125.69999999999999" height="8.310000000000002" fill="#dde6ef" stroke="none" stroke-width="1"/>
<text x="140.2" y="507.48" font-size="7.0" font-weight="bold" fill="#231f20">3</text>
<text x="152.4" y="507.48" font-size="7.0" fill="#231f20" stroke="#231f20" stroke-width="0.16" textLength="63.6" lengthAdjust="spacingAndGlyphs">CASSPPRGSGNEQFF</text>
<text x="245.6" y="507.48" font-size="7.0" text-anchor="middle" fill="#231f20" stroke="#231f20" stroke-width="0.16">10</text>
<rect x="138" y="509.38000000000005" width="125.69999999999999" height="8.310000000000002" fill="#b9cbdc" stroke="none" stroke-width="1"/>
<text x="140.2" y="515.7400000000001" font-size="7.0" font-weight="bold" fill="#231f20">4</text>
<text x="152.4" y="515.7400000000001" font-size="7.0" fill="#231f20" stroke="#231f20" stroke-width="0.16" textLength="64.0" lengthAdjust="spacingAndGlyphs">CASSQDWGANEKLFF</text>
<text x="245.6" y="515.7400000000001" font-size="7.0" text-anchor="middle" fill="#231f20" stroke="#231f20" stroke-width="0.16">10</text>
<rect x="138" y="517.64" width="125.69999999999999" height="8.310000000000002" fill="#dde6ef" stroke="none" stroke-width="1"/>
<text x="140.2" y="524.0" font-size="7.0" font-weight="bold" fill="#231f20">5</text>
<text x="152.4" y="524.0" font-size="7.0" fill="#231f20" stroke="#231f20" stroke-width="0.16" textLength="65.0" lengthAdjust="spacingAndGlyphs">CASSYRDGNNQPQHF</text>
<text x="245.6" y="524.0" font-size="7.0" text-anchor="middle" fill="#231f20" stroke="#231f20" stroke-width="0.16">10</text>
<rect x="138" y="525.9000000000001" width="125.69999999999999" height="8.310000000000002" fill="#b9cbdc" stroke="none" stroke-width="1"/>
<text x="140.2" y="532.2600000000001" font-size="7.0" font-weight="bold" fill="#231f20">6</text>
<text x="152.4" y="532.2600000000001" font-size="7.0" fill="#231f20" stroke="#231f20" stroke-width="0.16" textLength="79.6" lengthAdjust="spacingAndGlyphs">CASSLAGTGYGWLGTEAFF</text>
<text x="245.6" y="532.2600000000001" font-size="7.0" text-anchor="middle" fill="#231f20" stroke="#231f20" stroke-width="0.16">9</text>
<rect x="138" y="534.1600000000001" width="125.69999999999999" height="8.310000000000002" fill="#dde6ef" stroke="none" stroke-width="1"/>
<text x="140.2" y="540.5200000000001" font-size="7.0" font-weight="bold" fill="#231f20">7</text>
<text x="152.4" y="540.5200000000001" font-size="7.0" fill="#231f20" stroke="#231f20" stroke-width="0.16" textLength="49.3" lengthAdjust="spacingAndGlyphs">CSARSGTQKLFF</text>
<text x="245.6" y="540.5200000000001" font-size="7.0" text-anchor="middle" fill="#231f20" stroke="#231f20" stroke-width="0.16">8</text>
<rect x="138" y="542.4200000000001" width="125.69999999999999" height="8.310000000000002" fill="#b9cbdc" stroke="none" stroke-width="1"/>
<text x="140.2" y="548.7800000000001" font-size="7.0" font-weight="bold" fill="#231f20">8</text>
<text x="152.4" y="548.7800000000001" font-size="7.0" fill="#231f20" stroke="#231f20" stroke-width="0.16" textLength="46.6" lengthAdjust="spacingAndGlyphs">CASSDGYEQYF</text>
<text x="245.6" y="548.7800000000001" font-size="7.0" text-anchor="middle" fill="#231f20" stroke="#231f20" stroke-width="0.16">7</text>
<rect x="138" y="550.6800000000001" width="125.69999999999999" height="8.310000000000002" fill="#dde6ef" stroke="none" stroke-width="1"/>
<text x="140.2" y="557.0400000000001" font-size="7.0" font-weight="bold" fill="#231f20">9</text>
<text x="152.4" y="557.0400000000001" font-size="7.0" fill="#231f20" stroke="#231f20" stroke-width="0.16" textLength="62.6" lengthAdjust="spacingAndGlyphs">CASSPTSGGTDTQYF</text>
<text x="245.6" y="557.0400000000001" font-size="7.0" text-anchor="middle" fill="#231f20" stroke="#231f20" stroke-width="0.16">7</text>
<rect x="138" y="558.94" width="125.69999999999999" height="8.310000000000002" fill="#b9cbdc" stroke="none" stroke-width="1"/>
<text x="140.2" y="565.3000000000001" font-size="7.0" font-weight="bold" fill="#231f20">10</text>
<text x="152.4" y="565.3000000000001" font-size="7.0" fill="#231f20" stroke="#231f20" stroke-width="0.16" textLength="54.8" lengthAdjust="spacingAndGlyphs">CASSQSAGYEQFF</text>
<text x="245.6" y="565.3000000000001" font-size="7.0" text-anchor="middle" fill="#231f20" stroke="#231f20" stroke-width="0.16">7</text>
<rect x="393.6" y="471.8" width="126.0" height="12.399999999999977" fill="#1e4f88" stroke="none" stroke-width="1"/>
<text x="395.7" y="480.9" font-size="7.3" font-weight="bold" fill="#fff" textLength="34.585164375" lengthAdjust="spacingAndGlyphs">Rank CDR3</text>
<text x="518.3000000000001" y="480.9" font-size="7.3" text-anchor="end" font-weight="bold" fill="#fff" textLength="33.574787343749996" lengthAdjust="spacingAndGlyphs">Clone size</text>
<rect x="393.6" y="484.2" width="126.0" height="8.280000000000001" fill="#dde6ef" stroke="none" stroke-width="1"/>
<text x="395.7" y="490.53000000000003" font-size="7.0" font-weight="bold" fill="#231f20">1</text>
<text x="407.8" y="490.53000000000003" font-size="7.0" fill="#231f20" stroke="#231f20" stroke-width="0.16" textLength="54.5" lengthAdjust="spacingAndGlyphs">CASTSGGVYGYTF</text>
<text x="501.8" y="490.53000000000003" font-size="7.0" text-anchor="middle" fill="#231f20" stroke="#231f20" stroke-width="0.16">2204</text>
<rect x="393.6" y="492.43" width="126.0" height="8.280000000000001" fill="#b9cbdc" stroke="none" stroke-width="1"/>
<text x="395.7" y="498.76000000000005" font-size="7.0" font-weight="bold" fill="#231f20">2</text>
<text x="407.8" y="498.76000000000005" font-size="7.0" fill="#231f20" stroke="#231f20" stroke-width="0.16" textLength="72.5" lengthAdjust="spacingAndGlyphs">CASSMGLAGGLGDTQYF</text>
<text x="501.8" y="498.76000000000005" font-size="7.0" text-anchor="middle" fill="#231f20" stroke="#231f20" stroke-width="0.16">133</text>
<rect x="393.6" y="500.65999999999997" width="126.0" height="8.280000000000001" fill="#dde6ef" stroke="none" stroke-width="1"/>
<text x="395.7" y="506.99" font-size="7.0" font-weight="bold" fill="#231f20">3</text>
<text x="407.8" y="506.99" font-size="7.0" fill="#231f20" stroke="#231f20" stroke-width="0.16" textLength="62.9" lengthAdjust="spacingAndGlyphs">CASSPRTSGGETQYF</text>
<text x="501.8" y="506.99" font-size="7.0" text-anchor="middle" fill="#231f20" stroke="#231f20" stroke-width="0.16">105</text>
<rect x="393.6" y="508.89" width="126.0" height="8.280000000000001" fill="#b9cbdc" stroke="none" stroke-width="1"/>
<text x="395.7" y="515.22" font-size="7.0" font-weight="bold" fill="#231f20">4</text>
<text x="407.8" y="515.22" font-size="7.0" fill="#231f20" stroke="#231f20" stroke-width="0.16" textLength="64.0" lengthAdjust="spacingAndGlyphs">CASSQDWGANEKLFF</text>
<text x="501.8" y="515.22" font-size="7.0" text-anchor="middle" fill="#231f20" stroke="#231f20" stroke-width="0.16">100</text>
<rect x="393.6" y="517.12" width="126.0" height="8.280000000000001" fill="#dde6ef" stroke="none" stroke-width="1"/>
<text x="395.7" y="523.45" font-size="7.0" font-weight="bold" fill="#231f20">5</text>
<text x="407.8" y="523.45" font-size="7.0" fill="#231f20" stroke="#231f20" stroke-width="0.16" textLength="66.3" lengthAdjust="spacingAndGlyphs">CASSPVDREPADTQYF</text>
<text x="501.8" y="523.45" font-size="7.0" text-anchor="middle" fill="#231f20" stroke="#231f20" stroke-width="0.16">39</text>
<rect x="393.6" y="525.35" width="126.0" height="8.280000000000001" fill="#b9cbdc" stroke="none" stroke-width="1"/>
<text x="395.7" y="531.6800000000001" font-size="7.0" font-weight="bold" fill="#231f20">6</text>
<text x="407.8" y="531.6800000000001" font-size="7.0" fill="#231f20" stroke="#231f20" stroke-width="0.16" textLength="55.4" lengthAdjust="spacingAndGlyphs">CATRQGGYNEQFF</text>
<text x="501.8" y="531.6800000000001" font-size="7.0" text-anchor="middle" fill="#231f20" stroke="#231f20" stroke-width="0.16">32</text>
<rect x="393.6" y="533.58" width="126.0" height="8.280000000000001" fill="#dde6ef" stroke="none" stroke-width="1"/>
<text x="395.7" y="539.9100000000001" font-size="7.0" font-weight="bold" fill="#231f20">7</text>
<text x="407.8" y="539.9100000000001" font-size="7.0" fill="#231f20" stroke="#231f20" stroke-width="0.16" textLength="62.3" lengthAdjust="spacingAndGlyphs">CASSRSGFSTDTQYF</text>
<text x="501.8" y="539.9100000000001" font-size="7.0" text-anchor="middle" fill="#231f20" stroke="#231f20" stroke-width="0.16">31</text>
<rect x="393.6" y="541.81" width="126.0" height="8.280000000000001" fill="#b9cbdc" stroke="none" stroke-width="1"/>
<text x="395.7" y="548.14" font-size="7.0" font-weight="bold" fill="#231f20">8</text>
<text x="407.8" y="548.14" font-size="7.0" fill="#231f20" stroke="#231f20" stroke-width="0.16" textLength="54.8" lengthAdjust="spacingAndGlyphs">CASSQDPGTQAFF</text>
<text x="501.8" y="548.14" font-size="7.0" text-anchor="middle" fill="#231f20" stroke="#231f20" stroke-width="0.16">29</text>
<rect x="393.6" y="550.04" width="126.0" height="8.280000000000001" fill="#dde6ef" stroke="none" stroke-width="1"/>
<text x="395.7" y="556.37" font-size="7.0" font-weight="bold" fill="#231f20">9</text>
<text x="407.8" y="556.37" font-size="7.0" fill="#231f20" stroke="#231f20" stroke-width="0.16" textLength="63.3" lengthAdjust="spacingAndGlyphs">CASSPRGQRNSPLHF</text>
<text x="501.8" y="556.37" font-size="7.0" text-anchor="middle" fill="#231f20" stroke="#231f20" stroke-width="0.16">23</text>
<rect x="393.6" y="558.27" width="126.0" height="8.280000000000001" fill="#b9cbdc" stroke="none" stroke-width="1"/>
<text x="395.7" y="564.6" font-size="7.0" font-weight="bold" fill="#231f20">10</text>
<text x="407.8" y="564.6" font-size="7.0" fill="#231f20" stroke="#231f20" stroke-width="0.16" textLength="70.5" lengthAdjust="spacingAndGlyphs">CASSSKLRDRASYEQYF</text>
<text x="501.8" y="564.6" font-size="7.0" text-anchor="middle" fill="#231f20" stroke="#231f20" stroke-width="0.16">23</text>
<line x1="60.2" y1="476" x2="123.7" y2="476" stroke="#231f20" stroke-width="1.6"/>
<line x1="63.4" y1="476" x2="63.4" y2="565.8" stroke="#231f20" stroke-width="1.1"/>
<text x="58.6" y="478.4" font-size="6.9" text-anchor="end" fill="#231f20" stroke="#231f20" stroke-width="0.16">0</text>
<line x1="61.199999999999996" y1="481.6" x2="63.4" y2="481.6" stroke="#231f20" stroke-width="0.9"/>
<text x="58.6" y="484.0" font-size="6.9" text-anchor="end" fill="#231f20" stroke="#231f20" stroke-width="0.16">10</text>
<line x1="61.199999999999996" y1="490" x2="63.4" y2="490" stroke="#231f20" stroke-width="0.9"/>
<text x="58.6" y="492.4" font-size="6.9" text-anchor="end" fill="#231f20" stroke="#231f20" stroke-width="0.16">100</text>
<line x1="61.199999999999996" y1="504.4" x2="63.4" y2="504.4" stroke="#231f20" stroke-width="0.9"/>
<text x="58.6" y="506.79999999999995" font-size="6.9" text-anchor="end" fill="#231f20" stroke="#231f20" stroke-width="0.16">200</text>
<line x1="61.199999999999996" y1="518.8" x2="63.4" y2="518.8" stroke="#231f20" stroke-width="0.9"/>
<text x="58.6" y="521.1999999999999" font-size="6.9" text-anchor="end" fill="#231f20" stroke="#231f20" stroke-width="0.16">300</text>
<line x1="61.199999999999996" y1="533.2" x2="63.4" y2="533.2" stroke="#231f20" stroke-width="0.9"/>
<text x="58.6" y="535.6" font-size="6.9" text-anchor="end" fill="#231f20" stroke="#231f20" stroke-width="0.16">400</text>
<line x1="61.199999999999996" y1="547.6" x2="63.4" y2="547.6" stroke="#231f20" stroke-width="0.9"/>
<text x="58.6" y="550.0" font-size="6.9" text-anchor="end" fill="#231f20" stroke="#231f20" stroke-width="0.16">500</text>
<line x1="61.199999999999996" y1="562" x2="63.4" y2="562" stroke="#231f20" stroke-width="0.9"/>
<text x="58.6" y="564.4" font-size="6.9" text-anchor="end" fill="#231f20" stroke="#231f20" stroke-width="0.16">600</text>
<text x="78.2" y="469.8" font-size="7.0" text-anchor="middle" fill="#231f20" stroke="#231f20" stroke-width="0.16" textLength="11.5" lengthAdjust="spacingAndGlyphs">Pre</text>
<text x="107.8" y="469.8" font-size="7.0" text-anchor="middle" fill="#231f20" stroke="#231f20" stroke-width="0.16" textLength="15.5" lengthAdjust="spacingAndGlyphs">Post</text>
<line x1="78.2" y1="474.2" x2="78.2" y2="477.5" stroke="#231f20" stroke-width="0.9"/>
<line x1="107.8" y1="474.2" x2="107.8" y2="477.5" stroke="#231f20" stroke-width="0.9"/>
<text x="40.5" y="523" font-size="8.4" text-anchor="middle" fill="#231f20" stroke="#231f20" stroke-width="0.1" textLength="45" lengthAdjust="spacingAndGlyphs" transform="rotate(-90 40.5 523)">Clone ranking #</text>
<line x1="78.2" y1="476.3" x2="107.8" y2="511.7" stroke="#231f20" stroke-width="0.8"/>
<circle cx="107.8" cy="511.7" r="1.1" fill="#111"/>
<line x1="78.2" y1="476.3" x2="107.8" y2="518.2" stroke="#231f20" stroke-width="0.8"/>
<circle cx="107.8" cy="518.2" r="1.1" fill="#111"/>
<line x1="78.2" y1="476.3" x2="107.8" y2="525.8" stroke="#231f20" stroke-width="0.8"/>
<circle cx="107.8" cy="525.8" r="1.1" fill="#111"/>
<line x1="78.2" y1="476.3" x2="107.8" y2="551.6" stroke="#231f20" stroke-width="0.8"/>
<circle cx="107.8" cy="551.6" r="1.1" fill="#111"/>
<line x1="78.2" y1="476.3" x2="107.8" y2="533" stroke="#3f6283" stroke-width="0.8"/>
<circle cx="107.8" cy="533" r="1.0" fill="#3f6283"/>
<line x1="78.2" y1="476.3" x2="107.8" y2="547.5" stroke="#7d9dbb" stroke-width="0.8"/>
<circle cx="107.8" cy="547.5" r="1.0" fill="#7d9dbb"/>
<line x1="78.2" y1="476.3" x2="107.8" y2="478.5" stroke="#a9c2d9" stroke-width="0.9"/>
<line x1="78.2" y1="476.3" x2="107.8" y2="481.6" stroke="#1b2f4a" stroke-width="0.9"/>
<line x1="78.2" y1="476.3" x2="107.8" y2="487.3" stroke="#cddbe8" stroke-width="0.9"/>
<line x1="78.2" y1="476.3" x2="107.8" y2="487.3" stroke="#1b2f4a" stroke-width="0.9"/>
<circle cx="107.8" cy="487.3" r="1.0" fill="#1b2f4a"/>
<text x="110.6" y="481.5" font-size="6.3" fill="#231f20" stroke="#231f20" stroke-width="0.16">#4</text>
<text x="110.6" y="486.4" font-size="6.3" fill="#231f20" stroke="#231f20" stroke-width="0.16">#1</text>
<text x="110.6" y="492.8" font-size="6.3" fill="#231f20" stroke="#231f20" stroke-width="0.16">#5</text>
<text x="110.6" y="535.8000000000001" font-size="6.3" fill="#231f20" stroke="#231f20" stroke-width="0.16">#2</text>
<text x="110.6" y="551.0" font-size="6.3" fill="#231f20" stroke="#231f20" stroke-width="0.16">#3</text>
<text x="67.2" y="534.8000000000001" font-size="6.3" fill="#231f20" stroke="#231f20" stroke-width="0.16">#1</text>
<line x1="77.5" y1="532.6" x2="85.6" y2="532.6" stroke="#1b2f4a" stroke-width="1.0"/>
<text x="67.2" y="541.5" font-size="6.3" fill="#231f20" stroke="#231f20" stroke-width="0.16">#2</text>
<line x1="77.5" y1="539.3" x2="85.6" y2="539.3" stroke="#3f6283" stroke-width="1.0"/>
<text x="67.2" y="547.9000000000001" font-size="6.3" fill="#231f20" stroke="#231f20" stroke-width="0.16">#3</text>
<line x1="77.5" y1="545.7" x2="85.6" y2="545.7" stroke="#7d9dbb" stroke-width="1.0"/>
<text x="67.2" y="554.6" font-size="6.3" fill="#231f20" stroke="#231f20" stroke-width="0.16">#4</text>
<line x1="77.5" y1="552.4" x2="85.6" y2="552.4" stroke="#a9c2d9" stroke-width="1.0"/>
<text x="67.2" y="561.2" font-size="6.3" fill="#231f20" stroke="#231f20" stroke-width="0.16">#5</text>
<line x1="77.5" y1="559" x2="85.6" y2="559" stroke="#cddbe8" stroke-width="1.0"/>
<line x1="315.2" y1="476" x2="377.6" y2="476" stroke="#231f20" stroke-width="1.6"/>
<line x1="317.9" y1="476" x2="317.9" y2="565.6" stroke="#231f20" stroke-width="1.1"/>
<text x="312.6" y="478.4" font-size="6.9" text-anchor="end" fill="#231f20" stroke="#231f20" stroke-width="0.16">0</text>
<line x1="315.7" y1="482" x2="317.9" y2="482" stroke="#231f20" stroke-width="0.9"/>
<text x="312.6" y="484.4" font-size="6.9" text-anchor="end" fill="#231f20" stroke="#231f20" stroke-width="0.16">10</text>
<line x1="315.7" y1="493.8" x2="317.9" y2="493.8" stroke="#231f20" stroke-width="0.9"/>
<text x="312.6" y="496.2" font-size="6.9" text-anchor="end" fill="#231f20" stroke="#231f20" stroke-width="0.16">50</text>
<line x1="315.7" y1="510.8" x2="317.9" y2="510.8" stroke="#231f20" stroke-width="0.9"/>
<text x="312.6" y="513.2" font-size="6.9" text-anchor="end" fill="#231f20" stroke="#231f20" stroke-width="0.16">100</text>
<line x1="315.7" y1="527.9" x2="317.9" y2="527.9" stroke="#231f20" stroke-width="0.9"/>
<text x="312.6" y="530.3" font-size="6.9" text-anchor="end" fill="#231f20" stroke="#231f20" stroke-width="0.16">150</text>
<line x1="315.7" y1="545" x2="317.9" y2="545" stroke="#231f20" stroke-width="0.9"/>
<text x="312.6" y="547.4" font-size="6.9" text-anchor="end" fill="#231f20" stroke="#231f20" stroke-width="0.16">200</text>
<line x1="315.7" y1="561.6" x2="317.9" y2="561.6" stroke="#231f20" stroke-width="0.9"/>
<text x="312.6" y="564.0" font-size="6.9" text-anchor="end" fill="#231f20" stroke="#231f20" stroke-width="0.16">250</text>
<text x="333.0" y="469.8" font-size="7.0" text-anchor="middle" fill="#231f20" stroke="#231f20" stroke-width="0.16" textLength="11.5" lengthAdjust="spacingAndGlyphs">Pre</text>
<text x="362.3" y="469.8" font-size="7.0" text-anchor="middle" fill="#231f20" stroke="#231f20" stroke-width="0.16" textLength="15.5" lengthAdjust="spacingAndGlyphs">Post</text>
<line x1="333.0" y1="474.2" x2="333.0" y2="477.5" stroke="#231f20" stroke-width="0.9"/>
<line x1="362.3" y1="474.2" x2="362.3" y2="477.5" stroke="#231f20" stroke-width="0.9"/>
<text x="294.6" y="523" font-size="8.4" text-anchor="middle" fill="#231f20" stroke="#231f20" stroke-width="0.1" textLength="45" lengthAdjust="spacingAndGlyphs" transform="rotate(-90 294.6 523)">Clone ranking #</text>
<line x1="319.6" y1="479.6" x2="377.6" y2="479.6" stroke="#555" stroke-width="0.6" stroke-dasharray="1.5,1"/>
<polygon points="362.3,478.4 333.2,531 333.2,548.7" fill="#7a7a7a"/>
<line x1="362.3" y1="478.4" x2="333.2" y2="531" stroke="#222" stroke-width="0.55"/>
<circle cx="333.2" cy="531" r="0.95" fill="#111"/>
<line x1="362.3" y1="478.4" x2="333.2" y2="533.3" stroke="#222" stroke-width="0.55"/>
<circle cx="333.2" cy="533.3" r="0.95" fill="#111"/>
<line x1="362.3" y1="478.4" x2="333.2" y2="535.6" stroke="#222" stroke-width="0.55"/>
<circle cx="333.2" cy="535.6" r="0.95" fill="#111"/>
<line x1="362.3" y1="478.4" x2="333.2" y2="537.9" stroke="#222" stroke-width="0.55"/>
<circle cx="333.2" cy="537.9" r="0.95" fill="#111"/>
<line x1="362.3" y1="478.4" x2="333.2" y2="540.2" stroke="#222" stroke-width="0.55"/>
<circle cx="333.2" cy="540.2" r="0.95" fill="#111"/>
<line x1="362.3" y1="478.4" x2="333.2" y2="542.5" stroke="#222" stroke-width="0.55"/>
<circle cx="333.2" cy="542.5" r="0.95" fill="#111"/>
<line x1="362.3" y1="478.4" x2="333.2" y2="544.8" stroke="#222" stroke-width="0.55"/>
<circle cx="333.2" cy="544.8" r="0.95" fill="#111"/>
<line x1="362.3" y1="478.4" x2="333.2" y2="547.1" stroke="#222" stroke-width="0.55"/>
<circle cx="333.2" cy="547.1" r="0.95" fill="#111"/>
<line x1="362.3" y1="478.4" x2="333.2" y2="548.7" stroke="#222" stroke-width="0.55"/>
<circle cx="333.2" cy="548.7" r="0.95" fill="#111"/>
<line x1="362.3" y1="478.4" x2="333.2" y2="518.5" stroke="#e7a0b0" stroke-width="0.8"/>
<line x1="362.3" y1="478.4" x2="333.2" y2="524.2" stroke="#d6456a" stroke-width="1.0"/>
<circle cx="333.2" cy="524.2" r="1.0" fill="#d6456a"/>
<line x1="333.2" y1="480.2" x2="362.3" y2="477.6" stroke="#d6456a" stroke-width="0.9"/>
<circle cx="333.2" cy="480.2" r="0.9" fill="#d6456a"/>
<circle cx="362.3" cy="477.5" r="1.2" fill="#d6456a"/>
<text x="330.8" y="483.8" font-size="6.6" text-anchor="end" fill="#231f20" stroke="#231f20" stroke-width="0.16">#4</text>
<text x="330.8" y="489.6" font-size="6.6" text-anchor="end" fill="#231f20" stroke="#231f20" stroke-width="0.16">#1</text>
<text x="330.8" y="520.8" font-size="6.6" text-anchor="end" fill="#231f20" stroke="#231f20" stroke-width="0.16">#3</text>
<text x="330.8" y="527.0" font-size="6.6" text-anchor="end" fill="#231f20" stroke="#231f20" stroke-width="0.16">#2</text>
<text x="330.8" y="532.8" font-size="6.6" text-anchor="end" fill="#231f20" stroke="#231f20" stroke-width="0.16">#5</text>
<text x="354.6" y="534.5999999999999" font-size="6.6" fill="#231f20" stroke="#231f20" stroke-width="0.16">#1</text>
<line x1="365" y1="532.3" x2="372.7" y2="532.3" stroke="#6a1a30" stroke-width="1.0"/>
<text x="354.6" y="541.5" font-size="6.6" fill="#231f20" stroke="#231f20" stroke-width="0.16">#2</text>
<line x1="365" y1="539.2" x2="372.7" y2="539.2" stroke="#d6456a" stroke-width="1.0"/>
<text x="354.6" y="548.5" font-size="6.6" fill="#231f20" stroke="#231f20" stroke-width="0.16">#3</text>
<line x1="365" y1="546.2" x2="372.7" y2="546.2" stroke="#9a9a9a" stroke-width="1.0"/>
<text x="354.6" y="555.3" font-size="6.6" fill="#231f20" stroke="#231f20" stroke-width="0.16">#4</text>
<line x1="365" y1="553" x2="372.7" y2="553" stroke="#eea5b5" stroke-width="1.0"/>
<text x="354.6" y="561.8" font-size="6.6" fill="#231f20" stroke="#231f20" stroke-width="0.16">#5</text>
<line x1="365" y1="559.5" x2="372.7" y2="559.5" stroke="#f5cfd7" stroke-width="1.0"/>
<text x="0.2" y="598.3" font-size="11.8" font-weight="bold" fill="#000" stroke="#000" stroke-width="0.35" textLength="8.8" lengthAdjust="spacingAndGlyphs">H</text>
<text x="106.2" y="598.2" font-size="9.4" fill="#231f20" stroke="#231f20" stroke-width="0.1" textLength="163" lengthAdjust="spacingAndGlyphs">Dominant clone vs. all the rest clones</text>
<text x="12.100000000000001" y="630.9" font-size="6.9" text-anchor="end" fill="#231f20" stroke="#231f20" stroke-width="0.16">0.4</text>
<text x="12.100000000000001" y="640.9" font-size="6.9" text-anchor="end" fill="#231f20" stroke="#231f20" stroke-width="0.16">0.3</text>
<text x="12.100000000000001" y="651.6999999999999" font-size="6.9" text-anchor="end" fill="#231f20" stroke="#231f20" stroke-width="0.16">0.2</text>
<text x="12.100000000000001" y="662.1" font-size="6.9" text-anchor="end" fill="#231f20" stroke="#231f20" stroke-width="0.16">0.1</text>
<text x="12.100000000000001" y="672.4" font-size="6.9" text-anchor="end" fill="#231f20" stroke="#231f20" stroke-width="0.16">0.0</text>
<line x1="14.3" y1="670" x2="114.7" y2="670" stroke="#d0d0d0" stroke-width="0.6"/>
<path d="M45.1,672.8V690.6" stroke="#111" stroke-width="0.5" opacity="0.8"/>
<path d="M52.0,672.8V690.6" stroke="#111" stroke-width="0.5" opacity="0.65"/>
<path d="M18.3,672.8V690.6" stroke="#111" stroke-width="0.5" opacity="0.35"/>
<path d="M21.4,672.8V690.6" stroke="#111" stroke-width="0.5" opacity="0.35"/>
<path d="M51.3,672.8V690.6" stroke="#111" stroke-width="0.5" opacity="0.35"/>
<path d="M58.8,672.8V690.6" stroke="#111" stroke-width="0.5" opacity="0.8"/>
<path d="M43.3,672.8V690.6" stroke="#111" stroke-width="0.5" opacity="0.65"/>
<path d="M40.9,672.8V690.6" stroke="#111" stroke-width="0.5" opacity="0.95"/>
<path d="M45.8,672.8V690.6" stroke="#111" stroke-width="0.5" opacity="0.65"/>
<path d="M31.5,672.8V690.6" stroke="#111" stroke-width="0.5" opacity="0.65"/>
<path d="M67.3,672.8V690.6" stroke="#111" stroke-width="0.5" opacity="0.95"/>
<path d="M72.3,672.8V690.6" stroke="#111" stroke-width="0.5" opacity="0.5"/>
<path d="M44.4,672.8V690.6" stroke="#111" stroke-width="0.5" opacity="0.65"/>
<path d="M17.5,672.8V690.6" stroke="#111" stroke-width="0.5" opacity="0.35"/>
<path d="M39.4,672.8V690.6" stroke="#111" stroke-width="0.5" opacity="0.65"/>
<path d="M63.1,672.8V690.6" stroke="#111" stroke-width="0.5" opacity="0.8"/>
<path d="M35.2,672.8V690.6" stroke="#111" stroke-width="0.5" opacity="0.8"/>
<path d="M22.5,672.8V690.6" stroke="#111" stroke-width="0.5" opacity="0.8"/>
<path d="M27.1,672.8V690.6" stroke="#111" stroke-width="0.5" opacity="0.65"/>
<path d="M57.8,672.8V690.6" stroke="#111" stroke-width="0.5" opacity="0.5"/>
<path d="M52.5,672.8V690.6" stroke="#111" stroke-width="0.5" opacity="0.35"/>
<path d="M33.0,672.8V690.6" stroke="#111" stroke-width="0.5" opacity="0.95"/>
<path d="M52.6,672.8V690.6" stroke="#111" stroke-width="0.5" opacity="0.5"/>
<path d="M60.6,672.8V690.6" stroke="#111" stroke-width="0.5" opacity="0.5"/>
<path d="M72.6,672.8V690.6" stroke="#111" stroke-width="0.5" opacity="0.65"/>
<path d="M64.7,672.8V690.6" stroke="#111" stroke-width="0.5" opacity="0.35"/>
<path d="M41.6,672.8V690.6" stroke="#111" stroke-width="0.5" opacity="0.5"/>
<path d="M63.5,672.8V690.6" stroke="#111" stroke-width="0.5" opacity="0.8"/>
<path d="M70.2,672.8V690.6" stroke="#111" stroke-width="0.5" opacity="0.95"/>
<path d="M66.9,672.8V690.6" stroke="#111" stroke-width="0.5" opacity="0.5"/>
<path d="M60.0,672.8V690.6" stroke="#111" stroke-width="0.5" opacity="0.5"/>
<path d="M50.5,672.8V690.6" stroke="#111" stroke-width="0.5" opacity="0.8"/>
<path d="M46.1,672.8V690.6" stroke="#111" stroke-width="0.5" opacity="0.95"/>
<path d="M65.8,672.8V690.6" stroke="#111" stroke-width="0.5" opacity="0.8"/>
<path d="M52.7,672.8V690.6" stroke="#111" stroke-width="0.5" opacity="0.8"/>
<path d="M58.3,672.8V690.6" stroke="#111" stroke-width="0.5" opacity="0.65"/>
<path d="M29.6,672.8V690.6" stroke="#111" stroke-width="0.5" opacity="0.5"/>
<path d="M21.7,672.8V690.6" stroke="#111" stroke-width="0.5" opacity="0.35"/>
<path d="M32.1,672.8V690.6" stroke="#111" stroke-width="0.5" opacity="0.35"/>
<path d="M50.3,672.8V690.6" stroke="#111" stroke-width="0.5" opacity="0.35"/>
<path d="M49.7,672.8V690.6" stroke="#111" stroke-width="0.5" opacity="0.35"/>
<path d="M27.9,672.8V690.6" stroke="#111" stroke-width="0.5" opacity="0.5"/>
<path d="M27.3,672.8V690.6" stroke="#111" stroke-width="0.5" opacity="0.65"/>
<path d="M71.6,672.8V690.6" stroke="#111" stroke-width="0.5" opacity="0.5"/>
<path d="M20.5,672.8V690.6" stroke="#111" stroke-width="0.5" opacity="0.65"/>
<path d="M70.3,672.8V690.6" stroke="#111" stroke-width="0.5" opacity="0.65"/>
<path d="M61.3,672.8V690.6" stroke="#111" stroke-width="0.5" opacity="0.5"/>
<path d="M49.7,672.8V690.6" stroke="#111" stroke-width="0.5" opacity="0.65"/>
<path d="M74.3,672.8V690.6" stroke="#111" stroke-width="0.5" opacity="0.95"/>
<path d="M55.9,672.8V690.6" stroke="#111" stroke-width="0.5" opacity="0.35"/>
<path d="M16.7,672.8V690.6" stroke="#111" stroke-width="0.5" opacity="0.8"/>
<path d="M71.0,672.8V690.6" stroke="#111" stroke-width="0.5" opacity="0.8"/>
<path d="M40.4,672.8V690.6" stroke="#111" stroke-width="0.5" opacity="0.95"/>
<path d="M69.7,672.8V690.6" stroke="#111" stroke-width="0.5" opacity="0.8"/>
<path d="M63.7,672.8V690.6" stroke="#111" stroke-width="0.5" opacity="0.95"/>
<path d="M78.7,672.8V690.6" stroke="#111" stroke-width="0.5" opacity="0.65"/>
<path d="M75.7,672.8V690.6" stroke="#111" stroke-width="0.5" opacity="0.65"/>
<path d="M75.2,672.8V690.6" stroke="#111" stroke-width="0.5" opacity="0.5"/>
<path d="M98.1,672.8V690.6" stroke="#111" stroke-width="0.5" opacity="0.35"/>
<path d="M98.4,672.8V690.6" stroke="#111" stroke-width="0.5" opacity="0.65"/>
<path d="M81.4,672.8V690.6" stroke="#111" stroke-width="0.5" opacity="0.5"/>
<path d="M77.9,672.8V690.6" stroke="#111" stroke-width="0.5" opacity="0.8"/>
<path d="M85.6,672.8V690.6" stroke="#111" stroke-width="0.5" opacity="0.35"/>
<line x1="14.3" y1="672.8" x2="114.7" y2="672.8" stroke="#bbb" stroke-width="0.5"/>
<rect x="14.3" y="690.6" width="95.60000000000001" height="5.600000000000023" fill="url(#gsea)" stroke="none" stroke-width="1"/>
<path d="M15.0,662.7 L15.4,661.7 L15.8,660.7 L16.2,660.0 L16.6,657.7 L17.0,657.0 L17.8,654.7 L18.5,652.7 L19.3,650.1 L20.0,645.9 L20.8,644.0 L21.4,643.7 L22.1,643.1 L22.7,642.2 L23.4,642.6 L24.0,641.0 L25.0,639.4 L25.9,637.6 L26.9,637.0 L27.8,634.7 L28.8,632.7 L29.7,630.6 L30.7,629.0 L31.6,627.8 L32.6,625.2 L33.5,624.6 L34.2,624.4 L34.9,624.3 L35.6,623.2 L36.3,623.7 L37.0,622.5 L37.7,623.2 L38.4,622.1 L39.0,622.1 L39.7,620.6 L40.4,621.2 L41.3,620.5 L42.2,622.8 L43.2,621.5 L44.1,621.6 L45.0,622.5 L45.6,623.2 L46.2,622.6 L46.8,621.1 L47.4,621.3 L48.0,621.5 L49.0,621.1 L50.0,621.3 L51.0,620.9 L52.0,622.2 L53.0,622.3 L54.0,622.2 L55.0,622.7 L56.0,622.6 L57.0,622.8 L58.0,624.0 L58.9,623.6 L59.7,626.0 L60.6,626.3 L61.4,626.5 L62.3,627.0 L63.8,627.2 L65.4,628.2 L66.9,629.2 L68.5,630.6 L70.0,632.0 L72.2,633.0 L74.3,635.5 L76.5,637.3 L78.6,639.3 L80.8,642.0 L82.6,644.1 L84.5,645.5 L86.3,647.3 L88.2,648.9 L90.0,651.0 L91.4,652.5 L92.8,654.4 L94.2,654.8 L95.6,655.7 L97.0,658.0 L98.4,659.0 L99.8,659.7 L101.2,661.6 L102.6,661.1 L104.0,663.0 L105.4,665.1 L106.7,664.6 L108.1,667.1 L109.4,668.2 L110.8,669.6 L111.2,669.5 L111.7,671.0 L112.1,670.9 L112.6,670.0 L113.0,671.0" stroke="#8ad45a" fill="none" stroke-width="1.0"/>
<rect x="14.3" y="620" width="100.4" height="76.20000000000005" fill="none" stroke="#231f20" stroke-width="1.1"/>
<text x="64.6" y="614.8" font-size="8.6" text-anchor="middle" fill="#231f20" stroke="#231f20" stroke-width="0.1" textLength="61.6" lengthAdjust="spacingAndGlyphs">G2M_checkpoint</text>
<text x="13.8" y="703.9" font-size="7.6" fill="#231f20" stroke="#231f20" stroke-width="0.1" textLength="29.43548875" lengthAdjust="spacingAndGlyphs">Expanded</text>
<text x="115.9" y="703.9" font-size="7.6" text-anchor="end" fill="#231f20" stroke="#231f20" stroke-width="0.1" textLength="42.87615999999999" lengthAdjust="spacingAndGlyphs">Non-expanded</text>
<text x="134.8" y="626.6999999999999" font-size="6.9" text-anchor="end" fill="#231f20" stroke="#231f20" stroke-width="0.16">0.1</text>
<text x="134.8" y="635.6999999999999" font-size="6.9" text-anchor="end" fill="#231f20" stroke="#231f20" stroke-width="0.16">0.0</text>
<text x="134.8" y="644.9" font-size="6.9" text-anchor="end" fill="#231f20" stroke="#231f20" stroke-width="0.16">−0.1</text>
<text x="134.8" y="654.9" font-size="6.9" text-anchor="end" fill="#231f20" stroke="#231f20" stroke-width="0.16">−0.2</text>
<text x="134.8" y="663.6999999999999" font-size="6.9" text-anchor="end" fill="#231f20" stroke="#231f20" stroke-width="0.16">−0.3</text>
<text x="134.8" y="673.1999999999999" font-size="6.9" text-anchor="end" fill="#231f20" stroke="#231f20" stroke-width="0.16">−0.4</text>
<line x1="137" y1="633.3" x2="235" y2="633.3" stroke="#d0d0d0" stroke-width="0.6"/>
<path d="M197.3,672.8V690.6" stroke="#111" stroke-width="0.5" opacity="0.5"/>
<path d="M192.6,672.8V690.6" stroke="#111" stroke-width="0.5" opacity="0.5"/>
<path d="M151.9,672.8V690.6" stroke="#111" stroke-width="0.5" opacity="0.8"/>
<path d="M169.0,672.8V690.6" stroke="#111" stroke-width="0.5" opacity="0.65"/>
<path d="M193.8,672.8V690.6" stroke="#111" stroke-width="0.5" opacity="0.65"/>
<path d="M155.3,672.8V690.6" stroke="#111" stroke-width="0.5" opacity="0.65"/>
<path d="M179.1,672.8V690.6" stroke="#111" stroke-width="0.5" opacity="0.65"/>
<path d="M197.0,672.8V690.6" stroke="#111" stroke-width="0.5" opacity="0.65"/>
<path d="M201.2,672.8V690.6" stroke="#111" stroke-width="0.5" opacity="0.65"/>
<path d="M162.3,672.8V690.6" stroke="#111" stroke-width="0.5" opacity="0.95"/>
<path d="M146.9,672.8V690.6" stroke="#111" stroke-width="0.5" opacity="0.35"/>
<path d="M141.0,672.8V690.6" stroke="#111" stroke-width="0.5" opacity="0.65"/>
<path d="M160.1,672.8V690.6" stroke="#111" stroke-width="0.5" opacity="0.5"/>
<path d="M175.4,672.8V690.6" stroke="#111" stroke-width="0.5" opacity="0.95"/>
<path d="M157.6,672.8V690.6" stroke="#111" stroke-width="0.5" opacity="0.35"/>
<path d="M193.9,672.8V690.6" stroke="#111" stroke-width="0.5" opacity="0.8"/>
<path d="M182.3,672.8V690.6" stroke="#111" stroke-width="0.5" opacity="0.95"/>
<path d="M180.4,672.8V690.6" stroke="#111" stroke-width="0.5" opacity="0.95"/>
<path d="M194.1,672.8V690.6" stroke="#111" stroke-width="0.5" opacity="0.65"/>
<path d="M160.8,672.8V690.6" stroke="#111" stroke-width="0.5" opacity="0.5"/>
<path d="M182.3,672.8V690.6" stroke="#111" stroke-width="0.5" opacity="0.5"/>
<path d="M162.3,672.8V690.6" stroke="#111" stroke-width="0.5" opacity="0.8"/>
<path d="M220.5,672.8V690.6" stroke="#111" stroke-width="0.5" opacity="0.5"/>
<path d="M217.4,672.8V690.6" stroke="#111" stroke-width="0.5" opacity="0.8"/>
<path d="M229.3,672.8V690.6" stroke="#111" stroke-width="0.5" opacity="0.5"/>
<path d="M231.3,672.8V690.6" stroke="#111" stroke-width="0.5" opacity="0.5"/>
<path d="M215.9,672.8V690.6" stroke="#111" stroke-width="0.5" opacity="0.65"/>
<path d="M228.0,672.8V690.6" stroke="#111" stroke-width="0.5" opacity="0.95"/>
<path d="M216.5,672.8V690.6" stroke="#111" stroke-width="0.5" opacity="0.5"/>
<path d="M222.8,672.8V690.6" stroke="#111" stroke-width="0.5" opacity="0.8"/>
<path d="M221.0,672.8V690.6" stroke="#111" stroke-width="0.5" opacity="0.95"/>
<path d="M231.3,672.8V690.6" stroke="#111" stroke-width="0.5" opacity="0.5"/>
<path d="M223.0,672.8V690.6" stroke="#111" stroke-width="0.5" opacity="0.8"/>
<path d="M224.4,672.8V690.6" stroke="#111" stroke-width="0.5" opacity="0.35"/>
<path d="M221.7,672.8V690.6" stroke="#111" stroke-width="0.5" opacity="0.35"/>
<path d="M219.9,672.8V690.6" stroke="#111" stroke-width="0.5" opacity="0.95"/>
<path d="M219.7,672.8V690.6" stroke="#111" stroke-width="0.5" opacity="0.95"/>
<path d="M216.5,672.8V690.6" stroke="#111" stroke-width="0.5" opacity="0.5"/>
<path d="M215.7,672.8V690.6" stroke="#111" stroke-width="0.5" opacity="0.5"/>
<path d="M225.1,672.8V690.6" stroke="#111" stroke-width="0.5" opacity="0.65"/>
<path d="M228.4,672.8V690.6" stroke="#111" stroke-width="0.5" opacity="0.95"/>
<path d="M227.2,672.8V690.6" stroke="#111" stroke-width="0.5" opacity="0.65"/>
<path d="M220.0,672.8V690.6" stroke="#111" stroke-width="0.5" opacity="0.95"/>
<path d="M232.8,672.8V690.6" stroke="#111" stroke-width="0.5" opacity="0.65"/>
<path d="M216.8,672.8V690.6" stroke="#111" stroke-width="0.5" opacity="0.8"/>
<path d="M223.0,672.8V690.6" stroke="#111" stroke-width="0.5" opacity="0.65"/>
<path d="M221.3,672.8V690.6" stroke="#111" stroke-width="0.5" opacity="0.5"/>
<path d="M218.6,672.8V690.6" stroke="#111" stroke-width="0.5" opacity="0.65"/>
<path d="M232.4,672.8V690.6" stroke="#111" stroke-width="0.5" opacity="0.5"/>
<path d="M228.0,672.8V690.6" stroke="#111" stroke-width="0.5" opacity="0.35"/>
<line x1="137" y1="672.8" x2="235" y2="672.8" stroke="#bbb" stroke-width="0.5"/>
<rect x="137" y="690.6" width="95.5" height="6.399999999999977" fill="url(#gsea)" stroke="none" stroke-width="1"/>
<path d="M138.3,633.8 L138.8,632.7 L139.4,631.4 L139.9,632.6 L140.5,631.1 L141.0,630.0 L141.6,631.2 L142.2,630.0 L142.8,631.3 L143.4,629.8 L144.0,631.0 L144.7,629.1 L145.4,629.0 L146.1,627.0 L146.8,626.3 L147.5,624.3 L148.4,624.8 L149.3,626.6 L150.2,625.6 L151.1,627.5 L152.0,628.0 L152.8,627.0 L153.6,626.7 L154.4,627.9 L155.2,626.6 L156.0,626.5 L156.8,627.9 L157.6,627.4 L158.4,629.1 L159.2,630.2 L160.0,630.0 L160.6,629.9 L161.2,628.6 L161.8,629.2 L162.4,629.4 L163.0,628.0 L163.7,628.8 L164.3,628.2 L165.0,628.3 L165.6,627.8 L166.3,628.8 L167.4,629.9 L168.6,629.1 L169.7,629.8 L170.9,629.9 L172.0,631.5 L174.6,632.5 L177.2,634.6 L179.8,636.5 L182.4,637.6 L185.0,640.0 L188.0,642.2 L191.0,645.4 L194.0,646.3 L197.0,648.8 L200.0,652.0 L202.4,654.0 L204.8,656.9 L207.2,658.9 L209.6,660.2 L212.0,662.0 L213.6,662.9 L215.2,666.4 L216.8,668.5 L218.4,670.1 L220.0,671.0 L220.8,670.9 L221.6,670.3 L222.4,670.6 L223.2,670.8 L224.0,670.0 L224.6,669.5 L225.2,666.8 L225.8,665.2 L226.4,663.2 L227.0,662.0 L227.6,660.1 L228.2,658.1 L228.8,655.5 L229.4,653.9 L230.0,652.0 L230.4,650.7 L230.8,647.0 L231.2,644.9 L231.6,642.8 L232.0,641.0 L232.3,640.3 L232.6,637.7 L232.9,637.4 L233.2,636.2 L233.5,633.8" stroke="#8ad45a" fill="none" stroke-width="1.0"/>
<rect x="137" y="620" width="98" height="77" fill="none" stroke="#231f20" stroke-width="1.1"/>
<text x="187.5" y="614.8" font-size="8.6" text-anchor="middle" fill="#231f20" stroke="#231f20" stroke-width="0.1" textLength="82.5" lengthAdjust="spacingAndGlyphs">TNFA_signaling_NFKB</text>
<text x="136.5" y="703.9" font-size="7.6" fill="#231f20" stroke="#231f20" stroke-width="0.1" textLength="29.43548875" lengthAdjust="spacingAndGlyphs">Expanded</text>
<text x="236.2" y="703.9" font-size="7.6" text-anchor="end" fill="#231f20" stroke="#231f20" stroke-width="0.1" textLength="42.87615999999999" lengthAdjust="spacingAndGlyphs">Non-expanded</text>
<text x="187.5" y="627" font-size="7.3" fill="#231f20" stroke="#231f20" stroke-width="0.16" textLength="36.78442625" lengthAdjust="spacingAndGlyphs">NES = −2.01</text>
<text x="187.5" y="635.3" font-size="7.3" font-style="italic" fill="#231f20" stroke="#231f20" stroke-width="0.16" textLength="4.4" lengthAdjust="spacingAndGlyphs">P</text>
<text x="192.1" y="635.3" font-size="7.3" fill="#231f20" stroke="#231f20" stroke-width="0.16" textLength="23.395405000000004" lengthAdjust="spacingAndGlyphs"> &lt; 0.001</text>
<text x="187.5" y="643.3" font-size="7.3" fill="#231f20" stroke="#231f20" stroke-width="0.16" textLength="40.170075000000004" lengthAdjust="spacingAndGlyphs">FDRq = 0.007</text>
<text x="255.3" y="628.1999999999999" font-size="6.9" text-anchor="end" fill="#231f20" stroke="#231f20" stroke-width="0.16">0.2</text>
<text x="255.3" y="636.9" font-size="6.9" text-anchor="end" fill="#231f20" stroke="#231f20" stroke-width="0.16">0.1</text>
<text x="255.3" y="646.1999999999999" font-size="6.9" text-anchor="end" fill="#231f20" stroke="#231f20" stroke-width="0.16">0.0</text>
<text x="255.3" y="654.9" font-size="6.9" text-anchor="end" fill="#231f20" stroke="#231f20" stroke-width="0.16">−0.1</text>
<text x="255.3" y="663.1999999999999" font-size="6.9" text-anchor="end" fill="#231f20" stroke="#231f20" stroke-width="0.16">−0.2</text>
<text x="255.3" y="671.9" font-size="6.9" text-anchor="end" fill="#231f20" stroke="#231f20" stroke-width="0.16">−0.3</text>
<line x1="257.5" y1="643.8" x2="357.5" y2="643.8" stroke="#d0d0d0" stroke-width="0.6"/>
<path d="M281.2,672.8V690.6" stroke="#111" stroke-width="0.5" opacity="0.8"/>
<path d="M281.9,672.8V690.6" stroke="#111" stroke-width="0.5" opacity="0.95"/>
<path d="M275.8,672.8V690.6" stroke="#111" stroke-width="0.5" opacity="0.65"/>
<path d="M263.8,672.8V690.6" stroke="#111" stroke-width="0.5" opacity="0.8"/>
<path d="M289.7,672.8V690.6" stroke="#111" stroke-width="0.5" opacity="0.95"/>
<path d="M272.7,672.8V690.6" stroke="#111" stroke-width="0.5" opacity="0.5"/>
<path d="M270.6,672.8V690.6" stroke="#111" stroke-width="0.5" opacity="0.95"/>
<path d="M290.5,672.8V690.6" stroke="#111" stroke-width="0.5" opacity="0.8"/>
<path d="M296.2,672.8V690.6" stroke="#111" stroke-width="0.5" opacity="0.65"/>
<path d="M283.9,672.8V690.6" stroke="#111" stroke-width="0.5" opacity="0.35"/>
<path d="M277.9,672.8V690.6" stroke="#111" stroke-width="0.5" opacity="0.35"/>
<path d="M292.3,672.8V690.6" stroke="#111" stroke-width="0.5" opacity="0.8"/>
<path d="M278.6,672.8V690.6" stroke="#111" stroke-width="0.5" opacity="0.95"/>
<path d="M271.3,672.8V690.6" stroke="#111" stroke-width="0.5" opacity="0.5"/>
<path d="M293.3,672.8V690.6" stroke="#111" stroke-width="0.5" opacity="0.65"/>
<path d="M289.7,672.8V690.6" stroke="#111" stroke-width="0.5" opacity="0.35"/>
<path d="M268.0,672.8V690.6" stroke="#111" stroke-width="0.5" opacity="0.65"/>
<path d="M301.5,672.8V690.6" stroke="#111" stroke-width="0.5" opacity="0.5"/>
<path d="M285.1,672.8V690.6" stroke="#111" stroke-width="0.5" opacity="0.5"/>
<path d="M296.2,672.8V690.6" stroke="#111" stroke-width="0.5" opacity="0.8"/>
<path d="M282.2,672.8V690.6" stroke="#111" stroke-width="0.5" opacity="0.95"/>
<path d="M278.0,672.8V690.6" stroke="#111" stroke-width="0.5" opacity="0.65"/>
<path d="M307.1,672.8V690.6" stroke="#111" stroke-width="0.5" opacity="0.35"/>
<path d="M313.6,672.8V690.6" stroke="#111" stroke-width="0.5" opacity="0.95"/>
<path d="M304.0,672.8V690.6" stroke="#111" stroke-width="0.5" opacity="0.35"/>
<path d="M324.1,672.8V690.6" stroke="#111" stroke-width="0.5" opacity="0.8"/>
<path d="M307.8,672.8V690.6" stroke="#111" stroke-width="0.5" opacity="0.65"/>
<path d="M318.5,672.8V690.6" stroke="#111" stroke-width="0.5" opacity="0.65"/>
<path d="M312.7,672.8V690.6" stroke="#111" stroke-width="0.5" opacity="0.5"/>
<path d="M312.2,672.8V690.6" stroke="#111" stroke-width="0.5" opacity="0.65"/>
<path d="M340.6,672.8V690.6" stroke="#111" stroke-width="0.5" opacity="0.95"/>
<path d="M340.8,672.8V690.6" stroke="#111" stroke-width="0.5" opacity="0.65"/>
<path d="M341.7,672.8V690.6" stroke="#111" stroke-width="0.5" opacity="0.5"/>
<path d="M348.6,672.8V690.6" stroke="#111" stroke-width="0.5" opacity="0.8"/>
<path d="M350.9,672.8V690.6" stroke="#111" stroke-width="0.5" opacity="0.8"/>
<path d="M348.3,672.8V690.6" stroke="#111" stroke-width="0.5" opacity="0.5"/>
<path d="M350.9,672.8V690.6" stroke="#111" stroke-width="0.5" opacity="0.35"/>
<path d="M345.6,672.8V690.6" stroke="#111" stroke-width="0.5" opacity="0.8"/>
<path d="M342.2,672.8V690.6" stroke="#111" stroke-width="0.5" opacity="0.35"/>
<path d="M344.3,672.8V690.6" stroke="#111" stroke-width="0.5" opacity="0.65"/>
<path d="M339.3,672.8V690.6" stroke="#111" stroke-width="0.5" opacity="0.5"/>
<path d="M344.5,672.8V690.6" stroke="#111" stroke-width="0.5" opacity="0.65"/>
<path d="M344.3,672.8V690.6" stroke="#111" stroke-width="0.5" opacity="0.35"/>
<path d="M348.4,672.8V690.6" stroke="#111" stroke-width="0.5" opacity="0.8"/>
<path d="M344.7,672.8V690.6" stroke="#111" stroke-width="0.5" opacity="0.35"/>
<path d="M350.0,672.8V690.6" stroke="#111" stroke-width="0.5" opacity="0.35"/>
<path d="M344.3,672.8V690.6" stroke="#111" stroke-width="0.5" opacity="0.5"/>
<path d="M344.1,672.8V690.6" stroke="#111" stroke-width="0.5" opacity="0.95"/>
<path d="M340.2,672.8V690.6" stroke="#111" stroke-width="0.5" opacity="0.35"/>
<path d="M348.4,672.8V690.6" stroke="#111" stroke-width="0.5" opacity="0.5"/>
<path d="M340.5,672.8V690.6" stroke="#111" stroke-width="0.5" opacity="0.35"/>
<path d="M349.6,672.8V690.6" stroke="#111" stroke-width="0.5" opacity="0.35"/>
<path d="M349.4,672.8V690.6" stroke="#111" stroke-width="0.5" opacity="0.8"/>
<path d="M349.0,672.8V690.6" stroke="#111" stroke-width="0.5" opacity="0.35"/>
<path d="M352.0,672.8V690.6" stroke="#111" stroke-width="0.5" opacity="0.65"/>
<path d="M335.8,672.8V690.6" stroke="#111" stroke-width="0.5" opacity="0.5"/>
<line x1="257.5" y1="672.8" x2="357.5" y2="672.8" stroke="#bbb" stroke-width="0.5"/>
<rect x="257.5" y="690.6" width="95.0" height="5.699999999999932" fill="url(#gsea)" stroke="none" stroke-width="1"/>
<path d="M258.8,633.8 L259.3,633.7 L259.8,634.3 L260.3,635.0 L260.8,636.0 L261.3,637.5 L262.0,634.0 L262.8,632.4 L263.5,629.4 L264.3,625.7 L265.0,623.8 L266.0,624.0 L267.0,623.6 L268.0,623.5 L269.0,625.4 L270.0,625.0 L270.6,625.4 L271.2,624.3 L271.8,623.8 L272.4,623.1 L273.0,622.8 L273.9,622.0 L274.8,623.3 L275.7,622.3 L276.6,623.5 L277.5,623.8 L278.6,623.1 L279.7,623.6 L280.8,623.7 L281.9,624.0 L283.0,625.0 L284.4,626.3 L285.8,627.6 L287.2,626.9 L288.6,628.8 L290.0,628.8 L292.5,630.6 L295.0,631.3 L297.5,632.8 L300.0,633.0 L302.5,635.0 L305.0,637.2 L307.5,638.3 L310.0,640.6 L312.5,643.9 L315.0,645.0 L317.5,647.6 L320.0,650.0 L322.5,650.2 L325.0,652.1 L327.5,655.0 L329.2,656.2 L330.9,658.4 L332.6,660.3 L334.3,661.3 L336.0,664.0 L337.1,665.4 L338.1,665.9 L339.2,667.2 L340.2,668.8 L341.3,670.0 L342.0,668.8 L342.8,670.3 L343.5,668.6 L344.3,668.7 L345.0,669.0 L345.6,668.0 L346.2,664.9 L346.8,663.4 L347.4,662.3 L348.0,661.0 L348.9,658.5 L349.8,657.7 L350.7,654.9 L351.6,655.2 L352.5,652.5 L352.8,651.4 L353.1,650.0 L353.4,647.0 L353.7,646.6 L354.0,645.0 L354.2,644.2 L354.4,645.0 L354.6,643.5 L354.8,643.1 L355.0,643.0" stroke="#8ad45a" fill="none" stroke-width="1.0"/>
<rect x="257.5" y="620" width="100.0" height="76.29999999999995" fill="none" stroke="#231f20" stroke-width="1.1"/>
<text x="308.1" y="614.8" font-size="8.6" text-anchor="middle" fill="#231f20" stroke="#231f20" stroke-width="0.1" textLength="83.8" lengthAdjust="spacingAndGlyphs">Inflammatory_response</text>
<text x="257.0" y="703.9" font-size="7.6" fill="#231f20" stroke="#231f20" stroke-width="0.1" textLength="29.43548875" lengthAdjust="spacingAndGlyphs">Expanded</text>
<text x="358.7" y="703.9" font-size="7.6" text-anchor="end" fill="#231f20" stroke="#231f20" stroke-width="0.1" textLength="42.87615999999999" lengthAdjust="spacingAndGlyphs">Non-expanded</text>
<text x="311.3" y="627" font-size="7.3" fill="#231f20" stroke="#231f20" stroke-width="0.16" textLength="36.78442625" lengthAdjust="spacingAndGlyphs">NES = −1.43</text>
<text x="311.3" y="635.3" font-size="7.3" font-style="italic" fill="#231f20" stroke="#231f20" stroke-width="0.16" textLength="4.4" lengthAdjust="spacingAndGlyphs">P</text>
<text x="315.90000000000003" y="635.3" font-size="7.3" fill="#231f20" stroke="#231f20" stroke-width="0.16" textLength="23.395405000000004" lengthAdjust="spacingAndGlyphs"> = 0.058</text>
<text x="311.3" y="643.3" font-size="7.3" fill="#231f20" stroke="#231f20" stroke-width="0.16" textLength="40.170075000000004" lengthAdjust="spacingAndGlyphs">FDRq = 0.079</text>
<text x="364.6" y="597.6" font-size="11.8" font-weight="bold" fill="#000" stroke="#000" stroke-width="0.35" textLength="2.6" lengthAdjust="spacingAndGlyphs">I</text>
<rect x="381.4" y="598.3" width="136.2" height="12" fill="#c8163c" stroke="none" stroke-width="1"/>
<text x="449.5" y="607.4" font-size="8.6" text-anchor="middle" font-style="italic" fill="#fff" textLength="111" lengthAdjust="spacingAndGlyphs">Upregulated_expanded clone</text>
<line x1="467.8" y1="616.8" x2="467.8" y2="693.2" stroke="#231f20" stroke-width="1.0"/>
<line x1="467.3" y1="692.8" x2="515.8" y2="692.8" stroke="#231f20" stroke-width="1.0"/>
<rect x="468.5" y="618.4000000000001" width="34.5" height="6.6" fill="#c8163c" stroke="none" stroke-width="1"/>
<line x1="465" y1="621.7" x2="467.8" y2="621.7" stroke="#231f20" stroke-width="0.9"/>
<text x="461.9" y="624.0" font-size="6.6" text-anchor="end" fill="#231f20" stroke="#231f20" stroke-width="0.16" textLength="32.8" lengthAdjust="spacingAndGlyphs">Cell activation</text>
<rect x="468.5" y="629.4000000000001" width="25.30000000000001" height="6.6" fill="#c8163c" stroke="none" stroke-width="1"/>
<line x1="465" y1="632.7" x2="467.8" y2="632.7" stroke="#231f20" stroke-width="0.9"/>
<text x="461.9" y="635.0" font-size="6.6" text-anchor="end" fill="#231f20" stroke="#231f20" stroke-width="0.16" textLength="37.3" lengthAdjust="spacingAndGlyphs">Immune system</text>
<rect x="468.5" y="640.0" width="25.30000000000001" height="6.6" fill="#c8163c" stroke="none" stroke-width="1"/>
<line x1="465" y1="643.3" x2="467.8" y2="643.3" stroke="#231f20" stroke-width="0.9"/>
<text x="461.9" y="645.5999999999999" font-size="6.6" text-anchor="end" fill="#231f20" stroke="#231f20" stroke-width="0.16" textLength="86.5" lengthAdjust="spacingAndGlyphs">Cytokine signaling in immune system</text>
<rect x="468.5" y="651.0" width="22.899999999999977" height="6.6" fill="#c8163c" stroke="none" stroke-width="1"/>
<line x1="465" y1="654.3" x2="467.8" y2="654.3" stroke="#231f20" stroke-width="0.9"/>
<text x="461.9" y="656.5999999999999" font-size="6.6" text-anchor="end" fill="#231f20" stroke="#231f20" stroke-width="0.16" textLength="40.9" lengthAdjust="spacingAndGlyphs">Cell cycle, mitotic</text>
<rect x="468.5" y="661.5" width="22.30000000000001" height="6.6" fill="#c8163c" stroke="none" stroke-width="1"/>
<line x1="465" y1="664.8" x2="467.8" y2="664.8" stroke="#231f20" stroke-width="0.9"/>
<text x="461.9" y="667.0999999999999" font-size="6.6" text-anchor="end" fill="#231f20" stroke="#231f20" stroke-width="0.16" textLength="20.9" lengthAdjust="spacingAndGlyphs">Cell cycle</text>
<rect x="468.5" y="672.8000000000001" width="18.69999999999999" height="6.6" fill="#c8163c" stroke="none" stroke-width="1"/>
<line x1="465" y1="676.1" x2="467.8" y2="676.1" stroke="#231f20" stroke-width="0.9"/>
<text x="461.9" y="678.4" font-size="6.6" text-anchor="end" fill="#231f20" stroke="#231f20" stroke-width="0.16" textLength="70.7" lengthAdjust="spacingAndGlyphs">G1/S DNA damage checkpoints</text>
<rect x="468.5" y="683.3000000000001" width="18.69999999999999" height="6.6" fill="#c8163c" stroke="none" stroke-width="1"/>
<line x1="465" y1="686.6" x2="467.8" y2="686.6" stroke="#231f20" stroke-width="0.9"/>
<text x="461.9" y="688.9" font-size="6.6" text-anchor="end" fill="#231f20" stroke="#231f20" stroke-width="0.16" textLength="83.5" lengthAdjust="spacingAndGlyphs">Antigen processing and presentation</text>
<line x1="467.8" y1="692.8" x2="467.8" y2="695.2" stroke="#231f20" stroke-width="0.9"/>
<text x="467.8" y="704.7" font-size="6.3" text-anchor="middle" fill="#231f20" stroke="#231f20" stroke-width="0.16">0</text>
<line x1="476.2" y1="692.8" x2="476.2" y2="695.2" stroke="#231f20" stroke-width="0.9"/>
<text x="476.2" y="704.7" font-size="6.3" text-anchor="middle" fill="#231f20" stroke="#231f20" stroke-width="0.16">5</text>
<line x1="485" y1="692.8" x2="485" y2="695.2" stroke="#231f20" stroke-width="0.9"/>
<text x="485" y="704.7" font-size="6.3" text-anchor="middle" fill="#231f20" stroke="#231f20" stroke-width="0.16">10</text>
<line x1="494.7" y1="692.8" x2="494.7" y2="695.2" stroke="#231f20" stroke-width="0.9"/>
<text x="494.7" y="704.7" font-size="6.3" text-anchor="middle" fill="#231f20" stroke="#231f20" stroke-width="0.16">15</text>
<line x1="503.6" y1="692.8" x2="503.6" y2="695.2" stroke="#231f20" stroke-width="0.9"/>
<text x="503.6" y="704.7" font-size="6.3" text-anchor="middle" fill="#231f20" stroke="#231f20" stroke-width="0.16">20</text>
<line x1="512" y1="692.8" x2="512" y2="695.2" stroke="#231f20" stroke-width="0.9"/>
<text x="512" y="704.7" font-size="6.3" text-anchor="middle" fill="#231f20" stroke="#231f20" stroke-width="0.16">25</text>
<text x="467.8" y="715.4" font-size="8.4" fill="#231f20" stroke="#231f20" stroke-width="0.1" textLength="26.5" lengthAdjust="spacingAndGlyphs">−Log10 (</text>
<text x="494.6" y="715.4" font-size="8.4" font-style="italic" fill="#231f20" stroke="#231f20" stroke-width="0.1" textLength="5.2" lengthAdjust="spacingAndGlyphs">P</text>
<text x="499.8" y="715.4" font-size="8.4" fill="#231f20" stroke="#231f20" stroke-width="0.1" textLength="18.3" lengthAdjust="spacingAndGlyphs">-value)</text>
</svg>
</body></html>
